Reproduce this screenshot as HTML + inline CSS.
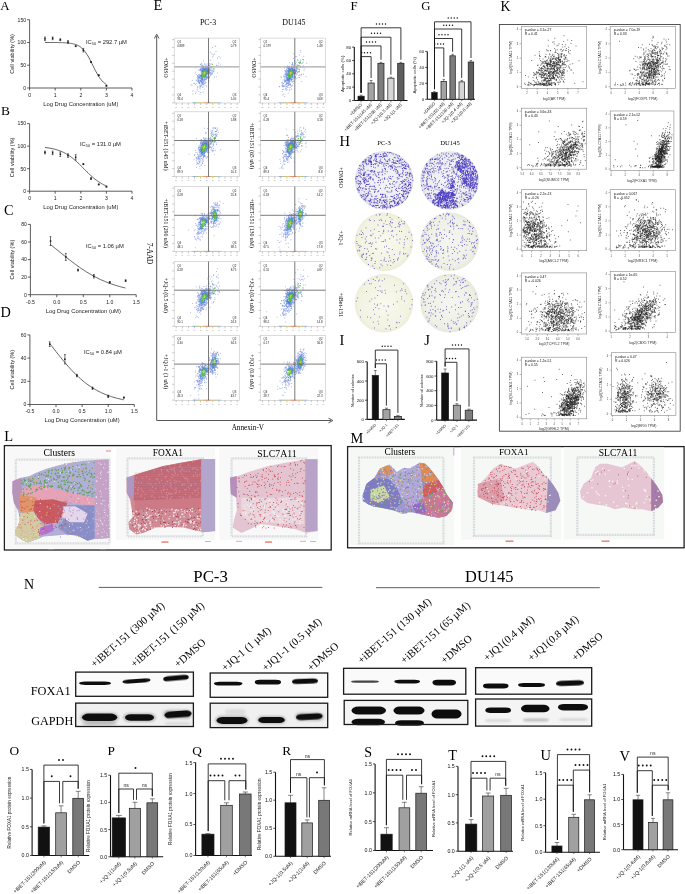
<!DOCTYPE html>
<html><head><meta charset="utf-8"><title>Figure</title>
<style>html,body{margin:0;padding:0;background:#fff;overflow:hidden;width:685px;height:894px}svg{display:block;will-change:transform}</style>
</head><body>
<svg width="685" height="894" viewBox="0 0 685 894"><text x="0.2" y="9.8" font-family='"Liberation Serif", serif' font-size="12.9" fill="#000">A</text>
<line x1="29.6" y1="19.7" x2="29.6" y2="88" stroke="#333" stroke-width="0.8"/>
<line x1="29.6" y1="88" x2="132" y2="88" stroke="#333" stroke-width="0.8"/>
<line x1="27.1" y1="88" x2="29.6" y2="88" stroke="#333" stroke-width="0.8"/>
<text x="26.1" y="89.8" font-family='"Liberation Sans", sans-serif' font-size="5.1" text-anchor="end" fill="#1a1a1a">0</text>
<line x1="27.1" y1="65.2" x2="29.6" y2="65.2" stroke="#333" stroke-width="0.8"/>
<text x="26.1" y="67" font-family='"Liberation Sans", sans-serif' font-size="5.1" text-anchor="end" fill="#1a1a1a">50</text>
<line x1="27.1" y1="42.5" x2="29.6" y2="42.5" stroke="#333" stroke-width="0.8"/>
<text x="26.1" y="44.3" font-family='"Liberation Sans", sans-serif' font-size="5.1" text-anchor="end" fill="#1a1a1a">100</text>
<line x1="27.1" y1="19.7" x2="29.6" y2="19.7" stroke="#333" stroke-width="0.8"/>
<text x="26.1" y="21.5" font-family='"Liberation Sans", sans-serif' font-size="5.1" text-anchor="end" fill="#1a1a1a">150</text>
<line x1="29.6" y1="88" x2="29.6" y2="90.5" stroke="#333" stroke-width="0.8"/>
<text x="29.6" y="96.8" font-family='"Liberation Sans", sans-serif' font-size="5.1" text-anchor="middle" fill="#1a1a1a">0</text>
<line x1="55.2" y1="88" x2="55.2" y2="90.5" stroke="#333" stroke-width="0.8"/>
<text x="55.2" y="96.8" font-family='"Liberation Sans", sans-serif' font-size="5.1" text-anchor="middle" fill="#1a1a1a">1</text>
<line x1="80.8" y1="88" x2="80.8" y2="90.5" stroke="#333" stroke-width="0.8"/>
<text x="80.8" y="96.8" font-family='"Liberation Sans", sans-serif' font-size="5.1" text-anchor="middle" fill="#1a1a1a">2</text>
<line x1="106.4" y1="88" x2="106.4" y2="90.5" stroke="#333" stroke-width="0.8"/>
<text x="106.4" y="96.8" font-family='"Liberation Sans", sans-serif' font-size="5.1" text-anchor="middle" fill="#1a1a1a">3</text>
<line x1="132" y1="88" x2="132" y2="90.5" stroke="#333" stroke-width="0.8"/>
<text x="132" y="96.8" font-family='"Liberation Sans", sans-serif' font-size="5.1" text-anchor="middle" fill="#1a1a1a">4</text>
<text x="80.8" y="105.8" font-family='"Liberation Sans", sans-serif' font-size="5.8" text-anchor="middle" fill="#222">Log Drug Concentration (uM)</text>
<text x="13.6" y="53.9" font-family='"Liberation Sans", sans-serif' font-size="5.6" text-anchor="middle" fill="#222" transform="rotate(-90 13.6 53.9)">Cell viability (%)</text>
<polyline points="45,42.5 46,42.5 47,42.5 48,42.5 49.1,42.5 50.1,42.5 51.1,42.5 52.1,42.5 53.2,42.5 54.2,42.5 55.2,42.5 56.2,42.5 57.2,42.5 58.3,42.6 59.3,42.6 60.3,42.6 61.3,42.6 62.4,42.7 63.4,42.7 64.4,42.7 65.4,42.8 66.5,42.9 67.5,42.9 68.5,43 69.5,43.2 70.6,43.3 71.6,43.5 72.6,43.7 73.6,43.9 74.7,44.2 75.7,44.5 76.7,44.9 77.7,45.3 78.8,45.9 79.8,46.5 80.8,47.2 81.8,48.1 82.8,49.1 83.9,50.2 84.9,51.4 85.9,52.8 86.9,54.4 88,56 89,57.9 90,59.8 91,61.8 92.1,63.9 93.1,66 94.1,68 95.1,70.1 96.2,72 97.2,73.9 98.2,75.6 99.2,77.2 100.3,78.7 101.3,79.9 102.3,81.1 103.3,82.1 104.4,83 105.4,83.8 106.4,84.4" fill="none" stroke="#222" stroke-width="0.7"/>
<rect x="44.2" y="38.1" width="1.5" height="1.5" fill="#111"/>
<line x1="45" y1="40.6" x2="45" y2="37" stroke="#222" stroke-width="0.65"/>
<line x1="44.1" y1="37" x2="45.9" y2="37" stroke="#222" stroke-width="0.65"/>
<line x1="44.1" y1="40.6" x2="45.9" y2="40.6" stroke="#222" stroke-width="0.65"/>
<rect x="51.9" y="37.6" width="1.5" height="1.5" fill="#111"/>
<line x1="52.6" y1="39.7" x2="52.6" y2="37" stroke="#222" stroke-width="0.65"/>
<line x1="51.7" y1="37" x2="53.5" y2="37" stroke="#222" stroke-width="0.65"/>
<line x1="51.7" y1="39.7" x2="53.5" y2="39.7" stroke="#222" stroke-width="0.65"/>
<rect x="59.6" y="39" width="1.5" height="1.5" fill="#111"/>
<line x1="60.3" y1="40.6" x2="60.3" y2="38.8" stroke="#222" stroke-width="0.65"/>
<line x1="59.4" y1="38.8" x2="61.2" y2="38.8" stroke="#222" stroke-width="0.65"/>
<line x1="59.4" y1="40.6" x2="61.2" y2="40.6" stroke="#222" stroke-width="0.65"/>
<rect x="67.2" y="41.3" width="1.5" height="1.5" fill="#111"/>
<line x1="68" y1="43.4" x2="68" y2="40.6" stroke="#222" stroke-width="0.65"/>
<line x1="67.1" y1="40.6" x2="68.9" y2="40.6" stroke="#222" stroke-width="0.65"/>
<line x1="67.1" y1="43.4" x2="68.9" y2="43.4" stroke="#222" stroke-width="0.65"/>
<rect x="74.9" y="45.4" width="1.5" height="1.5" fill="#111"/>
<line x1="75.7" y1="46.6" x2="75.7" y2="45.7" stroke="#222" stroke-width="0.65"/>
<line x1="74.8" y1="45.7" x2="76.6" y2="45.7" stroke="#222" stroke-width="0.65"/>
<line x1="74.8" y1="46.6" x2="76.6" y2="46.6" stroke="#222" stroke-width="0.65"/>
<rect x="82.6" y="49.5" width="1.5" height="1.5" fill="#111"/>
<line x1="83.4" y1="52" x2="83.4" y2="48.4" stroke="#222" stroke-width="0.65"/>
<line x1="82.5" y1="48.4" x2="84.3" y2="48.4" stroke="#222" stroke-width="0.65"/>
<line x1="82.5" y1="52" x2="84.3" y2="52" stroke="#222" stroke-width="0.65"/>
<rect x="90.3" y="61.3" width="1.5" height="1.5" fill="#111"/>
<line x1="91" y1="62.5" x2="91" y2="61.6" stroke="#222" stroke-width="0.65"/>
<line x1="90.1" y1="61.6" x2="91.9" y2="61.6" stroke="#222" stroke-width="0.65"/>
<line x1="90.1" y1="62.5" x2="91.9" y2="62.5" stroke="#222" stroke-width="0.65"/>
<rect x="98" y="74.5" width="1.5" height="1.5" fill="#111"/>
<line x1="98.7" y1="75.7" x2="98.7" y2="74.8" stroke="#222" stroke-width="0.65"/>
<line x1="97.8" y1="74.8" x2="99.6" y2="74.8" stroke="#222" stroke-width="0.65"/>
<line x1="97.8" y1="75.7" x2="99.6" y2="75.7" stroke="#222" stroke-width="0.65"/>
<rect x="105.7" y="85" width="1.5" height="1.5" fill="#111"/>
<line x1="106.4" y1="86.2" x2="106.4" y2="85.3" stroke="#222" stroke-width="0.65"/>
<line x1="105.5" y1="85.3" x2="107.3" y2="85.3" stroke="#222" stroke-width="0.65"/>
<line x1="105.5" y1="86.2" x2="107.3" y2="86.2" stroke="#222" stroke-width="0.65"/>
<text x="86" y="43.5" font-family='"Liberation Sans", sans-serif' font-size="5.8" fill="#222">IC<tspan font-size="3.8" dy="1.3">50</tspan><tspan dy="-1.3"> = 292.7 µM</tspan></text>
<text x="1" y="114.7" font-family='"Liberation Serif", serif' font-size="13.4" fill="#000">B</text>
<line x1="29.6" y1="123.6" x2="29.6" y2="191.2" stroke="#333" stroke-width="0.8"/>
<line x1="29.6" y1="191.2" x2="132" y2="191.2" stroke="#333" stroke-width="0.8"/>
<line x1="27.1" y1="191.2" x2="29.6" y2="191.2" stroke="#333" stroke-width="0.8"/>
<text x="26.1" y="193" font-family='"Liberation Sans", sans-serif' font-size="5.1" text-anchor="end" fill="#1a1a1a">0</text>
<line x1="27.1" y1="168.7" x2="29.6" y2="168.7" stroke="#333" stroke-width="0.8"/>
<text x="26.1" y="170.5" font-family='"Liberation Sans", sans-serif' font-size="5.1" text-anchor="end" fill="#1a1a1a">50</text>
<line x1="27.1" y1="146.1" x2="29.6" y2="146.1" stroke="#333" stroke-width="0.8"/>
<text x="26.1" y="147.9" font-family='"Liberation Sans", sans-serif' font-size="5.1" text-anchor="end" fill="#1a1a1a">100</text>
<line x1="27.1" y1="123.6" x2="29.6" y2="123.6" stroke="#333" stroke-width="0.8"/>
<text x="26.1" y="125.4" font-family='"Liberation Sans", sans-serif' font-size="5.1" text-anchor="end" fill="#1a1a1a">150</text>
<line x1="29.6" y1="191.2" x2="29.6" y2="193.7" stroke="#333" stroke-width="0.8"/>
<text x="29.6" y="200" font-family='"Liberation Sans", sans-serif' font-size="5.1" text-anchor="middle" fill="#1a1a1a">0</text>
<line x1="55.2" y1="191.2" x2="55.2" y2="193.7" stroke="#333" stroke-width="0.8"/>
<text x="55.2" y="200" font-family='"Liberation Sans", sans-serif' font-size="5.1" text-anchor="middle" fill="#1a1a1a">1</text>
<line x1="80.8" y1="191.2" x2="80.8" y2="193.7" stroke="#333" stroke-width="0.8"/>
<text x="80.8" y="200" font-family='"Liberation Sans", sans-serif' font-size="5.1" text-anchor="middle" fill="#1a1a1a">2</text>
<line x1="106.4" y1="191.2" x2="106.4" y2="193.7" stroke="#333" stroke-width="0.8"/>
<text x="106.4" y="200" font-family='"Liberation Sans", sans-serif' font-size="5.1" text-anchor="middle" fill="#1a1a1a">3</text>
<line x1="132" y1="191.2" x2="132" y2="193.7" stroke="#333" stroke-width="0.8"/>
<text x="132" y="200" font-family='"Liberation Sans", sans-serif' font-size="5.1" text-anchor="middle" fill="#1a1a1a">4</text>
<text x="80.8" y="209" font-family='"Liberation Sans", sans-serif' font-size="5.8" text-anchor="middle" fill="#222">Log Drug Concentration (uM)</text>
<text x="13.6" y="157.4" font-family='"Liberation Sans", sans-serif' font-size="5.6" text-anchor="middle" fill="#222" transform="rotate(-90 13.6 157.4)">Cell viability (%)</text>
<polyline points="45,147.5 46,147.6 47,147.7 48,147.9 49.1,148 50.1,148.2 51.1,148.4 52.1,148.6 53.2,148.8 54.2,149.1 55.2,149.3 56.2,149.6 57.2,149.9 58.3,150.3 59.3,150.6 60.3,151 61.3,151.4 62.4,151.9 63.4,152.3 64.4,152.8 65.4,153.4 66.5,154 67.5,154.6 68.5,155.2 69.5,155.9 70.6,156.6 71.6,157.4 72.6,158.2 73.6,159 74.7,159.9 75.7,160.8 76.7,161.7 77.7,162.7 78.8,163.6 79.8,164.6 80.8,165.6 81.8,166.7 82.8,167.7 83.9,168.7 84.9,169.8 85.9,170.8 86.9,171.8 88,172.8 89,173.8 90,174.8 91,175.8 92.1,176.7 93.1,177.6 94.1,178.4 95.1,179.3 96.2,180 97.2,180.8 98.2,181.5 99.2,182.2 100.3,182.8 101.3,183.5 102.3,184 103.3,184.6 104.4,185.1 105.4,185.5 106.4,186" fill="none" stroke="#222" stroke-width="0.7"/>
<rect x="44.2" y="151.7" width="1.5" height="1.5" fill="#111"/>
<line x1="45" y1="153.8" x2="45" y2="151.1" stroke="#222" stroke-width="0.65"/>
<line x1="44.1" y1="151.1" x2="45.9" y2="151.1" stroke="#222" stroke-width="0.65"/>
<line x1="44.1" y1="153.8" x2="45.9" y2="153.8" stroke="#222" stroke-width="0.65"/>
<rect x="51.9" y="152.1" width="1.5" height="1.5" fill="#111"/>
<line x1="52.6" y1="154.7" x2="52.6" y2="151.1" stroke="#222" stroke-width="0.65"/>
<line x1="51.7" y1="151.1" x2="53.5" y2="151.1" stroke="#222" stroke-width="0.65"/>
<line x1="51.7" y1="154.7" x2="53.5" y2="154.7" stroke="#222" stroke-width="0.65"/>
<rect x="59.6" y="153.5" width="1.5" height="1.5" fill="#111"/>
<line x1="60.3" y1="156.5" x2="60.3" y2="152" stroke="#222" stroke-width="0.65"/>
<line x1="59.4" y1="152" x2="61.2" y2="152" stroke="#222" stroke-width="0.65"/>
<line x1="59.4" y1="156.5" x2="61.2" y2="156.5" stroke="#222" stroke-width="0.65"/>
<rect x="67.2" y="154.8" width="1.5" height="1.5" fill="#111"/>
<line x1="68" y1="157.4" x2="68" y2="153.8" stroke="#222" stroke-width="0.65"/>
<line x1="67.1" y1="153.8" x2="68.9" y2="153.8" stroke="#222" stroke-width="0.65"/>
<line x1="67.1" y1="157.4" x2="68.9" y2="157.4" stroke="#222" stroke-width="0.65"/>
<rect x="74.9" y="156.6" width="1.5" height="1.5" fill="#111"/>
<line x1="75.7" y1="160.1" x2="75.7" y2="154.7" stroke="#222" stroke-width="0.65"/>
<line x1="74.8" y1="154.7" x2="76.6" y2="154.7" stroke="#222" stroke-width="0.65"/>
<line x1="74.8" y1="160.1" x2="76.6" y2="160.1" stroke="#222" stroke-width="0.65"/>
<rect x="82.6" y="163.4" width="1.5" height="1.5" fill="#111"/>
<line x1="83.4" y1="164.6" x2="83.4" y2="163.7" stroke="#222" stroke-width="0.65"/>
<line x1="82.5" y1="163.7" x2="84.3" y2="163.7" stroke="#222" stroke-width="0.65"/>
<line x1="82.5" y1="164.6" x2="84.3" y2="164.6" stroke="#222" stroke-width="0.65"/>
<rect x="90.3" y="177.8" width="1.5" height="1.5" fill="#111"/>
<line x1="91" y1="179.5" x2="91" y2="177.7" stroke="#222" stroke-width="0.65"/>
<line x1="90.1" y1="177.7" x2="91.9" y2="177.7" stroke="#222" stroke-width="0.65"/>
<line x1="90.1" y1="179.5" x2="91.9" y2="179.5" stroke="#222" stroke-width="0.65"/>
<rect x="98" y="183.7" width="1.5" height="1.5" fill="#111"/>
<line x1="98.7" y1="184.9" x2="98.7" y2="184" stroke="#222" stroke-width="0.65"/>
<line x1="97.8" y1="184" x2="99.6" y2="184" stroke="#222" stroke-width="0.65"/>
<line x1="97.8" y1="184.9" x2="99.6" y2="184.9" stroke="#222" stroke-width="0.65"/>
<rect x="105.7" y="185.9" width="1.5" height="1.5" fill="#111"/>
<line x1="106.4" y1="187.1" x2="106.4" y2="186.2" stroke="#222" stroke-width="0.65"/>
<line x1="105.5" y1="186.2" x2="107.3" y2="186.2" stroke="#222" stroke-width="0.65"/>
<line x1="105.5" y1="187.1" x2="107.3" y2="187.1" stroke="#222" stroke-width="0.65"/>
<text x="80" y="145.8" font-family='"Liberation Sans", sans-serif' font-size="5.8" fill="#222">IC<tspan font-size="3.8" dy="1.3">50</tspan><tspan dy="-1.3"> = 131.0 µM</tspan></text>
<text x="3.9" y="214.6" font-family='"Liberation Serif", serif' font-size="14.3" fill="#000">C</text>
<line x1="30.4" y1="224.4" x2="30.4" y2="294.7" stroke="#333" stroke-width="0.8"/>
<line x1="30.4" y1="294.7" x2="136.2" y2="294.7" stroke="#333" stroke-width="0.8"/>
<line x1="27.9" y1="294.7" x2="30.4" y2="294.7" stroke="#333" stroke-width="0.8"/>
<text x="26.9" y="296.5" font-family='"Liberation Sans", sans-serif' font-size="5.1" text-anchor="end" fill="#1a1a1a">0</text>
<line x1="27.9" y1="277.1" x2="30.4" y2="277.1" stroke="#333" stroke-width="0.8"/>
<text x="26.9" y="278.9" font-family='"Liberation Sans", sans-serif' font-size="5.1" text-anchor="end" fill="#1a1a1a">20</text>
<line x1="27.9" y1="259.6" x2="30.4" y2="259.6" stroke="#333" stroke-width="0.8"/>
<text x="26.9" y="261.4" font-family='"Liberation Sans", sans-serif' font-size="5.1" text-anchor="end" fill="#1a1a1a">40</text>
<line x1="27.9" y1="242" x2="30.4" y2="242" stroke="#333" stroke-width="0.8"/>
<text x="26.9" y="243.8" font-family='"Liberation Sans", sans-serif' font-size="5.1" text-anchor="end" fill="#1a1a1a">60</text>
<line x1="27.9" y1="224.4" x2="30.4" y2="224.4" stroke="#333" stroke-width="0.8"/>
<text x="26.9" y="226.2" font-family='"Liberation Sans", sans-serif' font-size="5.1" text-anchor="end" fill="#1a1a1a">80</text>
<line x1="30.4" y1="294.7" x2="30.4" y2="297.2" stroke="#333" stroke-width="0.8"/>
<text x="30.4" y="303.5" font-family='"Liberation Sans", sans-serif' font-size="5.1" text-anchor="middle" fill="#1a1a1a">-0.5</text>
<line x1="56.8" y1="294.7" x2="56.8" y2="297.2" stroke="#333" stroke-width="0.8"/>
<text x="56.8" y="303.5" font-family='"Liberation Sans", sans-serif' font-size="5.1" text-anchor="middle" fill="#1a1a1a">0.0</text>
<line x1="83.3" y1="294.7" x2="83.3" y2="297.2" stroke="#333" stroke-width="0.8"/>
<text x="83.3" y="303.5" font-family='"Liberation Sans", sans-serif' font-size="5.1" text-anchor="middle" fill="#1a1a1a">0.5</text>
<line x1="109.8" y1="294.7" x2="109.8" y2="297.2" stroke="#333" stroke-width="0.8"/>
<text x="109.8" y="303.5" font-family='"Liberation Sans", sans-serif' font-size="5.1" text-anchor="middle" fill="#1a1a1a">1.0</text>
<line x1="136.2" y1="294.7" x2="136.2" y2="297.2" stroke="#333" stroke-width="0.8"/>
<text x="136.2" y="303.5" font-family='"Liberation Sans", sans-serif' font-size="5.1" text-anchor="middle" fill="#1a1a1a">1.5</text>
<text x="83.3" y="312.5" font-family='"Liberation Sans", sans-serif' font-size="5.8" text-anchor="middle" fill="#222">Log Drug Concentration (uM)</text>
<text x="14.4" y="259.6" font-family='"Liberation Sans", sans-serif' font-size="5.6" text-anchor="middle" fill="#222" transform="rotate(-90 14.4 259.6)">Cell viability (%)</text>
<polyline points="50.5,244.6 51.8,245.6 53,246.6 54.3,247.6 55.5,248.6 56.8,249.6 58,250.6 59.3,251.7 60.5,252.7 61.8,253.7 63,254.7 64.3,255.7 65.5,256.7 66.8,257.7 68,258.7 69.3,259.7 70.5,260.6 71.8,261.6 73,262.5 74.3,263.5 75.5,264.4 76.8,265.3 78,266.2 79.3,267.1 80.5,268 81.8,268.8 83.1,269.7 84.3,270.5 85.6,271.3 86.8,272.1 88.1,272.8 89.3,273.6 90.6,274.3 91.8,275.1 93.1,275.7 94.3,276.4 95.6,277.1 96.8,277.7 98.1,278.4 99.3,279 100.6,279.6 101.8,280.1 103.1,280.7 104.3,281.2 105.6,281.7 106.8,282.2 108.1,282.7 109.3,283.2 110.6,283.7 111.8,284.1 113.1,284.5 114.4,284.9 115.6,285.3 116.9,285.7 118.1,286.1 119.4,286.4 120.6,286.8 121.9,287.1 123.1,287.4 124.4,287.7 125.6,288" fill="none" stroke="#222" stroke-width="0.7"/>
<rect x="49.8" y="240.3" width="1.5" height="1.5" fill="#111"/>
<line x1="50.5" y1="245.5" x2="50.5" y2="236.7" stroke="#222" stroke-width="0.65"/>
<line x1="49.6" y1="236.7" x2="51.4" y2="236.7" stroke="#222" stroke-width="0.65"/>
<line x1="49.6" y1="245.5" x2="51.4" y2="245.5" stroke="#222" stroke-width="0.65"/>
<rect x="65.1" y="256.2" width="1.5" height="1.5" fill="#111"/>
<line x1="65.8" y1="260.4" x2="65.8" y2="253.4" stroke="#222" stroke-width="0.65"/>
<line x1="64.9" y1="253.4" x2="66.7" y2="253.4" stroke="#222" stroke-width="0.65"/>
<line x1="64.9" y1="260.4" x2="66.7" y2="260.4" stroke="#222" stroke-width="0.65"/>
<rect x="77.3" y="269.3" width="1.5" height="1.5" fill="#111"/>
<line x1="78" y1="271" x2="78" y2="269.2" stroke="#222" stroke-width="0.65"/>
<line x1="77.1" y1="269.2" x2="78.9" y2="269.2" stroke="#222" stroke-width="0.65"/>
<line x1="77.1" y1="271" x2="78.9" y2="271" stroke="#222" stroke-width="0.65"/>
<rect x="93.1" y="275.5" width="1.5" height="1.5" fill="#111"/>
<line x1="93.9" y1="278" x2="93.9" y2="274.5" stroke="#222" stroke-width="0.65"/>
<line x1="93" y1="274.5" x2="94.8" y2="274.5" stroke="#222" stroke-width="0.65"/>
<line x1="93" y1="278" x2="94.8" y2="278" stroke="#222" stroke-width="0.65"/>
<rect x="109" y="281.6" width="1.5" height="1.5" fill="#111"/>
<line x1="109.8" y1="283.3" x2="109.8" y2="281.5" stroke="#222" stroke-width="0.65"/>
<line x1="108.8" y1="281.5" x2="110.7" y2="281.5" stroke="#222" stroke-width="0.65"/>
<line x1="108.8" y1="283.3" x2="110.7" y2="283.3" stroke="#222" stroke-width="0.65"/>
<rect x="124.9" y="279.9" width="1.5" height="1.5" fill="#111"/>
<line x1="125.6" y1="281.5" x2="125.6" y2="279.8" stroke="#222" stroke-width="0.65"/>
<line x1="124.7" y1="279.8" x2="126.5" y2="279.8" stroke="#222" stroke-width="0.65"/>
<line x1="124.7" y1="281.5" x2="126.5" y2="281.5" stroke="#222" stroke-width="0.65"/>
<text x="86" y="247.5" font-family='"Liberation Sans", sans-serif' font-size="5.8" fill="#222">IC<tspan font-size="3.8" dy="1.3">50</tspan><tspan dy="-1.3"> = 1.06 µM</tspan></text>
<text x="0.6" y="316.6" font-family='"Liberation Serif", serif' font-size="14.3" fill="#000">D</text>
<line x1="29.9" y1="334.9" x2="29.9" y2="404.5" stroke="#333" stroke-width="0.8"/>
<line x1="29.9" y1="404.5" x2="134.3" y2="404.5" stroke="#333" stroke-width="0.8"/>
<line x1="27.4" y1="404.5" x2="29.9" y2="404.5" stroke="#333" stroke-width="0.8"/>
<text x="26.4" y="406.3" font-family='"Liberation Sans", sans-serif' font-size="5.1" text-anchor="end" fill="#1a1a1a">0</text>
<line x1="27.4" y1="381.3" x2="29.9" y2="381.3" stroke="#333" stroke-width="0.8"/>
<text x="26.4" y="383.1" font-family='"Liberation Sans", sans-serif' font-size="5.1" text-anchor="end" fill="#1a1a1a">20</text>
<line x1="27.4" y1="358.1" x2="29.9" y2="358.1" stroke="#333" stroke-width="0.8"/>
<text x="26.4" y="359.9" font-family='"Liberation Sans", sans-serif' font-size="5.1" text-anchor="end" fill="#1a1a1a">40</text>
<line x1="27.4" y1="334.9" x2="29.9" y2="334.9" stroke="#333" stroke-width="0.8"/>
<text x="26.4" y="336.7" font-family='"Liberation Sans", sans-serif' font-size="5.1" text-anchor="end" fill="#1a1a1a">60</text>
<line x1="29.9" y1="404.5" x2="29.9" y2="407" stroke="#333" stroke-width="0.8"/>
<text x="29.9" y="413.3" font-family='"Liberation Sans", sans-serif' font-size="5.1" text-anchor="middle" fill="#1a1a1a">-0.5</text>
<line x1="56" y1="404.5" x2="56" y2="407" stroke="#333" stroke-width="0.8"/>
<text x="56" y="413.3" font-family='"Liberation Sans", sans-serif' font-size="5.1" text-anchor="middle" fill="#1a1a1a">0.0</text>
<line x1="82.1" y1="404.5" x2="82.1" y2="407" stroke="#333" stroke-width="0.8"/>
<text x="82.1" y="413.3" font-family='"Liberation Sans", sans-serif' font-size="5.1" text-anchor="middle" fill="#1a1a1a">0.5</text>
<line x1="108.2" y1="404.5" x2="108.2" y2="407" stroke="#333" stroke-width="0.8"/>
<text x="108.2" y="413.3" font-family='"Liberation Sans", sans-serif' font-size="5.1" text-anchor="middle" fill="#1a1a1a">1.0</text>
<line x1="134.3" y1="404.5" x2="134.3" y2="407" stroke="#333" stroke-width="0.8"/>
<text x="134.3" y="413.3" font-family='"Liberation Sans", sans-serif' font-size="5.1" text-anchor="middle" fill="#1a1a1a">1.5</text>
<text x="82.1" y="422.3" font-family='"Liberation Sans", sans-serif' font-size="5.8" text-anchor="middle" fill="#222">Log Drug Concentration (uM)</text>
<text x="13.9" y="369.7" font-family='"Liberation Sans", sans-serif' font-size="5.6" text-anchor="middle" fill="#222" transform="rotate(-90 13.9 369.7)">Cell viability (%)</text>
<polyline points="49.7,343.6 51,345.1 52.2,346.7 53.4,348.3 54.7,349.9 55.9,351.5 57.1,353 58.4,354.6 59.6,356.1 60.9,357.6 62.1,359.2 63.3,360.7 64.6,362.1 65.8,363.6 67,365 68.3,366.4 69.5,367.8 70.7,369.2 72,370.5 73.2,371.8 74.4,373 75.7,374.3 76.9,375.5 78.2,376.6 79.4,377.8 80.6,378.9 81.9,380 83.1,381 84.3,382 85.6,383 86.8,383.9 88,384.8 89.3,385.7 90.5,386.5 91.7,387.3 93,388.1 94.2,388.9 95.4,389.6 96.7,390.3 97.9,391 99.2,391.6 100.4,392.2 101.6,392.8 102.9,393.4 104.1,393.9 105.3,394.4 106.6,394.9 107.8,395.4 109,395.8 110.3,396.2 111.5,396.7 112.7,397 114,397.4 115.2,397.8 116.4,398.1 117.7,398.4 118.9,398.7 120.2,399 121.4,399.3 122.6,399.6 123.9,399.8" fill="none" stroke="#222" stroke-width="0.7"/>
<rect x="49" y="343.4" width="1.5" height="1.5" fill="#111"/>
<line x1="49.7" y1="346.5" x2="49.7" y2="341.9" stroke="#222" stroke-width="0.65"/>
<line x1="48.8" y1="341.9" x2="50.6" y2="341.9" stroke="#222" stroke-width="0.65"/>
<line x1="48.8" y1="346.5" x2="50.6" y2="346.5" stroke="#222" stroke-width="0.65"/>
<rect x="64.1" y="358.5" width="1.5" height="1.5" fill="#111"/>
<line x1="64.9" y1="363.9" x2="64.9" y2="354.6" stroke="#222" stroke-width="0.65"/>
<line x1="64" y1="354.6" x2="65.8" y2="354.6" stroke="#222" stroke-width="0.65"/>
<line x1="64" y1="363.9" x2="65.8" y2="363.9" stroke="#222" stroke-width="0.65"/>
<rect x="76.1" y="374.8" width="1.5" height="1.5" fill="#111"/>
<line x1="76.9" y1="376.7" x2="76.9" y2="374.3" stroke="#222" stroke-width="0.65"/>
<line x1="76" y1="374.3" x2="77.8" y2="374.3" stroke="#222" stroke-width="0.65"/>
<line x1="76" y1="376.7" x2="77.8" y2="376.7" stroke="#222" stroke-width="0.65"/>
<rect x="91.8" y="387.5" width="1.5" height="1.5" fill="#111"/>
<line x1="92.5" y1="389.4" x2="92.5" y2="387.1" stroke="#222" stroke-width="0.65"/>
<line x1="91.6" y1="387.1" x2="93.4" y2="387.1" stroke="#222" stroke-width="0.65"/>
<line x1="91.6" y1="389.4" x2="93.4" y2="389.4" stroke="#222" stroke-width="0.65"/>
<rect x="107.5" y="395.6" width="1.5" height="1.5" fill="#111"/>
<line x1="108.2" y1="397.5" x2="108.2" y2="395.2" stroke="#222" stroke-width="0.65"/>
<line x1="107.3" y1="395.2" x2="109.1" y2="395.2" stroke="#222" stroke-width="0.65"/>
<line x1="107.3" y1="397.5" x2="109.1" y2="397.5" stroke="#222" stroke-width="0.65"/>
<rect x="123.1" y="396.8" width="1.5" height="1.5" fill="#111"/>
<line x1="123.9" y1="398.1" x2="123.9" y2="397" stroke="#222" stroke-width="0.65"/>
<line x1="123" y1="397" x2="124.8" y2="397" stroke="#222" stroke-width="0.65"/>
<line x1="123" y1="398.1" x2="124.8" y2="398.1" stroke="#222" stroke-width="0.65"/>
<text x="84" y="354" font-family='"Liberation Sans", sans-serif' font-size="5.8" fill="#222">IC<tspan font-size="3.8" dy="1.3">50</tspan><tspan dy="-1.3"> = 0.84 µM</tspan></text>
<text x="153.6" y="9.5" font-family='"Liberation Serif", serif' font-size="14.5" fill="#000">E</text>
<text x="208.1" y="24.6" font-family='"Liberation Serif", serif' font-size="7.9" text-anchor="middle" fill="#000">PC-3</text>
<text x="293.9" y="24.6" font-family='"Liberation Serif", serif' font-size="7.9" text-anchor="middle" fill="#000">DU145</text>
<line x1="156.7" y1="36" x2="156.7" y2="420.5" stroke="#444" stroke-width="0.9"/>
<polyline points="154.4,38.5 156.7,34.2 159,38.5" fill="none" stroke="#444" stroke-width="0.9"/>
<line x1="156.7" y1="420.5" x2="331" y2="420.5" stroke="#444" stroke-width="0.9"/>
<polyline points="328.5,418.2 332.8,420.5 328.5,422.8" fill="none" stroke="#444" stroke-width="0.9"/>
<text x="247.8" y="429.9" font-family='"Liberation Serif", serif' font-size="7.2" text-anchor="middle" fill="#000">Annexin-V</text>
<text x="147.2" y="253.5" font-family='"Liberation Serif", serif' font-size="7.2" text-anchor="middle" fill="#000" transform="rotate(90 147.2 253.5)">7-AAD</text>
<rect x="174.2" y="38.1" width="65.1" height="64.9" fill="#fff" stroke="#c4c4c4" stroke-width="0.6"/>
<line x1="172.2" y1="39.6" x2="174.2" y2="39.6" stroke="#777" stroke-width="0.4"/>
<line x1="172.2" y1="47.5" x2="174.2" y2="47.5" stroke="#777" stroke-width="0.4"/>
<line x1="172.2" y1="55.4" x2="174.2" y2="55.4" stroke="#777" stroke-width="0.4"/>
<line x1="172.2" y1="63.3" x2="174.2" y2="63.3" stroke="#777" stroke-width="0.4"/>
<line x1="172.2" y1="71.2" x2="174.2" y2="71.2" stroke="#777" stroke-width="0.4"/>
<line x1="172.2" y1="79.1" x2="174.2" y2="79.1" stroke="#777" stroke-width="0.4"/>
<line x1="172.2" y1="87" x2="174.2" y2="87" stroke="#777" stroke-width="0.4"/>
<line x1="172.2" y1="94.9" x2="174.2" y2="94.9" stroke="#777" stroke-width="0.4"/>
<line x1="172.2" y1="102.8" x2="174.2" y2="102.8" stroke="#777" stroke-width="0.4"/>
<line x1="176.2" y1="103" x2="176.2" y2="105" stroke="#777" stroke-width="0.4"/>
<text x="176.2" y="107.5" font-family='"Liberation Sans", sans-serif' font-size="1.6" text-anchor="middle" fill="#888">10</text>
<line x1="182.3" y1="103" x2="182.3" y2="105" stroke="#777" stroke-width="0.4"/>
<text x="182.3" y="107.5" font-family='"Liberation Sans", sans-serif' font-size="1.6" text-anchor="middle" fill="#888">10</text>
<line x1="188.4" y1="103" x2="188.4" y2="105" stroke="#777" stroke-width="0.4"/>
<text x="188.4" y="107.5" font-family='"Liberation Sans", sans-serif' font-size="1.6" text-anchor="middle" fill="#888">10</text>
<line x1="194.5" y1="103" x2="194.5" y2="105" stroke="#777" stroke-width="0.4"/>
<text x="194.5" y="107.5" font-family='"Liberation Sans", sans-serif' font-size="1.6" text-anchor="middle" fill="#888">10</text>
<line x1="200.6" y1="103" x2="200.6" y2="105" stroke="#777" stroke-width="0.4"/>
<text x="200.6" y="107.5" font-family='"Liberation Sans", sans-serif' font-size="1.6" text-anchor="middle" fill="#888">10</text>
<line x1="206.7" y1="103" x2="206.7" y2="105" stroke="#777" stroke-width="0.4"/>
<text x="206.7" y="107.5" font-family='"Liberation Sans", sans-serif' font-size="1.6" text-anchor="middle" fill="#888">10</text>
<line x1="212.8" y1="103" x2="212.8" y2="105" stroke="#777" stroke-width="0.4"/>
<text x="212.8" y="107.5" font-family='"Liberation Sans", sans-serif' font-size="1.6" text-anchor="middle" fill="#888">10</text>
<line x1="218.9" y1="103" x2="218.9" y2="105" stroke="#777" stroke-width="0.4"/>
<text x="218.9" y="107.5" font-family='"Liberation Sans", sans-serif' font-size="1.6" text-anchor="middle" fill="#888">10</text>
<line x1="225" y1="103" x2="225" y2="105" stroke="#777" stroke-width="0.4"/>
<text x="225" y="107.5" font-family='"Liberation Sans", sans-serif' font-size="1.6" text-anchor="middle" fill="#888">10</text>
<line x1="231.1" y1="103" x2="231.1" y2="105" stroke="#777" stroke-width="0.4"/>
<text x="231.1" y="107.5" font-family='"Liberation Sans", sans-serif' font-size="1.6" text-anchor="middle" fill="#888">10</text>
<line x1="237.2" y1="103" x2="237.2" y2="105" stroke="#777" stroke-width="0.4"/>
<text x="237.2" y="107.5" font-family='"Liberation Sans", sans-serif' font-size="1.6" text-anchor="middle" fill="#888">10</text>
<rect x="192.5" y="102.4" width="3.6" height="0.8" fill="#8aa8e0"/>
<rect x="196.1" y="102.4" width="3.6" height="0.8" fill="#a8c070"/>
<rect x="199.7" y="102.4" width="3.6" height="0.8" fill="#e0c060"/>
<rect x="203.3" y="102.4" width="3.6" height="0.8" fill="#e88a60"/>
<rect x="206.9" y="102.4" width="3.6" height="0.8" fill="#e07060"/>
<rect x="210.5" y="102.4" width="3.6" height="0.8" fill="#e8b060"/>
<rect x="214.1" y="102.4" width="3.6" height="0.8" fill="#a8c870"/>
<rect x="217.7" y="102.4" width="3.6" height="0.8" fill="#9ab8e8"/>
<path transform="scale(.25)" d="M863 186h0m-3-2h0m-10 6h0m-9 19h0m6 6h0m17-9h0m17 27h0m-5-7h0m-6 6h0m-12-16h0m-4 8h0m-2-6h0m-2 10h0m-48 30h0m2-1h0m1 3h0m1-7h0m4 8h0m4-17h0m3 15h0m1-4h0m5 7h0m1-5h0m4 6h0m1-7h0m5 3h0m2 2h0m0-20h0m3 13h0m0 6h0m2 0h0m2-19h0m24 21h0m0-1h0m8 2h0m0-11h0m8 5h0m-28 27h0m-7-1h0m0-1h0m-2-11h0m-2 1h0m0 7h0m-3-8h0m0 11h0m0-10h0m-1 8h0m-1 4h0m0-5h0m-1 6h0m0-5h0m0-7h0m-1 0h0m0 12h0m0-5h0m-1-11h0m0 9h0m0 4h0m-1 2h0m0-14h0m0 8h0m0 9h0m0-23h0m-1 9h0m0 11h0m0-19h0m-1 10h0m0 9h0m0-5h0m0 4h0m-1-13h0m0 3h0m0 13h0m0-19h0m-1 16h0m0-5h0m0-5h0m0-5h0m0 9h0m0 9h0m0-1h0m0-1h0m-1-8h0m0-1h0m0 2h0m0 4h0m0-14h0m-1 16h0m0-10h0m0 9h0m0-5h0m0 4h0m0-2h0m-1-7h0m0 4h0m0 4h0m0-1h0m-1 0h0m-1-1h0m0-1h0m0-10h0m0-1h0m0 9h0m-1-3h0m-1-3h0m0 4h0m0 4h0m0-5h0m0 4h0m-1-7h0m0 4h0m0 2h0m-1 0h0m0-5h0m-1 0h0m-1 3h0m-1 3h0m-1-4h0m-1 4h0m-1-2h0m0-10h0m0 8h0m-1 6h0m0-2h0m0-10h0m0 8h0m-1-5h0m0 4h0m-1 2h0m0-5h0m0-5h0m0 9h0m-1 0h0m-1 2h0m0 4h0m0-1h0m0-5h0m0 4h0m0-6h0m-1-3h0m0 9h0m-1 6h0m0-19h0m0 4h0m-1 10h0m0-5h0m0-5h0m0-5h0m-1 23h0m0-7h0m-1 1h0m0 3h0m0-20h0m0 9h0m0 9h0m-2-5h0m-1 2h0m0-1h0m0-5h0m-1 10h0m-1 0h0m0-7h0m-1 0h0m0 3h0m-3 3h0m-5-3h0m-8-8h0m-2 18h0m3 9h0m5 4h0m0 3h0m2 4h0m0 2h0m0-5h0m2 1h0m1-4h0m0-5h0m1 11h0m1-1h0m0 2h0m1 0h0m0-9h0m1 4h0m0 3h0m1-11h0m0 4h0m1 0h0m1 6h0m0-5h0m0 9h0m0-6h0m0-1h0m2-12h0m2-3h0m17 22h0m1 0h0m0-3h0m2-5h0m1 4h0m0 4h0m0-10h0m0 4h0m1 6h0m0-1h0m1-3h0m0 2h0m0-16h0m1 1h0m0 17h0m0-23h0m0 9h0m1-2h0m0-1h0m1-2h0m0-2h0m1 5h0m0 7h0m0 9h0m0-5h0m1-10h0m0-7h0m1 1h0m0-1h0m0 21h0m0-14h0m1-7h0m0 2h0m1 20h0m0-5h0m0-11h0m0-5h0m1 4h0m1 17h0m1-21h0m0 13h0m2-6h0m0 4h0m0-10h0m1 1h0m1 3h0m1-7h0m0 6h0m0 4h0m4-2h0m1-3h0m8 16h0m7-2h0m5-15h0m-34 29h0m-1 4h0m-1-11h0m0 16h0m-5-17h0m-4 4h0m0-2h0m-1 15h0m0-14h0m-1 4h0m0-2h0m-2 15h0m0-5h0m-1 5h0m0-18h0m-1 1h0m0 9h0m-1-9h0m0 17h0m0-15h0m-1 4h0m0-2h0m-1-1h0m-1 7h0m-1 7h0m0-6h0m-1 2h0m-1 4h0m0-2h0m-1-6h0m-1 10h0m0-3h0m-1-3h0m-1-4h0m-1-1h0m0 9h0m0-6h0m0 3h0m-1 0h0m0-5h0m-1 4h0m0-1h0m0-5h0m-1-1h0m-1 0h0m0 4h0m-1-4h0m0 1h0m-2-10h0m0 13h0m-1-5h0m0 9h0m0-15h0m-1 13h0m0 3h0m0-1h0m0 4h0m-1 1h0m0-2h0m-1-21h0m0 9h0m-1 2h0m0-1h0m-1-5h0m0-5h0m0 17h0m0-6h0m-1 6h0m0-12h0m0 9h0m-2-10h0m0 8h0m-2-11h0m0 12h0m-2-4h0m0 13h0m-3-13h0m-6 13h0m-3 0h0m-6-12h0m-5 18h0m4 1h0m14-3h0m6 18h0m2-10h0m1 4h0m6-7h0m0 9h0m3-7h0m1 11h0m0-7h0m1-6h0m1 3h0m1-9h0m0-1h0m1 9h0m2-3h0m2-6h0m2 13h0m0-11h0m1 0h0m0 11h0m3-11h0m1 5h0m1 14h0m7-16h0m2 6h0m-14 21h0m-9 2h0m-3 7h0m-4-11h0m-7-5h0m-5 7h0m-2 6h0m-10 2h0m-1-12h0" stroke="#6b86dc" stroke-width="2.8" stroke-linecap="round"/>
<path transform="scale(.25)" d="M845 256h0m11 24h0m-1 7h0m-25-1h0m-1 0h0m-1-3h0m0 2h0m-1-1h0m-1 3h0m-1-6h0m-1 2h0m0-1h0m-2-2h0m0 2h0m0-5h0m0 2h0m0 2h0m-1-3h0m-2 3h0m0-3h0m-1 3h0m0-2h0m-1 0h0m0 2h0m0-1h0m0-3h0m-1 3h0m-1 2h0m0-3h0m-1 2h0m-1 3h0m0-2h0m-1 3h0m0-3h0m0 2h0m-1 3h0m0-5h0m-1 4h0m0-3h0m0 2h0m0 2h0m0-3h0m-1 0h0m0 2h0m-5 16h0m1 0h0m0 2h0m1-4h0m0 6h0m0-10h0m0 9h0m1 4h0m0-7h0m0-1h0m0 4h0m1-17h0m0 22h0m0-12h0m0-3h0m3-7h0m5 22h0m2-2h0m1-1h0m1-2h0m1 1h0m0-3h0m0 4h0m1-7h0m0 6h0m1-7h0m1 3h0m0-1h0m1-7h0m1-1h0m0 2h0m0-3h0m0 2h0m0 2h0m0-7h0m1 6h0m0-7h0m0 6h0m1 1h0m0-4h0m2-3h0m19 0h0m-33 25h0m-2 7h0m-3 0h0m0-7h0m0 4h0m-1-4h0m0 7h0m-1-8h0m0 6h0m0 1h0m-1-7h0m-2 5h0m0-1h0m-1-4h0m0 2h0m0 6h0m-1-7h0m0 4h0" stroke="#4a8ad4" stroke-width="3.6" stroke-linecap="round"/>
<path transform="scale(.25)" d="M850 257h0m6 17h0m-4 2h0m-4-9h0m-23 20h0m0-1h0m-1-1h0m-1 1h0m0-2h0m-1 0h0m0 1h0m-1-2h0m0-1h0m0 2h0m-1 3h0m0-1h0m0-3h0m0 2h0m-1-1h0m0 2h0m0-3h0m0 4h0m-2 0h0m-1-2h0m0 1h0m-1 1h0m0-3h0m0 2h0m-1 0h0m-1-1h0m-4 21h0m1-11h0m0 8h0m0-7h0m0 2h0m0 9h0m0-14h0m1 4h0m0 2h0m0 11h0m0-7h0m0 2h0m1 5h0m0-7h0m0-14h0m0 9h0m0 9h0m0-7h0m0 2h0m1 5h0m0-7h0m0 2h0m0 2h0m0-7h0m0-5h0m0 11h0m0-5h0m0-7h0m1 10h0m0-5h0m0-7h0m0 16h0m0-17h0m0 9h0m0-7h0m1 7h0m0 9h0m0-16h0m0 11h0m0 4h0m0-14h0m0 9h0m1 1h0m0 2h0m0 4h0m0-8h0m1 1h0m0-12h0m0 17h0m1-2h0m0 4h0m0-7h0m0 2h0m0 2h0m0 2h0m1-6h0m0 4h0m0-7h0m0 4h0m0 4h0m1-9h0m0-3h0m0 10h0m1-15h0m0 4h0m0 6h0m0-7h0m1-2h0m0 11h0m0-7h0m0 2h0m0-5h0m0 2h0m1 0h0m1-1h0m0 1h0m0 2h0m0 2h0m0-7h0m1 0h0" stroke="#5cb848" stroke-width="4.4" stroke-linecap="round"/>
<path transform="scale(.25)" d="M816 297h0m1-7h0m0 5h0m0-4h0m1-1h0m0 2h0m0-1h0m1 0h0m1-2h0m0 3h0" stroke="#d8cc3c" stroke-width="4.4" stroke-linecap="round"/>
<line x1="208.5" y1="38.1" x2="208.5" y2="103" stroke="#5a5a5a" stroke-width="0.8"/>
<line x1="174.2" y1="66.8" x2="239.3" y2="66.8" stroke="#a8a8a8" stroke-width="1.3"/>
<text x="177.2" y="43.1" font-family='"Liberation Sans", sans-serif' font-size="2.9" fill="#222">Q1</text>
<text x="177.2" y="47.1" font-family='"Liberation Sans", sans-serif' font-size="2.9" fill="#222">0.889</text>
<text x="236.3" y="43.1" font-family='"Liberation Sans", sans-serif' font-size="2.9" text-anchor="end" fill="#222">Q2</text>
<text x="236.3" y="47.1" font-family='"Liberation Sans", sans-serif' font-size="2.9" text-anchor="end" fill="#222">0.79</text>
<text x="177.2" y="95.5" font-family='"Liberation Sans", sans-serif' font-size="2.9" fill="#222">Q4</text>
<text x="177.2" y="99.5" font-family='"Liberation Sans", sans-serif' font-size="2.9" fill="#222">93.4</text>
<text x="236.3" y="95.5" font-family='"Liberation Sans", sans-serif' font-size="2.9" text-anchor="end" fill="#222">Q3</text>
<text x="236.3" y="99.5" font-family='"Liberation Sans", sans-serif' font-size="2.9" text-anchor="end" fill="#222">5.05</text>
<text x="164" y="67.6" font-family='"Liberation Serif", serif' font-size="5.8" text-anchor="middle" fill="#000" transform="rotate(90 164 67.6)">+DMSO</text>
<rect x="260.5" y="38.1" width="65.1" height="64.9" fill="#fff" stroke="#c4c4c4" stroke-width="0.6"/>
<line x1="258.5" y1="39.6" x2="260.5" y2="39.6" stroke="#777" stroke-width="0.4"/>
<line x1="258.5" y1="47.5" x2="260.5" y2="47.5" stroke="#777" stroke-width="0.4"/>
<line x1="258.5" y1="55.4" x2="260.5" y2="55.4" stroke="#777" stroke-width="0.4"/>
<line x1="258.5" y1="63.3" x2="260.5" y2="63.3" stroke="#777" stroke-width="0.4"/>
<line x1="258.5" y1="71.2" x2="260.5" y2="71.2" stroke="#777" stroke-width="0.4"/>
<line x1="258.5" y1="79.1" x2="260.5" y2="79.1" stroke="#777" stroke-width="0.4"/>
<line x1="258.5" y1="87" x2="260.5" y2="87" stroke="#777" stroke-width="0.4"/>
<line x1="258.5" y1="94.9" x2="260.5" y2="94.9" stroke="#777" stroke-width="0.4"/>
<line x1="258.5" y1="102.8" x2="260.5" y2="102.8" stroke="#777" stroke-width="0.4"/>
<line x1="262.5" y1="103" x2="262.5" y2="105" stroke="#777" stroke-width="0.4"/>
<text x="262.5" y="107.5" font-family='"Liberation Sans", sans-serif' font-size="1.6" text-anchor="middle" fill="#888">10</text>
<line x1="268.6" y1="103" x2="268.6" y2="105" stroke="#777" stroke-width="0.4"/>
<text x="268.6" y="107.5" font-family='"Liberation Sans", sans-serif' font-size="1.6" text-anchor="middle" fill="#888">10</text>
<line x1="274.7" y1="103" x2="274.7" y2="105" stroke="#777" stroke-width="0.4"/>
<text x="274.7" y="107.5" font-family='"Liberation Sans", sans-serif' font-size="1.6" text-anchor="middle" fill="#888">10</text>
<line x1="280.8" y1="103" x2="280.8" y2="105" stroke="#777" stroke-width="0.4"/>
<text x="280.8" y="107.5" font-family='"Liberation Sans", sans-serif' font-size="1.6" text-anchor="middle" fill="#888">10</text>
<line x1="286.9" y1="103" x2="286.9" y2="105" stroke="#777" stroke-width="0.4"/>
<text x="286.9" y="107.5" font-family='"Liberation Sans", sans-serif' font-size="1.6" text-anchor="middle" fill="#888">10</text>
<line x1="293" y1="103" x2="293" y2="105" stroke="#777" stroke-width="0.4"/>
<text x="293" y="107.5" font-family='"Liberation Sans", sans-serif' font-size="1.6" text-anchor="middle" fill="#888">10</text>
<line x1="299.1" y1="103" x2="299.1" y2="105" stroke="#777" stroke-width="0.4"/>
<text x="299.1" y="107.5" font-family='"Liberation Sans", sans-serif' font-size="1.6" text-anchor="middle" fill="#888">10</text>
<line x1="305.2" y1="103" x2="305.2" y2="105" stroke="#777" stroke-width="0.4"/>
<text x="305.2" y="107.5" font-family='"Liberation Sans", sans-serif' font-size="1.6" text-anchor="middle" fill="#888">10</text>
<line x1="311.3" y1="103" x2="311.3" y2="105" stroke="#777" stroke-width="0.4"/>
<text x="311.3" y="107.5" font-family='"Liberation Sans", sans-serif' font-size="1.6" text-anchor="middle" fill="#888">10</text>
<line x1="317.4" y1="103" x2="317.4" y2="105" stroke="#777" stroke-width="0.4"/>
<text x="317.4" y="107.5" font-family='"Liberation Sans", sans-serif' font-size="1.6" text-anchor="middle" fill="#888">10</text>
<line x1="323.5" y1="103" x2="323.5" y2="105" stroke="#777" stroke-width="0.4"/>
<text x="323.5" y="107.5" font-family='"Liberation Sans", sans-serif' font-size="1.6" text-anchor="middle" fill="#888">10</text>
<rect x="278.8" y="102.4" width="3.6" height="0.8" fill="#8aa8e0"/>
<rect x="282.4" y="102.4" width="3.6" height="0.8" fill="#a8c070"/>
<rect x="286" y="102.4" width="3.6" height="0.8" fill="#e0c060"/>
<rect x="289.6" y="102.4" width="3.6" height="0.8" fill="#e88a60"/>
<rect x="293.2" y="102.4" width="3.6" height="0.8" fill="#e07060"/>
<rect x="296.8" y="102.4" width="3.6" height="0.8" fill="#e8b060"/>
<rect x="300.4" y="102.4" width="3.6" height="0.8" fill="#a8c870"/>
<rect x="304" y="102.4" width="3.6" height="0.8" fill="#9ab8e8"/>
<path transform="scale(.25)" d="M1175 215h0m28-6h0m0-7h0m12 23h0m-1 13h0m-4-1h0m-13-17h0m-7 18h0m-3-12h0m-5 1h0m-8 7h0m-16 17h0m8 9h0m3-3h0m1 1h0m0-5h0m1 3h0m0-6h0m1 10h0m7-18h0m0 4h0m1 7h0m2 2h0m3-7h0m0 12h0m7 2h0m5-1h0m15-11h0m2 13h0m1-19h0m12 9h0m-7 22h0m-4 7h0m-4-11h0m-13 6h0m-10-4h0m0-6h0m0 8h0m-1 2h0m0-5h0m-1-7h0m0 18h0m-1-14h0m0 3h0m0-1h0m0 9h0m-1 4h0m0-5h0m0 8h0m-1-3h0m-1-2h0m0-11h0m0 13h0m-2 2h0m-1-5h0m0-2h0m0-14h0m0 18h0m-2 0h0m0-19h0m0 18h0m0-14h0m0 13h0m-1 0h0m0-2h0m-1 0h0m0-10h0m0 12h0m-1-3h0m0 7h0m0-15h0m0 9h0m0 4h0m-1-16h0m0 14h0m0-1h0m0-15h0m0 4h0m-1 6h0m0 9h0m-1-9h0m-1-1h0m0 4h0m0-2h0m0-5h0m-1-6h0m0 7h0m0-5h0m-1 6h0m0 4h0m0-2h0m-1-3h0m0 4h0m-1-3h0m0 3h0m0-2h0m-1-3h0m0-1h0m-1-5h0m0 4h0m-1 7h0m0-5h0m-2 5h0m-1 0h0m0-1h0m-1-6h0m0 3h0m-1 2h0m0 4h0m-1-1h0m0-12h0m-1 1h0m0 8h0m0 4h0m-1-9h0m0-1h0m0 8h0m0 3h0m0-5h0m-1 1h0m0 4h0m-1-13h0m0 4h0m0 4h0m0 7h0m-1-14h0m0 9h0m0-1h0m-1 1h0m0-6h0m0 4h0m0 13h0m0-5h0m-2-14h0m0 16h0m0-20h0m-1 7h0m0 9h0m0 2h0m0 4h0m-2-14h0m0 13h0m-1-7h0m-1-10h0m0 17h0m-1-1h0m0-1h0m-4-1h0m0 3h0m-3-12h0m-13 34h0m1 3h0m10-3h0m1-5h0m3 7h0m0-3h0m1-9h0m0-1h0m0 13h0m2-11h0m0-10h0m1 4h0m0 4h0m1 8h0m0 2h0m0-5h0m1 0h0m0-5h0m0 9h0m0-1h0m0-15h0m0 18h0m1 4h0m1-21h0m0 9h0m0-2h0m0-5h0m0 4h0m1 6h0m0 9h0m0-15h0m1 1h0m0-1h0m3-7h0m17 19h0m1-3h0m0 4h0m1-1h0m1-4h0m0-10h0m0 13h0m2-12h0m1 9h0m0-11h0m1 1h0m1-3h0m0 7h0m0 9h0m0 4h0m1-19h0m0 9h0m0-12h0m0 4h0m1 1h0m0 12h0m0-10h0m1-5h0m0-1h0m1 3h0m0 16h0m0-2h0m1 2h0m0-16h0m0-2h0m1 3h0m2 2h0m2 3h0m2-11h0m0 4h0m2-3h0m2 20h0m3-7h0m1-13h0m1 21h0m1-10h0m5 3h0m1-6h0m2 0h0m7 0h0m10 10h0m-17 19h0m-19-13h0m-5 3h0m-5 11h0m0-14h0m-4 12h0m0-5h0m-1-8h0m0 21h0m0-20h0m-1-1h0m-3 16h0m0-11h0m0 9h0m-1-8h0m0 2h0m-1-2h0m-1 0h0m0-1h0m0 3h0m0 3h0m-2-8h0m-1 9h0m-1-6h0m0-1h0m-2 6h0m-1 9h0m-1-6h0m0 3h0m0-5h0m-2 9h0m-1-4h0m-1-4h0m0-2h0m-1 11h0m0-5h0m0-6h0m0 7h0m-1-8h0m0 12h0m-1 1h0m0-1h0m0-11h0m-1 0h0m0 7h0m0-6h0m-1-2h0m-1-4h0m0 4h0m0-5h0m-1 6h0m0 12h0m0-1h0m0-14h0m-1 10h0m0-17h0m-1 7h0m0 12h0m-1-7h0m-1 0h0m0-10h0m-1 9h0m-1-1h0m0 2h0m-1-5h0m0 3h0m0 4h0m-1-1h0m0 3h0m-1-8h0m0-5h0m-2 4h0m-2 15h0m-1-1h0m-2-6h0m-3 2h0m0 4h0m-11 12h0m1 1h0m10-3h0m1-1h0m1 2h0m0 13h0m0-14h0m0-5h0m2 8h0m1-1h0m0 11h0m2-15h0m0 3h0m3-1h0m3 15h0m0-12h0m2 7h0m0-14h0m0-2h0m2 8h0m0 7h0m1-15h0m0 7h0m2 0h0m1 5h0m0 9h0m1-15h0m3-3h0m1 1h0m1-3h0m1 0h0m0 11h0m1-12h0m2 19h0m1-21h0m1 2h0m0 3h0m0-2h0m1 10h0m0-13h0m4 21h0m1-15h0m1 4h0m3-5h0m-12 21h0m-6 10h0m-7-12h0m-11 16h0m-4 4h0m-2-14h0m10 20h0" stroke="#6b86dc" stroke-width="2.8" stroke-linecap="round"/>
<path transform="scale(.25)" d="M1192 242h0m11-2h0m5 14h0m-10 31h0m-5 1h0m-6-17h0m-13 18h0m0-1h0m-1-1h0m0-1h0m-2 1h0m0-5h0m0 2h0m0 4h0m0-5h0m-1 2h0m0-3h0m0 2h0m0-1h0m-1 2h0m0-4h0m-3 3h0m-1-1h0m0 1h0m0-5h0m-1 3h0m-1 0h0m-1 0h0m0 2h0m-1-1h0m0-3h0m-1 3h0m0 2h0m0-5h0m0 2h0m-1 4h0m-2 2h0m0-3h0m0 2h0m0-1h0m-1 0h0m0-1h0m-1 0h0m0 4h0m0-1h0m-1 1h0m0-1h0m-5 23h0m2-7h0m0 2h0m0-5h0m1-7h0m0 2h0m0 6h0m1 7h0m0 2h0m0-16h0m0 18h0m0-16h0m0 2h0m1-3h0m0 1h0m0 2h0m1-6h0m1 20h0m5 0h0m1-2h0m1-1h0m2 2h0m0-1h0m3-3h0m0 2h0m1-7h0m0-1h0m0-3h0m0 2h0m1 0h0m0-3h0m0 2h0m1-9h0m0 2h0m0 9h0m0-3h0m0-7h0m1 8h0m1-6h0m0 1h0m1-4h0m0 2h0m-10 23h0m-3 1h0m0-3h0m0 2h0m-2-1h0m-1 2h0m0 4h0m0-5h0m-1 5h0m0 2h0m-1-6h0m-1 2h0m0 2h0m-1-2h0m-1-2h0m0 2h0m0 4h0m-1-4h0m0-3h0m0 2h0m0 2h0m-1-3h0m0-3h0m0 9h0m-1-5h0m0 2h0m-2-6h0m0 3h0" stroke="#4a8ad4" stroke-width="3.6" stroke-linecap="round"/>
<path transform="scale(.25)" d="M1191 260h0m2 3h0m2-14h0m3 4h0m1-2h0m1-4h0m2 1h0m0 4h0m-1 17h0m-3 10h0m-4-3h0m-24 11h0m-1 0h0m-1-3h0m-1 3h0m0-3h0m0 2h0m-1 0h0m0-3h0m-1 2h0m-1-1h0m0-1h0m0 4h0m-1-2h0m0-1h0m0 2h0m-1 0h0m0-2h0m-1-1h0m-1 3h0m0-1h0m-1 0h0m-1 2h0m-5 14h0m1 2h0m0 4h0m0-12h0m0 6h0m1 1h0m0-7h0m0 6h0m0-7h0m0 4h0m1-2h0m0 2h0m0 13h0m0-5h0m0-5h0m1-11h0m0 9h0m0-5h0m0 2h0m0 9h0m0 2h0m1-16h0m0 6h0m0 13h0m0-5h0m0-16h0m1 17h0m0-5h0m0-5h0m0-7h0m1 9h0m0-9h0m0 19h0m0-12h0m1 5h0m0 2h0m0 2h0m0-16h0m0 2h0m0 9h0m1 6h0m0-3h0m1 3h0m0 1h0m0-7h0m1-12h0m0 13h0m0 2h0m0-7h0m0 9h0m1-17h0m0 12h0m0 2h0m0-7h0m1 0h0m0-7h0m0 11h0m0-10h0m1 5h0m0-3h0m0 2h0m0 9h0m0-12h0m1 3h0m0-3h0m1 6h0m1-4h0m0-3h0m0 4h0" stroke="#5cb848" stroke-width="4.4" stroke-linecap="round"/>
<path transform="scale(.25)" d="M1200 263h0m-39 32h0m0-2h0m1-3h0m0 6h0m0-1h0m0-3h0m0-1h0m0 2h0m2-3h0m0-1h0m0 2h0m1-2h0m0 2h0m0 3h0m0-4h0" stroke="#d8cc3c" stroke-width="4.4" stroke-linecap="round"/>
<line x1="294.8" y1="38.1" x2="294.8" y2="103" stroke="#5a5a5a" stroke-width="0.8"/>
<line x1="260.5" y1="66.8" x2="325.6" y2="66.8" stroke="#a8a8a8" stroke-width="1.3"/>
<text x="263.5" y="43.1" font-family='"Liberation Sans", sans-serif' font-size="2.9" fill="#222">Q1</text>
<text x="263.5" y="47.1" font-family='"Liberation Sans", sans-serif' font-size="2.9" fill="#222">0.579</text>
<text x="322.6" y="43.1" font-family='"Liberation Sans", sans-serif' font-size="2.9" text-anchor="end" fill="#222">Q2</text>
<text x="322.6" y="47.1" font-family='"Liberation Sans", sans-serif' font-size="2.9" text-anchor="end" fill="#222">1.48</text>
<text x="263.5" y="95.5" font-family='"Liberation Sans", sans-serif' font-size="2.9" fill="#222">Q4</text>
<text x="263.5" y="99.5" font-family='"Liberation Sans", sans-serif' font-size="2.9" fill="#222">95.4</text>
<text x="322.6" y="95.5" font-family='"Liberation Sans", sans-serif' font-size="2.9" text-anchor="end" fill="#222">Q3</text>
<text x="322.6" y="99.5" font-family='"Liberation Sans", sans-serif' font-size="2.9" text-anchor="end" fill="#222">3.68</text>
<text x="252.3" y="67.6" font-family='"Liberation Serif", serif' font-size="5.8" text-anchor="middle" fill="#000" transform="rotate(90 252.3 67.6)">+DMSO</text>
<rect x="174.2" y="111.8" width="65.1" height="64.9" fill="#fff" stroke="#c4c4c4" stroke-width="0.6"/>
<line x1="172.2" y1="113.3" x2="174.2" y2="113.3" stroke="#777" stroke-width="0.4"/>
<line x1="172.2" y1="121.2" x2="174.2" y2="121.2" stroke="#777" stroke-width="0.4"/>
<line x1="172.2" y1="129.1" x2="174.2" y2="129.1" stroke="#777" stroke-width="0.4"/>
<line x1="172.2" y1="137" x2="174.2" y2="137" stroke="#777" stroke-width="0.4"/>
<line x1="172.2" y1="144.9" x2="174.2" y2="144.9" stroke="#777" stroke-width="0.4"/>
<line x1="172.2" y1="152.8" x2="174.2" y2="152.8" stroke="#777" stroke-width="0.4"/>
<line x1="172.2" y1="160.7" x2="174.2" y2="160.7" stroke="#777" stroke-width="0.4"/>
<line x1="172.2" y1="168.6" x2="174.2" y2="168.6" stroke="#777" stroke-width="0.4"/>
<line x1="172.2" y1="176.5" x2="174.2" y2="176.5" stroke="#777" stroke-width="0.4"/>
<line x1="176.2" y1="176.7" x2="176.2" y2="178.7" stroke="#777" stroke-width="0.4"/>
<text x="176.2" y="181.2" font-family='"Liberation Sans", sans-serif' font-size="1.6" text-anchor="middle" fill="#888">10</text>
<line x1="182.3" y1="176.7" x2="182.3" y2="178.7" stroke="#777" stroke-width="0.4"/>
<text x="182.3" y="181.2" font-family='"Liberation Sans", sans-serif' font-size="1.6" text-anchor="middle" fill="#888">10</text>
<line x1="188.4" y1="176.7" x2="188.4" y2="178.7" stroke="#777" stroke-width="0.4"/>
<text x="188.4" y="181.2" font-family='"Liberation Sans", sans-serif' font-size="1.6" text-anchor="middle" fill="#888">10</text>
<line x1="194.5" y1="176.7" x2="194.5" y2="178.7" stroke="#777" stroke-width="0.4"/>
<text x="194.5" y="181.2" font-family='"Liberation Sans", sans-serif' font-size="1.6" text-anchor="middle" fill="#888">10</text>
<line x1="200.6" y1="176.7" x2="200.6" y2="178.7" stroke="#777" stroke-width="0.4"/>
<text x="200.6" y="181.2" font-family='"Liberation Sans", sans-serif' font-size="1.6" text-anchor="middle" fill="#888">10</text>
<line x1="206.7" y1="176.7" x2="206.7" y2="178.7" stroke="#777" stroke-width="0.4"/>
<text x="206.7" y="181.2" font-family='"Liberation Sans", sans-serif' font-size="1.6" text-anchor="middle" fill="#888">10</text>
<line x1="212.8" y1="176.7" x2="212.8" y2="178.7" stroke="#777" stroke-width="0.4"/>
<text x="212.8" y="181.2" font-family='"Liberation Sans", sans-serif' font-size="1.6" text-anchor="middle" fill="#888">10</text>
<line x1="218.9" y1="176.7" x2="218.9" y2="178.7" stroke="#777" stroke-width="0.4"/>
<text x="218.9" y="181.2" font-family='"Liberation Sans", sans-serif' font-size="1.6" text-anchor="middle" fill="#888">10</text>
<line x1="225" y1="176.7" x2="225" y2="178.7" stroke="#777" stroke-width="0.4"/>
<text x="225" y="181.2" font-family='"Liberation Sans", sans-serif' font-size="1.6" text-anchor="middle" fill="#888">10</text>
<line x1="231.1" y1="176.7" x2="231.1" y2="178.7" stroke="#777" stroke-width="0.4"/>
<text x="231.1" y="181.2" font-family='"Liberation Sans", sans-serif' font-size="1.6" text-anchor="middle" fill="#888">10</text>
<line x1="237.2" y1="176.7" x2="237.2" y2="178.7" stroke="#777" stroke-width="0.4"/>
<text x="237.2" y="181.2" font-family='"Liberation Sans", sans-serif' font-size="1.6" text-anchor="middle" fill="#888">10</text>
<rect x="192.5" y="176.1" width="3.6" height="0.8" fill="#8aa8e0"/>
<rect x="196.1" y="176.1" width="3.6" height="0.8" fill="#a8c070"/>
<rect x="199.7" y="176.1" width="3.6" height="0.8" fill="#e0c060"/>
<rect x="203.3" y="176.1" width="3.6" height="0.8" fill="#e88a60"/>
<rect x="206.9" y="176.1" width="3.6" height="0.8" fill="#e07060"/>
<rect x="210.5" y="176.1" width="3.6" height="0.8" fill="#e8b060"/>
<rect x="214.1" y="176.1" width="3.6" height="0.8" fill="#a8c870"/>
<rect x="217.7" y="176.1" width="3.6" height="0.8" fill="#9ab8e8"/>
<path transform="scale(.25)" d="M870 520h0m-1-8h0m-2 14h0m-1-1h0m0-5h0m-3-9h0m-1 15h0m0-12h0m-1-1h0m0 13h0m-1 1h0m-1-15h0m-6-1h0m-1 1h0m0 4h0m-3 8h0m0-1h0m-5 1h0m-14-10h0m-11-1h0m-4 37h0m8-15h0m1-5h0m0 2h0m19 2h0m2 8h0m1-12h0m1 6h0m1-7h0m17 14h0m1-1h0m1 4h0m0-10h0m2 2h0m4-9h0m2 35h0m-1-3h0m-7 11h0m-3-9h0m-15 4h0m-1-8h0m-1 8h0m-1 8h0m-2 0h0m-1-20h0m-2 0h0m-1 17h0m0-2h0m0-6h0m-1-8h0m0 18h0m0-19h0m-1 9h0m-1 0h0m-1-2h0m-2-7h0m0 18h0m-1-3h0m-2 1h0m0 4h0m0-7h0m-1 6h0m0-8h0m0 4h0m-1-4h0m0-10h0m-1 17h0m0-6h0m0 4h0m-1-3h0m-1-2h0m0 8h0m0-5h0m0 4h0m-1 0h0m0-2h0m-1-18h0m0 18h0m0-11h0m-1 3h0m0-1h0m0-7h0m0 9h0m0 4h0m-1-12h0m0 8h0m0-1h0m0 4h0m0 4h0m-2-6h0m0 3h0m-1-6h0m0-1h0m-1 9h0m0-11h0m-1 8h0m0-14h0m0 9h0m-1 9h0m0-5h0m0 3h0m-1-3h0m0-11h0m0 17h0m-1-7h0m0-2h0m0 9h0m-1-1h0m-1-1h0m0-8h0m-1 7h0m0-1h0m0 3h0m-1 0h0m0 4h0m0-1h0m-1-2h0m-1 2h0m-1-8h0m0 4h0m-1-11h0m0 8h0m-1 7h0m-1-16h0m-1 16h0m0-5h0m0 6h0m-1-4h0m0-7h0m-16-10h0m7 42h0m1 0h0m0-5h0m0-3h0m2 11h0m0-10h0m1-8h0m1 16h0m0-6h0m1 7h0m0-11h0m1 4h0m2 8h0m1-11h0m0 7h0m0-15h0m0 18h0m1-9h0m0 4h0m0-14h0m0 9h0m0 3h0m0-10h0m1 6h0m0 3h0m0-6h0m0-1h0m2-2h0m0 2h0m1-5h0m0-2h0m13 15h0m6-4h0m1 11h0m1-3h0m1-2h0m0-5h0m0 4h0m0-1h0m0 3h0m1-11h0m0 8h0m1-10h0m0 3h0m0 14h0m0-5h0m0-14h0m0-1h0m0-1h0m1 12h0m0 8h0m0-14h0m0 9h0m0-11h0m1 4h0m0-6h0m0-1h0m0 8h0m0 9h0m1-18h0m0 8h0m0-1h0m1 7h0m0-6h0m0-5h0m1 1h0m0 7h0m0 4h0m0-5h0m1 3h0m1-10h0m2-2h0m1 10h0m1-12h0m0 13h0m1 0h0m1 6h0m2-3h0m3-5h0m3-5h0m2 12h0m11-16h0m17 21h0m-22 2h0m-4 18h0m-3-18h0m-2 6h0m-1-6h0m-1 2h0m-2 0h0m-4-3h0m-7 9h0m-3-7h0m-1 2h0m-1-4h0m0 11h0m-1-9h0m-1 7h0m0-2h0m-3 0h0m-1-6h0m0 4h0m-2-3h0m0 4h0m-2 0h0m-1 4h0m0 13h0m0-14h0m-2 2h0m-1 5h0m-1 6h0m0-6h0m0 4h0m0-6h0m-1 5h0m0 4h0m-1-8h0m0 4h0m-1-3h0m-2 4h0m-1 0h0m-2-2h0m-1 3h0m-3 1h0m0-1h0m-2-8h0m0-6h0m-1 12h0m-1-19h0m-1 15h0m0-11h0m0 8h0m0-5h0m-2-5h0m0 7h0m-1 11h0m-1-12h0m0-5h0m-1 18h0m-2-1h0m-3-2h0m-1-6h0m-5-2h0m-2-8h0m-3 16h0m-1 4h0m-22-5h0m20 20h0m9-7h0m0 3h0m1-1h0m0 9h0m2-4h0m2-10h0m2 5h0m0 3h0m2-2h0m0-2h0m0-5h0m1 5h0m0 13h0m1-7h0m1-12h0m1 7h0m0 14h0m2-7h0m0-5h0m0 3h0m0-11h0m0 18h0m1-17h0m1-2h0m1 2h0m1 17h0m1-18h0m1 8h0m3 1h0m1 4h0m2 7h0m0-16h0m1 13h0m0-18h0m1 5h0m0 6h0m1-10h0m0-1h0m2 1h0m1-1h0m2 0h0m3 3h0m2 5h0m4-6h0m0 2h0m4-3h0m-14 36h0m-8-9h0m-1 1h0m-1-3h0m-3 9h0m-2 1h0m-4-9h0m-1 13h0m-1-15h0m-3 6h0m-2-2h0m-2-2h0m-1 2h0m-3-6h0m0 9h0m-1 13h0m14 3h0" stroke="#6b86dc" stroke-width="2.8" stroke-linecap="round"/>
<path transform="scale(.25)" d="M843 549h0m4-9h0m5-2h0m0-5h0m8 4h0m1 14h0m0-7h0m1 5h0m0-12h0m1 25h0m-1-8h0m-1 9h0m0 4h0m-3-2h0m-1 4h0m-11 0h0m-3 3h0m0-15h0m-1 9h0m-17 9h0m-1 0h0m-1-3h0m0 2h0m0-1h0m0 2h0m-1-2h0m-1-1h0m-1 0h0m0 3h0m-1-1h0m-1 0h0m-2 1h0m-13 23h0m1-3h0m1 0h0m0 2h0m1-1h0m1-6h0m0 9h0m0-1h0m0-14h0m1 11h0m1-5h0m0-7h0m1-5h0m0 2h0m0 1h0m1-2h0m0 2h0m1-5h0m0 4h0m1-3h0m0 1h0m1-2h0m1 1h0m6-1h0m3 1h0m0 22h0m0-21h0m1-2h0m0 2h0m0 20h0m1-14h0m0-7h0m0 9h0m0 2h0m0 9h0m0-16h0m0 4h0m0-5h0m0 14h0m1-18h0m0 2h0m0 8h0m0 9h0m0-16h0m1-1h0m0 9h0m0-8h0m1 4h0m24-7h0m0 3h0m-29 22h0m-1 1h0m-2-2h0m-3 8h0m-1-3h0m0 4h0m0 2h0m0-5h0m-1 0h0m0 2h0m-2-1h0m-1 2h0m-1 3h0m-1-4h0m0 4h0m0-5h0m-1 1h0m0 9h0m0-6h0m-1-3h0m0 2h0m0 4h0m0-3h0m-1 6h0m0-7h0m0 4h0m0-7h0m0-6h0m-1 16h0m0-5h0m0-12h0m-1 8h0m0 4h0m0-10h0m0 9h0m0-5h0m-1 4h0m0-7h0m-1-2h0m-1 3h0m0 1h0m0 2h0" stroke="#4a8ad4" stroke-width="3.6" stroke-linecap="round"/>
<path transform="scale(.25)" d="M849 546h0m1 1h0m5-6h0m3 9h0m1 10h0m-1-4h0m0-3h0m0 4h0m-2-3h0m-1-2h0m-3 16h0m0-3h0m0 2h0m-1-3h0m0-3h0m-1 5h0m0-2h0m-2 2h0m-1-9h0m-38 40h0m1-3h0m0-3h0m0 4h0m0-7h0m0 2h0m0 9h0m1-16h0m0 11h0m0-7h0m0 2h0m1 0h0m0 9h0m0-10h0m0-5h0m0 4h0m1 8h0m0-7h0m1 8h0m0 2h0m0-16h0m0 17h0m1-14h0m0-5h0m0 2h0m1 0h0m0 2h0m0-3h0m0 18h0m0-21h0m0 2h0m1 1h0m0-1h0m0 2h0m0-5h0m0 18h0m1-4h0m0 2h0m0-16h0m0 2h0m0 20h0m0-16h0m0-5h0m1 3h0m0 2h0m0-5h0m0 18h0m0 2h0m0-19h0m1 0h0m0 11h0m0-12h0m0 18h0m0-16h0m0 9h0m0-7h0m1 3h0m0-7h0m0 9h0m0-7h0m0 15h0m0-14h0m1 8h0m0-7h0m0 11h0m0-14h0m0-1h0m0 9h0m1-6h0m0 9h0m0-7h0m0-3h0m0 9h0m0-5h0m0 2h0m1 2h0m0-3h0m0 2h0m0-5h0m0 2h0m1 1h0m0-2h0m-7 19h0m-2-2h0m-1 0h0m-2 2h0m-2 4h0m0-3h0m-1-2h0m-1 4h0" stroke="#5cb848" stroke-width="4.4" stroke-linecap="round"/>
<path transform="scale(.25)" d="M851 557h0m-36 34h0m1-1h0m0-5h0m0 3h0m1 0h0m0 3h0m0-7h0m0 6h0m1-5h0m0-2h0m1 1h0m0 3h0" stroke="#d8cc3c" stroke-width="4.4" stroke-linecap="round"/>
<line x1="208.5" y1="111.8" x2="208.5" y2="176.7" stroke="#5a5a5a" stroke-width="0.8"/>
<line x1="174.2" y1="140.5" x2="239.3" y2="140.5" stroke="#5a5a5a" stroke-width="0.8"/>
<text x="177.2" y="116.8" font-family='"Liberation Sans", sans-serif' font-size="2.9" fill="#222">Q1</text>
<text x="177.2" y="120.8" font-family='"Liberation Sans", sans-serif' font-size="2.9" fill="#222">0.18</text>
<text x="236.3" y="116.8" font-family='"Liberation Sans", sans-serif' font-size="2.9" text-anchor="end" fill="#222">Q2</text>
<text x="236.3" y="120.8" font-family='"Liberation Sans", sans-serif' font-size="2.9" text-anchor="end" fill="#222">5.88</text>
<text x="177.2" y="169.2" font-family='"Liberation Sans", sans-serif' font-size="2.9" fill="#222">Q4</text>
<text x="177.2" y="173.2" font-family='"Liberation Sans", sans-serif' font-size="2.9" fill="#222">89.3</text>
<text x="236.3" y="169.2" font-family='"Liberation Sans", sans-serif' font-size="2.9" text-anchor="end" fill="#222">Q3</text>
<text x="236.3" y="173.2" font-family='"Liberation Sans", sans-serif' font-size="2.9" text-anchor="end" fill="#222">10.3</text>
<text x="164" y="145.9" font-family='"Liberation Serif", serif' font-size="5.8" text-anchor="middle" fill="#000" transform="rotate(90 164 145.9)">+iBET-151 (145 uM)</text>
<rect x="260.5" y="111.8" width="65.1" height="64.9" fill="#fff" stroke="#c4c4c4" stroke-width="0.6"/>
<line x1="258.5" y1="113.3" x2="260.5" y2="113.3" stroke="#777" stroke-width="0.4"/>
<line x1="258.5" y1="121.2" x2="260.5" y2="121.2" stroke="#777" stroke-width="0.4"/>
<line x1="258.5" y1="129.1" x2="260.5" y2="129.1" stroke="#777" stroke-width="0.4"/>
<line x1="258.5" y1="137" x2="260.5" y2="137" stroke="#777" stroke-width="0.4"/>
<line x1="258.5" y1="144.9" x2="260.5" y2="144.9" stroke="#777" stroke-width="0.4"/>
<line x1="258.5" y1="152.8" x2="260.5" y2="152.8" stroke="#777" stroke-width="0.4"/>
<line x1="258.5" y1="160.7" x2="260.5" y2="160.7" stroke="#777" stroke-width="0.4"/>
<line x1="258.5" y1="168.6" x2="260.5" y2="168.6" stroke="#777" stroke-width="0.4"/>
<line x1="258.5" y1="176.5" x2="260.5" y2="176.5" stroke="#777" stroke-width="0.4"/>
<line x1="262.5" y1="176.7" x2="262.5" y2="178.7" stroke="#777" stroke-width="0.4"/>
<text x="262.5" y="181.2" font-family='"Liberation Sans", sans-serif' font-size="1.6" text-anchor="middle" fill="#888">10</text>
<line x1="268.6" y1="176.7" x2="268.6" y2="178.7" stroke="#777" stroke-width="0.4"/>
<text x="268.6" y="181.2" font-family='"Liberation Sans", sans-serif' font-size="1.6" text-anchor="middle" fill="#888">10</text>
<line x1="274.7" y1="176.7" x2="274.7" y2="178.7" stroke="#777" stroke-width="0.4"/>
<text x="274.7" y="181.2" font-family='"Liberation Sans", sans-serif' font-size="1.6" text-anchor="middle" fill="#888">10</text>
<line x1="280.8" y1="176.7" x2="280.8" y2="178.7" stroke="#777" stroke-width="0.4"/>
<text x="280.8" y="181.2" font-family='"Liberation Sans", sans-serif' font-size="1.6" text-anchor="middle" fill="#888">10</text>
<line x1="286.9" y1="176.7" x2="286.9" y2="178.7" stroke="#777" stroke-width="0.4"/>
<text x="286.9" y="181.2" font-family='"Liberation Sans", sans-serif' font-size="1.6" text-anchor="middle" fill="#888">10</text>
<line x1="293" y1="176.7" x2="293" y2="178.7" stroke="#777" stroke-width="0.4"/>
<text x="293" y="181.2" font-family='"Liberation Sans", sans-serif' font-size="1.6" text-anchor="middle" fill="#888">10</text>
<line x1="299.1" y1="176.7" x2="299.1" y2="178.7" stroke="#777" stroke-width="0.4"/>
<text x="299.1" y="181.2" font-family='"Liberation Sans", sans-serif' font-size="1.6" text-anchor="middle" fill="#888">10</text>
<line x1="305.2" y1="176.7" x2="305.2" y2="178.7" stroke="#777" stroke-width="0.4"/>
<text x="305.2" y="181.2" font-family='"Liberation Sans", sans-serif' font-size="1.6" text-anchor="middle" fill="#888">10</text>
<line x1="311.3" y1="176.7" x2="311.3" y2="178.7" stroke="#777" stroke-width="0.4"/>
<text x="311.3" y="181.2" font-family='"Liberation Sans", sans-serif' font-size="1.6" text-anchor="middle" fill="#888">10</text>
<line x1="317.4" y1="176.7" x2="317.4" y2="178.7" stroke="#777" stroke-width="0.4"/>
<text x="317.4" y="181.2" font-family='"Liberation Sans", sans-serif' font-size="1.6" text-anchor="middle" fill="#888">10</text>
<line x1="323.5" y1="176.7" x2="323.5" y2="178.7" stroke="#777" stroke-width="0.4"/>
<text x="323.5" y="181.2" font-family='"Liberation Sans", sans-serif' font-size="1.6" text-anchor="middle" fill="#888">10</text>
<rect x="278.8" y="176.1" width="3.6" height="0.8" fill="#8aa8e0"/>
<rect x="282.4" y="176.1" width="3.6" height="0.8" fill="#a8c070"/>
<rect x="286" y="176.1" width="3.6" height="0.8" fill="#e0c060"/>
<rect x="289.6" y="176.1" width="3.6" height="0.8" fill="#e88a60"/>
<rect x="293.2" y="176.1" width="3.6" height="0.8" fill="#e07060"/>
<rect x="296.8" y="176.1" width="3.6" height="0.8" fill="#e8b060"/>
<rect x="300.4" y="176.1" width="3.6" height="0.8" fill="#a8c870"/>
<rect x="304" y="176.1" width="3.6" height="0.8" fill="#9ab8e8"/>
<path transform="scale(.25)" d="M1222 518h0m-5 7h0m-2-11h0m0-5h0m-10 15h0m0-2h0m-4-12h0m-3 14h0m-1-8h0m-6 8h0m-16-5h0m-30-2h0m0 24h0m4-1h0m2 3h0m3 7h0m14-1h0m9 0h0m5-19h0m1 15h0m0-5h0m1 8h0m1 0h0m1-3h0m2 3h0m3-15h0m2 2h0m14-3h0m0-1h0m2 2h0m2 0h0m1 5h0m1-6h0m2 6h0m0 7h0m2 4h0m4-1h0m3-20h0m1 43h0m-1-8h0m-1 12h0m-10-23h0m-3 3h0m-1 9h0m0-4h0m-1 14h0m-5-1h0m-9-1h0m-2-1h0m0-15h0m-1 6h0m-2 7h0m-1 2h0m-3-11h0m-1 11h0m-1-2h0m0-1h0m0-1h0m-1-12h0m0 8h0m0 12h0m-1-3h0m0-14h0m0 13h0m0-19h0m0 7h0m-1 13h0m-1 2h0m0-6h0m0-1h0m-1 3h0m0-10h0m-1 3h0m0 9h0m0-6h0m0 9h0m-1-21h0m-1 20h0m0-5h0m0 4h0m0-10h0m-1 2h0m0-1h0m0-1h0m0-1h0m-1-8h0m0 13h0m0-5h0m0-6h0m0 18h0m-1-7h0m0 4h0m0 2h0m-1 0h0m0-1h0m0-11h0m0 4h0m-1-4h0m0 9h0m0-5h0m0-1h0m0 4h0m-1-3h0m0-10h0m0 9h0m0-1h0m0 9h0m0-10h0m0 9h0m-1-4h0m0 4h0m0-1h0m-1-3h0m0-14h0m0 18h0m0-5h0m-1 1h0m-1 2h0m0-12h0m0 8h0m-1 2h0m-1-3h0m0-7h0m0 9h0m0-10h0m-1 15h0m0-5h0m0-6h0m0 9h0m-1 2h0m-1-11h0m0 11h0m-1 2h0m-1 1h0m0-1h0m0-1h0m-2-2h0m0-5h0m-1-3h0m-1 13h0m0-6h0m-1-11h0m0 16h0m-1-9h0m-1 10h0m0-6h0m-1-10h0m0 8h0m-1 5h0m0-1h0m-1-3h0m-1 1h0m-1 4h0m-1-2h0m0-7h0m0 8h0m-1-2h0m0 4h0m0-8h0m-1 4h0m-4 2h0m-3 10h0m4 7h0m1-11h0m1 17h0m1-12h0m1-1h0m0-5h0m0 22h0m1-4h0m0-16h0m0 14h0m1-8h0m0-5h0m0 4h0m0-5h0m0 8h0m1-9h0m1 4h0m1 9h0m0-14h0m1 7h0m0-7h0m0 4h0m1 5h0m0-2h0m0-7h0m1 2h0m0 4h0m0-1h0m1-5h0m1-1h0m1 1h0m16 21h0m1-1h0m1-21h0m1 0h0m1 14h0m0-10h0m0 18h0m0-6h0m0-5h0m0-5h0m0-5h0m1 10h0m0-5h0m0-6h0m1 1h0m0 14h0m0-10h0m0 9h0m0-6h0m1-4h0m0 13h0m0-5h0m0-11h0m1 6h0m0 4h0m0-10h0m0-1h0m0 9h0m1-8h0m0 13h0m1-9h0m0 3h0m0 8h0m1 1h0m0-6h0m0-3h0m1 4h0m2-1h0m1 3h0m0-1h0m0-10h0m0-1h0m1 12h0m0-14h0m0 18h0m1-11h0m0-6h0m0 4h0m0 4h0m1 1h0m0 9h0m1-10h0m1 1h0m3-3h0m1 2h0m1 2h0m2-11h0m8 23h0m1-16h0m1 2h0m0-3h0m16 5h0m-23 20h0m-9 1h0m-3-5h0m-5-2h0m-7 5h0m0 2h0m-2 3h0m-1-3h0m-1-3h0m-2 4h0m-1-2h0m-1-5h0m0 9h0m-1-7h0m0 7h0m-1-6h0m-1 8h0m-1-3h0m-1 8h0m0-2h0m-1-1h0m-1-2h0m0 3h0m-1 4h0m0-1h0m-1-4h0m0 8h0m0-5h0m-1-3h0m-1 3h0m-2 0h0m-3 3h0m-5-14h0m-2-2h0m0 16h0m-1-17h0m0 4h0m0 10h0m-1-7h0m0-1h0m0-6h0m-1 14h0m0 3h0m-2-3h0m-2-10h0m-2 10h0m-2-10h0m-1-3h0m-1 4h0m-2 6h0m-1-13h0m0 12h0m-10 24h0m3 7h0m9-14h0m1-6h0m1 19h0m0-14h0m0 13h0m1-9h0m1 4h0m1-12h0m1-2h0m1 19h0m0 3h0m1-19h0m3 19h0m0-19h0m2 7h0m1-3h0m0-6h0m1 15h0m0-2h0m0-6h0m1 8h0m1-13h0m1-1h0m0 9h0m0 4h0m1-7h0m1 11h0m1-16h0m0-1h0m1 3h0m1 7h0m1-11h0m0-1h0m2 0h0m1 2h0m0-2h0m3 7h0m2-2h0m1-4h0m2 9h0m8-2h0m2 16h0m-21 1h0m-6 1h0m-10 7h0m-3 0h0m-4-5h0m-2 8h0m-3 5h0m-2 4h0m-3-15h0m-3 19h0m8-1h0m4 3h0" stroke="#6b86dc" stroke-width="2.8" stroke-linecap="round"/>
<path transform="scale(.25)" d="M1191 542h0m1 1h0m0 3h0m11-9h0m1 2h0m0-1h0m4 3h0m-1 17h0m-2 7h0m-33 10h0m-1 0h0m-2-3h0m-1 2h0m0 1h0m-2-1h0m-1 1h0m-1-3h0m0 2h0m0 1h0m-1-1h0m-1-1h0m-1 1h0m0-1h0m-1 1h0m-1 0h0m-10 23h0m0 1h0m1-4h0m1-4h0m1 1h0m0-1h0m0 9h0m0-14h0m0 2h0m1 3h0m0-7h0m0 11h0m0-7h0m0 2h0m1-9h0m0 2h0m1 0h0m0-3h0m1-2h0m0 2h0m0 2h0m0 2h0m0-7h0m1 1h0m1 2h0m0-1h0m1-1h0m1-1h0m0 2h0m2-2h0m1 0h0m4 23h0m0-23h0m0 20h0m1-2h0m1-1h0m0-16h0m1 1h0m0 13h0m0-14h0m0 2h0m1-2h0m0 11h0m0-7h0m0-5h0m1 1h0m0 9h0m0-5h0m1 2h0m0 9h0m0-7h0m0 2h0m1-6h0m0 8h0m1-9h0m0 6h0m21-8h0m1 0h0m-29 24h0m-1-2h0m0 1h0m-1 0h0m-1 6h0m0-7h0m-1 9h0m0-7h0m0 4h0m-1 1h0m0-4h0m-3 8h0m0-5h0m-1 2h0m-1 4h0m0 2h0m-1-4h0m0-3h0m0 4h0m-2 2h0m-1-1h0m-1-8h0m0 2h0m0 3h0m-1-2h0m0 2h0m0 4h0m0-7h0m-1-5h0m0 8h0m0-5h0m-1 2h0m0-5h0m0 2h0m0 2h0m-1-3h0m0 2h0" stroke="#4a8ad4" stroke-width="3.6" stroke-linecap="round"/>
<path transform="scale(.25)" d="M1196 544h0m6 3h0m0 4h0m2-4h0m0 11h0m-1-4h0m-1 11h0m0 3h0m-1-4h0m-1 7h0m-1-1h0m-1 2h0m-2-10h0m-1 3h0m-1-12h0m-2 4h0m-38 39h0m2 1h0m0-5h0m0-7h0m1 10h0m1-9h0m0 4h0m0 2h0m0-3h0m0-9h0m0 2h0m0 9h0m1-6h0m0-5h0m0 11h0m0-5h0m0 2h0m0-7h0m1 5h0m0 2h0m0-7h0m0 1h0m0 14h0m0 2h0m1-15h0m0 2h0m0-3h0m0 2h0m0-3h0m1 0h0m0 11h0m0-12h0m1 0h0m0 2h0m0 11h0m0-10h0m0-5h0m1 3h0m0 11h0m0 2h0m0 2h0m0 2h0m0-16h0m1-2h0m0 9h0m0-12h0m0 11h0m0-7h0m1 6h0m0 2h0m0 4h0m0 2h0m1-11h0m0 2h0m0-7h0m0 2h0m0 2h0m0 9h0m1-6h0m0 2h0m0-7h0m0 9h0m0-6h0m1 0h0m0-3h0m0 1h0m1 3h0m0-5h0m0 2h0m0 4h0m0 2h0m-11 13h0m0-1h0m-3 4h0m-2-4h0" stroke="#5cb848" stroke-width="4.4" stroke-linecap="round"/>
<path transform="scale(.25)" d="M1161 585h0m0 4h0m0 3h0m1-7h0m0 6h0m0-5h0m1-1h0m0 3h0m0-4h0m1 1h0m0 3h0m0-4h0m0 3h0m1-2h0" stroke="#d8cc3c" stroke-width="4.4" stroke-linecap="round"/>
<line x1="294.8" y1="111.8" x2="294.8" y2="176.7" stroke="#5a5a5a" stroke-width="0.8"/>
<line x1="260.5" y1="140.5" x2="325.6" y2="140.5" stroke="#5a5a5a" stroke-width="0.8"/>
<text x="263.5" y="116.8" font-family='"Liberation Sans", sans-serif' font-size="2.9" fill="#222">Q1</text>
<text x="263.5" y="120.8" font-family='"Liberation Sans", sans-serif' font-size="2.9" fill="#222">0.28</text>
<text x="322.6" y="116.8" font-family='"Liberation Sans", sans-serif' font-size="2.9" text-anchor="end" fill="#222">Q2</text>
<text x="322.6" y="120.8" font-family='"Liberation Sans", sans-serif' font-size="2.9" text-anchor="end" fill="#222">3.18</text>
<text x="263.5" y="169.2" font-family='"Liberation Sans", sans-serif' font-size="2.9" fill="#222">Q4</text>
<text x="263.5" y="173.2" font-family='"Liberation Sans", sans-serif' font-size="2.9" fill="#222">89.3</text>
<text x="322.6" y="169.2" font-family='"Liberation Sans", sans-serif' font-size="2.9" text-anchor="end" fill="#222">Q3</text>
<text x="322.6" y="173.2" font-family='"Liberation Sans", sans-serif' font-size="2.9" text-anchor="end" fill="#222">8.8</text>
<text x="250.3" y="145.9" font-family='"Liberation Serif", serif' font-size="5.8" text-anchor="middle" fill="#000" transform="rotate(90 250.3 145.9)">+iBET-151 (65 uM)</text>
<rect x="174.2" y="186.6" width="65.1" height="64.9" fill="#fff" stroke="#c4c4c4" stroke-width="0.6"/>
<line x1="172.2" y1="188.1" x2="174.2" y2="188.1" stroke="#777" stroke-width="0.4"/>
<line x1="172.2" y1="196" x2="174.2" y2="196" stroke="#777" stroke-width="0.4"/>
<line x1="172.2" y1="203.9" x2="174.2" y2="203.9" stroke="#777" stroke-width="0.4"/>
<line x1="172.2" y1="211.8" x2="174.2" y2="211.8" stroke="#777" stroke-width="0.4"/>
<line x1="172.2" y1="219.7" x2="174.2" y2="219.7" stroke="#777" stroke-width="0.4"/>
<line x1="172.2" y1="227.6" x2="174.2" y2="227.6" stroke="#777" stroke-width="0.4"/>
<line x1="172.2" y1="235.5" x2="174.2" y2="235.5" stroke="#777" stroke-width="0.4"/>
<line x1="172.2" y1="243.4" x2="174.2" y2="243.4" stroke="#777" stroke-width="0.4"/>
<line x1="172.2" y1="251.3" x2="174.2" y2="251.3" stroke="#777" stroke-width="0.4"/>
<line x1="176.2" y1="251.5" x2="176.2" y2="253.5" stroke="#777" stroke-width="0.4"/>
<text x="176.2" y="256" font-family='"Liberation Sans", sans-serif' font-size="1.6" text-anchor="middle" fill="#888">10</text>
<line x1="182.3" y1="251.5" x2="182.3" y2="253.5" stroke="#777" stroke-width="0.4"/>
<text x="182.3" y="256" font-family='"Liberation Sans", sans-serif' font-size="1.6" text-anchor="middle" fill="#888">10</text>
<line x1="188.4" y1="251.5" x2="188.4" y2="253.5" stroke="#777" stroke-width="0.4"/>
<text x="188.4" y="256" font-family='"Liberation Sans", sans-serif' font-size="1.6" text-anchor="middle" fill="#888">10</text>
<line x1="194.5" y1="251.5" x2="194.5" y2="253.5" stroke="#777" stroke-width="0.4"/>
<text x="194.5" y="256" font-family='"Liberation Sans", sans-serif' font-size="1.6" text-anchor="middle" fill="#888">10</text>
<line x1="200.6" y1="251.5" x2="200.6" y2="253.5" stroke="#777" stroke-width="0.4"/>
<text x="200.6" y="256" font-family='"Liberation Sans", sans-serif' font-size="1.6" text-anchor="middle" fill="#888">10</text>
<line x1="206.7" y1="251.5" x2="206.7" y2="253.5" stroke="#777" stroke-width="0.4"/>
<text x="206.7" y="256" font-family='"Liberation Sans", sans-serif' font-size="1.6" text-anchor="middle" fill="#888">10</text>
<line x1="212.8" y1="251.5" x2="212.8" y2="253.5" stroke="#777" stroke-width="0.4"/>
<text x="212.8" y="256" font-family='"Liberation Sans", sans-serif' font-size="1.6" text-anchor="middle" fill="#888">10</text>
<line x1="218.9" y1="251.5" x2="218.9" y2="253.5" stroke="#777" stroke-width="0.4"/>
<text x="218.9" y="256" font-family='"Liberation Sans", sans-serif' font-size="1.6" text-anchor="middle" fill="#888">10</text>
<line x1="225" y1="251.5" x2="225" y2="253.5" stroke="#777" stroke-width="0.4"/>
<text x="225" y="256" font-family='"Liberation Sans", sans-serif' font-size="1.6" text-anchor="middle" fill="#888">10</text>
<line x1="231.1" y1="251.5" x2="231.1" y2="253.5" stroke="#777" stroke-width="0.4"/>
<text x="231.1" y="256" font-family='"Liberation Sans", sans-serif' font-size="1.6" text-anchor="middle" fill="#888">10</text>
<line x1="237.2" y1="251.5" x2="237.2" y2="253.5" stroke="#777" stroke-width="0.4"/>
<text x="237.2" y="256" font-family='"Liberation Sans", sans-serif' font-size="1.6" text-anchor="middle" fill="#888">10</text>
<rect x="192.5" y="250.9" width="3.6" height="0.8" fill="#8aa8e0"/>
<rect x="196.1" y="250.9" width="3.6" height="0.8" fill="#a8c070"/>
<rect x="199.7" y="250.9" width="3.6" height="0.8" fill="#e0c060"/>
<rect x="203.3" y="250.9" width="3.6" height="0.8" fill="#e88a60"/>
<rect x="206.9" y="250.9" width="3.6" height="0.8" fill="#e07060"/>
<rect x="210.5" y="250.9" width="3.6" height="0.8" fill="#e8b060"/>
<rect x="214.1" y="250.9" width="3.6" height="0.8" fill="#a8c870"/>
<rect x="217.7" y="250.9" width="3.6" height="0.8" fill="#9ab8e8"/>
<path transform="scale(.25)" d="M893 814h0m-13-9h0m-11 8h0m0-2h0m-6 0h0m-3 3h0m-5-3h0m-14 18h0m6-4h0m1 14h0m0-14h0m1 14h0m0-10h0m0 6h0m3-8h0m1 3h0m0-2h0m1 8h0m0-3h0m2 3h0m1-11h0m2 5h0m1-13h0m1 13h0m0-12h0m1 4h0m3-3h0m2 10h0m0-10h0m1 5h0m0 13h0m1-20h0m1 5h0m0 16h0m2-9h0m1-6h0m3 6h0m0 4h0m2-11h0m1-2h0m3 31h0m-2 5h0m-2-9h0m-1-4h0m-2-3h0m-2 1h0m0 18h0m-1-14h0m-1-1h0m0-2h0m-1 0h0m-1 20h0m0-20h0m-1-1h0m-18 8h0m-1 1h0m-1 2h0m0 1h0m-1-9h0m0 16h0m0-10h0m-1-7h0m0 12h0m0 7h0m0-14h0m-1 3h0m0 9h0m-1-6h0m0-2h0m-1-4h0m-1 6h0m-1 0h0m-5 1h0m0-5h0m-1 13h0m-6-7h0m-11 0h0m0-1h0m0 7h0m-7-7h0m-1 5h0m-2-5h0m-3-2h0m-4 10h0m-20 0h0m8 15h0m0-1h0m4 0h0m3 2h0m2-6h0m1 1h0m1-3h0m0 2h0m1 8h0m0 4h0m1-4h0m1 0h0m0-11h0m0 9h0m0-6h0m1 8h0m0-5h0m0-1h0m1-4h0m0 4h0m0 4h0m0-1h0m1-5h0m0 2h0m2-7h0m0 4h0m1 4h0m0-6h0m1-1h0m0-5h0m0 9h0m2-2h0m2-6h0m0 4h0m1-2h0m2 5h0m0-3h0m1 3h0m2 1h0m1-7h0m2 8h0m2 2h0m0-6h0m0 9h0m0-5h0m0-10h0m1 14h0m0 9h0m0-19h0m0 16h0m1-4h0m1 1h0m0-6h0m0-5h0m1 0h0m0 9h0m0 4h0m0-16h0m1 8h0m0 12h0m0-6h0m1-1h0m1-16h0m0 8h0m1 9h0m0-7h0m2-4h0m1 5h0m1-10h0m0 2h0m1 6h0m0 4h0m1-5h0m0 3h0m1 0h0m3 10h0m0-21h0m1 11h0m1 12h0m0-10h0m1 10h0m1-12h0m0 4h0m1-14h0m0 22h0m0-2h0m1-12h0m0-1h0m5 12h0m2 2h0m2 1h0m1-3h0m1 1h0m2-3h0m0-1h0m2 1h0m0-1h0m1-1h0m0 2h0m1-5h0m1 4h0m0-5h0m1 3h0m0 7h0m1-18h0m0 12h0m0-10h0m1-2h0m0 4h0m0-1h0m4 13h0m0-11h0m2 2h0m0-3h0m1-6h0m7 8h0m-3 17h0m-3 5h0m-2 0h0m-3 12h0m-1-11h0m-5 7h0m-2-5h0m-1-9h0m-3 4h0m0 13h0m-1-15h0m-1 2h0m-2 8h0m-1-14h0m0 18h0m-2-13h0m0-1h0m0 4h0m0 4h0m-1-10h0m0 4h0m-1 15h0m-1-2h0m-4-15h0m-1 18h0m-1-18h0m-2-4h0m-2 19h0m-2-12h0m-6 4h0m0-10h0m0-1h0m-1 9h0m0-6h0m0-1h0m-1 16h0m-1-18h0m0 3h0m-3-3h0m0 3h0m-1 4h0m0-5h0m-2 16h0m-1-5h0m-1-3h0m-1 7h0m0-1h0m-21-11h0m-1-5h0m-1 3h0m0 7h0m-1-9h0m0 11h0m-1 4h0m0-14h0m0-1h0m-1 10h0m0-10h0m0 4h0m-3 13h0m0-6h0m-2 8h0m-3-7h0m-3 0h0m-1-7h0m-28 26h0m22 3h0m4-5h0m4 17h0m4-1h0m1-19h0m1 15h0m0-1h0m1-7h0m1 4h0m1 9h0m0-5h0m1-13h0m0-2h0m0-1h0m1 4h0m1-6h0m0 21h0m1-16h0m0 18h0m0-19h0m1 12h0m1-7h0m1 11h0m3 1h0m0-14h0m0 12h0m1-3h0m1-3h0m1-6h0m4 5h0m1-9h0m0 12h0m3 6h0m0-1h0m0-19h0m1 3h0m0 8h0m1-6h0m0 3h0m2 3h0m2-5h0m1-6h0m1 8h0m1-3h0m1-4h0m1 18h0m5-17h0m25 28h0m-46 5h0m-1-9h0m-5 8h0m-4 12h0m-4-6h0m-1 2h0m-2-18h0m-1 9h0m0 3h0m-3 5h0m0-16h0m-6 17h0m-2 2h0m-2-10h0m-1 0h0m9 13h0m14 0h0m-20 31h0" stroke="#6b86dc" stroke-width="2.8" stroke-linecap="round"/>
<path transform="scale(.25)" d="M856 839h0m2-3h0m6 3h0m5 4h0m-1 0h0m0 13h0m-1-1h0m0-5h0m-1 7h0m-5-17h0m0 1h0m-1 1h0m-2-1h0m-1 3h0m-2 1h0m0-5h0m-1 8h0m-1 5h0m-1 1h0m0 2h0m0-7h0m-1 6h0m-48 30h0m1 1h0m1-6h0m2-3h0m0 2h0m2-1h0m0 2h0m0 1h0m1-2h0m1-1h0m0-3h0m1 0h0m1 2h0m1-2h0m1-1h0m3 3h0m0 2h0m2-4h0m1 3h0m0 4h0m0-5h0m1 0h0m1 5h0m0 2h0m0 2h0m1-1h0m0-1h0m0-3h0m1 3h0m0 2h0m0-3h0m0 2h0m24-14h0m0-3h0m0-1h0m1 5h0m1-6h0m0 6h0m1 6h0m3-1h0m2 6h0m1 0h0m0 1h0m1-4h0m2 1h0m0-5h0m2-2h0m1-2h0m0 2h0m1 2h0m0-7h0m0 2h0m1 3h0m1-6h0m2-3h0m-44 23h0m-1 1h0m0-1h0m0 2h0m-2-1h0m0 9h0m-1-7h0m-1 6h0m0-3h0m-1 2h0m-1 4h0m-1 1h0m0 2h0m-3 2h0m-2 2h0m-3 4h0m-4-4h0m-1-9h0m0-5h0m0 4h0m0 9h0m-1-2h0m0-5h0m0-3h0m0 2h0m0-10h0m-1 4h0m0 19h0m0-5h0m-1-11h0m0 9h0m0 4h0m0-16h0m-1 19h0m0 1h0m3 3h0m1-1h0m0-1h0m0 2h0m1-2h0m0-1h0m2 0h0m0 1h0m1 4h0m0-5h0m1 2h0m1 0h0" stroke="#4a8ad4" stroke-width="3.6" stroke-linecap="round"/>
<path transform="scale(.25)" d="M866 862h0m-1 1h0m0-5h0m0-5h0m0 2h0m0 2h0m-1 2h0m0 4h0m0-7h0m-1-4h0m0-7h0m0 9h0m0 9h0m0-3h0m0-3h0m-1 3h0m0-16h0m0 4h0m0-5h0m0 6h0m-1 7h0m0-7h0m0-1h0m-1 5h0m0-8h0m-2 1h0m0 8h0m0-7h0m-1-2h0m0 9h0m0 4h0m0 2h0m0-14h0m0 2h0m0 2h0m-1 4h0m0-1h0m0 2h0m-1 2h0m0 2h0m0-10h0m-1 9h0m0 1h0m-1 2h0m0-6h0m-44 31h0m1-4h0m1 3h0m0 2h0m0-3h0m0 2h0m1-2h0m0-4h0m0 2h0m1 3h0m0-3h0m0-1h0m0 2h0m2-2h0m0-3h0m1 5h0m0-3h0m1 0h0m0 4h0m0 2h0m0-5h0m1 5h0m0-7h0m0 6h0m0 2h0m1-2h0m0 2h0m1-2h0m0 2h0m0-5h0m0 4h0m1-4h0m0 4h0m31-20h0m1 0h0m0 4h0m0-6h0m1 5h0m1-1h0m1-4h0m0 2h0m1 9h0m0-10h0m0-1h0m1 7h0m0-5h0m1 0h0m0 9h0m0-5h0m0 2h0m0-7h0m0 9h0m0-7h0m0 2h0m0 2h0m1-3h0m1 4h0m0 1h0m0-5h0m1 0h0m1-1h0m0-3h0m1 0h0m1 2h0m-44 23h0m-1 0h0m-2 5h0m-1 6h0m-1-1h0m-1 1h0m-1-6h0m-2 3h0m0 9h0m-1-1h0m0-3h0m-1-7h0m0-1h0m-1 5h0m-1 8h0m0-19h0m0 15h0m-1-4h0m-1 2h0m0-3h0m-1 1h0m-1 6h0m0-6h0" stroke="#5cb848" stroke-width="4.4" stroke-linecap="round"/>
<path transform="scale(.25)" d="M861 856h0m0 3h0m-1-4h0m0 2h0m0 3h0m0-4h0m-1 6h0m0-3h0m-1 0h0m0 1h0m-1-1h0m-44 27h0m1 1h0m0-1h0m1-1h0m0 3h0m-2 0h0m0 3h0" stroke="#d8cc3c" stroke-width="4.4" stroke-linecap="round"/>
<line x1="208.5" y1="186.6" x2="208.5" y2="251.5" stroke="#5a5a5a" stroke-width="0.8"/>
<line x1="174.2" y1="215.3" x2="239.3" y2="215.3" stroke="#5a5a5a" stroke-width="0.8"/>
<text x="177.2" y="191.6" font-family='"Liberation Sans", sans-serif' font-size="2.9" fill="#222">Q1</text>
<text x="177.2" y="195.6" font-family='"Liberation Sans", sans-serif' font-size="2.9" fill="#222">0.28</text>
<text x="236.3" y="191.6" font-family='"Liberation Sans", sans-serif' font-size="2.9" text-anchor="end" fill="#222">Q2</text>
<text x="236.3" y="195.6" font-family='"Liberation Sans", sans-serif' font-size="2.9" text-anchor="end" fill="#222">55.8</text>
<text x="177.2" y="244" font-family='"Liberation Sans", sans-serif' font-size="2.9" fill="#222">Q4</text>
<text x="177.2" y="248" font-family='"Liberation Sans", sans-serif' font-size="2.9" fill="#222">48.1</text>
<text x="236.3" y="244" font-family='"Liberation Sans", sans-serif' font-size="2.9" text-anchor="end" fill="#222">Q3</text>
<text x="236.3" y="248" font-family='"Liberation Sans", sans-serif' font-size="2.9" text-anchor="end" fill="#222">38.5</text>
<text x="164" y="223.1" font-family='"Liberation Serif", serif' font-size="5.8" text-anchor="middle" fill="#000" transform="rotate(90 164 223.1)">+iBET-151 (290 uM)</text>
<rect x="260.5" y="186.6" width="65.1" height="64.9" fill="#fff" stroke="#c4c4c4" stroke-width="0.6"/>
<line x1="258.5" y1="188.1" x2="260.5" y2="188.1" stroke="#777" stroke-width="0.4"/>
<line x1="258.5" y1="196" x2="260.5" y2="196" stroke="#777" stroke-width="0.4"/>
<line x1="258.5" y1="203.9" x2="260.5" y2="203.9" stroke="#777" stroke-width="0.4"/>
<line x1="258.5" y1="211.8" x2="260.5" y2="211.8" stroke="#777" stroke-width="0.4"/>
<line x1="258.5" y1="219.7" x2="260.5" y2="219.7" stroke="#777" stroke-width="0.4"/>
<line x1="258.5" y1="227.6" x2="260.5" y2="227.6" stroke="#777" stroke-width="0.4"/>
<line x1="258.5" y1="235.5" x2="260.5" y2="235.5" stroke="#777" stroke-width="0.4"/>
<line x1="258.5" y1="243.4" x2="260.5" y2="243.4" stroke="#777" stroke-width="0.4"/>
<line x1="258.5" y1="251.3" x2="260.5" y2="251.3" stroke="#777" stroke-width="0.4"/>
<line x1="262.5" y1="251.5" x2="262.5" y2="253.5" stroke="#777" stroke-width="0.4"/>
<text x="262.5" y="256" font-family='"Liberation Sans", sans-serif' font-size="1.6" text-anchor="middle" fill="#888">10</text>
<line x1="268.6" y1="251.5" x2="268.6" y2="253.5" stroke="#777" stroke-width="0.4"/>
<text x="268.6" y="256" font-family='"Liberation Sans", sans-serif' font-size="1.6" text-anchor="middle" fill="#888">10</text>
<line x1="274.7" y1="251.5" x2="274.7" y2="253.5" stroke="#777" stroke-width="0.4"/>
<text x="274.7" y="256" font-family='"Liberation Sans", sans-serif' font-size="1.6" text-anchor="middle" fill="#888">10</text>
<line x1="280.8" y1="251.5" x2="280.8" y2="253.5" stroke="#777" stroke-width="0.4"/>
<text x="280.8" y="256" font-family='"Liberation Sans", sans-serif' font-size="1.6" text-anchor="middle" fill="#888">10</text>
<line x1="286.9" y1="251.5" x2="286.9" y2="253.5" stroke="#777" stroke-width="0.4"/>
<text x="286.9" y="256" font-family='"Liberation Sans", sans-serif' font-size="1.6" text-anchor="middle" fill="#888">10</text>
<line x1="293" y1="251.5" x2="293" y2="253.5" stroke="#777" stroke-width="0.4"/>
<text x="293" y="256" font-family='"Liberation Sans", sans-serif' font-size="1.6" text-anchor="middle" fill="#888">10</text>
<line x1="299.1" y1="251.5" x2="299.1" y2="253.5" stroke="#777" stroke-width="0.4"/>
<text x="299.1" y="256" font-family='"Liberation Sans", sans-serif' font-size="1.6" text-anchor="middle" fill="#888">10</text>
<line x1="305.2" y1="251.5" x2="305.2" y2="253.5" stroke="#777" stroke-width="0.4"/>
<text x="305.2" y="256" font-family='"Liberation Sans", sans-serif' font-size="1.6" text-anchor="middle" fill="#888">10</text>
<line x1="311.3" y1="251.5" x2="311.3" y2="253.5" stroke="#777" stroke-width="0.4"/>
<text x="311.3" y="256" font-family='"Liberation Sans", sans-serif' font-size="1.6" text-anchor="middle" fill="#888">10</text>
<line x1="317.4" y1="251.5" x2="317.4" y2="253.5" stroke="#777" stroke-width="0.4"/>
<text x="317.4" y="256" font-family='"Liberation Sans", sans-serif' font-size="1.6" text-anchor="middle" fill="#888">10</text>
<line x1="323.5" y1="251.5" x2="323.5" y2="253.5" stroke="#777" stroke-width="0.4"/>
<text x="323.5" y="256" font-family='"Liberation Sans", sans-serif' font-size="1.6" text-anchor="middle" fill="#888">10</text>
<rect x="278.8" y="250.9" width="3.6" height="0.8" fill="#8aa8e0"/>
<rect x="282.4" y="250.9" width="3.6" height="0.8" fill="#a8c070"/>
<rect x="286" y="250.9" width="3.6" height="0.8" fill="#e0c060"/>
<rect x="289.6" y="250.9" width="3.6" height="0.8" fill="#e88a60"/>
<rect x="293.2" y="250.9" width="3.6" height="0.8" fill="#e07060"/>
<rect x="296.8" y="250.9" width="3.6" height="0.8" fill="#e8b060"/>
<rect x="300.4" y="250.9" width="3.6" height="0.8" fill="#a8c870"/>
<rect x="304" y="250.9" width="3.6" height="0.8" fill="#9ab8e8"/>
<path transform="scale(.25)" d="M1225 798h0m-17 17h0m0-1h0m-6-2h0m-6-5h0m0-12h0m-14 23h0m5 19h0m7-5h0m2 1h0m1 3h0m1-7h0m0-2h0m0 8h0m5-5h0m2-8h0m1 12h0m0-8h0m4 1h0m0 9h0m1-14h0m0 8h0m0 8h0m1-15h0m2 2h0m3 8h0m0-11h0m0 9h0m4-6h0m0 2h0m4 30h0m0 2h0m-2-5h0m-1 1h0m-7-4h0m0-10h0m-1 9h0m-22 2h0m-2-5h0m0-1h0m-1 14h0m0-15h0m0 18h0m-2-17h0m-1 7h0m-2 3h0m0-11h0m-1 13h0m-5 0h0m-2-1h0m-1 3h0m0-15h0m-2 9h0m-2 7h0m-1 1h0m-1-22h0m0 16h0m-3 2h0m-1 2h0m-1-4h0m0 5h0m-1-1h0m-5-2h0m0 3h0m0-11h0m-4 12h0m-15-9h0m-2 20h0m2 4h0m0-7h0m1 16h0m3-4h0m1 4h0m1 1h0m0-7h0m1-1h0m0 3h0m0-6h0m1-1h0m0 4h0m0-14h0m2 11h0m0 7h0m1 2h0m0-1h0m2-12h0m0 4h0m2-6h0m0-4h0m1 2h0m0 4h0m0 3h0m0-1h0m1-3h0m1 3h0m1 2h0m0-5h0m0 3h0m1-6h0m1 7h0m1-7h0m1 0h0m2 6h0m0-7h0m1 6h0m0-2h0m1 0h0m0 2h0m0-5h0m1-4h0m0 3h0m1 8h0m1-4h0m0 3h0m0-5h0m1 6h0m1-3h0m0 4h0m0 3h0m0-5h0m0 4h0m1-6h0m0-1h0m0 8h0m0-5h0m1 1h0m0-8h0m1 20h0m0-16h0m0 12h0m1-14h0m0 18h0m0-1h0m0-1h0m0-10h0m1 9h0m0-19h0m0 13h0m0-2h0m1-4h0m0 13h0m0-15h0m1 14h0m0-4h0m1-2h0m0 9h0m0-2h0m2-15h0m0 13h0m0-2h0m0 4h0m3-12h0m1 9h0m0 1h0m0-19h0m1 15h0m1-15h0m0 4h0m0 9h0m0-6h0m1 16h0m1-19h0m1 9h0m2 9h0m2-21h0m0 19h0m2-9h0m0 9h0m0-2h0m1 4h0m1 0h0m3-1h0m1 1h0m0-5h0m0-1h0m2 1h0m0 4h0m0-5h0m4-10h0m1 9h0m0-10h0m2 7h0m0-10h0m0 9h0m2-11h0m2 8h0m4-7h0m-7 24h0m-1 5h0m-1 11h0m-5 0h0m-3-4h0m0-5h0m-1 4h0m0-1h0m-1-6h0m0-5h0m0 4h0m0 3h0m-2 0h0m-1 2h0m0-6h0m0 18h0m-2-19h0m-6 2h0m-1 1h0m0-5h0m-1 5h0m0 1h0m-2 3h0m-2-1h0m-1-6h0m-2 12h0m-1-8h0m-1 13h0m0-16h0m-1-2h0m-2 12h0m0 3h0m0 4h0m0-15h0m0 4h0m-1-8h0m-1 14h0m0 8h0m0-14h0m-1-2h0m-1 3h0m-1 10h0m-1 1h0m0-5h0m-2 1h0m-1 3h0m-18-20h0m-1 5h0m-1 2h0m0 9h0m-1-3h0m0 8h0m-1-13h0m-1-5h0m-1 18h0m0-10h0m0-7h0m-1 9h0m-2 4h0m0 2h0m-2-4h0m-4-9h0m-2 15h0m-1-9h0m-6 8h0m-8-2h0m6 6h0m4 4h0m2 15h0m7-10h0m2-1h0m0 13h0m0-10h0m1-6h0m2 3h0m1 11h0m0-13h0m1 10h0m1 7h0m0-23h0m0 3h0m0 4h0m1 4h0m0 12h0m1-6h0m0-7h0m0-1h0m1 1h0m1-3h0m1 14h0m0-15h0m1 3h0m0 7h0m2 6h0m0-5h0m0-6h0m0 8h0m1-4h0m1-5h0m2 7h0m4-5h0m0 11h0m1-10h0m1-10h0m0 8h0m0-7h0m2 0h0m0 3h0m1-2h0m0 9h0m1-6h0m2 0h0m2 9h0m1 4h0m4-20h0m0 4h0m3 17h0m1-19h0m4 14h0m3-12h0m11 8h0m3-11h0m-35 23h0m0 22h0m-7-21h0m-3 1h0m0 2h0m-4 7h0m0-1h0m0-7h0m-1-3h0m0 10h0m-3-9h0m-1 2h0m-1 16h0m0-8h0m-1 0h0m0 4h0m-1-9h0m0-5h0m-1 12h0m-3-13h0m-4 0h0m-1 9h0m0-5h0m-5 6h0m-4-10h0m-5 1h0m-7 24h0m6 8h0m6-5h0m17-3h0m3 13h0m9-2h0m2 16h0m-35 9h0m-4-10h0" stroke="#6b86dc" stroke-width="2.8" stroke-linecap="round"/>
<path transform="scale(.25)" d="M1200 838h0m1-3h0m1 4h0m4-4h0m5 15h0m-1-7h0m0 2h0m0 15h0m-1-2h0m0-5h0m0-3h0m0-5h0m0 9h0m0 2h0m-1 7h0m-1-16h0m-8-6h0m0 2h0m-1-2h0m-1 0h0m0 6h0m-1-6h0m0 4h0m-1 4h0m-1 5h0m-1 0h0m0-7h0m0 13h0m-1 2h0m0-8h0m-40 32h0m0-3h0m1 2h0m0-3h0m1-3h0m0 3h0m1 1h0m1-6h0m2 3h0m1 0h0m1-4h0m0 4h0m0-5h0m0 4h0m1-1h0m2 2h0m1-4h0m1 1h0m1 1h0m0 2h0m2-2h0m1 0h0m0 7h0m0-5h0m0 2h0m1 2h0m0 2h0m0-5h0m0-3h0m1 4h0m1 4h0m21-18h0m0 6h0m2-2h0m1 4h0m0 1h0m0-3h0m1 1h0m0-3h0m0 6h0m1 0h0m1-2h0m1 4h0m0-3h0m2 0h0m2-6h0m0 2h0m0 4h0m3-12h0m1 1h0m-37 22h0m0 4h0m0 2h0m-2-1h0m-1 4h0m-2 8h0m0-3h0m0-5h0m-1 8h0m-2 4h0m0-3h0m0 4h0m-1 0h0m0-5h0m-2 6h0m-1 0h0m0-3h0m-3 2h0m-1 1h0m-2-2h0m-2-2h0m0-16h0m0-3h0m0 9h0m-1 14h0m0-5h0m-1-2h0m0-1h0m0-1h0m0-7h0m0 2h0m-1 5h0m0 8h0m-1-2h0m0 7h0m2-1h0m1 2h0m1-2h0m0 6h0m0-7h0m1 5h0m0-1h0m0-3h0m2 4h0m2-5h0m1 4h0m1-1h0m1-3h0m1 2h0m0-1h0" stroke="#4a8ad4" stroke-width="3.6" stroke-linecap="round"/>
<path transform="scale(.25)" d="M1207 849h0m0 6h0m-1-8h0m-1 9h0m-1-8h0m0 4h0m0 11h0m-1-18h0m0-3h0m-2 5h0m0 2h0m0-5h0m0 6h0m-1-2h0m-1 6h0m-1 8h0m0-12h0m-1 0h0m-1 12h0m0-3h0m-1 2h0m0-4h0m-39 30h0m0-3h0m1 3h0m0-2h0m1-1h0m0 2h0m1 1h0m1-4h0m0-3h0m0 4h0m0 2h0m1-1h0m1-4h0m1 3h0m0 2h0m0-5h0m0 2h0m0 2h0m1-4h0m0 5h0m1-4h0m0 4h0m0 1h0m1 0h0m0-5h0m0 2h0m1 1h0m1 2h0m0-1h0m27-22h0m1 5h0m1-4h0m0 6h0m1-5h0m2 0h0m1 4h0m1 1h0m1-7h0m1 6h0m0-5h0m1 1h0m-36 23h0m-1 1h0m-1 0h0m0 4h0m-1-5h0m0 2h0m0 2h0m0 2h0m0-7h0m0 2h0m-1-1h0m0 8h0m0-7h0m-2 1h0m0 1h0m0 4h0m-1 5h0m0-8h0m-1 10h0m0 1h0m-2 1h0m0-1h0m0 2h0m-1-1h0m0-7h0m0-8h0m-1 16h0m0-3h0m0-10h0m0 4h0m-1-7h0m0 9h0m0 9h0m0-6h0m-1-7h0m0 4h0m-1-11h0m0 15h0m0-5h0m-1-4h0m0 11h0m0-12h0m-1 14h0m0-7h0m0-5h0m0 2h0" stroke="#5cb848" stroke-width="4.4" stroke-linecap="round"/>
<path transform="scale(.25)" d="M1203 858h0m-1 0h0m0-1h0m0 3h0m-1-3h0m0-1h0m0 5h0m-1-6h0m0 2h0m0 3h0m-37 28h0m-1 2h0m0-2h0m-1 4h0m-1 1h0m0-5h0m-1 6h0m0-1h0m0-1h0" stroke="#d8cc3c" stroke-width="4.4" stroke-linecap="round"/>
<line x1="294.8" y1="186.6" x2="294.8" y2="251.5" stroke="#5a5a5a" stroke-width="0.8"/>
<line x1="260.5" y1="215.3" x2="325.6" y2="215.3" stroke="#5a5a5a" stroke-width="0.8"/>
<text x="263.5" y="191.6" font-family='"Liberation Sans", sans-serif' font-size="2.9" fill="#222">Q1</text>
<text x="263.5" y="195.6" font-family='"Liberation Sans", sans-serif' font-size="2.9" fill="#222">0.18</text>
<text x="322.6" y="191.6" font-family='"Liberation Sans", sans-serif' font-size="2.9" text-anchor="end" fill="#222">Q2</text>
<text x="322.6" y="195.6" font-family='"Liberation Sans", sans-serif' font-size="2.9" text-anchor="end" fill="#222">14.2</text>
<text x="263.5" y="244" font-family='"Liberation Sans", sans-serif' font-size="2.9" fill="#222">Q4</text>
<text x="263.5" y="248" font-family='"Liberation Sans", sans-serif' font-size="2.9" fill="#222">67.5</text>
<text x="322.6" y="244" font-family='"Liberation Sans", sans-serif' font-size="2.9" text-anchor="end" fill="#222">Q3</text>
<text x="322.6" y="248" font-family='"Liberation Sans", sans-serif' font-size="2.9" text-anchor="end" fill="#222">17.8</text>
<text x="250.3" y="223.1" font-family='"Liberation Serif", serif' font-size="5.8" text-anchor="middle" fill="#000" transform="rotate(90 250.3 223.1)">+iBET-151 (130 uM)</text>
<rect x="174.2" y="261.5" width="65.1" height="64.9" fill="#fff" stroke="#c4c4c4" stroke-width="0.6"/>
<line x1="172.2" y1="263" x2="174.2" y2="263" stroke="#777" stroke-width="0.4"/>
<line x1="172.2" y1="270.9" x2="174.2" y2="270.9" stroke="#777" stroke-width="0.4"/>
<line x1="172.2" y1="278.8" x2="174.2" y2="278.8" stroke="#777" stroke-width="0.4"/>
<line x1="172.2" y1="286.7" x2="174.2" y2="286.7" stroke="#777" stroke-width="0.4"/>
<line x1="172.2" y1="294.6" x2="174.2" y2="294.6" stroke="#777" stroke-width="0.4"/>
<line x1="172.2" y1="302.5" x2="174.2" y2="302.5" stroke="#777" stroke-width="0.4"/>
<line x1="172.2" y1="310.4" x2="174.2" y2="310.4" stroke="#777" stroke-width="0.4"/>
<line x1="172.2" y1="318.3" x2="174.2" y2="318.3" stroke="#777" stroke-width="0.4"/>
<line x1="172.2" y1="326.2" x2="174.2" y2="326.2" stroke="#777" stroke-width="0.4"/>
<line x1="176.2" y1="326.4" x2="176.2" y2="328.4" stroke="#777" stroke-width="0.4"/>
<text x="176.2" y="330.9" font-family='"Liberation Sans", sans-serif' font-size="1.6" text-anchor="middle" fill="#888">10</text>
<line x1="182.3" y1="326.4" x2="182.3" y2="328.4" stroke="#777" stroke-width="0.4"/>
<text x="182.3" y="330.9" font-family='"Liberation Sans", sans-serif' font-size="1.6" text-anchor="middle" fill="#888">10</text>
<line x1="188.4" y1="326.4" x2="188.4" y2="328.4" stroke="#777" stroke-width="0.4"/>
<text x="188.4" y="330.9" font-family='"Liberation Sans", sans-serif' font-size="1.6" text-anchor="middle" fill="#888">10</text>
<line x1="194.5" y1="326.4" x2="194.5" y2="328.4" stroke="#777" stroke-width="0.4"/>
<text x="194.5" y="330.9" font-family='"Liberation Sans", sans-serif' font-size="1.6" text-anchor="middle" fill="#888">10</text>
<line x1="200.6" y1="326.4" x2="200.6" y2="328.4" stroke="#777" stroke-width="0.4"/>
<text x="200.6" y="330.9" font-family='"Liberation Sans", sans-serif' font-size="1.6" text-anchor="middle" fill="#888">10</text>
<line x1="206.7" y1="326.4" x2="206.7" y2="328.4" stroke="#777" stroke-width="0.4"/>
<text x="206.7" y="330.9" font-family='"Liberation Sans", sans-serif' font-size="1.6" text-anchor="middle" fill="#888">10</text>
<line x1="212.8" y1="326.4" x2="212.8" y2="328.4" stroke="#777" stroke-width="0.4"/>
<text x="212.8" y="330.9" font-family='"Liberation Sans", sans-serif' font-size="1.6" text-anchor="middle" fill="#888">10</text>
<line x1="218.9" y1="326.4" x2="218.9" y2="328.4" stroke="#777" stroke-width="0.4"/>
<text x="218.9" y="330.9" font-family='"Liberation Sans", sans-serif' font-size="1.6" text-anchor="middle" fill="#888">10</text>
<line x1="225" y1="326.4" x2="225" y2="328.4" stroke="#777" stroke-width="0.4"/>
<text x="225" y="330.9" font-family='"Liberation Sans", sans-serif' font-size="1.6" text-anchor="middle" fill="#888">10</text>
<line x1="231.1" y1="326.4" x2="231.1" y2="328.4" stroke="#777" stroke-width="0.4"/>
<text x="231.1" y="330.9" font-family='"Liberation Sans", sans-serif' font-size="1.6" text-anchor="middle" fill="#888">10</text>
<line x1="237.2" y1="326.4" x2="237.2" y2="328.4" stroke="#777" stroke-width="0.4"/>
<text x="237.2" y="330.9" font-family='"Liberation Sans", sans-serif' font-size="1.6" text-anchor="middle" fill="#888">10</text>
<rect x="192.5" y="325.8" width="3.6" height="0.8" fill="#8aa8e0"/>
<rect x="196.1" y="325.8" width="3.6" height="0.8" fill="#a8c070"/>
<rect x="199.7" y="325.8" width="3.6" height="0.8" fill="#e0c060"/>
<rect x="203.3" y="325.8" width="3.6" height="0.8" fill="#e88a60"/>
<rect x="206.9" y="325.8" width="3.6" height="0.8" fill="#e07060"/>
<rect x="210.5" y="325.8" width="3.6" height="0.8" fill="#e8b060"/>
<rect x="214.1" y="325.8" width="3.6" height="0.8" fill="#a8c870"/>
<rect x="217.7" y="325.8" width="3.6" height="0.8" fill="#9ab8e8"/>
<path transform="scale(.25)" d="M869 1075h0m3 25h0m-6-14h0m-11 15h0m-1-1h0m-23 15h0m5 11h0m1-21h0m4 11h0m5 11h0m1-19h0m4 15h0m15-17h0m2 4h0m6 2h0m4 33h0m-3-16h0m-3 5h0m-3 14h0m-10-9h0m-11 8h0m-7-3h0m0 3h0m0-1h0m-3-11h0m-4-1h0m0 12h0m-7-3h0m-7 3h0m-7 0h0m-14 3h0m0-5h0m-14 3h0m4 23h0m4 3h0m5-21h0m4 11h0m0 12h0m1-3h0m0-10h0m1-3h0m1 14h0m0-20h0m1 16h0m0-5h0m0 4h0m0 3h0m1-4h0m0 8h0m0-10h0m0 9h0m0-1h0m1-2h0m0 4h0m1-10h0m0-1h0m0-10h0m0 18h0m0-5h0m2 6h0m0-11h0m0 8h0m1-4h0m0 7h0m0-1h0m1-8h0m0-2h0m2 0h0m0-1h0m0 4h0m0-1h0m1 0h0m0-5h0m0 9h0m0-5h0m0 2h0m1-4h0m0 4h0m1 3h0m1-5h0m0 7h0m1-4h0m0 3h0m0-1h0m1-3h0m0-5h0m1-6h0m0 9h0m0 3h0m1 4h0m0-10h0m1 9h0m0-7h0m1-10h0m0 18h0m0-6h0m1-5h0m1 10h0m0 4h0m0-5h0m0-14h0m0 18h0m0-1h0m0-1h0m1 0h0m0-14h0m0 4h0m0 14h0m0-2h0m1-1h0m1-2h0m0-5h0m0-7h0m2 16h0m1-4h0m0 4h0m0-11h0m1 13h0m0-19h0m0 13h0m0-10h0m0 13h0m1-9h0m0 9h0m1-2h0m0-6h0m0-1h0m0-5h0m0 17h0m1-13h0m0 9h0m0-7h0m1 10h0m0-19h0m1 20h0m0-10h0m0 4h0m0 3h0m1-14h0m1-5h0m1 22h0m0-14h0m1 3h0m0 7h0m1-1h0m3 2h0m2 3h0m2-11h0m0-12h0m5 19h0m3 3h0m10-10h0m4 2h0m1-13h0m3 17h0m1-4h0m-6 11h0m-11 1h0m-1 20h0m-1-7h0m-12 0h0m-1-14h0m-3 10h0m0 6h0m-2 4h0m0-14h0m0 8h0m0-12h0m-1 12h0m0-1h0m0-6h0m-1-8h0m0 18h0m0-1h0m0-10h0m-1-1h0m0-5h0m0 12h0m-1 1h0m0-6h0m0-6h0m0 8h0m-1-3h0m0-1h0m0 8h0m0-1h0m-2-13h0m0 9h0m0-7h0m-1 0h0m-1-1h0m0 3h0m-1 6h0m0-5h0m0 9h0m0-2h0m0-10h0m0 4h0m0-5h0m-1 11h0m0-11h0m0 3h0m0 18h0m0-14h0m-1 11h0m0 4h0m0-23h0m0 18h0m0 4h0m0-5h0m0 4h0m0-10h0m-1 6h0m-1 0h0m0 1h0m-1 5h0m0-2h0m-19-18h0m-1-1h0m0-2h0m-2 8h0m-1 5h0m-1-12h0m0 22h0m0-1h0m-1-5h0m0-15h0m0 13h0m-1-8h0m0 1h0m-1 14h0m0-6h0m-2 0h0m0-5h0m0-5h0m-1-4h0m-1 18h0m0-15h0m0-5h0m-1 15h0m0 8h0m-1-15h0m0 4h0m0-6h0m-2 17h0m-1-15h0m-1 3h0m-18 27h0m13-2h0m1-3h0m2 4h0m0 9h0m2-18h0m5 3h0m1 11h0m1-11h0m1 13h0m0-20h0m0 4h0m0 4h0m1-5h0m1 14h0m0-2h0m0 4h0m1-3h0m0-10h0m0 4h0m0-6h0m0 18h0m0-19h0m0 14h0m1-13h0m0-1h0m0 17h0m0-20h0m1 15h0m0-6h0m0-5h0m2 10h0m0 8h0m1-2h0m0-5h0m1 6h0m0 1h0m1-3h0m0-3h0m2 0h0m0 3h0m1 1h0m2-3h0m0 2h0m2-5h0m2 3h0m0-6h0m1 8h0m0-2h0m1 0h0m1-5h0m0 10h0m1-1h0m0-11h0m0 8h0m1 1h0m0-10h0m0-1h0m0 13h0m1-6h0m1-5h0m1-8h0m2 17h0m0-5h0m0-2h0m0-5h0m0-1h0m3-6h0m0 9h0m2 4h0m17-1h0m6-2h0m2-4h0m-16 23h0m-15 3h0m-1 7h0m-7-11h0m-2-3h0m0-1h0m-1 14h0m-1-3h0m-1 1h0m-1 2h0m0-5h0m-1-2h0m-1-6h0m-1 7h0m0-1h0m-1 4h0m0-5h0m-1 0h0m-1 11h0m0-12h0m-1 6h0m0 7h0m-1 1h0m0 3h0m-1-17h0m0 8h0m-1 3h0m0-7h0m-1-9h0m-1 16h0m-1-12h0m-1-4h0m-1 20h0m-1-19h0m-2 6h0m0 3h0m0 4h0m0 3h0m-1-7h0m0 8h0m0-1h0m-2-16h0m-3 12h0m-1-9h0m-1 11h0m-5-8h0m0-2h0m-18 22h0m21 20h0m1-10h0m4 5h0m2-18h0m3 23h0m6-21h0m2 6h0" stroke="#6b86dc" stroke-width="2.8" stroke-linecap="round"/>
<path transform="scale(.25)" d="M865 1143h0m-14-8h0m-1 1h0m-38 38h0m1 1h0m0-1h0m1-1h0m0 2h0m1-1h0m0-1h0m1 2h0m1-3h0m0 2h0m1 0h0m0 1h0m0-3h0m1 1h0m0 1h0m1-1h0m0 2h0m1-3h0m0 2h0m0-1h0m1 2h0m1-2h0m0 1h0m1-2h0m2 3h0m16-14h0m10 14h0m2-1h0m1 1h0m4-8h0m2-3h0m-32 21h0m0 2h0m0-8h0m-1 5h0m0 2h0m0-5h0m0 4h0m0-7h0m-1 3h0m0 2h0m0 2h0m0-5h0m0 4h0m-1 1h0m0-7h0m0 9h0m0 4h0m0-14h0m0 18h0m0-5h0m-1-13h0m0 15h0m0-14h0m-1 18h0m0-4h0m-2-16h0m-8 1h0m-2 3h0m-1 0h0m0 2h0m0-3h0m-1 7h0m0-7h0m0 4h0m0-5h0m0 2h0m-1-1h0m0 2h0m-1 2h0m0 9h0m0-5h0m0-1h0m-1 7h0m-1-1h0m-1 6h0m0-10h0m-1 7h0m-1 1h0m0 9h0m1 5h0m1-2h0m0-7h0m0 12h0m1-1h0m0-11h0m1 3h0m0 4h0m1-4h0m0 2h0m0 9h0m2-6h0m0 4h0m1-4h0m0 2h0m1-2h0m3-2h0m0 2h0m0 1h0m1-4h0m0 4h0m1-8h0m0 6h0m0-5h0m1 1h0m1-2h0m0 1h0m1-3h0" stroke="#4a8ad4" stroke-width="3.6" stroke-linecap="round"/>
<path transform="scale(.25)" d="M860 1150h0m-7-10h0m-1-2h0m-4 29h0m2 2h0m3-2h0m3-13h0m4 0h0m-35 32h0m0-3h0m-1 6h0m0-5h0m0-5h0m0 9h0m0-7h0m0 4h0m-1-3h0m0 9h0m0-10h0m-1 0h0m0 2h0m0-7h0m0 9h0m0-7h0m0 6h0m0-5h0m0 14h0m-1-6h0m0 9h0m0-16h0m0 11h0m-1 3h0m0-16h0m0-1h0m0 9h0m0-7h0m0 9h0m0 9h0m-1-20h0m0 14h0m0-12h0m0 13h0m0-16h0m0 4h0m-1 15h0m0-14h0m0 11h0m0 2h0m0-16h0m0 2h0m0 18h0m0-19h0m-1 3h0m0-5h0m0 2h0m0 14h0m0-12h0m0 2h0m0-7h0m-1 7h0m0-7h0m0 2h0m0 2h0m0 13h0m0-14h0m-1-2h0m0 2h0m0 4h0m0-5h0m0 20h0m-1-12h0m0-3h0m0-5h0m0 2h0m0 11h0m-1-9h0m0-3h0m0 14h0m0-12h0m0 13h0m-1-7h0m0-3h0m-1 3h0m0-1h0m-1 2h0m-1 10h0m0-7h0m0 6h0m-1-3h0m1 7h0m1 3h0m1 1h0m0-5h0m0 2h0m0-1h0m1 0h0m0-1h0m0 2h0m1 1h0m0 2h0m0-1h0m1 0h0" stroke="#5cb848" stroke-width="4.4" stroke-linecap="round"/>
<path transform="scale(.25)" d="M853 1158h0m-33 29h0m0-2h0m-1 1h0m-1 1h0m0-5h0m-1 2h0m-1 6h0m0-2h0" stroke="#d8cc3c" stroke-width="4.4" stroke-linecap="round"/>
<line x1="208.5" y1="261.5" x2="208.5" y2="326.4" stroke="#5a5a5a" stroke-width="0.8"/>
<line x1="174.2" y1="290.2" x2="239.3" y2="290.2" stroke="#5a5a5a" stroke-width="0.8"/>
<text x="177.2" y="266.5" font-family='"Liberation Sans", sans-serif' font-size="2.9" fill="#222">Q1</text>
<text x="177.2" y="270.5" font-family='"Liberation Sans", sans-serif' font-size="2.9" fill="#222">0.28</text>
<text x="236.3" y="266.5" font-family='"Liberation Sans", sans-serif' font-size="2.9" text-anchor="end" fill="#222">Q2</text>
<text x="236.3" y="270.5" font-family='"Liberation Sans", sans-serif' font-size="2.9" text-anchor="end" fill="#222">8.75</text>
<text x="177.2" y="318.9" font-family='"Liberation Sans", sans-serif' font-size="2.9" fill="#222">Q4</text>
<text x="177.2" y="322.9" font-family='"Liberation Sans", sans-serif' font-size="2.9" fill="#222">90.1</text>
<text x="236.3" y="318.9" font-family='"Liberation Sans", sans-serif' font-size="2.9" text-anchor="end" fill="#222">Q3</text>
<text x="236.3" y="322.9" font-family='"Liberation Sans", sans-serif' font-size="2.9" text-anchor="end" fill="#222">24.3</text>
<text x="164" y="295.3" font-family='"Liberation Serif", serif' font-size="5.8" text-anchor="middle" fill="#000" transform="rotate(90 164 295.3)">+JQ-1(0.5 uM)</text>
<rect x="260.5" y="261.5" width="65.1" height="64.9" fill="#fff" stroke="#c4c4c4" stroke-width="0.6"/>
<line x1="258.5" y1="263" x2="260.5" y2="263" stroke="#777" stroke-width="0.4"/>
<line x1="258.5" y1="270.9" x2="260.5" y2="270.9" stroke="#777" stroke-width="0.4"/>
<line x1="258.5" y1="278.8" x2="260.5" y2="278.8" stroke="#777" stroke-width="0.4"/>
<line x1="258.5" y1="286.7" x2="260.5" y2="286.7" stroke="#777" stroke-width="0.4"/>
<line x1="258.5" y1="294.6" x2="260.5" y2="294.6" stroke="#777" stroke-width="0.4"/>
<line x1="258.5" y1="302.5" x2="260.5" y2="302.5" stroke="#777" stroke-width="0.4"/>
<line x1="258.5" y1="310.4" x2="260.5" y2="310.4" stroke="#777" stroke-width="0.4"/>
<line x1="258.5" y1="318.3" x2="260.5" y2="318.3" stroke="#777" stroke-width="0.4"/>
<line x1="258.5" y1="326.2" x2="260.5" y2="326.2" stroke="#777" stroke-width="0.4"/>
<line x1="262.5" y1="326.4" x2="262.5" y2="328.4" stroke="#777" stroke-width="0.4"/>
<text x="262.5" y="330.9" font-family='"Liberation Sans", sans-serif' font-size="1.6" text-anchor="middle" fill="#888">10</text>
<line x1="268.6" y1="326.4" x2="268.6" y2="328.4" stroke="#777" stroke-width="0.4"/>
<text x="268.6" y="330.9" font-family='"Liberation Sans", sans-serif' font-size="1.6" text-anchor="middle" fill="#888">10</text>
<line x1="274.7" y1="326.4" x2="274.7" y2="328.4" stroke="#777" stroke-width="0.4"/>
<text x="274.7" y="330.9" font-family='"Liberation Sans", sans-serif' font-size="1.6" text-anchor="middle" fill="#888">10</text>
<line x1="280.8" y1="326.4" x2="280.8" y2="328.4" stroke="#777" stroke-width="0.4"/>
<text x="280.8" y="330.9" font-family='"Liberation Sans", sans-serif' font-size="1.6" text-anchor="middle" fill="#888">10</text>
<line x1="286.9" y1="326.4" x2="286.9" y2="328.4" stroke="#777" stroke-width="0.4"/>
<text x="286.9" y="330.9" font-family='"Liberation Sans", sans-serif' font-size="1.6" text-anchor="middle" fill="#888">10</text>
<line x1="293" y1="326.4" x2="293" y2="328.4" stroke="#777" stroke-width="0.4"/>
<text x="293" y="330.9" font-family='"Liberation Sans", sans-serif' font-size="1.6" text-anchor="middle" fill="#888">10</text>
<line x1="299.1" y1="326.4" x2="299.1" y2="328.4" stroke="#777" stroke-width="0.4"/>
<text x="299.1" y="330.9" font-family='"Liberation Sans", sans-serif' font-size="1.6" text-anchor="middle" fill="#888">10</text>
<line x1="305.2" y1="326.4" x2="305.2" y2="328.4" stroke="#777" stroke-width="0.4"/>
<text x="305.2" y="330.9" font-family='"Liberation Sans", sans-serif' font-size="1.6" text-anchor="middle" fill="#888">10</text>
<line x1="311.3" y1="326.4" x2="311.3" y2="328.4" stroke="#777" stroke-width="0.4"/>
<text x="311.3" y="330.9" font-family='"Liberation Sans", sans-serif' font-size="1.6" text-anchor="middle" fill="#888">10</text>
<line x1="317.4" y1="326.4" x2="317.4" y2="328.4" stroke="#777" stroke-width="0.4"/>
<text x="317.4" y="330.9" font-family='"Liberation Sans", sans-serif' font-size="1.6" text-anchor="middle" fill="#888">10</text>
<line x1="323.5" y1="326.4" x2="323.5" y2="328.4" stroke="#777" stroke-width="0.4"/>
<text x="323.5" y="330.9" font-family='"Liberation Sans", sans-serif' font-size="1.6" text-anchor="middle" fill="#888">10</text>
<rect x="278.8" y="325.8" width="3.6" height="0.8" fill="#8aa8e0"/>
<rect x="282.4" y="325.8" width="3.6" height="0.8" fill="#a8c070"/>
<rect x="286" y="325.8" width="3.6" height="0.8" fill="#e0c060"/>
<rect x="289.6" y="325.8" width="3.6" height="0.8" fill="#e88a60"/>
<rect x="293.2" y="325.8" width="3.6" height="0.8" fill="#e07060"/>
<rect x="296.8" y="325.8" width="3.6" height="0.8" fill="#e8b060"/>
<rect x="300.4" y="325.8" width="3.6" height="0.8" fill="#a8c870"/>
<rect x="304" y="325.8" width="3.6" height="0.8" fill="#9ab8e8"/>
<path transform="scale(.25)" d="M1190 1079h0m25 2h0m-11 18h0m-23-8h0m-5 27h0m16-3h0m7 2h0m4 6h0m1-15h0m3 10h0m2-1h0m3-12h0m1 0h0m1 15h0m5-5h0m12-10h0m-10 35h0m-8 0h0m-1 10h0m-21-18h0m-1 19h0m-1-12h0m-4 12h0m-2-15h0m-1 13h0m0-5h0m-5-16h0m0 18h0m-5 3h0m0-6h0m-8 5h0m-1 3h0m-2-3h0m-19-1h0m-2 15h0m3 11h0m0 2h0m1 0h0m1-7h0m0-10h0m3 5h0m0 4h0m0 7h0m0-15h0m1 14h0m0-19h0m0 9h0m1 9h0m0-1h0m1-3h0m0 2h0m0-10h0m1 10h0m1-9h0m0 11h0m1-13h0m0 13h0m0-10h0m0 13h0m1-13h0m0 13h0m1-19h0m1 8h0m0 7h0m0-5h0m1 4h0m0 3h0m1-14h0m0 9h0m0-14h0m0 8h0m0-5h0m0 14h0m3-12h0m1 10h0m0-12h0m0 13h0m1-4h0m1-1h0m1 3h0m0-6h0m1 0h0m0 8h0m0-15h0m1 9h0m0-3h0m1 1h0m1-3h0m0 4h0m0-1h0m0 7h0m1 3h0m0-6h0m1 2h0m1 3h0m1-12h0m0 9h0m0 4h0m0-10h0m1-10h0m1 21h0m0-1h0m0-14h0m0 9h0m0-5h0m0-6h0m1 14h0m0 2h0m1-8h0m0-6h0m0 17h0m0-15h0m1 12h0m0-20h0m0 17h0m1-7h0m1-8h0m0 18h0m1-2h0m0-1h0m1-17h0m0 18h0m0 3h0m0-11h0m3-6h0m0 4h0m0 8h0m2 5h0m1-11h0m2 3h0m2 9h0m19-21h0m0 4h0m-3 28h0m-2 0h0m-1-8h0m0 2h0m-11 14h0m-1-9h0m-2 3h0m0 3h0m-2-1h0m0-5h0m-1-8h0m0 13h0m0-6h0m-1 16h0m0-17h0m-1 3h0m-1 13h0m-2-2h0m0-20h0m0 9h0m0-6h0m-1 19h0m0-16h0m-1-5h0m0 3h0m-1-2h0m0 13h0m0 7h0m-1-14h0m0 4h0m-1 4h0m0-10h0m0-2h0m-1 6h0m0-8h0m-1 2h0m0-1h0m0 2h0m-1 11h0m0-6h0m0-6h0m-1 19h0m0-5h0m0-5h0m0-11h0m0 8h0m0-5h0m-1 11h0m-1 4h0m-1 3h0m-8-11h0m-11-12h0m0 3h0m0-2h0m-1-1h0m0 4h0m-1 1h0m0-3h0m-1 6h0m-1 5h0m0-10h0m-1-3h0m0 4h0m0 9h0m0 3h0m-1-7h0m0-6h0m0 9h0m0-5h0m-1-7h0m0 12h0m-1-4h0m0 12h0m-1-4h0m0 4h0m0-10h0m0 3h0m-2 4h0m-1-7h0m-3 13h0m-2-12h0m-14 27h0m3 1h0m1-13h0m1 2h0m2 18h0m1 0h0m1 1h0m1 0h0m1-22h0m2 0h0m0 7h0m1 7h0m2-4h0m0 2h0m2-9h0m1 16h0m0-14h0m1 11h0m0-16h0m2 21h0m1-18h0m0-1h0m1 20h0m0-10h0m0 4h0m0-10h0m1 9h0m0-10h0m0 8h0m0-1h0m1 6h0m0-5h0m1-1h0m4 6h0m3-1h0m0 4h0m1-3h0m0 4h0m0-6h0m1-3h0m0 4h0m1-4h0m1 0h0m1 9h0m0-10h0m0 4h0m1 6h0m0-5h0m0-1h0m0 2h0m1-2h0m0-5h0m1 0h0m0-2h0m1 7h0m1 2h0m0-6h0m0-1h0m1 1h0m0 3h0m1-11h0m1-1h0m0 3h0m0-5h0m1 8h0m0-1h0m2 4h0m0 6h0m1-10h0m0 4h0m2-7h0m0 3h0m1-9h0m2 11h0m5-11h0m24 3h0m-34 22h0m-5 11h0m-2-8h0m0 4h0m-1-8h0m-1 2h0m0 9h0m0-2h0m-1-8h0m0 1h0m-1 16h0m-3-18h0m-1 20h0m-1-15h0m-1 8h0m0-13h0m-1 19h0m-1-7h0m0-10h0m-2 17h0m0-16h0m-1 1h0m-1 16h0m0-14h0m0-3h0m-1 16h0m0-14h0m-1 4h0m-1 11h0m0-19h0m-1 1h0m-1 11h0m0-3h0m0-10h0m-1 0h0m-1 22h0m-1-5h0m-1-6h0m-3 7h0m0-6h0m0-10h0m-1 14h0m0-15h0m-1-1h0m-1 16h0m-1 5h0m0-6h0m-2-5h0m-1-10h0m-5 13h0m-59 10h0m41 22h0m14-9h0m9-11h0m0 4h0m0 3h0m1-1h0m1 5h0m2 1h0m0 1h0m0-14h0m1 8h0m1 3h0m3-1h0m3-5h0m1 8h0m1-6h0m9-6h0m33 7h0m-44 32h0m-4-16h0" stroke="#6b86dc" stroke-width="2.8" stroke-linecap="round"/>
<path transform="scale(.25)" d="M1202 1134h0m-9 1h0m-1 6h0m-33 33h0m0-1h0m2 1h0m0-3h0m2 0h0m0 2h0m0 2h0m1-4h0m0 1h0m0 2h0m1 0h0m0 1h0m1 0h0m0-1h0m1-2h0m1 3h0m0-3h0m0 2h0m1 0h0m0 1h0m1-3h0m0 1h0m0 2h0m1 0h0m16-7h0m1-16h0m2 15h0m10 7h0m2-3h0m4-3h0m-14 10h0m-18 4h0m0-5h0m0 6h0m0-7h0m0 2h0m-1 5h0m0-3h0m0 2h0m0 2h0m0 4h0m-1-11h0m0 11h0m0-12h0m0 9h0m0 9h0m0-16h0m0 13h0m-1-6h0m0 2h0m0-7h0m0 9h0m0-5h0m0-3h0m-1 12h0m0-16h0m0 15h0m0-14h0m-1 17h0m0-19h0m-1 21h0m-9-20h0m-1 0h0m0-1h0m-2 4h0m0-1h0m-1 1h0m0 4h0m-1-7h0m0 2h0m0 4h0m-1 10h0m0-12h0m-1 9h0m-1 8h0m0-2h0m-1 3h0m0-10h0m-1 9h0m-1 6h0m0 2h0m0-3h0m0 6h0m1 3h0m0-8h0m0 4h0m1-5h0m0 2h0m0-3h0m1-2h0m0 6h0m0-5h0m0 4h0m1 4h0m0-1h0m1 5h0m0 2h0m1-9h0m0 2h0m0 2h0m0 4h0m1-7h0m0 2h0m0-3h0m0 2h0m0 2h0m0 2h0m0-7h0m1 4h0m1-1h0m0 4h0m1 0h0m0 2h0m0-6h0m0 2h0m1 0h0m0 2h0m1-5h0m0 2h0m1 0h0m0-3h0m0 6h0m1-6h0m0-1h0m1 0h0m1-4h0m0 1h0m1-1h0m1 1h0m0 2h0" stroke="#4a8ad4" stroke-width="3.6" stroke-linecap="round"/>
<path transform="scale(.25)" d="M1202 1143h0m-4 0h0m-2 7h0m-3-4h0m1 24h0m3-1h0m4-2h0m-31 12h0m0 2h0m0 2h0m0 4h0m0-7h0m-1 3h0m0-5h0m0 8h0m-1 1h0m0-7h0m0 2h0m0 2h0m0 4h0m0-7h0m0 4h0m-1-2h0m0-7h0m0 6h0m0 2h0m0-7h0m0 11h0m-1-8h0m0 11h0m0-7h0m0-5h0m0 11h0m0-7h0m0 11h0m0 2h0m-1-20h0m0 2h0m0 9h0m-1 7h0m0-14h0m0 9h0m0 6h0m0-5h0m0 9h0m-1-18h0m0 16h0m0-19h0m0 18h0m0-5h0m0-14h0m-1 3h0m0 11h0m0-10h0m0 16h0m0-14h0m0 11h0m0-16h0m-1 6h0m0-3h0m0 2h0m0-5h0m-1 14h0m0-7h0m0 9h0m0-3h0m0-10h0m-1 11h0m0 2h0m0 2h0m0-16h0m0 11h0m-1-6h0m0 9h0m0 4h0m0-10h0m0 9h0m-1-15h0m-1 17h0m0-5h0m0-7h0m0-3h0m0 9h0m-1-6h0m-1 9h0m-1 0h0m4 4h0m0 3h0m1 0h0m0-3h0m0 1h0m3 2h0m0-3h0m1 2h0m1-2h0" stroke="#5cb848" stroke-width="4.4" stroke-linecap="round"/>
<path transform="scale(.25)" d="M1165 1183h0m0-1h0m-2 1h0m0 6h0m0-7h0m0 2h0m-1 5h0" stroke="#d8cc3c" stroke-width="4.4" stroke-linecap="round"/>
<line x1="294.8" y1="261.5" x2="294.8" y2="326.4" stroke="#5a5a5a" stroke-width="0.8"/>
<line x1="260.5" y1="290.2" x2="325.6" y2="290.2" stroke="#5a5a5a" stroke-width="0.8"/>
<text x="263.5" y="266.5" font-family='"Liberation Sans", sans-serif' font-size="2.9" fill="#222">Q1</text>
<text x="263.5" y="270.5" font-family='"Liberation Sans", sans-serif' font-size="2.9" fill="#222">0.31</text>
<text x="322.6" y="266.5" font-family='"Liberation Sans", sans-serif' font-size="2.9" text-anchor="end" fill="#222">Q2</text>
<text x="322.6" y="270.5" font-family='"Liberation Sans", sans-serif' font-size="2.9" text-anchor="end" fill="#222">0.87</text>
<text x="263.5" y="318.9" font-family='"Liberation Sans", sans-serif' font-size="2.9" fill="#222">Q4</text>
<text x="263.5" y="322.9" font-family='"Liberation Sans", sans-serif' font-size="2.9" fill="#222">98.2</text>
<text x="322.6" y="318.9" font-family='"Liberation Sans", sans-serif' font-size="2.9" text-anchor="end" fill="#222">Q3</text>
<text x="322.6" y="322.9" font-family='"Liberation Sans", sans-serif' font-size="2.9" text-anchor="end" fill="#222">14.8</text>
<text x="250.3" y="295.3" font-family='"Liberation Serif", serif' font-size="5.8" text-anchor="middle" fill="#000" transform="rotate(90 250.3 295.3)">+JQ-1(0.4 uM)</text>
<rect x="174.2" y="335.4" width="65.1" height="64.9" fill="#fff" stroke="#c4c4c4" stroke-width="0.6"/>
<line x1="172.2" y1="336.9" x2="174.2" y2="336.9" stroke="#777" stroke-width="0.4"/>
<line x1="172.2" y1="344.8" x2="174.2" y2="344.8" stroke="#777" stroke-width="0.4"/>
<line x1="172.2" y1="352.7" x2="174.2" y2="352.7" stroke="#777" stroke-width="0.4"/>
<line x1="172.2" y1="360.6" x2="174.2" y2="360.6" stroke="#777" stroke-width="0.4"/>
<line x1="172.2" y1="368.5" x2="174.2" y2="368.5" stroke="#777" stroke-width="0.4"/>
<line x1="172.2" y1="376.4" x2="174.2" y2="376.4" stroke="#777" stroke-width="0.4"/>
<line x1="172.2" y1="384.3" x2="174.2" y2="384.3" stroke="#777" stroke-width="0.4"/>
<line x1="172.2" y1="392.2" x2="174.2" y2="392.2" stroke="#777" stroke-width="0.4"/>
<line x1="172.2" y1="400.1" x2="174.2" y2="400.1" stroke="#777" stroke-width="0.4"/>
<line x1="176.2" y1="400.3" x2="176.2" y2="402.3" stroke="#777" stroke-width="0.4"/>
<text x="176.2" y="404.8" font-family='"Liberation Sans", sans-serif' font-size="1.6" text-anchor="middle" fill="#888">10</text>
<line x1="182.3" y1="400.3" x2="182.3" y2="402.3" stroke="#777" stroke-width="0.4"/>
<text x="182.3" y="404.8" font-family='"Liberation Sans", sans-serif' font-size="1.6" text-anchor="middle" fill="#888">10</text>
<line x1="188.4" y1="400.3" x2="188.4" y2="402.3" stroke="#777" stroke-width="0.4"/>
<text x="188.4" y="404.8" font-family='"Liberation Sans", sans-serif' font-size="1.6" text-anchor="middle" fill="#888">10</text>
<line x1="194.5" y1="400.3" x2="194.5" y2="402.3" stroke="#777" stroke-width="0.4"/>
<text x="194.5" y="404.8" font-family='"Liberation Sans", sans-serif' font-size="1.6" text-anchor="middle" fill="#888">10</text>
<line x1="200.6" y1="400.3" x2="200.6" y2="402.3" stroke="#777" stroke-width="0.4"/>
<text x="200.6" y="404.8" font-family='"Liberation Sans", sans-serif' font-size="1.6" text-anchor="middle" fill="#888">10</text>
<line x1="206.7" y1="400.3" x2="206.7" y2="402.3" stroke="#777" stroke-width="0.4"/>
<text x="206.7" y="404.8" font-family='"Liberation Sans", sans-serif' font-size="1.6" text-anchor="middle" fill="#888">10</text>
<line x1="212.8" y1="400.3" x2="212.8" y2="402.3" stroke="#777" stroke-width="0.4"/>
<text x="212.8" y="404.8" font-family='"Liberation Sans", sans-serif' font-size="1.6" text-anchor="middle" fill="#888">10</text>
<line x1="218.9" y1="400.3" x2="218.9" y2="402.3" stroke="#777" stroke-width="0.4"/>
<text x="218.9" y="404.8" font-family='"Liberation Sans", sans-serif' font-size="1.6" text-anchor="middle" fill="#888">10</text>
<line x1="225" y1="400.3" x2="225" y2="402.3" stroke="#777" stroke-width="0.4"/>
<text x="225" y="404.8" font-family='"Liberation Sans", sans-serif' font-size="1.6" text-anchor="middle" fill="#888">10</text>
<line x1="231.1" y1="400.3" x2="231.1" y2="402.3" stroke="#777" stroke-width="0.4"/>
<text x="231.1" y="404.8" font-family='"Liberation Sans", sans-serif' font-size="1.6" text-anchor="middle" fill="#888">10</text>
<line x1="237.2" y1="400.3" x2="237.2" y2="402.3" stroke="#777" stroke-width="0.4"/>
<text x="237.2" y="404.8" font-family='"Liberation Sans", sans-serif' font-size="1.6" text-anchor="middle" fill="#888">10</text>
<rect x="192.5" y="399.7" width="3.6" height="0.8" fill="#8aa8e0"/>
<rect x="196.1" y="399.7" width="3.6" height="0.8" fill="#a8c070"/>
<rect x="199.7" y="399.7" width="3.6" height="0.8" fill="#e0c060"/>
<rect x="203.3" y="399.7" width="3.6" height="0.8" fill="#e88a60"/>
<rect x="206.9" y="399.7" width="3.6" height="0.8" fill="#e07060"/>
<rect x="210.5" y="399.7" width="3.6" height="0.8" fill="#e8b060"/>
<rect x="214.1" y="399.7" width="3.6" height="0.8" fill="#a8c870"/>
<rect x="217.7" y="399.7" width="3.6" height="0.8" fill="#9ab8e8"/>
<path transform="scale(.25)" d="M842 1412h0m4-16h0m2 19h0m3 0h0m1 0h0m1-7h0m1 2h0m5-5h0m0 10h0m4-3h0m0 3h0m3-1h0m3-3h0m0-2h0m1 0h0m2 4h0m9 0h0m2 22h0m-8-14h0m-1 14h0m0-16h0m-2 20h0m-3-6h0m-1 1h0m-1 1h0m-1-19h0m0 3h0m-1 5h0m-1 2h0m-1 2h0m-1-4h0m0-2h0m-1-5h0m-2 4h0m-3 1h0m0-3h0m-1-3h0m0 8h0m-1-8h0m-2 4h0m0 8h0m-2 4h0m0-2h0m0-5h0m-1 9h0m0-13h0m0-1h0m-2 4h0m-3 0h0m-4 14h0m-1-2h0m-2-6h0m-35 32h0m6-8h0m1-4h0m1 10h0m0 2h0m1-8h0m2 0h0m4 9h0m2-8h0m3 7h0m0-1h0m0-2h0m4 4h0m3-4h0m4-3h0m3 6h0m2-20h0m1 21h0m0-20h0m1 18h0m0-2h0m1-7h0m1 7h0m0-11h0m0 9h0m1-2h0m1 1h0m0-6h0m1-10h0m1 3h0m0-1h0m0-2h0m2 13h0m16 10h0m1-7h0m0 7h0m1-13h0m1 5h0m0 4h0m0-16h0m0-1h0m0 9h0m1-8h0m0 9h0m1 2h0m0-11h0m1 4h0m1 0h0m2 5h0m1-9h0m0 4h0m0 7h0m1-1h0m2-4h0m-6 20h0m0 4h0m-4-9h0m0 6h0m-1-1h0m-3-4h0m-1 5h0m0 9h0m0-10h0m0 13h0m-3-7h0m-1 7h0m0-2h0m0-5h0m0 4h0m-1-6h0m-1-6h0m0 8h0m-3 9h0m-1-2h0m0-8h0m0-1h0m-1-1h0m-1 15h0m0-16h0m-1 0h0m0 13h0m0-14h0m0 9h0m0-5h0m-1 10h0m0-14h0m0 12h0m0-5h0m-1 9h0m0-14h0m0-7h0m-1 15h0m0-1h0m0-11h0m-1 12h0m-2-14h0m0 8h0m0-10h0m-1 19h0m0-5h0m0 9h0m0-15h0m0-6h0m0 9h0m-1-5h0m-1 4h0m0-10h0m-2 12h0m-1 3h0m0-8h0m-2 10h0m-2 1h0m0-6h0m0 9h0m-1-11h0m0 13h0m0-1h0m0-14h0m-1 13h0m-1 1h0m0-19h0m0 8h0m0 7h0m-1-3h0m0 4h0m0 3h0m-1-9h0m0-10h0m0 9h0m0 4h0m0-7h0m-1-1h0m0 4h0m0 10h0m0-2h0m0-5h0m0-6h0m-1 0h0m-4-2h0m-2-7h0m0 4h0m-1 3h0m0-5h0m-1 2h0m-2 0h0m-1 2h0m-1-1h0m-2 1h0m0-5h0m-1 3h0m-1 2h0m0 2h0m0-5h0m-1-3h0m-1 6h0m-1-1h0m0 4h0m-1-8h0m-1 14h0m-1-2h0m0-10h0m-1 14h0m0-6h0m0 4h0m-1 0h0m0-6h0m-2 4h0m0 4h0m0-2h0m0 3h0m-1-3h0m0-7h0m0 8h0m-1 7h0m0-15h0m0-6h0m0 12h0m-1 3h0m0 4h0m-1-15h0m0-2h0m0 17h0m0-19h0m-1 1h0m0 18h0m-2-19h0m-6 1h0m-5 17h0m-1 4h0m1 16h0m6-1h0m1-7h0m1-3h0m2 13h0m1-11h0m2 14h0m1-20h0m0 19h0m0-5h0m2-2h0m1-3h0m0 9h0m0-7h0m0-10h0m2-1h0m0 3h0m16 18h0m3-5h0m1-1h0m1 4h0m1-2h0m0-1h0m1-7h0m0-4h0m1 17h0m1-21h0m2 7h0m2-7h0m0 7h0m5-5h0m4-4h0m3 0h0m1 0h0m3 3h0m3 6h0m1-2h0m0-5h0m0-2h0m3 6h0m2-6h0m1 2h0m6 8h0m0-7h0m2 17h0m6-10h0m-44 17h0m-1 14h0m0-13h0m-6 13h0m0-15h0m-1 17h0m0-10h0m-3-6h0m-4 3h0m-1 6h0m-1-8h0m-1 6h0m0 10h0m-1-3h0m-1-11h0m0 9h0m-2-2h0m0 9h0m-1-2h0m0-15h0m0 4h0m-3 11h0m0-6h0m-1-5h0m0 6h0m-1-13h0m0 9h0m0 9h0m0-10h0m-3 2h0m0 8h0m0-16h0m-2 10h0m-2-2h0m0 4h0m-1 0h0m0-7h0m-1 3h0m-2-1h0m-2-1h0m-7 6h0m-1 22h0m2 6h0m1-5h0m3-1h0m4-10h0m6 4h0m0 8h0m1-14h0m0-1h0m1 1h0m2 21h0m0-23h0m0 8h0m1 10h0m1-15h0m1 9h0m3-6h0m1 15h0m1-4h0m5-11h0m17 13h0m-32 24h0m-3-15h0m-29 18h0m16 14h0m16-1h0" stroke="#6b86dc" stroke-width="2.8" stroke-linecap="round"/>
<path transform="scale(.25)" d="M864 1434h0m-2-3h0m0 4h0m-1-1h0m-1-5h0m0 4h0m-1-2h0m-1-3h0m-1 2h0m-1-1h0m0 2h0m-4 5h0m0 2h0m-1-4h0m0 2h0m0 3h0m-4 23h0m0-16h0m0 11h0m0-7h0m1 13h0m0-17h0m0 3h0m0-7h0m1-2h0m0 9h0m0 13h0m0-5h0m1-14h0m0 20h0m0-5h0m1 3h0m0 1h0m1-22h0m4 23h0m3 0h0m2-1h0m0-1h0m1-1h0m2-18h0m1 4h0m0-3h0m1 4h0m0-3h0m0 2h0m1-5h0m-7 26h0m-1-3h0m-2 4h0m0 2h0m-1-3h0m-1 2h0m-1-3h0m0 2h0m-1-4h0m-1 4h0m0 2h0m-1-4h0m-2-1h0m0 1h0m-23 20h0m0-3h0m0 2h0m-1-6h0m-1 5h0m0-8h0m-1 6h0m0 2h0m0-6h0m0 9h0m-1-13h0m0 2h0m-1 3h0m0-7h0m0 3h0m-3 0h0m-1-3h0m0 2h0m0 2h0m-1-1h0m-1-1h0m-1 2h0m0-1h0m0-1h0m-1-2h0m-1 4h0m-1 0h0m0 2h0m-1-2h0m-1 2h0m-1 1h0m-1 2h0m0-1h0m-2 2h0m0 3h0m-4 22h0m2-2h0m0-7h0m0 9h0m0-5h0m0 6h0m0 2h0m1-8h0m0-3h0m1-10h0m2 17h0m0 2h0m1 0h0m3 3h0m2-6h0m0 3h0m2-6h0m1 0h0m0 6h0m1-10h0m1 3h0m1 1h0m0-8h0m2-4h0m1 7h0m-10 16h0m-2 0h0m-1 0h0m-3 3h0m-3-2h0m0 1h0" stroke="#4a8ad4" stroke-width="3.6" stroke-linecap="round"/>
<path transform="scale(.25)" d="M862 1438h0m-1-2h0m-4 1h0m0-1h0m-1 0h0m0-1h0m-2 4h0m0-2h0m-3 16h0m0 6h0m1-18h0m0 20h0m0-16h0m0 2h0m1 11h0m0-5h0m0 2h0m0 6h0m0-7h0m1 5h0m0-7h0m0-5h0m0-7h0m1 0h0m0 18h0m0-5h0m0 9h0m0-5h0m0 2h0m0 4h0m1-20h0m0 13h0m0 2h0m1-5h0m0 4h0m0-3h0m1 6h0m1-9h0m0 8h0m1-13h0m0 8h0m1 0h0m1-3h0m0 2h0m0-7h0m1-5h0m-41 42h0m-1-4h0m0 4h0m0 2h0m-1-1h0m0 3h0m-1-8h0m0-1h0m0 9h0m0-7h0m-1 0h0m0-1h0m-1 0h0m0 2h0m0-5h0m0 2h0m-1 1h0m-1 2h0m0-5h0m0 2h0m0 2h0m-1-2h0m0 2h0m0 2h0m0-5h0m0 6h0m-1-1h0m0-5h0m0 4h0m0 2h0m-1-5h0m0 1h0m-1 5h0m0-2h0m-1 0h0m-1 0h0m-1 5h0m-3 8h0m2 5h0m0-3h0m0-5h0m1 10h0m0-7h0m1 5h0m0 4h0m1-12h0m0 9h0m0-8h0m1 2h0m0 1h0m0-7h0m1 11h0m0-5h0m1 0h0m0 2h0m1 2h0m0-4h0m1-3h0m0 2h0m0 4h0m0 2h0m1-2h0m0-5h0m1-3h0m1 4h0" stroke="#5cb848" stroke-width="4.4" stroke-linecap="round"/>
<path transform="scale(.25)" d="M855 1450h0m0-2h0m1 1h0m0 3h0m1-2h0m0-5h0m1 1h0m-41 39h0m-1-1h0m0 1h0m-1-2h0m0 2h0m-1-2h0m0 2h0m-1 1h0m0-1h0m0-1h0m0 8h0" stroke="#d8cc3c" stroke-width="4.4" stroke-linecap="round"/>
<line x1="208.5" y1="335.4" x2="208.5" y2="400.3" stroke="#5a5a5a" stroke-width="0.8"/>
<line x1="174.2" y1="364.1" x2="239.3" y2="364.1" stroke="#5a5a5a" stroke-width="0.8"/>
<text x="177.2" y="340.4" font-family='"Liberation Sans", sans-serif' font-size="2.9" fill="#222">Q1</text>
<text x="177.2" y="344.4" font-family='"Liberation Sans", sans-serif' font-size="2.9" fill="#222">0.30</text>
<text x="236.3" y="340.4" font-family='"Liberation Sans", sans-serif' font-size="2.9" text-anchor="end" fill="#222">Q2</text>
<text x="236.3" y="344.4" font-family='"Liberation Sans", sans-serif' font-size="2.9" text-anchor="end" fill="#222">34.3</text>
<text x="177.2" y="392.8" font-family='"Liberation Sans", sans-serif' font-size="2.9" fill="#222">Q4</text>
<text x="177.2" y="396.8" font-family='"Liberation Sans", sans-serif' font-size="2.9" fill="#222">43.3</text>
<text x="236.3" y="392.8" font-family='"Liberation Sans", sans-serif' font-size="2.9" text-anchor="end" fill="#222">Q3</text>
<text x="236.3" y="396.8" font-family='"Liberation Sans", sans-serif' font-size="2.9" text-anchor="end" fill="#222">43.7</text>
<text x="164" y="371.6" font-family='"Liberation Serif", serif' font-size="5.8" text-anchor="middle" fill="#000" transform="rotate(90 164 371.6)">+JQ1-1 (1 uM)</text>
<rect x="260.5" y="335.4" width="65.1" height="64.9" fill="#fff" stroke="#c4c4c4" stroke-width="0.6"/>
<line x1="258.5" y1="336.9" x2="260.5" y2="336.9" stroke="#777" stroke-width="0.4"/>
<line x1="258.5" y1="344.8" x2="260.5" y2="344.8" stroke="#777" stroke-width="0.4"/>
<line x1="258.5" y1="352.7" x2="260.5" y2="352.7" stroke="#777" stroke-width="0.4"/>
<line x1="258.5" y1="360.6" x2="260.5" y2="360.6" stroke="#777" stroke-width="0.4"/>
<line x1="258.5" y1="368.5" x2="260.5" y2="368.5" stroke="#777" stroke-width="0.4"/>
<line x1="258.5" y1="376.4" x2="260.5" y2="376.4" stroke="#777" stroke-width="0.4"/>
<line x1="258.5" y1="384.3" x2="260.5" y2="384.3" stroke="#777" stroke-width="0.4"/>
<line x1="258.5" y1="392.2" x2="260.5" y2="392.2" stroke="#777" stroke-width="0.4"/>
<line x1="258.5" y1="400.1" x2="260.5" y2="400.1" stroke="#777" stroke-width="0.4"/>
<line x1="262.5" y1="400.3" x2="262.5" y2="402.3" stroke="#777" stroke-width="0.4"/>
<text x="262.5" y="404.8" font-family='"Liberation Sans", sans-serif' font-size="1.6" text-anchor="middle" fill="#888">10</text>
<line x1="268.6" y1="400.3" x2="268.6" y2="402.3" stroke="#777" stroke-width="0.4"/>
<text x="268.6" y="404.8" font-family='"Liberation Sans", sans-serif' font-size="1.6" text-anchor="middle" fill="#888">10</text>
<line x1="274.7" y1="400.3" x2="274.7" y2="402.3" stroke="#777" stroke-width="0.4"/>
<text x="274.7" y="404.8" font-family='"Liberation Sans", sans-serif' font-size="1.6" text-anchor="middle" fill="#888">10</text>
<line x1="280.8" y1="400.3" x2="280.8" y2="402.3" stroke="#777" stroke-width="0.4"/>
<text x="280.8" y="404.8" font-family='"Liberation Sans", sans-serif' font-size="1.6" text-anchor="middle" fill="#888">10</text>
<line x1="286.9" y1="400.3" x2="286.9" y2="402.3" stroke="#777" stroke-width="0.4"/>
<text x="286.9" y="404.8" font-family='"Liberation Sans", sans-serif' font-size="1.6" text-anchor="middle" fill="#888">10</text>
<line x1="293" y1="400.3" x2="293" y2="402.3" stroke="#777" stroke-width="0.4"/>
<text x="293" y="404.8" font-family='"Liberation Sans", sans-serif' font-size="1.6" text-anchor="middle" fill="#888">10</text>
<line x1="299.1" y1="400.3" x2="299.1" y2="402.3" stroke="#777" stroke-width="0.4"/>
<text x="299.1" y="404.8" font-family='"Liberation Sans", sans-serif' font-size="1.6" text-anchor="middle" fill="#888">10</text>
<line x1="305.2" y1="400.3" x2="305.2" y2="402.3" stroke="#777" stroke-width="0.4"/>
<text x="305.2" y="404.8" font-family='"Liberation Sans", sans-serif' font-size="1.6" text-anchor="middle" fill="#888">10</text>
<line x1="311.3" y1="400.3" x2="311.3" y2="402.3" stroke="#777" stroke-width="0.4"/>
<text x="311.3" y="404.8" font-family='"Liberation Sans", sans-serif' font-size="1.6" text-anchor="middle" fill="#888">10</text>
<line x1="317.4" y1="400.3" x2="317.4" y2="402.3" stroke="#777" stroke-width="0.4"/>
<text x="317.4" y="404.8" font-family='"Liberation Sans", sans-serif' font-size="1.6" text-anchor="middle" fill="#888">10</text>
<line x1="323.5" y1="400.3" x2="323.5" y2="402.3" stroke="#777" stroke-width="0.4"/>
<text x="323.5" y="404.8" font-family='"Liberation Sans", sans-serif' font-size="1.6" text-anchor="middle" fill="#888">10</text>
<rect x="278.8" y="399.7" width="3.6" height="0.8" fill="#8aa8e0"/>
<rect x="282.4" y="399.7" width="3.6" height="0.8" fill="#a8c070"/>
<rect x="286" y="399.7" width="3.6" height="0.8" fill="#e0c060"/>
<rect x="289.6" y="399.7" width="3.6" height="0.8" fill="#e88a60"/>
<rect x="293.2" y="399.7" width="3.6" height="0.8" fill="#e07060"/>
<rect x="296.8" y="399.7" width="3.6" height="0.8" fill="#e8b060"/>
<rect x="300.4" y="399.7" width="3.6" height="0.8" fill="#a8c870"/>
<rect x="304" y="399.7" width="3.6" height="0.8" fill="#9ab8e8"/>
<path transform="scale(.25)" d="M1189 1412h0m4 3h0m2-3h0m5-6h0m2-9h0m0 9h0m2 6h0m0-5h0m0-8h0m2 12h0m2-4h0m2 3h0m2 4h0m1-11h0m1 11h0m0-17h0m2-1h0m3 15h0m6 3h0m-1 18h0m-3-8h0m-1 13h0m-1-8h0m0 1h0m-2-11h0m-2 14h0m-1-9h0m0 8h0m0-2h0m-1-8h0m0 16h0m0-2h0m-1-14h0m0-5h0m0 9h0m-2-7h0m-1 7h0m-1-6h0m-2-2h0m0 2h0m-1 1h0m0-5h0m-1 6h0m-1 0h0m0 3h0m-2-2h0m-1-5h0m-1 1h0m-1 0h0m0 9h0m-1-1h0m-1 0h0m-1 3h0m-2 4h0m0 3h0m0-14h0m0 13h0m0-5h0m-1 6h0m0-14h0m0 13h0m0-20h0m-1 13h0m-2 8h0m-2-12h0m-1 14h0m-2-1h0m-1-7h0m-47 17h0m11 11h0m2-12h0m1 12h0m0-7h0m4 9h0m3-9h0m1-3h0m0 12h0m5 2h0m4-1h0m1 0h0m5-5h0m2-7h0m0 9h0m1-8h0m1 8h0m3 3h0m2 0h0m0-11h0m0-11h0m1 13h0m2-6h0m0-5h0m0 18h0m1-12h0m1-5h0m1 8h0m1-9h0m0 18h0m0-15h0m0 16h0m1-15h0m1 4h0m0 12h0m0-14h0m0 9h0m0-15h0m1 13h0m0-5h0m0-1h0m1-6h0m17 16h0m0-1h0m1 3h0m0-7h0m0 9h0m2-23h0m0 9h0m0 13h0m0-6h0m1-2h0m1 0h0m0-1h0m1-3h0m0-1h0m1-8h0m3 9h0m0 9h0m1 4h0m2-20h0m2-1h0m-7 22h0m-2 2h0m-1 9h0m-1-5h0m-3 7h0m-1 3h0m-2-3h0m-1-10h0m-2 5h0m0-1h0m-2 1h0m-1 2h0m-1 7h0m0-6h0m0-1h0m0 3h0m-1-3h0m-1-2h0m0 13h0m0-10h0m-1-3h0m0 4h0m-2 3h0m0-5h0m-1 9h0m-1-2h0m0-11h0m-1 4h0m0-5h0m0 18h0m-1-17h0m0-6h0m0 9h0m0-5h0m-2 13h0m0-5h0m0-6h0m0 13h0m0-19h0m0 13h0m-2-4h0m0-1h0m-1-6h0m0 18h0m0-10h0m0-7h0m-2 18h0m0-19h0m0 8h0m0 4h0m-1 7h0m0 1h0m0-5h0m-1-10h0m-1 2h0m-4-8h0m0 2h0m-1-2h0m-1 19h0m-1-3h0m0-5h0m0 4h0m0-5h0m0 4h0m-1 5h0m-1-9h0m0-6h0m0 13h0m-1-17h0m0 9h0m-1 5h0m0-7h0m-1 0h0m0 4h0m-1-9h0m0 4h0m-1-3h0m-1-2h0m-3 2h0m-1 1h0m-2-1h0m-2 3h0m-1-4h0m-2-2h0m0 3h0m-1-2h0m0 3h0m-3 7h0m-1 1h0m-1 2h0m-1 2h0m-1-7h0m-1 12h0m0-20h0m-2 3h0m0 11h0m0-1h0m-1-6h0m-2-4h0m0 12h0m-1-10h0m-1 15h0m-1-14h0m-2 14h0m-1-6h0m-7 31h0m5-4h0m2 2h0m1 0h0m3-8h0m1 0h0m1 6h0m2 2h0m0-15h0m0-1h0m17 17h0m1 0h0m0-2h0m1 1h0m1 0h0m3-2h0m1-3h0m1-3h0m1-8h0m0 12h0m1-10h0m0 2h0m2-1h0m0 8h0m0 4h0m1-20h0m2 1h0m0-1h0m1 22h0m0-15h0m0-5h0m1 10h0m4-2h0m2-9h0m0-1h0m1 6h0m3-2h0m6-2h0m1 3h0m1 1h0m1-4h0m3 1h0m3 3h0m-25 20h0m-2-2h0m-9 22h0m-3-14h0m-2-3h0m-2-3h0m0 9h0m0-1h0m0-7h0m-3 19h0m-1-11h0m-1-5h0m0 13h0m-2-11h0m0 3h0m0-1h0m-1 0h0m-2 7h0m-1-12h0m0 9h0m-2-2h0m-2-5h0m0 4h0m-1-10h0m-1 20h0m-1-17h0m-1-2h0m0 8h0m0 4h0m0 4h0m0-6h0m-1 5h0m0-6h0m-1 2h0m-1-6h0m-2 5h0m0 2h0m-4 5h0m0-18h0m-4 18h0m-1-19h0m-7 12h0m-9 21h0m0 12h0m8-4h0m5 1h0m5-3h0m2-12h0m7 11h0m5-10h0m0 8h0m0-10h0m2 14h0m2 5h0m1-16h0m6-5h0m1 8h0m2-6h0m9 9h0m-26 23h0m-7 12h0m-4-2h0" stroke="#6b86dc" stroke-width="2.8" stroke-linecap="round"/>
<path transform="scale(.25)" d="M1211 1438h0m-1-2h0m-1-3h0m0 4h0m-1-4h0m0-5h0m0 9h0m-1-10h0m0 9h0m0-1h0m-1-4h0m0 2h0m-1-2h0m-1 2h0m0-1h0m0-7h0m-1 4h0m-1-2h0m-1 2h0m-1-1h0m0 2h0m0 4h0m-1 2h0m-2-4h0m-2 7h0m0-1h0m-3 17h0m0-1h0m0-3h0m1-9h0m0 4h0m0 10h0m1-11h0m0-1h0m0 2h0m0 14h0m1-18h0m0 19h0m0-7h0m0-7h0m1 14h0m1 2h0m0-23h0m5 23h0m1 0h0m1-2h0m1 0h0m1 0h0m1-2h0m0 2h0m0 2h0m0-3h0m1-12h0m1-5h0m0 9h0m0-10h0m1 0h0m0 6h0m0 8h0m1-8h0m0-5h0m1 4h0m-8 18h0m-1 4h0m0-4h0m-1 4h0m0-5h0m-1 5h0m0-5h0m0 1h0m-1 2h0m-1 2h0m-2-5h0m-1 6h0m-2-5h0m0 2h0m-1-3h0m0 1h0m-22 14h0m-1 6h0m0 2h0m0-7h0m-1 0h0m0 2h0m0 2h0m0-7h0m0 2h0m0 2h0m0-5h0m-1 0h0m0-3h0m-1 6h0m-1-4h0m-1 2h0m-2-6h0m-1 5h0m0-5h0m-1 1h0m0 3h0m-1-1h0m0-1h0m-1 1h0m0-2h0m-1 5h0m-1-4h0m-1 5h0m0-3h0m0 2h0m-1-2h0m-1 4h0m0-3h0m0 2h0m-1 2h0m-1 2h0m-1 0h0m-5 27h0m1-18h0m0-2h0m2 9h0m1-2h0m0 12h0m4 1h0m0 2h0m0-1h0m4-3h0m4 0h0m1-2h0m2-10h0m1-2h0m1-2h0m0 4h0m0-1h0m2-3h0m1-3h0m0 1h0m1-1h0" stroke="#4a8ad4" stroke-width="3.6" stroke-linecap="round"/>
<path transform="scale(.25)" d="M1206 1435h0m-1 2h0m0 2h0m-1-2h0m-2-2h0m0-1h0m-2 5h0m-1-2h0m0 2h0m-4 12h0m1 5h0m0-5h0m0 2h0m0 2h0m1-2h0m0-7h0m0 4h0m0-7h0m0 2h0m0 9h0m0-5h0m1-2h0m0 9h0m0-7h0m0 9h0m0-16h0m0 13h0m1-6h0m0-1h0m0 11h0m0-7h0m0-7h0m0 9h0m1-12h0m0 18h0m0-5h0m0 6h0m1-6h0m0 2h0m0 4h0m0 2h0m0-21h0m1 1h0m0 13h0m0-16h0m0 13h0m0-12h0m1 16h0m0-16h0m0 18h0m0-7h0m0-7h0m0 11h0m1-9h0m0 2h0m0-5h0m0 11h0m0-14h0m1 14h0m0-1h0m0 2h0m0-10h0m1-6h0m0 9h0m0-7h0m0 2h0m0 8h0m1-6h0m0 4h0m-40 37h0m0-7h0m0 2h0m0 2h0m-2 1h0m0-7h0m0 2h0m0 2h0m0 4h0m-1-4h0m0-3h0m0 2h0m-1 6h0m0-8h0m-1 2h0m0-3h0m0 9h0m0-5h0m0 2h0m-1-2h0m-1-4h0m0 2h0m0 2h0m-1-6h0m0 4h0m0 2h0m-1 2h0m0-3h0m0 1h0m-1-3h0m0 2h0m0-1h0m0 2h0m-1-3h0m0 2h0m-2 1h0m-3 9h0m0 12h0m1-11h0m0 6h0m0-1h0m1-6h0m1 7h0m0 2h0m0-3h0m1 4h0m0-1h0m1-2h0m0-7h0m1 0h0m0 5h0m1 0h0m1-1h0m0 4h0m0 4h0m0-10h0m1-2h0m2-1h0m0-1h0m1 0h0m0 6h0m1-4h0m1 1h0m0-1h0" stroke="#5cb848" stroke-width="4.4" stroke-linecap="round"/>
<path transform="scale(.25)" d="M1200 1449h0m1 0h0m2 3h0m0-4h0m0-4h0m0 3h0m0 3h0m1-3h0m-43 38h0m0-2h0m-1 2h0m0 1h0m-2 5h0m1 0h0m1-3h0m0 1h0" stroke="#d8cc3c" stroke-width="4.4" stroke-linecap="round"/>
<line x1="294.8" y1="335.4" x2="294.8" y2="400.3" stroke="#5a5a5a" stroke-width="0.8"/>
<line x1="260.5" y1="364.1" x2="325.6" y2="364.1" stroke="#5a5a5a" stroke-width="0.8"/>
<text x="263.5" y="340.4" font-family='"Liberation Sans", sans-serif' font-size="2.9" fill="#222">Q1</text>
<text x="263.5" y="344.4" font-family='"Liberation Sans", sans-serif' font-size="2.9" fill="#222">0.17</text>
<text x="322.6" y="340.4" font-family='"Liberation Sans", sans-serif' font-size="2.9" text-anchor="end" fill="#222">Q2</text>
<text x="322.6" y="344.4" font-family='"Liberation Sans", sans-serif' font-size="2.9" text-anchor="end" fill="#222">56.8</text>
<text x="263.5" y="392.8" font-family='"Liberation Sans", sans-serif' font-size="2.9" fill="#222">Q4</text>
<text x="263.5" y="396.8" font-family='"Liberation Sans", sans-serif' font-size="2.9" fill="#222">28.7</text>
<text x="322.6" y="392.8" font-family='"Liberation Sans", sans-serif' font-size="2.9" text-anchor="end" fill="#222">Q3</text>
<text x="322.6" y="396.8" font-family='"Liberation Sans", sans-serif' font-size="2.9" text-anchor="end" fill="#222">22.3</text>
<text x="250.3" y="371.6" font-family='"Liberation Serif", serif' font-size="5.8" text-anchor="middle" fill="#000" transform="rotate(90 250.3 371.6)">+JQ1 (0.8 uM)</text>
<text x="350.5" y="9.9" font-family='"Liberation Serif", serif' font-size="12.8" fill="#000">F</text>
<line x1="354.3" y1="47.1" x2="354.3" y2="100.5" stroke="#111" stroke-width="1.1"/>
<line x1="354.3" y1="100.5" x2="407.5" y2="100.5" stroke="#111" stroke-width="1.1"/>
<line x1="352.1" y1="100.5" x2="354.3" y2="100.5" stroke="#222" stroke-width="0.8"/>
<text x="351.1" y="102.1" font-family='"Liberation Sans", sans-serif' font-size="4.4" text-anchor="end" fill="#111">0</text>
<line x1="352.1" y1="87.1" x2="354.3" y2="87.1" stroke="#222" stroke-width="0.8"/>
<text x="351.1" y="88.7" font-family='"Liberation Sans", sans-serif' font-size="4.4" text-anchor="end" fill="#111">20</text>
<line x1="352.1" y1="73.8" x2="354.3" y2="73.8" stroke="#222" stroke-width="0.8"/>
<text x="351.1" y="75.4" font-family='"Liberation Sans", sans-serif' font-size="4.4" text-anchor="end" fill="#111">40</text>
<line x1="352.1" y1="60.5" x2="354.3" y2="60.5" stroke="#222" stroke-width="0.8"/>
<text x="351.1" y="62.1" font-family='"Liberation Sans", sans-serif' font-size="4.4" text-anchor="end" fill="#111">60</text>
<line x1="352.1" y1="47.1" x2="354.3" y2="47.1" stroke="#222" stroke-width="0.8"/>
<text x="351.1" y="48.7" font-family='"Liberation Sans", sans-serif' font-size="4.4" text-anchor="end" fill="#111">80</text>
<line x1="361.1" y1="96.2" x2="361.1" y2="95.2" stroke="#333" stroke-width="0.6"/>
<line x1="359.7" y1="95.2" x2="362.5" y2="95.2" stroke="#333" stroke-width="0.6"/>
<rect x="358" y="96.2" width="6.2" height="4.3" fill="#111" stroke="#1a1a1a" stroke-width="0.7"/>
<line x1="361.1" y1="100.5" x2="361.1" y2="102.3" stroke="#222" stroke-width="0.6"/>
<line x1="371.1" y1="83" x2="371.1" y2="80.5" stroke="#333" stroke-width="0.6"/>
<line x1="369.7" y1="80.5" x2="372.5" y2="80.5" stroke="#333" stroke-width="0.6"/>
<rect x="368" y="83" width="6.2" height="17.5" fill="#a3a3a3" stroke="#1a1a1a" stroke-width="0.7"/>
<line x1="371.1" y1="100.5" x2="371.1" y2="102.3" stroke="#222" stroke-width="0.6"/>
<line x1="380.9" y1="63.3" x2="380.9" y2="62.3" stroke="#333" stroke-width="0.6"/>
<line x1="379.6" y1="62.3" x2="382.3" y2="62.3" stroke="#333" stroke-width="0.6"/>
<rect x="377.9" y="63.3" width="6.1" height="37.2" fill="#7d7d7d" stroke="#1a1a1a" stroke-width="0.7"/>
<line x1="380.9" y1="100.5" x2="380.9" y2="102.3" stroke="#222" stroke-width="0.6"/>
<line x1="390.9" y1="78.2" x2="390.9" y2="77.2" stroke="#333" stroke-width="0.6"/>
<line x1="389.5" y1="77.2" x2="392.3" y2="77.2" stroke="#333" stroke-width="0.6"/>
<rect x="387.8" y="78.2" width="6.2" height="22.3" fill="#d6d6d6" stroke="#1a1a1a" stroke-width="0.7"/>
<line x1="390.9" y1="100.5" x2="390.9" y2="102.3" stroke="#222" stroke-width="0.6"/>
<line x1="400.9" y1="63.3" x2="400.9" y2="62.3" stroke="#333" stroke-width="0.6"/>
<line x1="399.5" y1="62.3" x2="402.2" y2="62.3" stroke="#333" stroke-width="0.6"/>
<rect x="397.7" y="63.3" width="6.3" height="37.2" fill="#5e5e5e" stroke="#1a1a1a" stroke-width="0.7"/>
<line x1="400.9" y1="100.5" x2="400.9" y2="102.3" stroke="#222" stroke-width="0.6"/>
<polyline points="361.1,92.7 361.1,56.6 371.1,56.6 371.1,78" fill="none" stroke="#161616" stroke-width="0.85"/>
<path transform="scale(.25)" d="M1447 211h0m11 0h0m12 0h0m12 0h0" stroke="#111" stroke-width="5.8" stroke-linecap="round"/>
<polyline points="361.1,92.7 361.1,45.9 381,45.9 381,59.8" fill="none" stroke="#161616" stroke-width="0.85"/>
<path transform="scale(.25)" d="M1502 168h0m-12 0h0m-12 0h0m-12 0h0" stroke="#111" stroke-width="5.8" stroke-linecap="round"/>
<polyline points="361.1,92.7 361.1,37.2 390.9,37.2 390.9,74.7" fill="none" stroke="#161616" stroke-width="0.85"/>
<path transform="scale(.25)" d="M1522 133h0m-12 0h0m-12 0h0m-12 0h0" stroke="#111" stroke-width="5.8" stroke-linecap="round"/>
<polyline points="361.1,92.7 361.1,27.8 400.9,27.8 400.9,59.8" fill="none" stroke="#161616" stroke-width="0.85"/>
<path transform="scale(.25)" d="M1506 96h0m12 0h0m12 0h0m12 0h0" stroke="#111" stroke-width="5.8" stroke-linecap="round"/>
<text x="343.8" y="73.8" font-family='"Liberation Sans", sans-serif' font-size="4.4" text-anchor="middle" fill="#222" transform="rotate(-90 343.8 73.8)">Apoptotic cells (%)</text>
<text x="362.3" y="105.1" font-family='"Liberation Sans", sans-serif' font-size="4.3" text-anchor="end" fill="#222" transform="rotate(-45 362.3 105.1)">+DMSO</text>
<text x="372.3" y="105.1" font-family='"Liberation Sans", sans-serif' font-size="4.3" text-anchor="end" fill="#222" transform="rotate(-45 372.3 105.1)">+iBET-151(145 uM)</text>
<text x="382.1" y="105.1" font-family='"Liberation Sans", sans-serif' font-size="4.3" text-anchor="end" fill="#222" transform="rotate(-45 382.1 105.1)">+iBET-151(290 uM)</text>
<text x="392.1" y="105.1" font-family='"Liberation Sans", sans-serif' font-size="4.3" text-anchor="end" fill="#222" transform="rotate(-45 392.1 105.1)">+JQ-1(0.5 uM)</text>
<text x="402.1" y="105.1" font-family='"Liberation Sans", sans-serif' font-size="4.3" text-anchor="end" fill="#222" transform="rotate(-45 402.1 105.1)">+JQ-1(1 uM)</text>
<text x="421.3" y="9.9" font-family='"Liberation Serif", serif' font-size="12.8" fill="#000">G</text>
<line x1="427.3" y1="51.4" x2="427.3" y2="99.3" stroke="#111" stroke-width="1.1"/>
<line x1="427.3" y1="99.3" x2="475" y2="99.3" stroke="#111" stroke-width="1.1"/>
<line x1="425.1" y1="99.3" x2="427.3" y2="99.3" stroke="#222" stroke-width="0.8"/>
<text x="424.1" y="100.9" font-family='"Liberation Sans", sans-serif' font-size="4.4" text-anchor="end" fill="#111">0</text>
<line x1="425.1" y1="83.3" x2="427.3" y2="83.3" stroke="#222" stroke-width="0.8"/>
<text x="424.1" y="84.9" font-family='"Liberation Sans", sans-serif' font-size="4.4" text-anchor="end" fill="#111">20</text>
<line x1="425.1" y1="67.4" x2="427.3" y2="67.4" stroke="#222" stroke-width="0.8"/>
<text x="424.1" y="69" font-family='"Liberation Sans", sans-serif' font-size="4.4" text-anchor="end" fill="#111">40</text>
<line x1="425.1" y1="51.4" x2="427.3" y2="51.4" stroke="#222" stroke-width="0.8"/>
<text x="424.1" y="53" font-family='"Liberation Sans", sans-serif' font-size="4.4" text-anchor="end" fill="#111">60</text>
<line x1="434.4" y1="92.6" x2="434.4" y2="91.6" stroke="#333" stroke-width="0.6"/>
<line x1="433.2" y1="91.6" x2="435.7" y2="91.6" stroke="#333" stroke-width="0.6"/>
<rect x="431.7" y="92.6" width="5.5" height="6.7" fill="#111" stroke="#1a1a1a" stroke-width="0.7"/>
<line x1="434.4" y1="99.3" x2="434.4" y2="101.1" stroke="#222" stroke-width="0.6"/>
<line x1="443.8" y1="81.4" x2="443.8" y2="79.4" stroke="#333" stroke-width="0.6"/>
<line x1="442.6" y1="79.4" x2="445" y2="79.4" stroke="#333" stroke-width="0.6"/>
<rect x="441" y="81.4" width="5.6" height="17.9" fill="#a3a3a3" stroke="#1a1a1a" stroke-width="0.7"/>
<line x1="443.8" y1="99.3" x2="443.8" y2="101.1" stroke="#222" stroke-width="0.6"/>
<line x1="452.6" y1="55.8" x2="452.6" y2="54.3" stroke="#333" stroke-width="0.6"/>
<line x1="451.4" y1="54.3" x2="453.8" y2="54.3" stroke="#333" stroke-width="0.6"/>
<rect x="449.9" y="55.8" width="5.4" height="43.5" fill="#7d7d7d" stroke="#1a1a1a" stroke-width="0.7"/>
<line x1="452.6" y1="99.3" x2="452.6" y2="101.1" stroke="#222" stroke-width="0.6"/>
<line x1="461.8" y1="81.9" x2="461.8" y2="80.4" stroke="#333" stroke-width="0.6"/>
<line x1="460.5" y1="80.4" x2="463" y2="80.4" stroke="#333" stroke-width="0.6"/>
<rect x="459" y="81.9" width="5.5" height="17.4" fill="#d6d6d6" stroke="#1a1a1a" stroke-width="0.7"/>
<line x1="461.8" y1="99.3" x2="461.8" y2="101.1" stroke="#222" stroke-width="0.6"/>
<line x1="470.9" y1="62" x2="470.9" y2="60.5" stroke="#333" stroke-width="0.6"/>
<line x1="469.7" y1="60.5" x2="472.2" y2="60.5" stroke="#333" stroke-width="0.6"/>
<rect x="468.2" y="62" width="5.5" height="37.3" fill="#5e5e5e" stroke="#1a1a1a" stroke-width="0.7"/>
<line x1="470.9" y1="99.3" x2="470.9" y2="101.1" stroke="#222" stroke-width="0.6"/>
<polyline points="434.5,89.1 434.5,47.9 443.8,47.9 443.8,76.9" fill="none" stroke="#161616" stroke-width="0.85"/>
<path transform="scale(.25)" d="M1774 176h0m-11 0h0m-12 0h0m-12 0h0" stroke="#111" stroke-width="5.8" stroke-linecap="round"/>
<polyline points="434.5,89.1 434.5,38.5 452.6,38.5 452.6,51.8" fill="none" stroke="#161616" stroke-width="0.85"/>
<path transform="scale(.25)" d="M1792 139h0m-12 0h0m-12 0h0m-12 0h0" stroke="#111" stroke-width="5.8" stroke-linecap="round"/>
<polyline points="434.5,89.1 434.5,29 461.7,29 461.7,77.9" fill="none" stroke="#161616" stroke-width="0.85"/>
<path transform="scale(.25)" d="M1775 101h0m11 0h0m12 0h0m12 0h0" stroke="#111" stroke-width="5.8" stroke-linecap="round"/>
<polyline points="434.5,89.1 434.5,21.8 471,21.8 471,58" fill="none" stroke="#161616" stroke-width="0.85"/>
<path transform="scale(.25)" d="M1829 72h0m-12 0h0m-12 0h0m-12 0h0" stroke="#111" stroke-width="5.8" stroke-linecap="round"/>
<text x="416.5" y="75.3" font-family='"Liberation Sans", sans-serif' font-size="4.4" text-anchor="middle" fill="#222" transform="rotate(-90 416.5 75.3)">Apoptotic cells (%)</text>
<text x="435.6" y="103.9" font-family='"Liberation Sans", sans-serif' font-size="4.3" text-anchor="end" fill="#222" transform="rotate(-45 435.6 103.9)">+DMSO</text>
<text x="445" y="103.9" font-family='"Liberation Sans", sans-serif' font-size="4.3" text-anchor="end" fill="#222" transform="rotate(-45 445 103.9)">+iBET-151(65 uM)</text>
<text x="453.8" y="103.9" font-family='"Liberation Sans", sans-serif' font-size="4.3" text-anchor="end" fill="#222" transform="rotate(-45 453.8 103.9)">+iBET-151(130 uM)</text>
<text x="462.9" y="103.9" font-family='"Liberation Sans", sans-serif' font-size="4.3" text-anchor="end" fill="#222" transform="rotate(-45 462.9 103.9)">+JQ-1(0.4 uM)</text>
<text x="472.1" y="103.9" font-family='"Liberation Sans", sans-serif' font-size="4.3" text-anchor="end" fill="#222" transform="rotate(-45 472.1 103.9)">+JQ-1(0.8 uM)</text>
<text x="339.6" y="344.6" font-family='"Liberation Serif", serif' font-size="14.5" fill="#000">I</text>
<line x1="367.2" y1="361.8" x2="367.2" y2="419.4" stroke="#111" stroke-width="1.1"/>
<line x1="367.2" y1="419.4" x2="404.8" y2="419.4" stroke="#111" stroke-width="1.1"/>
<line x1="365" y1="419.4" x2="367.2" y2="419.4" stroke="#222" stroke-width="0.8"/>
<text x="364" y="421" font-family='"Liberation Sans", sans-serif' font-size="4.4" text-anchor="end" fill="#111">0</text>
<line x1="365" y1="400.2" x2="367.2" y2="400.2" stroke="#222" stroke-width="0.8"/>
<text x="364" y="401.8" font-family='"Liberation Sans", sans-serif' font-size="4.4" text-anchor="end" fill="#111">200</text>
<line x1="365" y1="381" x2="367.2" y2="381" stroke="#222" stroke-width="0.8"/>
<text x="364" y="382.6" font-family='"Liberation Sans", sans-serif' font-size="4.4" text-anchor="end" fill="#111">400</text>
<line x1="365" y1="361.8" x2="367.2" y2="361.8" stroke="#222" stroke-width="0.8"/>
<text x="364" y="363.4" font-family='"Liberation Sans", sans-serif' font-size="4.4" text-anchor="end" fill="#111">600</text>
<line x1="375.3" y1="375.5" x2="375.3" y2="370.5" stroke="#333" stroke-width="0.6"/>
<line x1="373.9" y1="370.5" x2="376.7" y2="370.5" stroke="#333" stroke-width="0.6"/>
<rect x="372.2" y="375.5" width="6.2" height="43.9" fill="#111" stroke="#1a1a1a" stroke-width="0.7"/>
<line x1="375.3" y1="419.4" x2="375.3" y2="421.2" stroke="#222" stroke-width="0.6"/>
<line x1="386.4" y1="409.7" x2="386.4" y2="408.2" stroke="#333" stroke-width="0.6"/>
<line x1="384.9" y1="408.2" x2="388" y2="408.2" stroke="#333" stroke-width="0.6"/>
<rect x="382.9" y="409.7" width="7.1" height="9.7" fill="#a3a3a3" stroke="#1a1a1a" stroke-width="0.7"/>
<line x1="386.4" y1="419.4" x2="386.4" y2="421.2" stroke="#222" stroke-width="0.6"/>
<line x1="397.9" y1="416.4" x2="397.9" y2="415.4" stroke="#333" stroke-width="0.6"/>
<line x1="396.3" y1="415.4" x2="399.5" y2="415.4" stroke="#333" stroke-width="0.6"/>
<rect x="394.3" y="416.4" width="7.2" height="3" fill="#7d7d7d" stroke="#1a1a1a" stroke-width="0.7"/>
<line x1="397.9" y1="419.4" x2="397.9" y2="421.2" stroke="#222" stroke-width="0.6"/>
<polyline points="375.3,368 375.3,363.8 386.4,363.8 386.4,405.7" fill="none" stroke="#161616" stroke-width="0.85"/>
<path transform="scale(.25)" d="M1506 1440h0m11 0h0m12 0h0m12 0h0" stroke="#111" stroke-width="5.8" stroke-linecap="round"/>
<polyline points="375.3,368 375.3,350.1 397.9,350.1 397.9,412.9" fill="none" stroke="#161616" stroke-width="0.85"/>
<path transform="scale(.25)" d="M1564 1385h0m-12 0h0m-12 0h0m-11 0h0" stroke="#111" stroke-width="5.8" stroke-linecap="round"/>
<text x="353.6" y="390.6" font-family='"Liberation Sans", sans-serif' font-size="3.8" text-anchor="middle" fill="#222" transform="rotate(-90 353.6 390.6)">Number of colonies</text>
<text x="376.5" y="425.2" font-family='"Liberation Sans", sans-serif' font-size="3.6" text-anchor="end" fill="#222" transform="rotate(-45 376.5 425.2)">+DMSO</text>
<text x="387.6" y="425.2" font-family='"Liberation Sans", sans-serif' font-size="3.6" text-anchor="end" fill="#222" transform="rotate(-45 387.6 425.2)">+JQ-1</text>
<text x="399.1" y="425.2" font-family='"Liberation Sans", sans-serif' font-size="3.6" text-anchor="end" fill="#222" transform="rotate(-45 399.1 425.2)">+iBET-151</text>
<text x="424.3" y="344.6" font-family='"Liberation Serif", serif' font-size="14.5" fill="#000">J</text>
<line x1="436.7" y1="361.3" x2="436.7" y2="420.1" stroke="#111" stroke-width="1.1"/>
<line x1="436.7" y1="420.1" x2="477" y2="420.1" stroke="#111" stroke-width="1.1"/>
<line x1="434.5" y1="420.1" x2="436.7" y2="420.1" stroke="#222" stroke-width="0.8"/>
<text x="433.5" y="421.7" font-family='"Liberation Sans", sans-serif' font-size="4.4" text-anchor="end" fill="#111">0</text>
<line x1="434.5" y1="405.4" x2="436.7" y2="405.4" stroke="#222" stroke-width="0.8"/>
<text x="433.5" y="407" font-family='"Liberation Sans", sans-serif' font-size="4.4" text-anchor="end" fill="#111">200</text>
<line x1="434.5" y1="390.7" x2="436.7" y2="390.7" stroke="#222" stroke-width="0.8"/>
<text x="433.5" y="392.3" font-family='"Liberation Sans", sans-serif' font-size="4.4" text-anchor="end" fill="#111">400</text>
<line x1="434.5" y1="376" x2="436.7" y2="376" stroke="#222" stroke-width="0.8"/>
<text x="433.5" y="377.6" font-family='"Liberation Sans", sans-serif' font-size="4.4" text-anchor="end" fill="#111">600</text>
<line x1="434.5" y1="361.3" x2="436.7" y2="361.3" stroke="#222" stroke-width="0.8"/>
<text x="433.5" y="362.9" font-family='"Liberation Sans", sans-serif' font-size="4.4" text-anchor="end" fill="#111">800</text>
<line x1="445.1" y1="373" x2="445.1" y2="369" stroke="#333" stroke-width="0.6"/>
<line x1="443.6" y1="369" x2="446.7" y2="369" stroke="#333" stroke-width="0.6"/>
<rect x="441.7" y="373" width="6.9" height="47.1" fill="#111" stroke="#1a1a1a" stroke-width="0.7"/>
<line x1="445.1" y1="420.1" x2="445.1" y2="421.9" stroke="#222" stroke-width="0.6"/>
<line x1="456.9" y1="405.2" x2="456.9" y2="403.7" stroke="#333" stroke-width="0.6"/>
<line x1="455.3" y1="403.7" x2="458.5" y2="403.7" stroke="#333" stroke-width="0.6"/>
<rect x="453.3" y="405.2" width="7.2" height="14.9" fill="#a3a3a3" stroke="#1a1a1a" stroke-width="0.7"/>
<line x1="456.9" y1="420.1" x2="456.9" y2="421.9" stroke="#222" stroke-width="0.6"/>
<line x1="468.9" y1="410.2" x2="468.9" y2="409.2" stroke="#333" stroke-width="0.6"/>
<line x1="467.3" y1="409.2" x2="470.6" y2="409.2" stroke="#333" stroke-width="0.6"/>
<rect x="465.2" y="410.2" width="7.5" height="9.9" fill="#7d7d7d" stroke="#1a1a1a" stroke-width="0.7"/>
<line x1="468.9" y1="420.1" x2="468.9" y2="421.9" stroke="#222" stroke-width="0.6"/>
<polyline points="445.1,366.5 445.1,362.3 456.9,362.3 456.9,401.2" fill="none" stroke="#161616" stroke-width="0.85"/>
<path transform="scale(.25)" d="M1822 1434h0m-12 0h0m-12 0h0m-12 0h0" stroke="#111" stroke-width="5.8" stroke-linecap="round"/>
<polyline points="445.1,366.5 445.1,348.9 469,348.9 469,406.7" fill="none" stroke="#161616" stroke-width="0.85"/>
<path transform="scale(.25)" d="M1846 1380h0m-12 0h0m-12 0h0m-12 0h0" stroke="#111" stroke-width="5.8" stroke-linecap="round"/>
<text x="422.8" y="390.7" font-family='"Liberation Sans", sans-serif' font-size="3.8" text-anchor="middle" fill="#222" transform="rotate(-90 422.8 390.7)">Number of colonies</text>
<text x="446.3" y="425.9" font-family='"Liberation Sans", sans-serif' font-size="3.6" text-anchor="end" fill="#222" transform="rotate(-45 446.3 425.9)">+DMSO</text>
<text x="458.1" y="425.9" font-family='"Liberation Sans", sans-serif' font-size="3.6" text-anchor="end" fill="#222" transform="rotate(-45 458.1 425.9)">+JQ-1</text>
<text x="470.1" y="425.9" font-family='"Liberation Sans", sans-serif' font-size="3.6" text-anchor="end" fill="#222" transform="rotate(-45 470.1 425.9)">+iBET-151</text>
<text x="9.6" y="755.1" font-family='"Liberation Serif", serif' font-size="13.3" fill="#000">O</text>
<line x1="32.1" y1="769.4" x2="32.1" y2="855.5" stroke="#111" stroke-width="1.1"/>
<line x1="32.1" y1="855.5" x2="89.1" y2="855.5" stroke="#111" stroke-width="1.1"/>
<line x1="29.9" y1="855.5" x2="32.1" y2="855.5" stroke="#222" stroke-width="0.8"/>
<text x="28.9" y="857.4" font-family='"Liberation Sans", sans-serif' font-size="5.3" text-anchor="end" fill="#111">0.0</text>
<line x1="29.9" y1="826.8" x2="32.1" y2="826.8" stroke="#222" stroke-width="0.8"/>
<text x="28.9" y="828.7" font-family='"Liberation Sans", sans-serif' font-size="5.3" text-anchor="end" fill="#111">0.5</text>
<line x1="29.9" y1="798.1" x2="32.1" y2="798.1" stroke="#222" stroke-width="0.8"/>
<text x="28.9" y="800" font-family='"Liberation Sans", sans-serif' font-size="5.3" text-anchor="end" fill="#111">1.0</text>
<line x1="29.9" y1="769.4" x2="32.1" y2="769.4" stroke="#222" stroke-width="0.8"/>
<text x="28.9" y="771.3" font-family='"Liberation Sans", sans-serif' font-size="5.3" text-anchor="end" fill="#111">1.5</text>
<line x1="43.9" y1="827.1" x2="43.9" y2="825.9" stroke="#333" stroke-width="0.6"/>
<line x1="41.4" y1="825.9" x2="46.3" y2="825.9" stroke="#333" stroke-width="0.6"/>
<rect x="38.2" y="827.1" width="11.3" height="28.4" fill="#111" stroke="#1a1a1a" stroke-width="0.7"/>
<line x1="43.9" y1="855.5" x2="43.9" y2="857.3" stroke="#222" stroke-width="0.6"/>
<line x1="61.1" y1="812.8" x2="61.1" y2="805.8" stroke="#333" stroke-width="0.6"/>
<line x1="58.7" y1="805.8" x2="63.5" y2="805.8" stroke="#333" stroke-width="0.6"/>
<rect x="55.7" y="812.8" width="10.8" height="42.7" fill="#a0a0a0" stroke="#1a1a1a" stroke-width="0.7"/>
<line x1="61.1" y1="855.5" x2="61.1" y2="857.3" stroke="#222" stroke-width="0.6"/>
<line x1="78.2" y1="798.3" x2="78.2" y2="791.3" stroke="#333" stroke-width="0.6"/>
<line x1="75.8" y1="791.3" x2="80.6" y2="791.3" stroke="#333" stroke-width="0.6"/>
<rect x="72.8" y="798.3" width="10.8" height="57.2" fill="#787878" stroke="#1a1a1a" stroke-width="0.7"/>
<line x1="78.2" y1="855.5" x2="78.2" y2="857.3" stroke="#222" stroke-width="0.6"/>
<polyline points="43.9,823.4 43.9,781.4 59.5,781.4 59.5,803.3" fill="none" stroke="#161616" stroke-width="0.85"/>
<path transform="scale(.25)" d="M207 3105h0" stroke="#111" stroke-width="7.7" stroke-linecap="round"/>
<polyline points="62.8,803.3 62.8,781.4 78.2,781.4 78.2,788.8" fill="none" stroke="#161616" stroke-width="0.85"/>
<path transform="scale(.25)" d="M282 3105h0" stroke="#111" stroke-width="7.7" stroke-linecap="round"/>
<polyline points="43.9,823.4 43.9,765.1 78.2,765.1 78.2,788.8" fill="none" stroke="#161616" stroke-width="0.85"/>
<path transform="scale(.25)" d="M236 3040h0m16 0h0" stroke="#111" stroke-width="7.7" stroke-linecap="round"/>
<text x="11" y="812.5" font-family='"Liberation Sans", sans-serif' font-size="4.6" text-anchor="middle" fill="#222" transform="rotate(-90 11 812.5)">Relative FOXA1 protein expression</text>
<text x="46.2" y="862.7" font-family='"Liberation Sans", sans-serif' font-size="5.2" text-anchor="end" fill="#222" transform="rotate(-45 46.2 862.7)">+iBET-151(300uM)</text>
<text x="63.5" y="862.7" font-family='"Liberation Sans", sans-serif' font-size="5.2" text-anchor="end" fill="#222" transform="rotate(-45 63.5 862.7)">+iBET-151(150uM)</text>
<text x="80.6" y="862.7" font-family='"Liberation Sans", sans-serif' font-size="5.2" text-anchor="end" fill="#222" transform="rotate(-45 80.6 862.7)">DMSO</text>
<text x="107.6" y="755.1" font-family='"Liberation Serif", serif' font-size="13.3" fill="#000">P</text>
<line x1="110.5" y1="775.2" x2="110.5" y2="856.8" stroke="#111" stroke-width="1.1"/>
<line x1="110.5" y1="856.8" x2="163.2" y2="856.8" stroke="#111" stroke-width="1.1"/>
<line x1="108.3" y1="856.8" x2="110.5" y2="856.8" stroke="#222" stroke-width="0.8"/>
<text x="107.3" y="858.7" font-family='"Liberation Sans", sans-serif' font-size="5.3" text-anchor="end" fill="#111">0.0</text>
<line x1="108.3" y1="829.6" x2="110.5" y2="829.6" stroke="#222" stroke-width="0.8"/>
<text x="107.3" y="831.5" font-family='"Liberation Sans", sans-serif' font-size="5.3" text-anchor="end" fill="#111">0.5</text>
<line x1="108.3" y1="802.4" x2="110.5" y2="802.4" stroke="#222" stroke-width="0.8"/>
<text x="107.3" y="804.3" font-family='"Liberation Sans", sans-serif' font-size="5.3" text-anchor="end" fill="#111">1.0</text>
<line x1="108.3" y1="775.2" x2="110.5" y2="775.2" stroke="#222" stroke-width="0.8"/>
<text x="107.3" y="777.1" font-family='"Liberation Sans", sans-serif' font-size="5.3" text-anchor="end" fill="#111">1.5</text>
<line x1="118.8" y1="817.9" x2="118.8" y2="815.4" stroke="#333" stroke-width="0.6"/>
<line x1="115.9" y1="815.4" x2="121.8" y2="815.4" stroke="#333" stroke-width="0.6"/>
<rect x="112.2" y="817.9" width="13.3" height="38.9" fill="#111" stroke="#1a1a1a" stroke-width="0.7"/>
<line x1="118.8" y1="856.8" x2="118.8" y2="858.6" stroke="#222" stroke-width="0.6"/>
<line x1="134.9" y1="808.3" x2="134.9" y2="802.3" stroke="#333" stroke-width="0.6"/>
<line x1="132.5" y1="802.3" x2="137.4" y2="802.3" stroke="#333" stroke-width="0.6"/>
<rect x="129.3" y="808.3" width="11.3" height="48.5" fill="#a0a0a0" stroke="#1a1a1a" stroke-width="0.7"/>
<line x1="134.9" y1="856.8" x2="134.9" y2="858.6" stroke="#222" stroke-width="0.6"/>
<line x1="152.3" y1="802.8" x2="152.3" y2="798.8" stroke="#333" stroke-width="0.6"/>
<line x1="149.9" y1="798.8" x2="154.7" y2="798.8" stroke="#333" stroke-width="0.6"/>
<rect x="146.9" y="802.8" width="10.8" height="54" fill="#787878" stroke="#1a1a1a" stroke-width="0.7"/>
<line x1="152.3" y1="856.8" x2="152.3" y2="858.6" stroke="#222" stroke-width="0.6"/>
<polyline points="118.8,812.9 118.8,789 133.5,789 133.5,799.8" fill="none" stroke="#161616" stroke-width="0.85"/>
<text x="126.2" y="787.2" font-family='"Liberation Sans", sans-serif' font-size="5.2" text-anchor="middle" fill="#333">ns</text>
<polyline points="136.5,799.8 136.5,789 152.3,789 152.3,796.3" fill="none" stroke="#161616" stroke-width="0.85"/>
<text x="144.4" y="787.2" font-family='"Liberation Sans", sans-serif' font-size="5.2" text-anchor="middle" fill="#333">ns</text>
<polyline points="118.8,812.9 118.8,773.2 152.3,773.2 152.3,796.3" fill="none" stroke="#161616" stroke-width="0.85"/>
<path transform="scale(.25)" d="M542 3072h0" stroke="#111" stroke-width="7.7" stroke-linecap="round"/>
<text x="89.5" y="816" font-family='"Liberation Sans", sans-serif' font-size="4.6" text-anchor="middle" fill="#222" transform="rotate(-90 89.5 816)">Relative FOXA1 protein expression</text>
<text x="121.2" y="864" font-family='"Liberation Sans", sans-serif' font-size="5.2" text-anchor="end" fill="#222" transform="rotate(-45 121.2 864)">+JQ-1(1uM)</text>
<text x="137.3" y="864" font-family='"Liberation Sans", sans-serif' font-size="5.2" text-anchor="end" fill="#222" transform="rotate(-45 137.3 864)">+JQ-1(0.5uM)</text>
<text x="154.7" y="864" font-family='"Liberation Sans", sans-serif' font-size="5.2" text-anchor="end" fill="#222" transform="rotate(-45 154.7 864)">DMSO</text>
<text x="192.2" y="755.1" font-family='"Liberation Serif", serif' font-size="13.3" fill="#000">Q</text>
<line x1="195.6" y1="762.6" x2="195.6" y2="855.5" stroke="#111" stroke-width="1.1"/>
<line x1="195.6" y1="855.5" x2="252" y2="855.5" stroke="#111" stroke-width="1.1"/>
<line x1="193.4" y1="855.5" x2="195.6" y2="855.5" stroke="#222" stroke-width="0.8"/>
<text x="192.4" y="857.4" font-family='"Liberation Sans", sans-serif' font-size="5.3" text-anchor="end" fill="#111">0.0</text>
<line x1="193.4" y1="824.5" x2="195.6" y2="824.5" stroke="#222" stroke-width="0.8"/>
<text x="192.4" y="826.4" font-family='"Liberation Sans", sans-serif' font-size="5.3" text-anchor="end" fill="#111">0.5</text>
<line x1="193.4" y1="793.6" x2="195.6" y2="793.6" stroke="#222" stroke-width="0.8"/>
<text x="192.4" y="795.5" font-family='"Liberation Sans", sans-serif' font-size="5.3" text-anchor="end" fill="#111">1.0</text>
<line x1="193.4" y1="762.6" x2="195.6" y2="762.6" stroke="#222" stroke-width="0.8"/>
<text x="192.4" y="764.5" font-family='"Liberation Sans", sans-serif' font-size="5.3" text-anchor="end" fill="#111">1.5</text>
<line x1="207.9" y1="834.2" x2="207.9" y2="833.6" stroke="#333" stroke-width="0.6"/>
<line x1="205.3" y1="833.6" x2="210.6" y2="833.6" stroke="#333" stroke-width="0.6"/>
<rect x="201.9" y="834.2" width="12.1" height="21.3" fill="#111" stroke="#1a1a1a" stroke-width="0.7"/>
<line x1="207.9" y1="855.5" x2="207.9" y2="857.3" stroke="#222" stroke-width="0.6"/>
<line x1="226.5" y1="805.3" x2="226.5" y2="802.8" stroke="#333" stroke-width="0.6"/>
<line x1="223.9" y1="802.8" x2="229.1" y2="802.8" stroke="#333" stroke-width="0.6"/>
<rect x="220.7" y="805.3" width="11.6" height="50.2" fill="#a0a0a0" stroke="#1a1a1a" stroke-width="0.7"/>
<line x1="226.5" y1="855.5" x2="226.5" y2="857.3" stroke="#222" stroke-width="0.6"/>
<line x1="245.3" y1="794" x2="245.3" y2="792" stroke="#333" stroke-width="0.6"/>
<line x1="242.8" y1="792" x2="247.9" y2="792" stroke="#333" stroke-width="0.6"/>
<rect x="239.6" y="794" width="11.5" height="61.5" fill="#787878" stroke="#1a1a1a" stroke-width="0.7"/>
<line x1="245.3" y1="855.5" x2="245.3" y2="857.3" stroke="#222" stroke-width="0.6"/>
<polyline points="208.2,831.1 208.2,780.7 224.8,780.7 224.8,800.3" fill="none" stroke="#161616" stroke-width="0.85"/>
<path transform="scale(.25)" d="M890 3102h0m-16 0h0m-16 0h0m-16 0h0" stroke="#111" stroke-width="7.7" stroke-linecap="round"/>
<polyline points="229,800.3 229,780.7 245.8,780.7 245.8,789.5" fill="none" stroke="#161616" stroke-width="0.85"/>
<path transform="scale(.25)" d="M958 3102h0m-16 0h0" stroke="#111" stroke-width="7.7" stroke-linecap="round"/>
<polyline points="208.2,831.1 208.2,763.9 245.8,763.9 245.8,789.5" fill="none" stroke="#161616" stroke-width="0.85"/>
<path transform="scale(.25)" d="M884 3035h0m16 0h0m16 0h0m16 0h0" stroke="#111" stroke-width="7.7" stroke-linecap="round"/>
<text x="172" y="809" font-family='"Liberation Sans", sans-serif' font-size="4.6" text-anchor="middle" fill="#222" transform="rotate(-90 172 809)">Relative FOXA1 protein expression</text>
<text x="210.3" y="862.7" font-family='"Liberation Sans", sans-serif' font-size="5.2" text-anchor="end" fill="#222" transform="rotate(-45 210.3 862.7)">+iBET-151(130uM)</text>
<text x="228.9" y="862.7" font-family='"Liberation Sans", sans-serif' font-size="5.2" text-anchor="end" fill="#222" transform="rotate(-45 228.9 862.7)">+iBET-151(65uM)</text>
<text x="247.8" y="862.7" font-family='"Liberation Sans", sans-serif' font-size="5.2" text-anchor="end" fill="#222" transform="rotate(-45 247.8 862.7)">+DMSO</text>
<text x="282.2" y="755.1" font-family='"Liberation Serif", serif' font-size="13.3" fill="#000">R</text>
<line x1="275.5" y1="772.2" x2="275.5" y2="856.3" stroke="#111" stroke-width="1.1"/>
<line x1="275.5" y1="856.3" x2="331" y2="856.3" stroke="#111" stroke-width="1.1"/>
<line x1="273.3" y1="856.3" x2="275.5" y2="856.3" stroke="#222" stroke-width="0.8"/>
<text x="272.3" y="858.2" font-family='"Liberation Sans", sans-serif' font-size="5.3" text-anchor="end" fill="#111">0.0</text>
<line x1="273.3" y1="828.3" x2="275.5" y2="828.3" stroke="#222" stroke-width="0.8"/>
<text x="272.3" y="830.2" font-family='"Liberation Sans", sans-serif' font-size="5.3" text-anchor="end" fill="#111">0.5</text>
<line x1="273.3" y1="800.2" x2="275.5" y2="800.2" stroke="#222" stroke-width="0.8"/>
<text x="272.3" y="802.1" font-family='"Liberation Sans", sans-serif' font-size="5.3" text-anchor="end" fill="#111">1.0</text>
<line x1="273.3" y1="772.2" x2="275.5" y2="772.2" stroke="#222" stroke-width="0.8"/>
<text x="272.3" y="774.1" font-family='"Liberation Sans", sans-serif' font-size="5.3" text-anchor="end" fill="#111">1.5</text>
<line x1="290.5" y1="802.8" x2="290.5" y2="795.3" stroke="#333" stroke-width="0.6"/>
<line x1="288.1" y1="795.3" x2="292.9" y2="795.3" stroke="#333" stroke-width="0.6"/>
<rect x="285" y="802.8" width="11" height="53.5" fill="#111" stroke="#1a1a1a" stroke-width="0.7"/>
<line x1="290.5" y1="856.3" x2="290.5" y2="858.1" stroke="#222" stroke-width="0.6"/>
<line x1="307.2" y1="822.9" x2="307.2" y2="819.9" stroke="#333" stroke-width="0.6"/>
<line x1="304.8" y1="819.9" x2="309.6" y2="819.9" stroke="#333" stroke-width="0.6"/>
<rect x="301.8" y="822.9" width="10.8" height="33.4" fill="#a0a0a0" stroke="#1a1a1a" stroke-width="0.7"/>
<line x1="307.2" y1="856.3" x2="307.2" y2="858.1" stroke="#222" stroke-width="0.6"/>
<line x1="324" y1="800.3" x2="324" y2="787.8" stroke="#333" stroke-width="0.6"/>
<line x1="321.7" y1="787.8" x2="326.4" y2="787.8" stroke="#333" stroke-width="0.6"/>
<rect x="318.7" y="800.3" width="10.7" height="56" fill="#787878" stroke="#1a1a1a" stroke-width="0.7"/>
<line x1="324" y1="856.3" x2="324" y2="858.1" stroke="#222" stroke-width="0.6"/>
<polyline points="290.5,792.8 290.5,777.7 306.9,777.7 306.9,817.4" fill="none" stroke="#161616" stroke-width="0.85"/>
<text x="298.7" y="775.9" font-family='"Liberation Sans", sans-serif' font-size="5.2" text-anchor="middle" fill="#333">ns</text>
<polyline points="309.4,817.4 309.4,777.7 324.4,777.7 324.4,785.3" fill="none" stroke="#161616" stroke-width="0.85"/>
<path transform="scale(.25)" d="M1268 3090h0" stroke="#111" stroke-width="7.7" stroke-linecap="round"/>
<polyline points="290.5,792.8 290.5,759.6 324.4,759.6 324.4,785.3" fill="none" stroke="#161616" stroke-width="0.85"/>
<text x="307.4" y="757.8" font-family='"Liberation Sans", sans-serif' font-size="5.2" text-anchor="middle" fill="#333">ns</text>
<text x="261" y="814.2" font-family='"Liberation Sans", sans-serif' font-size="4.6" text-anchor="middle" fill="#222" transform="rotate(-90 261 814.2)">Relative FOXA1 protein expression</text>
<text x="292.9" y="863.5" font-family='"Liberation Sans", sans-serif' font-size="5.2" text-anchor="end" fill="#222" transform="rotate(-45 292.9 863.5)">+JQ-1(0.5uM)</text>
<text x="309.6" y="863.5" font-family='"Liberation Sans", sans-serif' font-size="5.2" text-anchor="end" fill="#222" transform="rotate(-45 309.6 863.5)">+JQ-1(1uM)</text>
<text x="326.4" y="863.5" font-family='"Liberation Sans", sans-serif' font-size="5.2" text-anchor="end" fill="#222" transform="rotate(-45 326.4 863.5)">DMSO</text>
<text x="364.2" y="757.4" font-family='"Liberation Serif", serif' font-size="14" fill="#000">S</text>
<line x1="375.1" y1="763.9" x2="375.1" y2="850.5" stroke="#111" stroke-width="1.1"/>
<line x1="375.1" y1="850.5" x2="433" y2="850.5" stroke="#111" stroke-width="1.1"/>
<line x1="372.9" y1="850.5" x2="375.1" y2="850.5" stroke="#222" stroke-width="0.8"/>
<text x="371.9" y="852.4" font-family='"Liberation Sans", sans-serif' font-size="5.3" text-anchor="end" fill="#111">0.0</text>
<line x1="372.9" y1="821.6" x2="375.1" y2="821.6" stroke="#222" stroke-width="0.8"/>
<text x="371.9" y="823.5" font-family='"Liberation Sans", sans-serif' font-size="5.3" text-anchor="end" fill="#111">0.5</text>
<line x1="372.9" y1="792.8" x2="375.1" y2="792.8" stroke="#222" stroke-width="0.8"/>
<text x="371.9" y="794.7" font-family='"Liberation Sans", sans-serif' font-size="5.3" text-anchor="end" fill="#111">1.0</text>
<line x1="372.9" y1="763.9" x2="375.1" y2="763.9" stroke="#222" stroke-width="0.8"/>
<text x="371.9" y="765.8" font-family='"Liberation Sans", sans-serif' font-size="5.3" text-anchor="end" fill="#111">1.5</text>
<line x1="386.5" y1="834.2" x2="386.5" y2="827.7" stroke="#333" stroke-width="0.6"/>
<line x1="384.1" y1="827.7" x2="389" y2="827.7" stroke="#333" stroke-width="0.6"/>
<rect x="380.9" y="834.2" width="11.3" height="16.3" fill="#111" stroke="#1a1a1a" stroke-width="0.7"/>
<line x1="386.5" y1="850.5" x2="386.5" y2="852.3" stroke="#222" stroke-width="0.6"/>
<line x1="404.4" y1="807.8" x2="404.4" y2="802.3" stroke="#333" stroke-width="0.6"/>
<line x1="402" y1="802.3" x2="406.8" y2="802.3" stroke="#333" stroke-width="0.6"/>
<rect x="399" y="807.8" width="10.8" height="42.7" fill="#a0a0a0" stroke="#1a1a1a" stroke-width="0.7"/>
<line x1="404.4" y1="850.5" x2="404.4" y2="852.3" stroke="#222" stroke-width="0.6"/>
<line x1="421.2" y1="793.2" x2="421.2" y2="786.7" stroke="#333" stroke-width="0.6"/>
<line x1="418.8" y1="786.7" x2="423.6" y2="786.7" stroke="#333" stroke-width="0.6"/>
<rect x="415.8" y="793.2" width="10.8" height="57.3" fill="#787878" stroke="#1a1a1a" stroke-width="0.7"/>
<line x1="421.2" y1="850.5" x2="421.2" y2="852.3" stroke="#222" stroke-width="0.6"/>
<polyline points="386.4,825.2 386.4,775.2 402.8,775.2 402.8,799.8" fill="none" stroke="#161616" stroke-width="0.85"/>
<path transform="scale(.25)" d="M1555 3080h0m15 0h0m16 0h0m16 0h0" stroke="#111" stroke-width="7.7" stroke-linecap="round"/>
<polyline points="406.5,799.8 406.5,775.2 421.6,775.2 421.6,784.2" fill="none" stroke="#161616" stroke-width="0.85"/>
<path transform="scale(.25)" d="M1648 3080h0m16 0h0" stroke="#111" stroke-width="7.7" stroke-linecap="round"/>
<polyline points="386.4,825.2 386.4,759.4 421.6,759.4 421.6,784.2" fill="none" stroke="#161616" stroke-width="0.85"/>
<path transform="scale(.25)" d="M1640 3017h0m-16 0h0m-16 0h0m-16 0h0" stroke="#111" stroke-width="7.7" stroke-linecap="round"/>
<text x="352.5" y="807.2" font-family='"Liberation Sans", sans-serif' font-size="4.1" text-anchor="middle" fill="#222" transform="rotate(-90 352.5 807.2)">Relative mRNA level of FOXA1</text>
<text x="388.9" y="857.7" font-family='"Liberation Sans", sans-serif' font-size="5.2" text-anchor="end" fill="#222" transform="rotate(-45 388.9 857.7)">+iBET-151(300uM)</text>
<text x="406.8" y="857.7" font-family='"Liberation Sans", sans-serif' font-size="5.2" text-anchor="end" fill="#222" transform="rotate(-45 406.8 857.7)">+iBET-151(150uM)</text>
<text x="423.6" y="857.7" font-family='"Liberation Sans", sans-serif' font-size="5.2" text-anchor="end" fill="#222" transform="rotate(-45 423.6 857.7)">DMSO</text>
<text x="448.2" y="760.1" font-family='"Liberation Serif", serif' font-size="14.3" fill="#000">T</text>
<line x1="458" y1="766.4" x2="458" y2="851.2" stroke="#111" stroke-width="1.1"/>
<line x1="458" y1="851.2" x2="513" y2="851.2" stroke="#111" stroke-width="1.1"/>
<line x1="455.8" y1="851.2" x2="458" y2="851.2" stroke="#222" stroke-width="0.8"/>
<text x="454.8" y="853.1" font-family='"Liberation Sans", sans-serif' font-size="5.3" text-anchor="end" fill="#111">0.0</text>
<line x1="455.8" y1="822.9" x2="458" y2="822.9" stroke="#222" stroke-width="0.8"/>
<text x="454.8" y="824.8" font-family='"Liberation Sans", sans-serif' font-size="5.3" text-anchor="end" fill="#111">0.5</text>
<line x1="455.8" y1="794.7" x2="458" y2="794.7" stroke="#222" stroke-width="0.8"/>
<text x="454.8" y="796.6" font-family='"Liberation Sans", sans-serif' font-size="5.3" text-anchor="end" fill="#111">1.0</text>
<line x1="455.8" y1="766.4" x2="458" y2="766.4" stroke="#222" stroke-width="0.8"/>
<text x="454.8" y="768.3" font-family='"Liberation Sans", sans-serif' font-size="5.3" text-anchor="end" fill="#111">1.5</text>
<line x1="471.1" y1="824.1" x2="471.1" y2="819.6" stroke="#333" stroke-width="0.6"/>
<line x1="468.7" y1="819.6" x2="473.6" y2="819.6" stroke="#333" stroke-width="0.6"/>
<rect x="465.5" y="824.1" width="11.3" height="27.1" fill="#111" stroke="#1a1a1a" stroke-width="0.7"/>
<line x1="471.1" y1="851.2" x2="471.1" y2="853" stroke="#222" stroke-width="0.6"/>
<line x1="488.1" y1="796" x2="488.1" y2="793" stroke="#333" stroke-width="0.6"/>
<line x1="485.7" y1="793" x2="490.6" y2="793" stroke="#333" stroke-width="0.6"/>
<rect x="482.6" y="796" width="11.1" height="55.2" fill="#a0a0a0" stroke="#1a1a1a" stroke-width="0.7"/>
<line x1="488.1" y1="851.2" x2="488.1" y2="853" stroke="#222" stroke-width="0.6"/>
<line x1="506.1" y1="795.3" x2="506.1" y2="788.3" stroke="#333" stroke-width="0.6"/>
<line x1="503.7" y1="788.3" x2="508.5" y2="788.3" stroke="#333" stroke-width="0.6"/>
<rect x="500.7" y="795.3" width="10.8" height="55.9" fill="#787878" stroke="#1a1a1a" stroke-width="0.7"/>
<line x1="506.1" y1="851.2" x2="506.1" y2="853" stroke="#222" stroke-width="0.6"/>
<polyline points="471,817.1 471,778.2 486.9,778.2 486.9,790.5" fill="none" stroke="#161616" stroke-width="0.85"/>
<path transform="scale(.25)" d="M1892 3092h0m16 0h0m16 0h0m16 0h0" stroke="#111" stroke-width="7.7" stroke-linecap="round"/>
<polyline points="490.1,790.5 490.1,778.2 505.7,778.2 505.7,785.8" fill="none" stroke="#161616" stroke-width="0.85"/>
<text x="497.9" y="776.4" font-family='"Liberation Sans", sans-serif' font-size="5.2" text-anchor="middle" fill="#333">ns</text>
<polyline points="471,817.1 471,761.4 505.7,761.4 505.7,785.8" fill="none" stroke="#161616" stroke-width="0.85"/>
<path transform="scale(.25)" d="M1930 3025h0m15 0h0m16 0h0m16 0h0" stroke="#111" stroke-width="7.7" stroke-linecap="round"/>
<text x="435.5" y="808.8" font-family='"Liberation Sans", sans-serif' font-size="4.1" text-anchor="middle" fill="#222" transform="rotate(-90 435.5 808.8)">Relative mRNA level of FOXA1</text>
<text x="473.5" y="858.4" font-family='"Liberation Sans", sans-serif' font-size="5.2" text-anchor="end" fill="#222" transform="rotate(-45 473.5 858.4)">+JQ-1(1 uM)</text>
<text x="490.5" y="858.4" font-family='"Liberation Sans", sans-serif' font-size="5.2" text-anchor="end" fill="#222" transform="rotate(-45 490.5 858.4)">+JQ-1(0.5 uM)</text>
<text x="508.5" y="858.4" font-family='"Liberation Sans", sans-serif' font-size="5.2" text-anchor="end" fill="#222" transform="rotate(-45 508.5 858.4)">DMSO</text>
<text x="540.6" y="760.4" font-family='"Liberation Serif", serif' font-size="14.5" fill="#000">U</text>
<line x1="545.6" y1="772.7" x2="545.6" y2="852.2" stroke="#111" stroke-width="1.1"/>
<line x1="545.6" y1="852.2" x2="600" y2="852.2" stroke="#111" stroke-width="1.1"/>
<line x1="543.4" y1="852.2" x2="545.6" y2="852.2" stroke="#222" stroke-width="0.8"/>
<text x="542.4" y="854.1" font-family='"Liberation Sans", sans-serif' font-size="5.3" text-anchor="end" fill="#111">0.0</text>
<line x1="543.4" y1="825.7" x2="545.6" y2="825.7" stroke="#222" stroke-width="0.8"/>
<text x="542.4" y="827.6" font-family='"Liberation Sans", sans-serif' font-size="5.3" text-anchor="end" fill="#111">0.5</text>
<line x1="543.4" y1="799.2" x2="545.6" y2="799.2" stroke="#222" stroke-width="0.8"/>
<text x="542.4" y="801.1" font-family='"Liberation Sans", sans-serif' font-size="5.3" text-anchor="end" fill="#111">1.0</text>
<line x1="543.4" y1="772.7" x2="545.6" y2="772.7" stroke="#222" stroke-width="0.8"/>
<text x="542.4" y="774.6" font-family='"Liberation Sans", sans-serif' font-size="5.3" text-anchor="end" fill="#111">1.5</text>
<line x1="557" y1="846" x2="557" y2="842.5" stroke="#333" stroke-width="0.6"/>
<line x1="554.7" y1="842.5" x2="559.2" y2="842.5" stroke="#333" stroke-width="0.6"/>
<rect x="551.9" y="846" width="10.1" height="6.2" fill="#111" stroke="#1a1a1a" stroke-width="0.7"/>
<line x1="557" y1="852.2" x2="557" y2="854" stroke="#222" stroke-width="0.6"/>
<line x1="573.8" y1="817.3" x2="573.8" y2="814.3" stroke="#333" stroke-width="0.6"/>
<line x1="571.5" y1="814.3" x2="576" y2="814.3" stroke="#333" stroke-width="0.6"/>
<rect x="568.7" y="817.3" width="10.1" height="34.9" fill="#a0a0a0" stroke="#1a1a1a" stroke-width="0.7"/>
<line x1="573.8" y1="852.2" x2="573.8" y2="854" stroke="#222" stroke-width="0.6"/>
<line x1="589.6" y1="799.8" x2="589.6" y2="794.8" stroke="#333" stroke-width="0.6"/>
<line x1="587.4" y1="794.8" x2="591.8" y2="794.8" stroke="#333" stroke-width="0.6"/>
<rect x="584.6" y="799.8" width="10" height="52.4" fill="#787878" stroke="#1a1a1a" stroke-width="0.7"/>
<line x1="589.6" y1="852.2" x2="589.6" y2="854" stroke="#222" stroke-width="0.6"/>
<polyline points="557.4,840 557.4,785.2 573.3,785.2 573.3,811.8" fill="none" stroke="#161616" stroke-width="0.85"/>
<path transform="scale(.25)" d="M2238 3120h0m15 0h0m16 0h0m16 0h0" stroke="#111" stroke-width="7.7" stroke-linecap="round"/>
<polyline points="573.3,811.8 573.3,770.1 589.6,770.1 589.6,792.3" fill="none" stroke="#161616" stroke-width="0.85"/>
<path transform="scale(.25)" d="M2350 3060h0m-16 0h0m-16 0h0m-16 0h0" stroke="#111" stroke-width="7.7" stroke-linecap="round"/>
<polyline points="557.4,840 557.4,754.6 589.6,754.6 589.6,792.3" fill="none" stroke="#161616" stroke-width="0.85"/>
<path transform="scale(.25)" d="M2270 2998h0m16 0h0m16 0h0m16 0h0" stroke="#111" stroke-width="7.7" stroke-linecap="round"/>
<text x="523.5" y="812.5" font-family='"Liberation Sans", sans-serif' font-size="4.1" text-anchor="middle" fill="#222" transform="rotate(-90 523.5 812.5)">Relative mRNA level of FOXA1</text>
<text x="559.4" y="859.4" font-family='"Liberation Sans", sans-serif' font-size="5.2" text-anchor="end" fill="#222" transform="rotate(-45 559.4 859.4)">+iBET-151(130uM)</text>
<text x="576.1" y="859.4" font-family='"Liberation Sans", sans-serif' font-size="5.2" text-anchor="end" fill="#222" transform="rotate(-45 576.1 859.4)">+iBET-151(65uM)</text>
<text x="592" y="859.4" font-family='"Liberation Sans", sans-serif' font-size="5.2" text-anchor="end" fill="#222" transform="rotate(-45 592 859.4)">+DMSO</text>
<text x="619.5" y="760.6" font-family='"Liberation Serif", serif' font-size="14.5" fill="#000">V</text>
<line x1="623.5" y1="774.4" x2="623.5" y2="849.7" stroke="#111" stroke-width="1.1"/>
<line x1="623.5" y1="849.7" x2="678" y2="849.7" stroke="#111" stroke-width="1.1"/>
<line x1="621.3" y1="849.7" x2="623.5" y2="849.7" stroke="#222" stroke-width="0.8"/>
<text x="620.3" y="851.6" font-family='"Liberation Sans", sans-serif' font-size="5.3" text-anchor="end" fill="#111">0.0</text>
<line x1="621.3" y1="824.6" x2="623.5" y2="824.6" stroke="#222" stroke-width="0.8"/>
<text x="620.3" y="826.5" font-family='"Liberation Sans", sans-serif' font-size="5.3" text-anchor="end" fill="#111">0.5</text>
<line x1="621.3" y1="799.5" x2="623.5" y2="799.5" stroke="#222" stroke-width="0.8"/>
<text x="620.3" y="801.4" font-family='"Liberation Sans", sans-serif' font-size="5.3" text-anchor="end" fill="#111">1.0</text>
<line x1="621.3" y1="774.4" x2="623.5" y2="774.4" stroke="#222" stroke-width="0.8"/>
<text x="620.3" y="776.3" font-family='"Liberation Sans", sans-serif' font-size="5.3" text-anchor="end" fill="#111">1.5</text>
<line x1="638" y1="799.8" x2="638" y2="795.3" stroke="#333" stroke-width="0.6"/>
<line x1="635.8" y1="795.3" x2="640.2" y2="795.3" stroke="#333" stroke-width="0.6"/>
<rect x="633" y="799.8" width="10" height="49.9" fill="#111" stroke="#1a1a1a" stroke-width="0.7"/>
<line x1="638" y1="849.7" x2="638" y2="851.5" stroke="#222" stroke-width="0.6"/>
<line x1="653" y1="822.4" x2="653" y2="818.4" stroke="#333" stroke-width="0.6"/>
<line x1="651.1" y1="818.4" x2="654.9" y2="818.4" stroke="#333" stroke-width="0.6"/>
<rect x="648.6" y="822.4" width="8.8" height="27.3" fill="#a0a0a0" stroke="#1a1a1a" stroke-width="0.7"/>
<line x1="653" y1="849.7" x2="653" y2="851.5" stroke="#222" stroke-width="0.6"/>
<line x1="668" y1="799.8" x2="668" y2="792.8" stroke="#333" stroke-width="0.6"/>
<line x1="665.8" y1="792.8" x2="670.2" y2="792.8" stroke="#333" stroke-width="0.6"/>
<rect x="663.1" y="799.8" width="9.8" height="49.9" fill="#787878" stroke="#1a1a1a" stroke-width="0.7"/>
<line x1="668" y1="849.7" x2="668" y2="851.5" stroke="#222" stroke-width="0.6"/>
<polyline points="637.3,792.8 637.3,770.7 652.3,770.7 652.3,815.9" fill="none" stroke="#161616" stroke-width="0.85"/>
<path transform="scale(.25)" d="M2603 3062h0m-16 0h0m-16 0h0m-16 0h0" stroke="#111" stroke-width="7.7" stroke-linecap="round"/>
<polyline points="652.3,815.9 652.3,785.2 668.2,785.2 668.2,790.3" fill="none" stroke="#161616" stroke-width="0.85"/>
<path transform="scale(.25)" d="M2617 3120h0m16 0h0m16 0h0m16 0h0" stroke="#111" stroke-width="7.7" stroke-linecap="round"/>
<polyline points="637.3,792.8 637.3,757.1 668.2,757.1 668.2,790.3" fill="none" stroke="#161616" stroke-width="0.85"/>
<text x="652.8" y="755.3" font-family='"Liberation Sans", sans-serif' font-size="5.2" text-anchor="middle" fill="#333">ns</text>
<text x="606" y="812" font-family='"Liberation Sans", sans-serif' font-size="4.1" text-anchor="middle" fill="#222" transform="rotate(-90 606 812)">Relative mRNA level of FOXA1</text>
<text x="640.4" y="856.9" font-family='"Liberation Sans", sans-serif' font-size="5.2" text-anchor="end" fill="#222" transform="rotate(-45 640.4 856.9)">+JQ-1(0.4uM)</text>
<text x="655.4" y="856.9" font-family='"Liberation Sans", sans-serif' font-size="5.2" text-anchor="end" fill="#222" transform="rotate(-45 655.4 856.9)">+JQ-1(0.8uM)</text>
<text x="670.4" y="856.9" font-family='"Liberation Sans", sans-serif' font-size="5.2" text-anchor="end" fill="#222" transform="rotate(-45 670.4 856.9)">DMSO</text>
<text x="339.6" y="145.5" font-family='"Liberation Serif", serif' font-size="14.5" fill="#000">H</text>
<text x="384" y="144.5" font-family='"Liberation Serif", serif' font-size="6.6" text-anchor="middle" fill="#000">PC-3</text>
<text x="450" y="144.5" font-family='"Liberation Serif", serif' font-size="6.6" text-anchor="middle" fill="#000">DU145</text>
<text x="338.5" y="177.6" font-family='"Liberation Serif", serif' font-size="6" text-anchor="middle" fill="#000" transform="rotate(90 338.5 177.6)">+DMSO</text>
<text x="338.5" y="238" font-family='"Liberation Serif", serif' font-size="6" text-anchor="middle" fill="#000" transform="rotate(90 338.5 238)">+JQ-1</text>
<text x="338.5" y="305" font-family='"Liberation Serif", serif' font-size="6" text-anchor="middle" fill="#000" transform="rotate(90 338.5 305)">+iBet-151</text>
<defs><radialGradient id="pl1" cx="50%" cy="50%" r="50%"><stop offset="0" stop-color="#f4f4f7"/><stop offset="0.85" stop-color="#ececf2"/><stop offset="1" stop-color="#e0e0ec"/></radialGradient><radialGradient id="pl2" cx="50%" cy="50%" r="50%"><stop offset="0" stop-color="#f9f9ee"/><stop offset="0.85" stop-color="#f3f3e2"/><stop offset="1" stop-color="#ecedd8"/></radialGradient><radialGradient id="pl3" cx="50%" cy="50%" r="50%"><stop offset="0" stop-color="#f5f6f0"/><stop offset="0.85" stop-color="#eef0e6"/><stop offset="1" stop-color="#e6e8dc"/></radialGradient></defs>
<circle cx="384.2" cy="180.3" r="29.3" fill="url(#pl1)"/>
<path transform="scale(.25)" d="M1596 623h0m-7 0h0m-5-5h0m-11-2h0m-6-4h0m-6-2h0m-4 1h0m-6-1h0m-3 13h0m-2-4h0m-3-5h0m-3 7h0m0 2h0m-1-12h0m-3 3h0m-2 2h0m-1 5h0m-1-5h0m-10 2h0m-9-2h0m-5 2h0m-4 1h0m-1 3h0m-2-1h0m-5-6h0m-13 7h0m-3 0h0m-28 25h0m2-1h0m6 0h0m0-6h0m3 0h0m1 4h0m0-7h0m9 6h0m0-12h0m2 8h0m0 8h0m4 0h0m0-7h0m0 4h0m1 1h0m0-12h0m0-2h0m3 9h0m0 6h0m1-12h0m2 12h0m0-16h0m1-4h0m8 15h0m4-5h0m2-11h0m0 2h0m1 17h0m1-17h0m1-2h0m0 7h0m0 9h0m2-4h0m0 9h0m0-21h0m4 22h0m7-20h0m3 16h0m2-17h0m0 18h0m1-8h0m3-10h0m5 4h0m3-5h0m4 11h0m0-10h0m0 9h0m2 2h0m1-12h0m2 18h0m5-18h0m0 21h0m2 0h0m1-2h0m4-5h0m3-3h0m1 7h0m12-5h0m2 9h0m2-6h0m2-12h0m4 2h0m3 13h0m5-2h0m1 4h0m1 0h0m0-15h0m4 3h0m2 9h0m0-3h0m1-15h0m4 14h0m2 4h0m0-8h0m6 3h0m8 7h0m17 20h0m0 4h0m-1-9h0m-5 5h0m-1-9h0m-4 4h0m-1-10h0m0 16h0m-2-3h0m-2 6h0m-1-12h0m-4 12h0m-1-7h0m-1-13h0m0 9h0m-1 4h0m0-5h0m-5 2h0m-1-7h0m-1 0h0m0 15h0m-7 0h0m0-13h0m-1-6h0m-5 19h0m-4-13h0m-3 15h0m-1-16h0m-1-2h0m-2 16h0m-2-16h0m-1 2h0m-1 10h0m-1-11h0m-2-3h0m-3 21h0m-1-11h0m-1 9h0m0-19h0m0 17h0m-3-3h0m-1 4h0m-1-4h0m0 4h0m-4-4h0m-5 4h0m-1-11h0m-2-3h0m-6 0h0m0 9h0m-5-6h0m-4-4h0m0 13h0m-2-5h0m-4-10h0m-3 5h0m-2-6h0m0-1h0m-5 6h0m-2-2h0m-2-3h0m-3 15h0m-1-4h0m-7-7h0m-4 18h0m0-13h0m-1-4h0m-6 14h0m0-10h0m-7 0h0m-1-9h0m-1 17h0m0-11h0m-1-4h0m0 8h0m-3-10h0m-7 6h0m-1 1h0m-6-1h0m0 4h0m-3-5h0m-1-5h0m-7 18h0m0-16h0m-2 10h0m-1 7h0m-2-11h0m-1-9h0m-6 16h0m-5-1h0m0-1h0m-4 20h0m0 9h0m2-17h0m3 19h0m1-13h0m0 8h0m4-11h0m0-1h0m5 4h0m4 12h0m1-18h0m1 5h0m3 16h0m0-1h0m0-5h0m4-1h0m9-7h0m9 4h0m1 0h0m3-3h0m2 6h0m1-3h0m1-4h0m6 7h0m2-5h0m2 9h0m0-6h0m12 3h0m3 3h0m5-4h0m7 0h0m3-11h0m2 11h0m0-5h0m7-10h0m2 22h0m1-11h0m0-11h0m1 5h0m7 9h0m14-11h0m6-3h0m6 9h0m4-7h0m0 1h0m4 11h0m0-8h0m3-2h0m2 17h0m1-12h0m2 4h0m0 5h0m1-1h0m17-16h0m1 19h0m1-3h0m0-16h0m1 7h0m1 3h0m5-10h0m2 0h0m3 16h0m1-14h0m0-3h0m6 17h0m1 3h0m6-1h0m2 3h0m1-19h0m0 17h0m2-1h0m8 19h0m-2-9h0m0 2h0m-3-8h0m-2 21h0m-4-19h0m0 8h0m-2-4h0m-5 10h0m-4-13h0m-1 10h0m-2 10h0m-1-22h0m-1 5h0m-4 16h0m-6-19h0m-4 8h0m-5-1h0m-1-10h0m-5 3h0m0 4h0m-2 1h0m0 9h0m-1-16h0m-3 19h0m-1 0h0m-2-6h0m-18-4h0m-6 10h0m-2-2h0m-1-9h0m-3 8h0m-4-5h0m-6 8h0m-10 1h0m0-6h0m-2 3h0m-7-15h0m-1 0h0m0 17h0m-7 3h0m-5-8h0m-2-12h0m-1 0h0m-1 11h0m-6-4h0m-3-4h0m-1-5h0m-10 2h0m-1 16h0m-1 2h0m-7-8h0m-1-2h0m-1 9h0m0-5h0m-2-15h0m0 18h0m-1-6h0m-3-9h0m-1 15h0m-1-11h0m-1-6h0m-5 2h0m0 6h0m-4 11h0m-1 1h0m0-1h0m-1 2h0m-2-8h0m0 9h0m-2-23h0m-1 4h0m0 14h0m-1-12h0m-1-1h0m-1 10h0m0-14h0m-1 21h0m-1-16h0m-2 14h0m-5-20h0m0 13h0m0-11h0m-4 9h0m-1-4h0m-5-1h0m-4 5h0m-2-1h0m-4-1h0m-1 6h0m0 6h0m-1-2h0m2 12h0m3 5h0m4-9h0m1-1h0m1 14h0m0-1h0m3-10h0m0 9h0m4 3h0m0-6h0m1-5h0m0-1h0m3 8h0m9-8h0m2 0h0m1-3h0m0 7h0m1-6h0m1 10h0m1-12h0m0 8h0m2 14h0m4-5h0m1 0h0m0-11h0m0-6h0m2 17h0m3-12h0m1-6h0m0 18h0m0-12h0m4 10h0m16-16h0m6 11h0m12-1h0m2 0h0m1-9h0m3 19h0m4-19h0m1 10h0m11-3h0m12 13h0m9-17h0m4 11h0m2 0h0m1 2h0m9-2h0m3-8h0m3 12h0m1-13h0m7 5h0m4-4h0m12 10h0m4-11h0m2 0h0m1 6h0m3-4h0m1 4h0m1-11h0m2 4h0m2 16h0m2-15h0m1 10h0m2-16h0m1 16h0m0 3h0m1-5h0m2 6h0m4-13h0m5-6h0m0 20h0m1-5h0m0-7h0m1-1h0m1 10h0m2-2h0m1 0h0m1-5h0m0 8h0m2-9h0m0 13h0m8-22h0m-6 30h0m-4 10h0m0-11h0m-1 3h0m-2 9h0m-4-18h0m-1 10h0m-2 5h0m-1-14h0m-4 9h0m-2 5h0m0-10h0m0 17h0m-2-5h0m-2-13h0m-1 3h0m0 14h0m-4-2h0m0 3h0m-2-3h0m-1-10h0m-1 2h0m-1-8h0m-1-2h0m-1 17h0m-2 0h0m-1-11h0m-6 2h0m-3-9h0m-2 8h0m-3 14h0m-5-12h0m0 8h0m-4-3h0m-3-13h0m-10 4h0m-1-1h0m-1 18h0m0-6h0m-9-9h0m-7-3h0m-3 16h0m-5-15h0m-3 5h0m-18-2h0m-7 10h0m-1 1h0m-3 3h0m-7-9h0m-4 0h0m0 8h0m0-15h0m-1 13h0m-1-19h0m0-1h0m-2 0h0m-3 13h0m-2-12h0m-4 11h0m-3-11h0m-2 0h0m-2 21h0m-2-19h0m-1 13h0m-1-6h0m-10 3h0m-1-1h0m-1-11h0m-1 0h0m-2 11h0m0-1h0m-4 12h0m-4-15h0m-3 1h0m-2 7h0m-5-10h0m-1 2h0m-4-8h0m0 4h0m0 13h0m-4-10h0m-1 10h0m0-3h0m-2-2h0m-2-1h0m7 13h0m7 12h0m3 2h0m1 7h0m2-4h0m3-6h0m2 0h0m1 6h0m5-8h0m1 6h0m4-9h0m1 13h0m3-2h0m0-2h0m1-1h0m2-7h0m0 7h0m0-2h0m1-12h0m1 1h0m2 6h0m8 1h0m3 8h0m1 2h0m10-16h0m3 15h0m5-1h0m16-6h0m1-2h0m5 1h0m0 9h0m0 2h0m2-8h0m0 8h0m1-11h0m4 12h0m1-12h0m5 7h0m1 4h0m0-8h0m6 8h0m4-20h0m8 0h0m4 17h0m3 1h0m3 1h0m2 0h0m5-6h0m1 9h0m8-12h0m1 0h0m0 9h0m4-7h0m3 8h0m0-8h0m4-5h0m1-1h0m0 17h0m3-1h0m4-12h0m3 6h0m1-4h0m3-2h0m0 9h0m0-3h0m1-11h0m1 12h0m2-17h0m2 20h0m2-12h0m1-1h0m5-1h0m0-6h0m3 16h0m0 3h0m1-19h0m2 5h0m1-4h0m1 0h0m-9 23h0m-5 7h0m-5-5h0m-4 12h0m-2 3h0m-3 2h0m-2-7h0m-4-3h0m-1-5h0m-3 4h0m0 13h0m-3 2h0m0-7h0m-1-3h0m-2-12h0m0 18h0m-1 3h0m0-5h0m-4-12h0m-3-2h0m0 13h0m-4 6h0m0-1h0m-1-1h0m0-19h0m0 15h0m-1-3h0m-1-3h0m-1-7h0m-2 9h0m-1-3h0m-5 6h0m-1-2h0m-5 2h0m-1-9h0m-1 10h0m-1 6h0m-10-7h0m0-3h0m-1 10h0m0-15h0m-4 12h0m-2-9h0m-1 8h0m0-11h0m-1 9h0m-1 2h0m-1-5h0m-3-5h0m-1 3h0m-5 0h0m0 8h0m-1 2h0m-3-21h0m-2 7h0m-1-1h0m-1 5h0m-1-5h0m-1 12h0m-1-6h0m-6 9h0m0-19h0m-1 13h0m-1-5h0m-3-6h0m0 15h0m-3-15h0m-3 13h0m-1-15h0m0 18h0m0-2h0m0-14h0m-2 8h0m-2 7h0m-3-12h0m-5 11h0m-3-6h0m0-6h0m-2 4h0m-1-1h0m0-6h0m-1 17h0m-1-6h0m-2-3h0m-4 0h0m-9-11h0m-1 11h0m-3-6h0m0-5h0m-1 7h0m-4-3h0m26 22h0m7 4h0m3 4h0m3-4h0m3 3h0m5-4h0m2 10h0m1-9h0m2 0h0m2 0h0m4-1h0m3 9h0m2 0h0m4-6h0m6-2h0m3 10h0m0-5h0m1 2h0m1-9h0m0 5h0m3-5h0m2 3h0m0 6h0m1-4h0m3 0h0m2 4h0m0-11h0m2 17h0m2-7h0m1-8h0m3 8h0m8-1h0m0-7h0m1 11h0m1-1h0m1-6h0m0-2h0m3-1h0m4 2h0m1 3h0m6-2h0m5-2h0m3-6h0m1 4h0m3 0h0m6-1h0" stroke="#4a3cbc" stroke-width="4.6" stroke-linecap="round"/>
<circle cx="449.6" cy="180.5" r="29.3" fill="url(#pl1)"/>
<path transform="scale(.25)" d="M1851 622h0m-3-1h0m-12-2h0m-1 2h0m-3-5h0m-3-4h0m-2 7h0m-6-4h0m-2 0h0m-9 2h0m-5 6h0m-3 0h0m-7-8h0m-9 8h0m-1-11h0m-4 7h0m-7-3h0m-7-4h0m-9 9h0m-9-2h0m-28 20h0m1-2h0m0 3h0m6-4h0m1-1h0m1 3h0m8 9h0m0-10h0m1 1h0m2-2h0m2 2h0m0-2h0m2-1h0m4 4h0m2-7h0m3 5h0m4-2h0m1 9h0m2-1h0m0-14h0m6-5h0m2 11h0m1 2h0m9-6h0m8-6h0m1 22h0m4-9h0m4-8h0m1 11h0m6 3h0m3 0h0m1-20h0m0 22h0m1-7h0m1 1h0m4 6h0m1-22h0m1 13h0m6-2h0m6 12h0m3-17h0m8 3h0m7 4h0m1-4h0m6-6h0m3 17h0m2-9h0m2 3h0m0 8h0m3-2h0m1-10h0m2 3h0m5 8h0m5 0h0m1-5h0m0-1h0m1 0h0m20 27h0m-7 0h0m-2-14h0m-10 0h0m0 4h0m-1 6h0m-3-10h0m-2 14h0m-3-7h0m-2 9h0m-3-11h0m-3 6h0m-1-11h0m-4 0h0m-5 12h0m-1 1h0m0-10h0m-1 3h0m-3-9h0m-1 22h0m-3-2h0m-2-3h0m-2-2h0m0-5h0m-2-6h0m-4-4h0m-3 9h0m-1-2h0m0 13h0m-4-17h0m-5 15h0m-8 2h0m-5 0h0m-2-11h0m-4 1h0m-1-2h0m0-5h0m-2 13h0m-14-11h0m-3 6h0m-8-5h0m-2-4h0m-1 5h0m-4-3h0m0 4h0m-1 7h0m-2-13h0m-2 16h0m-2 1h0m0-16h0m-3 4h0m-3-5h0m-1 0h0m0 15h0m-1 1h0m-5-12h0m-6 10h0m-4-7h0m-4-5h0m-2 1h0m-3 9h0m-1-10h0m-5 1h0m0-6h0m-3 17h0m-8-3h0m-1-7h0m0 9h0m-1-5h0m0-5h0m-1 10h0m-1-6h0m-14 27h0m1 3h0m2 4h0m3-8h0m0 3h0m3 3h0m0 2h0m0-19h0m2 5h0m0-5h0m3 11h0m3-10h0m1 1h0m1 16h0m0 4h0m1-5h0m0-5h0m3 10h0m1-8h0m1-9h0m1 7h0m3 2h0m1 3h0m1-11h0m3-4h0m4 13h0m2-2h0m1-13h0m0-1h0m2 8h0m2 11h0m1-7h0m4-10h0m3 10h0m9-7h0m1 6h0m1 8h0m2-19h0m2 7h0m2-7h0m0 4h0m3 0h0m3 12h0m7-5h0m1 11h0m5-19h0m5 13h0m0-1h0m2-14h0m3 12h0m3-11h0m6 9h0m7 9h0m6-4h0m1-13h0m1 11h0m1-5h0m1 4h0m0 8h0m1-3h0m8 4h0m3-6h0m1-8h0m5-6h0m2 1h0m3 9h0m3-1h0m3-2h0m3 10h0m1-3h0m4-3h0m0-1h0m11-1h0m4 3h0m1-1h0m0-2h0m3 1h0m3 3h0m0-13h0m1 2h0m14-4h0m1 23h0m1-7h0m2 2h0m0-11h0m0-6h0m1 5h0m0 16h0m3-22h0m2 16h0m1-2h0m6 0h0m4 30h0m-1-16h0m-1 11h0m0-7h0m-5 14h0m-6-1h0m-1-11h0m-2 7h0m-2 3h0m0-17h0m-4 16h0m-1-5h0m-1 4h0m0-15h0m-2 20h0m-1-19h0m-9 6h0m-1-2h0m-1-6h0m-2 18h0m-4-10h0m-6-5h0m-2 12h0m0-5h0m-8 9h0m-2-13h0m-2 3h0m-1 6h0m-4 4h0m0-15h0m0 8h0m-1 9h0m-5-11h0m0-2h0m-1 12h0m0-15h0m-1 9h0m-5-7h0m-2-8h0m-4 0h0m-12 21h0m-2-16h0m-13 3h0m0-6h0m-3 19h0m-1-16h0m-3-3h0m-6 11h0m-4-2h0m-2 5h0m-3-10h0m-4 3h0m-1-10h0m-27 18h0m-4-3h0m-7 8h0m-5-14h0m0 4h0m0-5h0m-2-7h0m0 20h0m-6-16h0m-1 12h0m-2-14h0m-4 17h0m0-10h0m-2 9h0m-2-4h0m-11-10h0m0 9h0m-2-6h0m-3 9h0m-2-12h0m-1 12h0m-2 28h0m3-17h0m3-3h0m2 3h0m1 14h0m9 4h0m0-19h0m3-3h0m0 8h0m0 8h0m1-11h0m0 13h0m0-6h0m2 4h0m24-7h0m6-5h0m3 11h0m0-15h0m6 21h0m1-6h0m5-7h0m3-5h0m8 14h0m1 1h0m7 4h0m5-11h0m6 11h0m4-21h0m2 17h0m0-12h0m16 7h0m5 10h0m3-7h0m1-8h0m5 9h0m8-8h0m1 13h0m4-15h0m6 14h0m5-10h0m0-6h0m0 18h0m3-9h0m2-1h0m2-5h0m9 15h0m3-17h0m2 11h0m1 4h0m1-2h0m7 1h0m1 2h0m5-13h0m0 8h0m0-15h0m2 12h0m1-10h0m0 7h0m10-3h0m2 1h0m0-6h0m1 9h0m10-11h0m0 4h0m-1 30h0m-2-9h0m0-2h0m0 18h0m0-10h0m0 13h0m-5 1h0m-2-19h0m-2 1h0m0 13h0m-2 2h0m-5-8h0m-3 8h0m0-7h0m-5-4h0m-2 9h0m-1-5h0m-1 8h0m-4-12h0m-7 15h0m0-22h0m-2 8h0m-7-7h0m-1 5h0m0-5h0m-10 3h0m-2 17h0m-3-6h0m-2-12h0m-7 7h0m0-10h0m-1 15h0m-3 5h0m-6-5h0m-7 5h0m-5-15h0m0 9h0m-2-7h0m-1 2h0m-25 7h0m-1-13h0m-11 7h0m-11-5h0m-1 10h0m-1-9h0m-3 0h0m-5 8h0m-3-13h0m-5-1h0m0 11h0m-1-6h0m-1-5h0m-4 19h0m-4-12h0m-5 10h0m-1-17h0m0 6h0m-1-5h0m-2-2h0m-4 2h0m-2 13h0m-1-3h0m0-10h0m-1 1h0m-2 8h0m0-11h0m0 13h0m-6-8h0m-3 5h0m-4 2h0m-1-12h0m-6 17h0m-3-17h0m14 36h0m1-2h0m6-4h0m0 11h0m4-9h0m1 5h0m2-4h0m1-3h0m2-1h0m1 9h0m3 2h0m3-12h0m8 7h0m1-3h0m3-1h0m1 10h0m2-7h0m2-2h0m0 13h0m1-7h0m1-5h0m1 6h0m10-9h0m2 4h0m3 2h0m1 7h0m3-12h0m2-4h0m1 1h0m4-2h0m1 5h0m0 9h0m2-13h0m4 9h0m3-6h0m0 12h0m3-6h0m0 11h0m2-18h0m1 2h0m1-1h0m6 13h0m9 2h0m2-17h0m1 0h0m4 18h0m0-2h0m1-9h0m1 2h0m2-9h0m3 6h0m2 4h0m2-2h0m14-7h0m3 15h0m6-12h0m2 13h0m0-5h0m5-13h0m0 2h0m3-1h0m1 5h0m3-3h0m2 7h0m2-10h0m0 9h0m2 10h0m0-12h0m3-1h0m0 13h0m0-8h0m1 8h0m6-7h0m1-10h0m3 15h0m1-2h0m1-3h0m0-10h0m0 13h0m3-7h0m0 9h0m9-7h0m6-13h0m3 0h0m-16 25h0m-4 3h0m0-4h0m-3 2h0m-4 2h0m-1 2h0m-1 11h0m-1-17h0m0 12h0m-3-5h0m-6 6h0m0-7h0m-5 1h0m0-1h0m-1 7h0m-1-3h0m-1-7h0m-10 4h0m-3 7h0m-5 6h0m-6-4h0m-2-14h0m-1-2h0m-1 3h0m-3 8h0m-1 12h0m-6-9h0m-1-3h0m-1 10h0m-1-8h0m-1-2h0m-2 1h0m-4 7h0m-4 0h0m-4-19h0m-3 3h0m-1 19h0m-3-22h0m-1 10h0m-4-5h0m-3 7h0m-2-5h0m-2 8h0m-3-14h0m-2 0h0m-7 13h0m-1-8h0m-2 12h0m0-1h0m-1-17h0m-1 22h0m-2-11h0m-1 1h0m-1-6h0m-3-4h0m0 20h0m-2-4h0m-2-18h0m-1 20h0m-5-15h0m0 12h0m-2 2h0m0 2h0m-1-13h0m-7 4h0m-1-2h0m-1 6h0m-2 2h0m-2 2h0m-3-19h0m-5-1h0m-6 0h0m-2 0h0m-3 3h0m27 25h0m0-3h0m9 4h0m5 3h0m10-5h0m0 3h0m4 9h0m3 2h0m4-12h0m0 4h0m4-4h0m2 9h0m2 0h0m2 4h0m1-10h0m2-5h0m3 8h0m0-6h0m4 11h0m2-4h0m4-7h0m2 12h0m1-17h0m3 8h0m4-6h0m5 15h0m4-6h0m6 2h0m6-7h0m1 3h0m16-9h0m3 5h0m1-1h0m1 2h0" stroke="#4a3cbc" stroke-width="3.8" stroke-linecap="round"/>
<path transform="scale(.25)" d="M1848 621h0m-4 1h0m-16 25h0m1-1h0m6-16h0m0 12h0m1-13h0m0 16h0m1-21h0m1 19h0m1-16h0m2 12h0m1 1h0m3-2h0m0-14h0m0 9h0m2-4h0m2 2h0m1-2h0m0 9h0m1 1h0m0 8h0m1-5h0m0-14h0m1 14h0m2-18h0m1 15h0m1 7h0m2-10h0m1 4h0m2-1h0m1-8h0m1 13h0m2-3h0m2-2h0m6 5h0m1-6h0m5 8h0m18 22h0m0 2h0m-3-3h0m-3-1h0m-3-11h0m0 9h0m-3 3h0m-2-2h0m-2-4h0m0-10h0m0 4h0m0-6h0m-1 1h0m-1 19h0m-1-11h0m-6 4h0m-1 6h0m-2-4h0m-1-9h0m-1-1h0m-1 13h0m-1-12h0m0-7h0m-1 16h0m-1-2h0m0-12h0m-1 18h0m-1-4h0m0-5h0m0-2h0m-1 11h0m-1-12h0m-1 12h0m-1-11h0m0-5h0m0 8h0m0-2h0m-1 11h0m-1 2h0m0-1h0m-1 0h0m0-15h0m-1 14h0m-1-1h0m0-9h0m-1-8h0m-1 18h0m0-1h0m-1-14h0m-1 9h0m-2 2h0m0-15h0m0 17h0m0-15h0m-1-1h0m-2 10h0m-3 0h0m0-7h0m0 13h0m-2 0h0m-1-2h0m0-5h0m-1 10h0m0-19h0m-1 3h0m0-5h0m0 18h0m-1-17h0m0 15h0m-1-14h0m0 18h0m-1-17h0m0 19h0m-1-4h0m0-5h0m0-6h0m0 9h0m-2-5h0m0-1h0m0 7h0m-1-14h0m-1 10h0m-1-11h0m0 17h0m-1-12h0m-3 4h0m-1 4h0m-1-1h0m0 6h0m-13 8h0m13-5h0m8 3h0m1 5h0m1-3h0m3 0h0m0 2h0m1 3h0m0-7h0m2 3h0m0-6h0m0 4h0m1-2h0m2 11h0m0-7h0m1 10h0m0-3h0m1-10h0m1 0h0m0 8h0m1-4h0m0 4h0m0 7h0m0-14h0m1 12h0m0-10h0m1 1h0m2-3h0m0 9h0m1 9h0m1-21h0m1 11h0m1 10h0m1-12h0m0 2h0m0 4h0m0-5h0m1 11h0m1-6h0m1-14h0m1 18h0m0-19h0m3 8h0m0-5h0m1 17h0m1-3h0m0 4h0m1-7h0m3-6h0m2-9h0m1 17h0m1 1h0m0-14h0m0 12h0m0-1h0m2 8h0m4-1h0m2-3h0m1-6h0m1-13h0m1 1h0m1 3h0m1-1h0m0 9h0m0-5h0m0 13h0m1-5h0m3 2h0m1-5h0m0 9h0m1 1h0m1-2h0m0-6h0m0 9h0m3-22h0m0 4h0m1-1h0m0 18h0m2-10h0m3 0h0m1-3h0m2 14h0m0-15h0m1 1h0m2 4h0m2 6h0m4 15h0m-2 6h0m0-11h0m-1 9h0m-1 6h0m-2-5h0m-1-4h0m0 12h0m-1-16h0m0 9h0m-1-8h0m0-8h0m-6 0h0m0 17h0m-1-16h0m-1-1h0m0 4h0m-2 11h0m-1 8h0m-1-8h0m-1 6h0m0-10h0m-1 12h0m0-23h0m-2 12h0m0-5h0m-2-4h0m-1 6h0m0-4h0m-1 6h0m0 11h0m-1-8h0m0 4h0m0-15h0m-1 16h0m-1-4h0m-1-10h0m-2-5h0m0 15h0m-3-10h0m0-5h0m-1 17h0m0-14h0m0-3h0m-1 16h0m-2 6h0m-1 0h0m0-20h0m0 4h0m-1 12h0m-1-16h0m0 12h0m0 4h0m-1-14h0m0 8h0m0 8h0m-1-16h0m0 15h0m0-5h0m-1-7h0m0-1h0m-1 17h0m0-3h0m-2-18h0m0 21h0m0-19h0m-1 15h0m0 2h0m-2-2h0m-2-4h0m0 4h0m-1-1h0m0-15h0m-1 17h0m-1-15h0m-1 13h0m0-7h0m-1 0h0m-4-10h0m-19 3h0m-5 8h0m-3 6h0m-7-3h0m-2 6h0m-1 1h0m0-2h0m-1-10h0m0 12h0m-4-12h0m0 9h0m-11-7h0m-2 5h0m-2-10h0m-6 26h0m9 6h0m2-13h0m2 7h0m1 6h0m2-1h0m1-9h0m1-5h0m0 22h0m0-5h0m2 1h0m2-4h0m0 9h0m0-19h0m1 1h0m1 17h0m1-22h0m0 21h0m1-6h0m0-5h0m0 8h0m1-10h0m1 7h0m0 7h0m0-2h0m1-14h0m0 4h0m1 12h0m0-15h0m1 15h0m1-20h0m1 7h0m0-6h0m2 8h0m0-6h0m31 13h0m1 1h0m2-19h0m1 2h0m0 3h0m1 0h0m0 9h0m1-3h0m1-11h0m1 8h0m1-1h0m0 9h0m0-11h0m0-2h0m1 10h0m0-12h0m1 9h0m0-2h0m0 4h0m0 3h0m1-4h0m0-1h0m2-4h0m0 3h0m0-6h0m1-2h0m1 13h0m0-7h0m0 8h0m1 6h0m0-12h0m1-2h0m0 7h0m1 9h0m0-19h0m1 14h0m1-6h0m2-6h0m1-6h0m1 5h0m0 9h0m0 4h0m0-1h0m1-17h0m2 9h0m3-3h0m0 12h0m1-4h0m0-1h0m0 9h0m0-2h0m0-15h0m1 12h0m4 5h0m0-20h0m0 13h0m1-4h0m1 6h0m0-14h0m2 6h0m0 13h0m0-10h0m1-2h0m1 8h0m0-1h0m0-15h0m0 13h0m1-14h0m3 22h0m1-1h0m1-3h0m0 1h0m1-3h0m2 0h0m1-3h0m1-2h0m0-2h0m0-10h0m1 12h0m1 3h0m2 3h0m3 1h0m1-5h0m-3 19h0m-2-6h0m-8 2h0m-1 2h0m-2 4h0m-1-2h0m0-2h0m-1-3h0m-2 6h0m-1-4h0m-1-5h0m-4 0h0m-2 3h0m-1 1h0m0 1h0m-2-5h0m-2 4h0m-1-3h0m-1-2h0m-5 0h0m-44 12h0m-5 2h0m-4-11h0m-1 13h0m0 6h0m-1-13h0m0-2h0m-1-6h0m-2 3h0m0-1h0m-2 2h0m0-3h0m0 18h0m-2-17h0m-1 1h0m-1 5h0m-1-3h0m0 3h0m0-5h0m-2 3h0m0-2h0m0 4h0m0 9h0m-1-1h0m0-11h0m-1-5h0m-1 6h0m-1 3h0m-3-2h0m-1 2h0m0 12h0m-2-21h0m-2 6h0m-4-3h0m-7 19h0m-6-1h0m-2 0h0m-1-5h0m-1 4h0m-1-3h0m0-2h0m0 4h0m-3-3h0m0 3h0m-2-1h0m0 2h0m0-6h0m-1 3h0m-2 4h0m-22 22h0m3 3h0m0-6h0m7 4h0m0-11h0m0 4h0m1 2h0m0-1h0m1-7h0m1 3h0m0-1h0m0 9h0m1-6h0m0-2h0m1 2h0m0-10h0m1 3h0m0 16h0m1-6h0m1 5h0m0 1h0m1-19h0m0-2h0m0 4h0m1 18h0m0-19h0m0 18h0m1-1h0m0-10h0m0-1h0m0 3h0m0-10h0m1 6h0m1 0h0m0 13h0m0-19h0m1 3h0m0-1h0m0 9h0m0-1h0m2-11h0m0 2h0m1 1h0m0 9h0m1-1h0m1-12h0m1 17h0m0 4h0m0-5h0m1 5h0m0-19h0m1 7h0m0 13h0m0-6h0m0-14h0m1-3h0m0 15h0m2-11h0m0 4h0m0 8h0m0-15h0m0 17h0m1-14h0m0 7h0m1-4h0m1 11h0m0-15h0m0 16h0m0-14h0m1 5h0m0 11h0m0-1h0m1 3h0m0-5h0m1-5h0m1 6h0m0-5h0m0 3h0m1-15h0m1 14h0m0-5h0m1 3h0m1 3h0m0 4h0m0-10h0m1 8h0m0-13h0m1 1h0m0 13h0m0-19h0m0 17h0m1-15h0m0 3h0m0 9h0m1-7h0m1 13h0m0-8h0m1 7h0m0-5h0m1-2h0m1 7h0m0-10h0m0-5h0m0 9h0m0 9h0m1-14h0m0 13h0m0-15h0m0-5h0m1 0h0m0-1h0m1 15h0m0 3h0m1-11h0m1 11h0m0-14h0m1-2h0m0-1h0m1 9h0m1 5h0m0 2h0m1-15h0m0 13h0m1 4h0m1 1h0m0-15h0m1 6h0m0 3h0m1 1h0m0-7h0m0-5h0m0 13h0m1-8h0m0 3h0m0-1h0m0-6h0m1 0h0m0-1h0m1 7h0m0-10h0m0 3h0m0 9h0m0-5h0m1 5h0m0-11h0m1 6h0m0 9h0m2-6h0m0-5h0m0 9h0m1 7h0m0-14h0m0 4h0m1 11h0m1-12h0m1 3h0m0 9h0m1-1h0m2-14h0m5-4h0m-1 33h0m-1 2h0m0-2h0m-2-2h0m-2 6h0m-1 5h0m-3 1h0m0-5h0m-1 4h0m-1-14h0m0 2h0m-1-2h0m-1 2h0m0-5h0m0 9h0m-1-13h0m-1 14h0m-1 3h0m0-6h0m0-5h0m-1-3h0m-1 5h0m-1 14h0m0-7h0m0-6h0m-3-9h0m0 13h0m-1 1h0m-1-14h0m0 9h0m-2-8h0m0 18h0m0-12h0m0 4h0m-1-1h0m-2 2h0m-3 4h0m-1-14h0m-1 15h0m-1-18h0m0 9h0m0-5h0m-1 15h0m-1-9h0m0-7h0m-1 4h0m0 9h0m-1 5h0m0-10h0m0-1h0m0 9h0m-1 2h0m0-1h0m-1 2h0m-1-11h0m-1-10h0m0 6h0m-1 1h0m0-1h0m0-1h0m0-5h0m-1 10h0m0-8h0m-2-1h0m0 4h0m-2 11h0m0-6h0m-2-1h0m0-3h0m0 4h0m-1-4h0m0-6h0m-1 0h0m-1 14h0m-1-11h0m0-1h0m0-1h0m0 4h0m-1 15h0m0-19h0m0 3h0m-1-3h0m0 9h0m-1 0h0m0 4h0m-1-7h0m-1 9h0m0-6h0m0 4h0m-1 4h0m0-15h0m-2 3h0m0 9h0m0-15h0m-1 14h0m0-11h0m-1 0h0m0-2h0m-1 4h0m0 13h0m-1-19h0m-1 9h0m0 3h0m-1-6h0m-1 12h0m0-5h0m0 3h0m0-5h0m-1 11h0m-1-9h0m-1-13h0m0 12h0m0 4h0m-2 2h0m-1-15h0m0 3h0m-1-5h0m-1 5h0m-4-5h0m-2 22h0m0-15h0m-1 3h0m-1 9h0m-2-12h0m-1 14h0m0-10h0m-2-6h0m0 12h0m-1-3h0m-1-5h0m-1 6h0m-2-4h0m19 17h0m2 1h0m1-5h0m1 6h0m2 1h0m0-3h0m0-5h0m2 4h0m0-2h0m4 8h0m3-5h0m2 3h0m2-1h0m1 1h0m3 5h0m4-1h0m1 1h0m0-12h0m1 4h0m0 1h0m2-4h0m2 12h0m0-5h0m1-1h0m0-3h0m0 4h0m2-1h0m0-1h0m0 7h0m1-7h0m4 9h0m0-14h0m0-1h0m0 9h0m1-4h0m1 5h0m0-1h0m0 2h0m2 0h0m2-9h0m2 3h0m0 9h0m1-6h0m3-3h0m3-6h0m3 14h0m0-7h0m5 7h0m1-13h0m0-1h0m1 13h0m1-13h0m1 2h0m0 11h0m0-5h0m4 5h0m0-7h0m1-4h0m1 1h0m1-3h0m1 1h0m1 4h0m1 0h0m2 2h0m1 1h0m1 2h0m0 2h0" stroke="#4638c0" stroke-width="4" stroke-linecap="round"/>
<circle cx="384" cy="241.7" r="29.3" fill="url(#pl2)"/>
<path transform="scale(.25)" d="M1550 855h0m-2 6h0m-28-4h0m-1 3h0m-14 0h0m-28 19h0m4 3h0m16 1h0m20-2h0m7-4h0m3 5h0m15 2h0m18-14h0m2 16h0m6-9h0m27-7h0m11 15h0m12 2h0m-1 8h0m-5 0h0m-11 4h0m-2 0h0m-1 8h0m-1-18h0m-3 6h0m-2 10h0m-11 5h0m-12-20h0m-1 2h0m-1 16h0m-5-20h0m-1 13h0m-2-6h0m-11 3h0m-12-3h0m-3 10h0m-1 0h0m0 1h0m-20-6h0m-48 11h0m-19 13h0m5 6h0m33-7h0m14-6h0m19 9h0m16 7h0m3-7h0m0-5h0m18 3h0m12 1h0m5-1h0m1-1h0m27 2h0m8 1h0m30 3h0m11 10h0m-17 16h0m-7-8h0m-5 12h0m-18-3h0m-13-17h0m-14 8h0m-6-6h0m-8 14h0m-18 4h0m-18-16h0m-8 9h0m-14 0h0m-9-16h0m-6 7h0m-4-2h0m-17 6h0m-4 9h0m-7-20h0m-6 14h0m-2-12h0m-1 0h0m-6-1h0m-11 4h0m-1 25h0m1 8h0m5 7h0m7 2h0m22-12h0m3-6h0m11 9h0m4 0h0m2-3h0m5 6h0m4-5h0m13-3h0m24-3h0m6 0h0m7-2h0m47-4h0m9 12h0m20-1h0m0 8h0m33-17h0m-6 26h0m-29 3h0m-46 7h0m-13-4h0m-8 13h0m-2-22h0m-8 3h0m-31 8h0m-5-1h0m-17-9h0m-11 19h0m-5-9h0m-10-2h0m-15-8h0m-5 18h0m0-14h0m-3 10h0m-6 3h0m16 24h0m2-6h0m0-1h0m2 9h0m3-14h0m0 3h0m12-1h0m2-3h0m0 15h0m12-7h0m10-8h0m5-1h0m32 0h0m26-2h0m5 12h0m2 8h0m18-13h0m22-2h0m1-8h0m14 5h0m2 4h0m7-3h0m6 11h0m3-4h0m-38 11h0m-3 4h0m-1 4h0m-13 6h0m-2-8h0m-3 13h0m-9-8h0m-8 2h0m-11 1h0m-5-14h0m-2 7h0m-1 4h0m-12-1h0m-23 4h0m-1 8h0m-12-21h0m-1 3h0m-2 6h0m0-10h0m-20 5h0m-4 1h0m13 20h0m17 6h0m6 10h0m22-3h0m5-14h0m5 6h0m20-3h0m14 2h0" stroke="#5548d0" stroke-width="3.8" stroke-linecap="round"/>
<circle cx="449.6" cy="241.7" r="29.3" fill="url(#pl3)"/>
<path transform="scale(.25)" d="M1796 855h0m-1 3h0m0 2h0m-6-7h0m-2 4h0m-13 0h0m-12 6h0m-3-2h0m-38 26h0m17-12h0m1-1h0m4-1h0m14 14h0m12-14h0m13-9h0m1 12h0m19 11h0m0-3h0m7-20h0m0 15h0m4-11h0m5 6h0m37 10h0m5 3h0m10-4h0m23 27h0m-10-3h0m-3-1h0m-2-16h0m-1 13h0m0-14h0m-17 12h0m0-3h0m-7 1h0m-24 4h0m-2-2h0m-10-8h0m-2 14h0m-2-8h0m-1-5h0m-1-4h0m-1 2h0m-7 14h0m-1-2h0m-2-13h0m-8 4h0m-40 6h0m-14 0h0m-4-12h0m-7 16h0m-2-15h0m-1 10h0m-2-7h0m-1 3h0m-3-1h0m-7 7h0m-4 5h0m-12 15h0m5 7h0m9-8h0m1-8h0m6 4h0m10-4h0m18 21h0m2-15h0m6-3h0m3-1h0m4 16h0m3 0h0m15-11h0m20 10h0m2-2h0m0-5h0m16-7h0m20-2h0m9 0h0m7 1h0m21 19h0m1-18h0m4 18h0m2-10h0m9 11h0m2-21h0m1 11h0m19 33h0m-5-14h0m-20-7h0m-8 19h0m-8 0h0m-12 3h0m-5-7h0m-2-8h0m-3 8h0m-32 7h0m-2 0h0m-4-22h0m-12 18h0m-11-10h0m-8-7h0m-5 16h0m-6-3h0m-1-13h0m-8 2h0m-8 17h0m-2-12h0m-1-8h0m-1 22h0m-2-16h0m-17-6h0m-8 13h0m-3 6h0m-2 1h0m0-14h0m-7-6h0m0 20h0m-7-19h0m-8 7h0m0-4h0m-4 4h0m3 32h0m3-16h0m3 10h0m1 1h0m5-1h0m6-8h0m0-2h0m8 5h0m6 5h0m0 2h0m3 10h0m2 0h0m1-10h0m5 2h0m11-12h0m4-1h0m4 17h0m3-12h0m5-3h0m49 6h0m24 11h0m8-12h0m6 13h0m0-13h0m1-8h0m9 17h0m7-13h0m3 15h0m11-14h0m7 9h0m2-5h0m6 2h0m4 11h0m0-14h0m8-6h0m1-2h0m1 13h0m-6 17h0m-2 1h0m-2-7h0m-3 20h0m-3-16h0m0 2h0m-2 16h0m-6-7h0m-20 1h0m-14-17h0m-11 21h0m-12-10h0m-8-6h0m-1 17h0m-5-8h0m-7-9h0m-14 4h0m-1 8h0m0-14h0m0 20h0m-17-8h0m-1 2h0m-1 1h0m-7-9h0m-2 5h0m-1-12h0m-15-1h0m0 19h0m-4 0h0m-6-18h0m-2 4h0m-4 6h0m-1 6h0m-6-7h0m-4 2h0m-1-10h0m-1 16h0m-2-11h0m-7 1h0m-1-5h0m-2 19h0m0-5h0m-8-5h0m-6 9h0m13 19h0m3 0h0m3-9h0m4 13h0m3-8h0m5-9h0m3 6h0m2-10h0m11 19h0m6-3h0m1-14h0m1 5h0m7-3h0m17 2h0m2 17h0m2-19h0m18 12h0m17-10h0m20-2h0m23 8h0m4 3h0m2 5h0m6-8h0m32-5h0m-34 19h0m-10 1h0m0-3h0m-18 19h0m0-16h0m-4 2h0m-10 6h0m-10-6h0m-14 4h0m-21 13h0m-21-15h0m-1 4h0m-4 2h0m-4 10h0m-2-16h0m-2 0h0m-6 2h0m-5-2h0m-6 8h0m0-8h0m-5 10h0m-4-3h0m0-7h0m-7-2h0m-1-3h0m20 22h0m15 9h0m1-7h0m6 6h0m5 4h0m11 0h0m23-10h0m9 17h0m1-7h0m4-9h0m12 18h0" stroke="#5548d0" stroke-width="3.8" stroke-linecap="round"/>
<circle cx="384" cy="303.3" r="29.3" fill="url(#pl2)"/>
<path transform="scale(.25)" d="M1474 1122h0m19-4h0m8 4h0m7-13h0m6 15h0m4-4h0m11 3h0m9-7h0m76 19h0m-36 6h0m-58 4h0m-18 6h0m-17-16h0m-6 0h0m-21 2h0m8 29h0m46-4h0m9 2h0m7 6h0m0-6h0m12-3h0m2 12h0m43-6h0m16-4h0m6-8h0m1 6h0m13 5h0m0-7h0m6 16h0m22 23h0m-42-11h0m0 9h0m-97-14h0m-10 10h0m-13 4h0m-56-4h0m-6 13h0m54 0h0m19 11h0m11 6h0m1-5h0m13-2h0m29 8h0m22-6h0m15-10h0m28-3h0m31 15h0m-8 16h0m-86-8h0m-9 17h0m-9-20h0m-20 11h0m-13-5h0m-9 9h0m-52 2h0m0 27h0m28 0h0m13 3h0m15-14h0m19 11h0m35-7h0m50 4h0m-5 25h0m-9 2h0m-1-3h0m-36-9h0m-39 5h0m-19 4h0m5 23h0m17-16h0m29 19h0m13-13h0m0 2h0m5 13h0m23-7h0" stroke="#5a4ed0" stroke-width="3.6" stroke-linecap="round"/>
<circle cx="449.6" cy="303.3" r="29.3" fill="url(#pl3)"/>
<path transform="scale(.25)" d="M1817 1100h0m-37 2h0m-33 21h0m26 0h0m10-4h0m2 8h0m6-7h0m3-3h0m11-13h0m10 11h0m9 11h0m1 0h0m6-13h0m6 9h0m11-2h0m4-4h0m4-2h0m5 9h0m11 19h0m-7 2h0m-5 2h0m-6-17h0m-3 21h0m0-20h0m-8-1h0m-2 12h0m-16-9h0m-6 5h0m-5 3h0m-28-3h0m-4 6h0m-1-13h0m0-1h0m-17 6h0m-5-4h0m-21 4h0m-8 14h0m-4-1h0m-14 0h0m-1-7h0m-2 2h0m-17 31h0m10-3h0m11-13h0m1 2h0m6-3h0m6 11h0m14-6h0m2-7h0m2 12h0m22-3h0m4-1h0m4 4h0m7-11h0m14 13h0m4-10h0m23 8h0m3-1h0m20-12h0m18 17h0m2 1h0m44 25h0m-6-21h0m-17 15h0m-4-9h0m-4-1h0m0-3h0m-4 19h0m-16-17h0m-23 7h0m-26 3h0m-28-11h0m-3 11h0m-16-9h0m-3-3h0m-19 10h0m-1 4h0m-11-9h0m-9-2h0m-1 5h0m-7 8h0m-12-14h0m-3 18h0m-3-3h0m-1-14h0m-6 8h0m1 32h0m8-13h0m5 0h0m1 13h0m0-1h0m14-6h0m7-1h0m12-6h0m33 2h0m54 11h0m21-8h0m1-3h0m7-2h0m19-6h0m7 6h0m9 5h0m0 8h0m2-3h0m2-6h0m8-10h0m11 27h0m-9 9h0m-4-6h0m-6 8h0m-6-14h0m0 18h0m-21 2h0m-1 0h0m-17-15h0m-10 0h0m-12 9h0m-15-11h0m-21-1h0m0 11h0m-11 4h0m-4 2h0m-9-7h0m-10 0h0m-9 10h0m-2-5h0m0-15h0m-9 11h0m-7-13h0m-3 15h0m-20 6h0m6 22h0m7-16h0m2-1h0m6 12h0m2-11h0m7 4h0m9 8h0m2 0h0m17-15h0m6 15h0m0-3h0m4 8h0m28-20h0m35 7h0m6 13h0m6-5h0m8-4h0m20 2h0m1-8h0m2 15h0m2-3h0m10-1h0m1-13h0m5-3h0m-11 36h0m-17 6h0m-34-8h0m-1-11h0m-10 17h0m-5 5h0m-3-7h0m-8-6h0m-14 14h0m-13 0h0m-16-17h0m-45-3h0m-1 8h0m-4 4h0m29 14h0m6 6h0m44-2h0m1-4h0m1 7h0m2 6h0m10-1h0m0-1h0m20-15h0m2-1h0m10 17h0m0 6h0m1 0h0m18-9h0m2 1h0m1-6h0m7-2h0m-66 24h0" stroke="#5548d0" stroke-width="3.8" stroke-linecap="round"/>
<text x="500.4" y="10.7" font-family='"Liberation Serif", serif' font-size="13.8" fill="#000">K</text>
<rect x="499.4" y="24.5" width="180.8" height="406.7" fill="none" stroke="#444" stroke-width="0.9"/>
<rect x="521.3" y="26.4" width="65.4" height="61.9" fill="#fff" stroke="#888" stroke-width="0.6"/>
<line x1="519.5" y1="29.4" x2="521.3" y2="29.4" stroke="#555" stroke-width="0.4"/>
<text x="518.1" y="30.3" font-family='"Liberation Sans", sans-serif' font-size="2.6" text-anchor="end" fill="#444">4</text>
<line x1="519.5" y1="43.8" x2="521.3" y2="43.8" stroke="#555" stroke-width="0.4"/>
<text x="518.1" y="44.6" font-family='"Liberation Sans", sans-serif' font-size="2.6" text-anchor="end" fill="#444">3</text>
<line x1="519.5" y1="58.1" x2="521.3" y2="58.1" stroke="#555" stroke-width="0.4"/>
<text x="518.1" y="59" font-family='"Liberation Sans", sans-serif' font-size="2.6" text-anchor="end" fill="#444">2</text>
<line x1="519.5" y1="72.4" x2="521.3" y2="72.4" stroke="#555" stroke-width="0.4"/>
<text x="518.1" y="73.3" font-family='"Liberation Sans", sans-serif' font-size="2.6" text-anchor="end" fill="#444">1</text>
<line x1="519.5" y1="86.8" x2="521.3" y2="86.8" stroke="#555" stroke-width="0.4"/>
<text x="518.1" y="87.7" font-family='"Liberation Sans", sans-serif' font-size="2.6" text-anchor="end" fill="#444">0</text>
<line x1="527.1" y1="88.3" x2="527.1" y2="90.1" stroke="#555" stroke-width="0.4"/>
<text x="527.1" y="94.1" font-family='"Liberation Sans", sans-serif' font-size="2.6" text-anchor="middle" fill="#444">2</text>
<line x1="537.3" y1="88.3" x2="537.3" y2="90.1" stroke="#555" stroke-width="0.4"/>
<text x="537.3" y="94.1" font-family='"Liberation Sans", sans-serif' font-size="2.6" text-anchor="middle" fill="#444">3</text>
<line x1="547.5" y1="88.3" x2="547.5" y2="90.1" stroke="#555" stroke-width="0.4"/>
<text x="547.5" y="94.1" font-family='"Liberation Sans", sans-serif' font-size="2.6" text-anchor="middle" fill="#444">4</text>
<line x1="557.7" y1="88.3" x2="557.7" y2="90.1" stroke="#555" stroke-width="0.4"/>
<text x="557.7" y="94.1" font-family='"Liberation Sans", sans-serif' font-size="2.6" text-anchor="middle" fill="#444">5</text>
<line x1="567.9" y1="88.3" x2="567.9" y2="90.1" stroke="#555" stroke-width="0.4"/>
<text x="567.9" y="94.1" font-family='"Liberation Sans", sans-serif' font-size="2.6" text-anchor="middle" fill="#444">6</text>
<line x1="578.1" y1="88.3" x2="578.1" y2="90.1" stroke="#555" stroke-width="0.4"/>
<text x="578.1" y="94.1" font-family='"Liberation Sans", sans-serif' font-size="2.6" text-anchor="middle" fill="#444">7</text>
<text x="554" y="99.6" font-family='"Liberation Sans", sans-serif' font-size="3.6" text-anchor="middle" fill="#333">log2(AR TPM)</text>
<text x="511.8" y="57.3" font-family='"Liberation Sans", sans-serif' font-size="3.6" text-anchor="middle" fill="#333" transform="rotate(-90 511.8 57.3)">log2(SLC7A11 TPM)</text>
<text x="524.8" y="31.2" font-family='"Liberation Sans", sans-serif' font-size="3.4" fill="#111">p-value = 4.1e-27</text>
<text x="524.8" y="35.3" font-family='"Liberation Sans", sans-serif' font-size="3.4" fill="#111">R = 0.41</text>
<path transform="scale(.25)" d="M2256 143h0m-63 18h0m23 6h0m3-14h0m36 13h0m16-6h0m16 2h0m17 22h0m-20-10h0m-9 15h0m-12-10h0m-3 8h0m-9 1h0m-2-10h0m-13-3h0m-4 6h0m-4 2h0m-11-7h0m-6-7h0m-18 15h0m-36 23h0m30-8h0m2 4h0m4 0h0m9 0h0m0-1h0m17-8h0m1 16h0m2-5h0m1-5h0m1 10h0m5-11h0m1 15h0m13-15h0m2-2h0m3 17h0m0-8h0m3-4h0m4-3h0m7 2h0m3 1h0m1-8h0m8 5h0m0 7h0m1 5h0m5 4h0m1-13h0m-13 35h0m-3-15h0m-1 9h0m-1-1h0m-2 1h0m0 4h0m-1-9h0m-1 12h0m-1-17h0m-1-3h0m-1 17h0m-2-12h0m-7-6h0m0 9h0m0-10h0m-1 14h0m0-11h0m-2 4h0m0 4h0m-2 11h0m0 1h0m-1-23h0m0 21h0m-1-9h0m-2 11h0m-1-1h0m-1-7h0m0 7h0m0-14h0m-1-8h0m0 4h0m0 9h0m-1 5h0m0-6h0m0 9h0m-1-1h0m0-16h0m0 12h0m-1 0h0m-3 2h0m-2-4h0m-2 8h0m0-6h0m-2 1h0m0 6h0m-1-3h0m-3-3h0m-2-7h0m-1-6h0m0 17h0m-2-11h0m0 7h0m-2-1h0m-1-15h0m0 17h0m-2-12h0m0 16h0m-1 0h0m-2-10h0m-3 6h0m0-7h0m-1 12h0m-2-3h0m0-17h0m-2-3h0m-3 12h0m-1 5h0m-10-16h0m0 11h0m-2-2h0m-2 2h0m-8 8h0m-11-10h0m-2 9h0m-1-11h0m0-1h0m-1-7h0m-17 5h0m-13 21h0m24 20h0m1-2h0m10-18h0m1 19h0m2-14h0m1 9h0m3-1h0m1-7h0m2 3h0m1 1h0m0-5h0m1 16h0m4-8h0m0-10h0m2 3h0m2-3h0m0 9h0m1-6h0m0 1h0m2 14h0m1-11h0m0 9h0m0-5h0m1-15h0m0 13h0m0-10h0m1 10h0m1 4h0m0 4h0m0-6h0m1-16h0m0 18h0m0-5h0m1 9h0m1-8h0m0-6h0m0 9h0m2-6h0m0 4h0m0 3h0m4 0h0m0-1h0m0-14h0m1 14h0m0-2h0m1-4h0m1 7h0m1-15h0m0 4h0m0 4h0m0 8h0m0 4h0m0-19h0m1 11h0m0-10h0m0 3h0m1 1h0m1 9h0m0-16h0m0 21h0m2-16h0m1 1h0m0 11h0m1 3h0m1-8h0m1 8h0m1 0h0m1-1h0m0-14h0m1 7h0m0-2h0m1-4h0m0 11h0m1-12h0m0 2h0m1 6h0m1 6h0m0-11h0m1 4h0m0 1h0m1-4h0m1 11h0m0-6h0m2-10h0m2 13h0m0-3h0m0-5h0m1-9h0m0 18h0m0-10h0m1 3h0m0 3h0m1 3h0m0-17h0m1 13h0m1-7h0m0 9h0m1 3h0m1-11h0m0-5h0m1 14h0m0-11h0m1 10h0m0-7h0m1 10h0m1-4h0m0-10h0m1-4h0m0-1h0m0 8h0m1 10h0m0 4h0m3-13h0m0-6h0m1 0h0m0 18h0m0-14h0m1 0h0m1-3h0m2 16h0m3-9h0m0 4h0m0-10h0m1 14h0m0-16h0m1 10h0m1 2h0m1-6h0m0 9h0m1-3h0m4 1h0m0-6h0m1-6h0m1 15h0m1-2h0m4-12h0m5-2h0m6-1h0m4 14h0m11-2h0m25-12h0m-29 37h0m-4 0h0m-5-7h0m-2-4h0m-1-5h0m-6 20h0m-3-20h0m-5 6h0m-3 10h0m-2-1h0m-1-1h0m0 8h0m0-15h0m-4 10h0m0 6h0m-3-4h0m0-11h0m-5-5h0m-1 16h0m0-15h0m-1 19h0m0-15h0m-1-3h0m-1 3h0m0 8h0m-1-3h0m0 8h0m0 2h0m-2-11h0m-1-2h0m0-5h0m-3 2h0m0 12h0m-1-4h0m-1-7h0m0 8h0m0-1h0m-1-10h0m-1 5h0m0 7h0m0-1h0m-1-15h0m0 7h0m-1 10h0m0-10h0m-1 15h0m-2-23h0m-1 19h0m0-19h0m-1 22h0m0-1h0m-1-20h0m-1 5h0m0 13h0m0-6h0m-1 9h0m0-6h0m0-1h0m0-1h0m-1 1h0m0-14h0m0-1h0m0 7h0m0-5h0m-1 10h0m0-1h0m-1-4h0m-1 16h0m0-1h0m0-12h0m-2 2h0m-1-4h0m0 8h0m0-14h0m-2 0h0m0 9h0m-1-11h0m-2 9h0m-1 13h0m0-14h0m0 7h0m0 8h0m0-14h0m-1-5h0m-1 6h0m-1 4h0m-1 7h0m0-19h0m-1 20h0m-1-5h0m0-16h0m-1-1h0m0 12h0m-2-2h0m-2 13h0m-1-14h0m-1 10h0m0-15h0m0 9h0m0-3h0m-2 0h0m0-7h0m0-1h0m-1 15h0m0 4h0m0-8h0m-3 7h0m-1-9h0m-1 7h0m0 3h0m-1-4h0m0-10h0m-1 11h0m-1-6h0m-1-8h0m-2-3h0m0 4h0m0 13h0m-1 5h0m-1-10h0m0-10h0m-1 8h0m0-11h0m-2 23h0m-1-21h0m-2 8h0m-1 8h0m-2-1h0m0 3h0m0-14h0m0 9h0m0-6h0m-2 0h0m-1 1h0m-1 2h0m-1 7h0m-4-1h0m0-5h0m-1-7h0m-1 12h0m-3-3h0m-6 7h0m-45 16h0m11 6h0m19 3h0m2-20h0m2 11h0m0-2h0m3-7h0m1 4h0m1 1h0m4 1h0m0-7h0m1 16h0m0 3h0m2-20h0m0-1h0m2 3h0m4-4h0m1 0h0m1 6h0m0 9h0m2-6h0m1-2h0m1-3h0m1 5h0m3 9h0m0-19h0m0 8h0m1 5h0m0 3h0m2 5h0m0-6h0m0-14h0m0 8h0m1 13h0m1-18h0m0 18h0m0-11h0m1 0h0m2-9h0m0 12h0m0-10h0m2 9h0m0-7h0m1 16h0m0-4h0m1-6h0m1 11h0m0-15h0m1 2h0m0 4h0m1-7h0m1 15h0m3-16h0m0 4h0m1-4h0m0-1h0m1 9h0m2-2h0m1 6h0m1 4h0m1-11h0m3-5h0m1 10h0m0-14h0m0 4h0m0 9h0m1-9h0m1-5h0m0 16h0m0-14h0m1 10h0m0 10h0m1-17h0m1 14h0m0-19h0m0 9h0m0 6h0m1-12h0m1 15h0m0-5h0m0-3h0m0-10h0m2 7h0m1-4h0m2 19h0m0-14h0m1 12h0m1-19h0m0 12h0m1-8h0m1-2h0m0 9h0m0 4h0m1-17h0m1 9h0m0 9h0m0-12h0m1 15h0m0-19h0m0-1h0m1 11h0m0 8h0m0-11h0m0 9h0m1-14h0m0 9h0m0 9h0m0-21h0m1 1h0m2 5h0m1 16h0m0-19h0m3 11h0m1-2h0m0-5h0m0 4h0m1 3h0m0-14h0m2 4h0m1 0h0m0 8h0m2-13h0m0 18h0m1-13h0m0 17h0m1-6h0m0-15h0m2 4h0m1-1h0m1 4h0m1 13h0m2-4h0m0-8h0m3-7h0m2-2h0m1 3h0m0 18h0m0-5h0m2-7h0m1-3h0m1 8h0m0-10h0m0 18h0m1-9h0m1-4h0m0-7h0m2-1h0m0 13h0m1 8h0m0-15h0m2-4h0m1 3h0m1 9h0m0-14h0m36 3h0m39 35h0m-33 6h0m-40-16h0m-3 13h0m-2-5h0m-1 0h0m-5-7h0m-4-4h0m-2 13h0m-3-7h0m0 9h0m-5-17h0m0 17h0m-5 0h0m-3-11h0m0 4h0m-1-5h0m-2 3h0m-1 14h0m-3-22h0m-1 1h0m0 18h0m-1-14h0m-1-5h0m-2 1h0m-1 17h0m-1-18h0m0 3h0m0 18h0m-1-20h0m-2 1h0m-1-1h0m-1 18h0m0 3h0m-3-3h0m0-7h0m0-10h0m0 8h0m0-5h0m-1 2h0m0 16h0m0-19h0m-1-1h0m-1 6h0m-2 13h0m-1-21h0m0 9h0m-1 7h0m0-5h0m0-10h0m-1 8h0m-1 10h0m0-5h0m0-5h0m-1-5h0m0 16h0m-1 2h0m-1-11h0m-1 1h0m0 4h0m0-15h0m-2 0h0m0 8h0m-1 5h0m0-15h0m0 3h0m-1 19h0m-1-10h0m0-11h0m0 18h0m-1-5h0m0 6h0m-1 2h0m-1-22h0m0 3h0m-1 0h0m0 4h0m-1 2h0m-1-1h0m0 13h0m-1-18h0m0 8h0m-1 12h0m-1-14h0m0-3h0m-1 5h0m-1 1h0m-2 10h0m0-14h0m-1 14h0m-1-3h0m-3-9h0m-1 5h0m0-15h0m-3 23h0m-1 0h0m0-1h0m-3-3h0m-3 3h0m-3-3h0m-1-5h0m-3-7h0m-2 16h0m-1-6h0m-2-16h0m-4 17h0m-2-5h0m-6-3h0m-9 11h0m-2 1h0m-5-3h0m-3-2h0m-15 4h0m2 5h0m9 2h0m3 0h0m1 0h0m2-4h0m4 5h0m6-4h0m5 1h0m4 5h0m0-4h0m3 0h0m0 2h0m2-3h0m1 0h0m3-1h0m1-1h0m0 2h0m4 2h0m1-2h0m4-1h0m0 2h0m3-2h0m3 0h0m0 4h0m1-4h0m3 4h0m3-4h0m1 2h0m1-1h0m1-1h0m1 0h0m2 0h0m1 3h0m0 2h0m2-6h0m0 4h0m1-1h0m1 0h0m2 0h0m0 3h0m1-5h0m0 4h0m4-1h0m2 3h0m0-7h0m1 5h0m1 0h0m2-1h0m4 0h0m1-1h0m1-2h0m1 2h0m1 0h0m1 0h0m2-1h0m1-1h0m3 5h0m0-2h0m2 0h0m11-4h0m1 0h0m1 2h0m1 0h0m0 2h0m13-3h0" stroke="#1a1a1a" stroke-width="3" stroke-linecap="round"/>
<rect x="610.2" y="26.4" width="65.1" height="61.9" fill="#fff" stroke="#888" stroke-width="0.6"/>
<line x1="608.4" y1="29.4" x2="610.2" y2="29.4" stroke="#555" stroke-width="0.4"/>
<text x="607" y="30.3" font-family='"Liberation Sans", sans-serif' font-size="2.6" text-anchor="end" fill="#444">4</text>
<line x1="608.4" y1="43.8" x2="610.2" y2="43.8" stroke="#555" stroke-width="0.4"/>
<text x="607" y="44.6" font-family='"Liberation Sans", sans-serif' font-size="2.6" text-anchor="end" fill="#444">3</text>
<line x1="608.4" y1="58.1" x2="610.2" y2="58.1" stroke="#555" stroke-width="0.4"/>
<text x="607" y="59" font-family='"Liberation Sans", sans-serif' font-size="2.6" text-anchor="end" fill="#444">2</text>
<line x1="608.4" y1="72.4" x2="610.2" y2="72.4" stroke="#555" stroke-width="0.4"/>
<text x="607" y="73.3" font-family='"Liberation Sans", sans-serif' font-size="2.6" text-anchor="end" fill="#444">1</text>
<line x1="608.4" y1="86.8" x2="610.2" y2="86.8" stroke="#555" stroke-width="0.4"/>
<text x="607" y="87.7" font-family='"Liberation Sans", sans-serif' font-size="2.6" text-anchor="end" fill="#444">0</text>
<line x1="611.2" y1="88.3" x2="611.2" y2="90.1" stroke="#555" stroke-width="0.4"/>
<text x="611.2" y="94.1" font-family='"Liberation Sans", sans-serif' font-size="2.6" text-anchor="middle" fill="#444">0</text>
<line x1="625.2" y1="88.3" x2="625.2" y2="90.1" stroke="#555" stroke-width="0.4"/>
<text x="625.2" y="94.1" font-family='"Liberation Sans", sans-serif' font-size="2.6" text-anchor="middle" fill="#444">2</text>
<line x1="639.2" y1="88.3" x2="639.2" y2="90.1" stroke="#555" stroke-width="0.4"/>
<text x="639.2" y="94.1" font-family='"Liberation Sans", sans-serif' font-size="2.6" text-anchor="middle" fill="#444">4</text>
<line x1="653.2" y1="88.3" x2="653.2" y2="90.1" stroke="#555" stroke-width="0.4"/>
<text x="653.2" y="94.1" font-family='"Liberation Sans", sans-serif' font-size="2.6" text-anchor="middle" fill="#444">6</text>
<line x1="667.2" y1="88.3" x2="667.2" y2="90.1" stroke="#555" stroke-width="0.4"/>
<text x="667.2" y="94.1" font-family='"Liberation Sans", sans-serif' font-size="2.6" text-anchor="middle" fill="#444">8</text>
<text x="642.8" y="99.6" font-family='"Liberation Sans", sans-serif' font-size="3.6" text-anchor="middle" fill="#333">log2(FOXP1 TPM)</text>
<text x="600.7" y="57.3" font-family='"Liberation Sans", sans-serif' font-size="3.6" text-anchor="middle" fill="#333" transform="rotate(-90 600.7 57.3)">log2(SLC7A11 TPM)</text>
<text x="613.7" y="31.2" font-family='"Liberation Sans", sans-serif' font-size="3.4" fill="#111">p-value = 7.0e-19</text>
<text x="613.7" y="35.3" font-family='"Liberation Sans", sans-serif' font-size="3.4" fill="#111">R = 0.33</text>
<path transform="scale(.25)" d="M2478 165h0m130-2h0m3-11h0m1-7h0m2 4h0m42 7h0m8 4h0m10-3h0m5 22h0m-11-2h0m-2 12h0m-1-21h0m-1 18h0m-4-5h0m-2 3h0m-10-15h0m0 22h0m-2-16h0m-14-5h0m0 18h0m-1 1h0m-3-12h0m-4 9h0m-2 4h0m-2-5h0m-1-1h0m-5 1h0m-4-3h0m-2-4h0m-10-1h0m-29 2h0m-5 12h0m-10-1h0m20 10h0m1 12h0m0-16h0m5 13h0m4-5h0m1-12h0m8 6h0m3 6h0m3 9h0m1-10h0m4-9h0m1 11h0m3 4h0m0-1h0m1 7h0m0-3h0m1-8h0m0-2h0m2 11h0m0-5h0m1-10h0m2 14h0m1-11h0m0 13h0m1-22h0m1 9h0m1 10h0m1-8h0m1 8h0m1 1h0m0-19h0m5 2h0m1 15h0m0 2h0m1 1h0m0-1h0m1-5h0m7 5h0m0-6h0m2-9h0m1 8h0m1-2h0m1 10h0m0-11h0m3 6h0m1 6h0m3-19h0m0 4h0m4-5h0m2 21h0m2-7h0m7-9h0m1 12h0m2 2h0m1-20h0m8 31h0m-6 0h0m-2-7h0m-1 20h0m0-21h0m-4 19h0m-10-3h0m-1 3h0m0-19h0m-5 10h0m-4 6h0m0-5h0m0-10h0m-1 6h0m-3 10h0m-1 1h0m-1 4h0m-1-16h0m-2 0h0m-1-1h0m-1 15h0m-1-6h0m0-6h0m-1-2h0m0 9h0m-1 6h0m0-18h0m-2 19h0m-3-1h0m0-20h0m0 18h0m-1-7h0m-1-1h0m-2-9h0m-3 10h0m-2-3h0m-1 11h0m-1 3h0m-3-13h0m0 13h0m-1-11h0m0-2h0m-1 10h0m-1-12h0m-1 4h0m0-6h0m0-5h0m-2 9h0m-1-6h0m-1-4h0m-2 23h0m-4-3h0m-1-15h0m0 3h0m-1 14h0m-1-8h0m-1-14h0m0 3h0m-1 17h0m-2-10h0m-1-9h0m-5 7h0m-1 13h0m-2-6h0m0-2h0m-1 5h0m0 3h0m-2-10h0m0-11h0m-2 23h0m-2-20h0m-9 9h0m0 3h0m-2-2h0m-4-1h0m-2 7h0m-7-7h0m-8-3h0m-6 10h0m9 11h0m16 13h0m0-11h0m3 15h0m4-15h0m2 8h0m1 1h0m0 6h0m2-15h0m0 9h0m2 0h0m1-11h0m0 9h0m1 8h0m0-6h0m0-11h0m1-1h0m0 4h0m1 6h0m0-14h0m0 22h0m2-10h0m1 0h0m1 3h0m1 2h0m0-10h0m1 10h0m0-5h0m0 1h0m2-9h0m1 11h0m1-15h0m1 18h0m0-6h0m1 10h0m0-1h0m0-2h0m1-1h0m0-1h0m1-2h0m0-1h0m1-3h0m1 3h0m0-6h0m1 5h0m1-2h0m2-8h0m0 17h0m1-1h0m0-5h0m0-5h0m1 5h0m0-15h0m0 9h0m1 5h0m0 8h0m1-7h0m0-6h0m1 9h0m1-12h0m1 13h0m0 3h0m2-17h0m0 18h0m0-15h0m0-1h0m0 8h0m2-6h0m2-6h0m0 8h0m0-5h0m1 8h0m0 4h0m0-8h0m1 11h0m0-7h0m0-6h0m1-8h0m0 18h0m0-7h0m1 7h0m1-12h0m0 17h0m0-14h0m1 4h0m1 2h0m0 2h0m0-5h0m1-12h0m1 20h0m1-8h0m1 4h0m0-5h0m0 9h0m1-10h0m1 10h0m1-6h0m0-1h0m0-1h0m2-1h0m0-6h0m0 9h0m0-11h0m1-2h0m1 0h0m0-1h0m0 9h0m0 4h0m0 8h0m1-14h0m0-3h0m0 18h0m1-6h0m0-6h0m1 2h0m1-5h0m0-5h0m1 0h0m0 18h0m2 3h0m0-14h0m1-5h0m0 13h0m0-1h0m5 2h0m0-17h0m1 14h0m0-15h0m2 10h0m1 3h0m3-2h0m0-1h0m2 13h0m0-19h0m2 7h0m2-6h0m1 11h0m6-9h0m1-4h0m1 15h0m0-2h0m6 0h0m11 23h0m-4-2h0m-1-11h0m-20 9h0m-1-2h0m-5-6h0m0 13h0m-2-6h0m-3 13h0m-3-20h0m-1 1h0m-1 14h0m-6-15h0m0 17h0m0-1h0m-1-11h0m0-5h0m-1 13h0m0-16h0m-1 8h0m0 9h0m0 3h0m-1-4h0m-1-16h0m-1 6h0m-1-2h0m-1 17h0m0-1h0m0-15h0m-1 5h0m0 4h0m-1-12h0m0-2h0m-2 21h0m0-20h0m0 17h0m-1-17h0m0 8h0m0-5h0m-1 17h0m-1-10h0m0 4h0m0-5h0m0-5h0m-1 9h0m0-1h0m0 9h0m0-7h0m-1-4h0m-1 2h0m-1 5h0m0 4h0m0-15h0m0-6h0m-1 19h0m0-6h0m-1-1h0m-1-3h0m-1-8h0m0 7h0m-1 2h0m-1-2h0m0-9h0m-1 20h0m0-7h0m0-10h0m-1 20h0m0-6h0m-1-8h0m0 9h0m0-2h0m-1-4h0m0 9h0m0-15h0m0-5h0m0 16h0m-1-6h0m0-11h0m-3 4h0m0 16h0m0-14h0m-1-6h0m0 9h0m0 13h0m-1-1h0m-1-13h0m0 3h0m-1-9h0m0 8h0m0 9h0m0-2h0m-1-13h0m0 18h0m0-15h0m0 4h0m0-1h0m-1-1h0m-1-4h0m-1-4h0m-1 6h0m0 9h0m-2-4h0m-1-12h0m-1 9h0m0 8h0m0-6h0m-1 2h0m0-7h0m-2-6h0m-1 15h0m0-1h0m-1-14h0m-4 13h0m0-2h0m0 9h0m-1-20h0m-1 9h0m0-3h0m-1 6h0m-1-1h0m-1-5h0m-1-5h0m-3 11h0m0-1h0m0-5h0m-2 6h0m-1 8h0m-5-9h0m-1 11h0m-1-16h0m-8 8h0m-2-10h0m-4 12h0m-4 1h0m-4-3h0m-2-2h0m-15 5h0m-3 2h0m6 13h0m6 1h0m10 5h0m9-5h0m2 5h0m0 9h0m1-16h0m0 4h0m0-5h0m1 2h0m3 1h0m3 11h0m1-3h0m0 3h0m1 3h0m2-20h0m0-1h0m1 1h0m1 16h0m0-7h0m2-1h0m0-7h0m1 11h0m2-14h0m0 4h0m2 4h0m0 6h0m2-15h0m1 1h0m1 3h0m0 9h0m1-4h0m0 6h0m1 3h0m1-3h0m1 1h0m2-7h0m0 8h0m2 1h0m0-14h0m0-1h0m1 5h0m1 6h0m1 0h0m1 5h0m0-14h0m1 16h0m0-20h0m0 21h0m1-1h0m1-17h0m1 0h0m1 10h0m1 3h0m1-6h0m0 1h0m1 11h0m0-14h0m0-1h0m0-1h0m0-6h0m0 9h0m1 6h0m0 7h0m0-20h0m1 18h0m1 0h0m0-2h0m0-5h0m0-14h0m1 15h0m0-8h0m1 0h0m0 8h0m0-5h0m1-5h0m0 18h0m1-11h0m1-12h0m1 7h0m1 5h0m0-10h0m1 20h0m0-5h0m0-14h0m0 13h0m1-9h0m1 6h0m0-10h0m0 8h0m2 5h0m1-16h0m1 4h0m1 3h0m0 9h0m0 4h0m0 2h0m0-10h0m1 6h0m0-8h0m0 9h0m1-9h0m0-7h0m1 16h0m0-11h0m1 1h0m0-8h0m1 1h0m0 6h0m1-6h0m0 12h0m0-5h0m1 0h0m0-4h0m1 10h0m0-14h0m0 8h0m1 12h0m1-14h0m2 2h0m0-7h0m1 18h0m2-11h0m2-2h0m1-4h0m0 17h0m2-13h0m2 3h0m1-6h0m1 6h0m1-1h0m6 9h0m2-6h0m3 3h0m7 0h0m0-8h0m5-7h0m-3 24h0m-1 2h0m-6 10h0m-2-4h0m-13 12h0m0-11h0m-1 13h0m-2 0h0m0-16h0m-3 3h0m-7 6h0m-1 3h0m0-6h0m0-5h0m-3-3h0m-2 9h0m0-2h0m-3-9h0m0-1h0m-2 20h0m-1-6h0m0 3h0m-1-7h0m-1 5h0m-1-13h0m-1 16h0m-1-16h0m0 6h0m-3 13h0m-1-11h0m0-6h0m-4 14h0m-1 2h0m0-21h0m-1 8h0m-2 15h0m0-2h0m-1 1h0m0-14h0m-1 3h0m0-11h0m-1 13h0m-1 10h0m0-9h0m-1 7h0m-1-20h0m0-1h0m-1 1h0m-1 21h0m0-15h0m-1 14h0m0-5h0m0 4h0m-1 3h0m0-14h0m0 13h0m0-6h0m0 3h0m-1-7h0m0-5h0m-1 16h0m-1-3h0m-2-11h0m0 10h0m-2-7h0m-1-4h0m-1 4h0m-1-12h0m0 7h0m0-6h0m-3 16h0m0 3h0m0-1h0m-2-13h0m-1 15h0m-1-13h0m-1-3h0m0 8h0m0 8h0m-4-20h0m-3 1h0m-1 21h0m-1-5h0m0-7h0m-1 4h0m-1 7h0m-1-1h0m-2 1h0m-1-7h0m-3 7h0m-1-13h0m0 2h0m-1-2h0m-1 11h0m-2-9h0m0 9h0m-4 2h0m-5-21h0m-4 17h0m-1 5h0m-8-4h0m-4 4h0m0-1h0m-15-2h0m-11 2h0m-30-2h0m-3 8h0m2-1h0m10-1h0m10 5h0m2-5h0m4 4h0m5-1h0m1-3h0m10 3h0m13-3h0m4 2h0m4-4h0m1 6h0m11-2h0m3-2h0m6-1h0m2 3h0m0-1h0m8-3h0m2 4h0m1-1h0m4 1h0m1 2h0m5-5h0m2 2h0m2 1h0m0-3h0m0-1h0m1 3h0m0-1h0m2 1h0m4-1h0m2 4h0m1-1h0m0-5h0m2 1h0m6 0h0m2 1h0m3 0h0m1 1h0m0-3h0m3 3h0m5-3h0m4 1h0m4 1h0m7 2h0m1-3h0m2 1h0m1-2h0m7 2h0m8 2h0m8-3h0m3 1h0" stroke="#1a1a1a" stroke-width="3" stroke-linecap="round"/>
<rect x="521.3" y="108.2" width="65.4" height="61" fill="#fff" stroke="#888" stroke-width="0.6"/>
<line x1="519.5" y1="111.2" x2="521.3" y2="111.2" stroke="#555" stroke-width="0.4"/>
<text x="518.1" y="112.1" font-family='"Liberation Sans", sans-serif' font-size="2.6" text-anchor="end" fill="#444">4</text>
<line x1="519.5" y1="125.3" x2="521.3" y2="125.3" stroke="#555" stroke-width="0.4"/>
<text x="518.1" y="126.2" font-family='"Liberation Sans", sans-serif' font-size="2.6" text-anchor="end" fill="#444">3</text>
<line x1="519.5" y1="139.4" x2="521.3" y2="139.4" stroke="#555" stroke-width="0.4"/>
<text x="518.1" y="140.3" font-family='"Liberation Sans", sans-serif' font-size="2.6" text-anchor="end" fill="#444">2</text>
<line x1="519.5" y1="153.6" x2="521.3" y2="153.6" stroke="#555" stroke-width="0.4"/>
<text x="518.1" y="154.5" font-family='"Liberation Sans", sans-serif' font-size="2.6" text-anchor="end" fill="#444">1</text>
<line x1="519.5" y1="167.7" x2="521.3" y2="167.7" stroke="#555" stroke-width="0.4"/>
<text x="518.1" y="168.6" font-family='"Liberation Sans", sans-serif' font-size="2.6" text-anchor="end" fill="#444">0</text>
<line x1="522.3" y1="169.2" x2="522.3" y2="171" stroke="#555" stroke-width="0.4"/>
<text x="522.3" y="175" font-family='"Liberation Sans", sans-serif' font-size="2.6" text-anchor="middle" fill="#444">5.5</text>
<line x1="531.6" y1="169.2" x2="531.6" y2="171" stroke="#555" stroke-width="0.4"/>
<text x="531.6" y="175" font-family='"Liberation Sans", sans-serif' font-size="2.6" text-anchor="middle" fill="#444">6.0</text>
<line x1="541" y1="169.2" x2="541" y2="171" stroke="#555" stroke-width="0.4"/>
<text x="541" y="175" font-family='"Liberation Sans", sans-serif' font-size="2.6" text-anchor="middle" fill="#444">6.5</text>
<line x1="550.3" y1="169.2" x2="550.3" y2="171" stroke="#555" stroke-width="0.4"/>
<text x="550.3" y="175" font-family='"Liberation Sans", sans-serif' font-size="2.6" text-anchor="middle" fill="#444">7.0</text>
<line x1="559.6" y1="169.2" x2="559.6" y2="171" stroke="#555" stroke-width="0.4"/>
<text x="559.6" y="175" font-family='"Liberation Sans", sans-serif' font-size="2.6" text-anchor="middle" fill="#444">7.5</text>
<line x1="569" y1="169.2" x2="569" y2="171" stroke="#555" stroke-width="0.4"/>
<text x="569" y="175" font-family='"Liberation Sans", sans-serif' font-size="2.6" text-anchor="middle" fill="#444">8.0</text>
<line x1="578.3" y1="169.2" x2="578.3" y2="171" stroke="#555" stroke-width="0.4"/>
<text x="578.3" y="175" font-family='"Liberation Sans", sans-serif' font-size="2.6" text-anchor="middle" fill="#444">8.5</text>
<text x="554" y="180.5" font-family='"Liberation Sans", sans-serif' font-size="3.6" text-anchor="middle" fill="#333">log2(SUMO2 TPM)</text>
<text x="511.8" y="138.7" font-family='"Liberation Sans", sans-serif' font-size="3.6" text-anchor="middle" fill="#333" transform="rotate(-90 511.8 138.7)">log2(SLC7A11 TPM)</text>
<text x="524.8" y="113" font-family='"Liberation Sans", sans-serif' font-size="3.4" fill="#111">p-value = 3.6e-33</text>
<text x="524.8" y="117.1" font-family='"Liberation Sans", sans-serif' font-size="3.4" fill="#111">R = 0.43</text>
<path transform="scale(.25)" d="M2197 484h0m90 16h0m43-13h0m2-2h0m7 41h0m-9-16h0m-7 10h0m-4 1h0m-1-15h0m-1 15h0m-2-16h0m-16 22h0m-7-2h0m-35 1h0m-24-20h0m-78 21h0m62 19h0m3-18h0m27 7h0m18 2h0m7 6h0m2-11h0m1-1h0m2 7h0m0 4h0m2 7h0m1-10h0m0-4h0m2 2h0m3 12h0m5 1h0m1 0h0m4-15h0m0-7h0m4 11h0m3 9h0m1-18h0m0 8h0m4-4h0m2 13h0m3 4h0m0-14h0m4 9h0m10-10h0m2 0h0m1-7h0m2 11h0m0-6h0m1 15h0m1-4h0m0 2h0m4-2h0m1 0h0m0-11h0m1 12h0m2 29h0m-4-14h0m0-1h0m-2-1h0m0 2h0m-1 3h0m-5 10h0m-2-19h0m-1 20h0m-6-2h0m-3-1h0m-2-4h0m-1-10h0m-1 9h0m-1-2h0m0-5h0m-1 11h0m-3-16h0m-3 16h0m-1-13h0m0 8h0m0-10h0m0 9h0m-2 9h0m0-5h0m-1 2h0m-1 0h0m0-10h0m-3-7h0m-1 17h0m-1-17h0m-3 15h0m-1-12h0m-1 8h0m-1 0h0m-4-12h0m0 12h0m-2 4h0m0-6h0m-1 4h0m0 1h0m-1 0h0m-1-1h0m-2 5h0m-1-3h0m0-15h0m-1 19h0m-2-2h0m-1-3h0m-3-14h0m-1 21h0m0-2h0m0-15h0m-1 4h0m-4-5h0m-4 8h0m0 2h0m-1-7h0m0 8h0m-1-4h0m-1 6h0m-2 2h0m0-4h0m-1 7h0m0-1h0m0-8h0m-2-2h0m-2 5h0m-1 4h0m0-10h0m-4-6h0m0 3h0m-2-6h0m-2 0h0m-6 3h0m-6 9h0m-3-9h0m-4 2h0m-68 11h0m-35 9h0m63 12h0m7-1h0m12 3h0m2 4h0m7 1h0m17-16h0m2 8h0m1-13h0m1 14h0m4 8h0m2-20h0m0 13h0m2 7h0m2 0h0m1-4h0m1-7h0m1 1h0m2-9h0m1 5h0m2 7h0m1-1h0m1 0h0m1 5h0m1-11h0m0 12h0m1 1h0m1 0h0m1-19h0m0 9h0m1 5h0m0-4h0m2-5h0m1-6h0m0 21h0m1-18h0m1 0h0m0 18h0m1-11h0m1-12h0m1 22h0m0-3h0m0-5h0m1-9h0m0-2h0m2 8h0m0 12h0m0-23h0m1 15h0m0-5h0m0 10h0m2-18h0m2 1h0m0 16h0m1 3h0m0-3h0m1-4h0m0 4h0m0 3h0m0-6h0m1-1h0m0-5h0m1 11h0m2-8h0m1-3h0m0 7h0m1-9h0m1 5h0m0-1h0m0 3h0m0-10h0m1 8h0m1-2h0m0 8h0m1-19h0m0 4h0m0 8h0m0 8h0m1-10h0m1 10h0m0-11h0m1 6h0m0-11h0m0-1h0m0 3h0m1 7h0m1 6h0m1 0h0m2-15h0m0 9h0m0-5h0m0-1h0m1 12h0m0-5h0m0 8h0m0-7h0m1-13h0m1 17h0m0-19h0m0 13h0m0-5h0m0-7h0m2 10h0m0-6h0m1-3h0m0-1h0m2 1h0m1 9h0m0-10h0m1 10h0m0 4h0m0-15h0m0 8h0m1-4h0m0-2h0m1 1h0m1 2h0m0 13h0m1-5h0m0-7h0m1 11h0m1 2h0m0-14h0m2-3h0m0 12h0m3 5h0m1-12h0m1 14h0m3-1h0m0-11h0m1 14h0m1-8h0m2-10h0m3 16h0m1-18h0m1 6h0m1 2h0m1-5h0m1 7h0m0-10h0m0 20h0m5 19h0m-3-13h0m-18 3h0m-1 1h0m-1-4h0m-2 1h0m0 7h0m-1 2h0m-3-9h0m-2 6h0m-2-7h0m-1 14h0m-1-15h0m-1 13h0m-1-10h0m0-5h0m-1 4h0m0 3h0m-1 11h0m-1-2h0m0-8h0m-2 9h0m0 4h0m-2-17h0m0 13h0m0-11h0m0 4h0m-1-2h0m-1-7h0m-1 8h0m0-11h0m0 4h0m-1 16h0m-1-9h0m0-2h0m-1 14h0m0-17h0m-1 2h0m0 12h0m0 2h0m-1-3h0m-1-8h0m-1 5h0m0 6h0m0-14h0m-1 11h0m0-11h0m0 13h0m0-19h0m-1 14h0m0-5h0m-1 1h0m0 8h0m0-2h0m-1-14h0m0 3h0m0-5h0m-1 13h0m-2 8h0m0-23h0m-1 17h0m0-12h0m-3 3h0m0-7h0m0 9h0m-2 1h0m0-10h0m-1 6h0m-1 6h0m0 4h0m0 4h0m0-1h0m-1-19h0m-1 10h0m0 4h0m0 4h0m0-6h0m-1-3h0m0-1h0m0-5h0m0 17h0m-1 1h0m0-6h0m0-6h0m0 4h0m0-1h0m-2-8h0m0 9h0m0 3h0m-1-1h0m0 4h0m-1-6h0m0 9h0m0-7h0m-2-14h0m0-2h0m-2 2h0m0 7h0m-1-6h0m0 8h0m-1 1h0m0 4h0m-1 6h0m0-16h0m-1 11h0m-1-12h0m-1 15h0m0-11h0m-1-9h0m-1 0h0m0 18h0m0-5h0m0-11h0m-2 7h0m0 9h0m-1-7h0m0 4h0m0-10h0m0 17h0m-2-7h0m0-10h0m0 17h0m-1-13h0m-1-6h0m0 13h0m-1-11h0m0 12h0m-1 5h0m0-15h0m-2 10h0m-1-9h0m0 9h0m-2-6h0m-1 12h0m-1-15h0m-2-5h0m-1 19h0m-1-10h0m0-11h0m-3 17h0m0-1h0m-1-12h0m-1 0h0m-1 6h0m-5-5h0m-3 9h0m-1-3h0m0-5h0m-1 13h0m-2-3h0m-1-4h0m0 4h0m-2-9h0m0 15h0m-3-22h0m-4 11h0m-1 5h0m0-5h0m-4-5h0m-7-2h0m-5 10h0m-3-14h0m-28 32h0m2 11h0m19-5h0m6-6h0m3 3h0m4-5h0m5 10h0m0-15h0m3 12h0m2-14h0m1 19h0m3-7h0m1 9h0m5-5h0m1 5h0m1-20h0m1 13h0m3 8h0m0-14h0m1 1h0m2-5h0m1 4h0m1 13h0m1-18h0m1 14h0m0-15h0m1 7h0m1 4h0m2-8h0m1 3h0m0-2h0m1-5h0m1 19h0m0 3h0m2-14h0m1 9h0m1-10h0m0 9h0m0 3h0m2-15h0m1 8h0m0 4h0m0 4h0m1-17h0m1 11h0m0-14h0m1 3h0m0-1h0m1-3h0m2 11h0m0-1h0m0-2h0m2 15h0m2 0h0m0-15h0m3-5h0m1 4h0m0-1h0m0 2h0m1 7h0m2 1h0m0-12h0m0 4h0m1-6h0m0 9h0m1-10h0m0 18h0m0-5h0m0-10h0m0-2h0m1 16h0m1-1h0m0-2h0m1-2h0m1 1h0m1-14h0m0 10h0m1 1h0m0 11h0m1 0h0m1-22h0m0 17h0m0-5h0m1-6h0m0 3h0m0-1h0m1 5h0m0 6h0m0-14h0m1 5h0m0-7h0m1 18h0m1-8h0m0-5h0m0-6h0m1 11h0m1-10h0m1 3h0m1 8h0m1-6h0m0 13h0m0-12h0m1-4h0m0 14h0m0-6h0m0-7h0m2-6h0m0 9h0m1-5h0m0 4h0m1 13h0m0-20h0m1 12h0m0 9h0m0-20h0m1 1h0m0 19h0m1-22h0m1 12h0m1-8h0m0 4h0m2 1h0m4-2h0m0 8h0m0 7h0m1-3h0m0-11h0m1 12h0m1 0h0m3-14h0m3 3h0m5 10h0m4-9h0m0 2h0m1 0h0m0 8h0m1-19h0m4-1h0m3 16h0m11 3h0m14-16h0m4 15h0m-9 20h0m-9-10h0m-2-3h0m-3 9h0m-15 0h0m-3 3h0m-6-6h0m0 4h0m-2-10h0m-6 15h0m-1-5h0m-2 5h0m-2-4h0m-1-4h0m-1 3h0m0-6h0m-1 8h0m0-10h0m0-2h0m-2-1h0m-1 4h0m0 9h0m-1 1h0m-3-6h0m-1 0h0m0 8h0m-1-10h0m-1-3h0m-1 7h0m-1-1h0m0-5h0m0-1h0m-1 7h0m-1-1h0m0-6h0m-1 9h0m-1 4h0m-1-1h0m-1-3h0m-2 4h0m0-5h0m0-1h0m-1 0h0m0-10h0m0 16h0m-1-3h0m-3 0h0m0-1h0m0-2h0m-1 1h0m-1-2h0m0 4h0m-1-8h0m-1-1h0m-4-1h0m0 7h0m-1 4h0m-1 0h0m-1-3h0m-1 3h0m-1-14h0m-1 11h0m0 3h0m-1 1h0m-1-1h0m-1 1h0m0-11h0m0 4h0m-1 7h0m0-5h0m-1-9h0m-2 15h0m-2-16h0m-2 1h0m0-1h0m0 9h0m0-5h0m-2 1h0m0-1h0m-1-1h0m-1 10h0m-1-1h0m-1-9h0m-1 5h0m-1 4h0m0 3h0m0-5h0m-1 0h0m0-6h0m-2 12h0m0 2h0m-1-7h0m-1-7h0m-2 1h0m0 7h0m-4 0h0m0-12h0m-1 1h0m-3 14h0m-1-11h0m0 7h0m-1-1h0m-1 0h0m0 4h0m0 2h0m-1-2h0m0-14h0m0 13h0m-1-4h0m-3-3h0m-1 8h0m-1-3h0m-2 1h0m0-3h0m-1 0h0m-3 6h0m-1-6h0m-1 6h0m0-1h0m-3-5h0m-1 6h0m-1-4h0m-1 6h0m-4-5h0m0-6h0m-5 6h0m-6-5h0m0 3h0m-4 5h0m-11-10h0m0 2h0m-2 10h0m-1-8h0m-2-1h0m-1 4h0m-2 4h0m-11-1h0m0 4h0m-5-6h0m-9 0h0m-3-3h0m-5 3h0" stroke="#1a1a1a" stroke-width="3" stroke-linecap="round"/>
<rect x="610.2" y="111" width="63.7" height="59.6" fill="#fff" stroke="#888" stroke-width="0.6"/>
<line x1="608.4" y1="114" x2="610.2" y2="114" stroke="#555" stroke-width="0.4"/>
<text x="607" y="114.9" font-family='"Liberation Sans", sans-serif' font-size="2.6" text-anchor="end" fill="#444">4</text>
<line x1="608.4" y1="127.8" x2="610.2" y2="127.8" stroke="#555" stroke-width="0.4"/>
<text x="607" y="128.7" font-family='"Liberation Sans", sans-serif' font-size="2.6" text-anchor="end" fill="#444">3</text>
<line x1="608.4" y1="141.6" x2="610.2" y2="141.6" stroke="#555" stroke-width="0.4"/>
<text x="607" y="142.5" font-family='"Liberation Sans", sans-serif' font-size="2.6" text-anchor="end" fill="#444">2</text>
<line x1="608.4" y1="155.3" x2="610.2" y2="155.3" stroke="#555" stroke-width="0.4"/>
<text x="607" y="156.2" font-family='"Liberation Sans", sans-serif' font-size="2.6" text-anchor="end" fill="#444">1</text>
<line x1="608.4" y1="169.1" x2="610.2" y2="169.1" stroke="#555" stroke-width="0.4"/>
<text x="607" y="170" font-family='"Liberation Sans", sans-serif' font-size="2.6" text-anchor="end" fill="#444">0</text>
<line x1="611.2" y1="170.6" x2="611.2" y2="172.4" stroke="#555" stroke-width="0.4"/>
<text x="611.2" y="176.4" font-family='"Liberation Sans", sans-serif' font-size="2.6" text-anchor="middle" fill="#444">0</text>
<line x1="625.2" y1="170.6" x2="625.2" y2="172.4" stroke="#555" stroke-width="0.4"/>
<text x="625.2" y="176.4" font-family='"Liberation Sans", sans-serif' font-size="2.6" text-anchor="middle" fill="#444">2</text>
<line x1="639.2" y1="170.6" x2="639.2" y2="172.4" stroke="#555" stroke-width="0.4"/>
<text x="639.2" y="176.4" font-family='"Liberation Sans", sans-serif' font-size="2.6" text-anchor="middle" fill="#444">4</text>
<line x1="653.2" y1="170.6" x2="653.2" y2="172.4" stroke="#555" stroke-width="0.4"/>
<text x="653.2" y="176.4" font-family='"Liberation Sans", sans-serif' font-size="2.6" text-anchor="middle" fill="#444">6</text>
<line x1="667.2" y1="170.6" x2="667.2" y2="172.4" stroke="#555" stroke-width="0.4"/>
<text x="667.2" y="176.4" font-family='"Liberation Sans", sans-serif' font-size="2.6" text-anchor="middle" fill="#444">8</text>
<text x="642" y="181.9" font-family='"Liberation Sans", sans-serif' font-size="3.6" text-anchor="middle" fill="#333">log2(FOXA1 TPM)</text>
<text x="600.7" y="140.8" font-family='"Liberation Sans", sans-serif' font-size="3.6" text-anchor="middle" fill="#333" transform="rotate(-90 600.7 140.8)">log2(SLC7A11 TPM)</text>
<text x="613.7" y="115.8" font-family='"Liberation Sans", sans-serif' font-size="3.4" fill="#111">p-value = 2.1e-52</text>
<text x="613.7" y="119.9" font-family='"Liberation Sans", sans-serif' font-size="3.4" fill="#111">R = 0.59</text>
<path transform="scale(.25)" d="M2504 499h0m47-17h0m122 9h0m8 9h0m-1 10h0m-1 7h0m-9-11h0m-6 8h0m-3 9h0m-8-8h0m-47 28h0m31 0h0m9-3h0m0 7h0m2-4h0m2-11h0m0 4h0m0 13h0m1 1h0m1-19h0m2 11h0m1 7h0m1 2h0m1-6h0m1-9h0m1 8h0m0-6h0m0 7h0m2-15h0m1 21h0m5-4h0m0-1h0m1-2h0m1-3h0m1-12h0m2 22h0m1-10h0m2 9h0m1-12h0m0 9h0m1-17h0m1-1h0m2 4h0m3 15h0m4 1h0m1-10h0m-2 17h0m-1 10h0m-4 1h0m-2-14h0m-1 2h0m-1 11h0m-1 8h0m-1 1h0m0-10h0m0 7h0m-1-9h0m-1 1h0m0-1h0m-1 3h0m0-11h0m-1 13h0m0-1h0m0-11h0m-1 9h0m-1 9h0m0-20h0m-2 11h0m0 7h0m-1-12h0m0 11h0m-2-4h0m0 8h0m0-12h0m-1 3h0m0-5h0m-1-7h0m-1-1h0m0 4h0m-2 12h0m0-14h0m-1 12h0m0 4h0m-1-7h0m0 1h0m-1 9h0m-1 1h0m-1-12h0m0 7h0m-1-5h0m0-3h0m-1 2h0m0 11h0m-1-11h0m-2-2h0m0 9h0m0-1h0m-1 1h0m0 4h0m-3-9h0m-2 2h0m0 7h0m-2-2h0m-1-13h0m0-2h0m-1 15h0m-3-3h0m-4 5h0m-1-9h0m-5 4h0m-90-5h0m7 31h0m6-20h0m76 17h0m2-1h0m0 6h0m1-20h0m2 17h0m1 0h0m1-19h0m0 10h0m2 12h0m2-5h0m0-14h0m1 5h0m0 8h0m1 0h0m0-6h0m0 13h0m0-5h0m1 2h0m0-1h0m2-16h0m1 14h0m0 4h0m0-1h0m1 1h0m0-19h0m1 19h0m0-12h0m1 10h0m0 4h0m0-10h0m0-11h0m1 9h0m0 9h0m0-1h0m0-15h0m1 10h0m0 4h0m1 5h0m0-10h0m0-10h0m0 14h0m0-1h0m0-5h0m0 4h0m1 6h0m0-14h0m0 8h0m0 2h0m1-1h0m0 4h0m0-14h0m0 17h0m1-10h0m0-10h0m0-1h0m0 18h0m1-8h0m0 9h0m0-15h0m0 4h0m0 4h0m0-5h0m1 9h0m0-5h0m1-3h0m0-6h0m1 8h0m0-8h0m1-4h0m0 4h0m0 4h0m1 8h0m0-3h0m1-10h0m0 16h0m0-1h0m1-15h0m0-1h0m2 10h0m1-12h0m0 9h0m0 9h0m0-16h0m0 9h0m1-11h0m0 22h0m1-9h0m0 3h0m0 4h0m1-10h0m0-10h0m0 8h0m0-1h0m1-6h0m0 22h0m1-9h0m0-5h0m0-4h0m1-5h0m1 18h0m1-14h0m0 18h0m0-11h0m3-1h0m1 0h0m4 2h0m1 7h0m4-9h0m-3 33h0m-3-19h0m-2 2h0m-2-2h0m-1 1h0m-2 12h0m0 3h0m-1-13h0m-2 9h0m0-5h0m-1 8h0m0-14h0m0 11h0m-2 1h0m0-6h0m0 8h0m-2-14h0m0-1h0m-1 8h0m0 9h0m0-5h0m0-7h0m0-1h0m-1 12h0m0-7h0m0 3h0m-1 1h0m0 3h0m0-11h0m-1-3h0m-1 3h0m0 4h0m0 4h0m0-1h0m0 4h0m0-14h0m-1 12h0m0 8h0m0-6h0m-1-7h0m-1-4h0m0 3h0m0-5h0m-1 9h0m0-10h0m0 9h0m0-5h0m0-6h0m0 9h0m-1 7h0m0-5h0m0 8h0m0-15h0m0-1h0m-1 14h0m0-17h0m-1 21h0m0-14h0m0-3h0m0 18h0m-1-2h0m0 3h0m0-5h0m0-11h0m-1 12h0m0-14h0m0 3h0m0-7h0m-1 14h0m0-5h0m0-5h0m0 12h0m-1-16h0m0 4h0m0-5h0m0 4h0m0 9h0m0-5h0m0 13h0m0-6h0m-1-11h0m0 13h0m0-5h0m0 4h0m0 3h0m-1-17h0m0 4h0m0 4h0m-1 9h0m0-10h0m0-5h0m0 4h0m0 9h0m0-5h0m0-5h0m-1 5h0m0-5h0m0 4h0m0-6h0m0 4h0m-1 12h0m0-5h0m0 4h0m0-20h0m0 9h0m0 9h0m-1-5h0m0 4h0m-1 3h0m0-19h0m0 13h0m0-14h0m0 4h0m-1-3h0m0 8h0m0-6h0m0 17h0m-1-6h0m0-10h0m0 1h0m-1 13h0m0 4h0m0-10h0m-1-7h0m0 3h0m0 13h0m0-14h0m0 8h0m-1-2h0m0-6h0m0-5h0m0 8h0m0 9h0m-1-9h0m0 8h0m0-1h0m-1-15h0m0 18h0m0-10h0m0-5h0m-2 17h0m-1-8h0m0 9h0m-1-8h0m0 8h0m-1-16h0m-1 9h0m-1 2h0m0-14h0m0 18h0m0-5h0m-1-5h0m0-1h0m-2 11h0m0-5h0m-1 2h0m-3-1h0m-157 21h0m89-15h0m47 8h0m0 13h0m1-12h0m5-4h0m6 8h0m2 10h0m0-12h0m1-10h0m0 9h0m0-1h0m1 13h0m1-5h0m2-5h0m1 9h0m1-21h0m2 9h0m0-1h0m1-4h0m0 8h0m0-11h0m1 10h0m0-10h0m0 12h0m1 3h0m0-5h0m0 3h0m0-10h0m1 9h0m0-3h0m1 1h0m0-1h0m0 8h0m0-14h0m0 4h0m0-5h0m2 5h0m0-5h0m0 9h0m1 9h0m0-10h0m0-10h0m0 13h0m0 9h0m0-14h0m0 4h0m0 9h0m0-19h0m1 15h0m0 4h0m0-15h0m1-7h0m1 11h0m0-5h0m0-5h0m0 4h0m0 13h0m0-10h0m0-5h0m1 15h0m0-1h0m0-16h0m1 19h0m0-14h0m0-5h0m0 9h0m0 13h0m0-19h0m1 8h0m0 3h0m0-14h0m1 22h0m0-19h0m0 8h0m0-5h0m0 14h0m0-5h0m1-11h0m0 4h0m1 4h0m0-6h0m0 13h0m0-19h0m0 13h0m1-9h0m0 7h0m0-10h0m0 8h0m1 13h0m0-19h0m0 9h0m0 9h0m0-5h0m0-10h0m1 16h0m0-14h0m0 13h0m0-10h0m0-5h0m0 14h0m0-19h0m0 8h0m0-5h0m1 10h0m0 4h0m0 4h0m0-6h0m0-5h0m0 8h0m1-18h0m0 14h0m0-3h0m0 4h0m1-4h0m1-7h0m0 4h0m0 9h0m0-11h0m1-5h0m0-1h0m0 16h0m0 4h0m1-4h0m0-5h0m0 8h0m0-5h0m0-10h0m0-5h0m1 1h0m0 17h0m0-10h0m0-1h0m1 5h0m0-7h0m0-5h0m1 9h0m0-5h0m0-2h0m1 19h0m0-5h0m1-17h0m1 14h0m1-14h0m1 23h0m1-21h0m0-2h0m0 8h0m0 9h0m1-10h0m0 4h0m0-5h0m1 16h0m1-16h0m0-4h0m1 2h0m1 5h0m0 9h0m0-5h0m1-10h0m2 13h0m2 0h0m5 0h0m0 7h0m3-19h0m-9 25h0m-2 4h0m-4 1h0m-1 9h0m-3 2h0m-2-2h0m0-6h0m-1 0h0m0 8h0m0-7h0m-2-11h0m0 17h0m-1-19h0m-1 17h0m0-5h0m-1-9h0m0 18h0m-1-4h0m-1-17h0m0 9h0m0 8h0m0-15h0m0 18h0m-1-3h0m0-1h0m0-15h0m0 4h0m-1 9h0m0 4h0m0-19h0m0 4h0m0 9h0m-1 8h0m0-1h0m0-5h0m0-14h0m0 9h0m0 9h0m-1-18h0m0 17h0m-1-6h0m-1 6h0m0 3h0m0-5h0m0-15h0m-1 19h0m0-14h0m0 9h0m0 4h0m0-5h0m0 4h0m0 4h0m-1-2h0m0-1h0m0-11h0m0 9h0m0 4h0m-1-17h0m0-1h0m0 4h0m0 3h0m-1-10h0m-1 0h0m0 18h0m0-5h0m0 9h0m0-5h0m0-1h0m0-5h0m0 8h0m-1-2h0m0-1h0m0-1h0m-1 6h0m0-5h0m0-7h0m0 9h0m0 4h0m-1 1h0m0-7h0m0-6h0m-1 7h0m0 4h0m0-5h0m0-5h0m0 7h0m-1-2h0m0 1h0m-1 1h0m0-1h0m0-11h0m0-5h0m0 9h0m0 9h0m-1-2h0m0-10h0m-1 7h0m0 4h0m0 4h0m-1 0h0m0-10h0m0 3h0m0-15h0m-1 16h0m0 4h0m0-14h0m0 11h0m-1-12h0m0 13h0m0-16h0m0 17h0m-2 0h0m0 3h0m-1-4h0m0-11h0m0 9h0m0 4h0m-1-3h0m0 2h0m0-1h0m-1 1h0m-1-1h0m0 1h0m-1-15h0m0 18h0m0-19h0m-2 15h0m0 3h0m0-2h0m-1-10h0m0 9h0m0-1h0m-1 1h0m0-1h0m0-16h0m0 9h0m-1 6h0m0 7h0m0-5h0m-1 1h0m-2-1h0m0-6h0m-2-1h0m0 9h0m0-5h0m-1 6h0m-1-5h0m0 3h0m-4-19h0m0 13h0m-5 4h0m0 2h0m-14 4h0m-10 0h0m-7-9h0m-1-1h0m0 9h0m-2 1h0m-15-8h0m-3 0h0m-3 2h0m-15 2h0m-6-6h0m-30 2h0m-6 4h0m-12-2h0m-14 3h0m-1-6h0m147 10h0m31 1h0" stroke="#1a1a1a" stroke-width="3" stroke-linecap="round"/>
<rect x="521.3" y="189.7" width="65.4" height="61" fill="#fff" stroke="#888" stroke-width="0.6"/>
<line x1="519.5" y1="192.7" x2="521.3" y2="192.7" stroke="#555" stroke-width="0.4"/>
<text x="518.1" y="193.6" font-family='"Liberation Sans", sans-serif' font-size="2.6" text-anchor="end" fill="#444">4</text>
<line x1="519.5" y1="206.8" x2="521.3" y2="206.8" stroke="#555" stroke-width="0.4"/>
<text x="518.1" y="207.7" font-family='"Liberation Sans", sans-serif' font-size="2.6" text-anchor="end" fill="#444">3</text>
<line x1="519.5" y1="220.9" x2="521.3" y2="220.9" stroke="#555" stroke-width="0.4"/>
<text x="518.1" y="221.8" font-family='"Liberation Sans", sans-serif' font-size="2.6" text-anchor="end" fill="#444">2</text>
<line x1="519.5" y1="235.1" x2="521.3" y2="235.1" stroke="#555" stroke-width="0.4"/>
<text x="518.1" y="236" font-family='"Liberation Sans", sans-serif' font-size="2.6" text-anchor="end" fill="#444">1</text>
<line x1="519.5" y1="249.2" x2="521.3" y2="249.2" stroke="#555" stroke-width="0.4"/>
<text x="518.1" y="250.1" font-family='"Liberation Sans", sans-serif' font-size="2.6" text-anchor="end" fill="#444">0</text>
<line x1="522.3" y1="250.7" x2="522.3" y2="252.5" stroke="#555" stroke-width="0.4"/>
<text x="522.3" y="256.5" font-family='"Liberation Sans", sans-serif' font-size="2.6" text-anchor="middle" fill="#444">0</text>
<line x1="531.6" y1="250.7" x2="531.6" y2="252.5" stroke="#555" stroke-width="0.4"/>
<text x="531.6" y="256.5" font-family='"Liberation Sans", sans-serif' font-size="2.6" text-anchor="middle" fill="#444">1</text>
<line x1="541" y1="250.7" x2="541" y2="252.5" stroke="#555" stroke-width="0.4"/>
<text x="541" y="256.5" font-family='"Liberation Sans", sans-serif' font-size="2.6" text-anchor="middle" fill="#444">2</text>
<line x1="550.3" y1="250.7" x2="550.3" y2="252.5" stroke="#555" stroke-width="0.4"/>
<text x="550.3" y="256.5" font-family='"Liberation Sans", sans-serif' font-size="2.6" text-anchor="middle" fill="#444">3</text>
<line x1="559.6" y1="250.7" x2="559.6" y2="252.5" stroke="#555" stroke-width="0.4"/>
<text x="559.6" y="256.5" font-family='"Liberation Sans", sans-serif' font-size="2.6" text-anchor="middle" fill="#444">4</text>
<line x1="569" y1="250.7" x2="569" y2="252.5" stroke="#555" stroke-width="0.4"/>
<text x="569" y="256.5" font-family='"Liberation Sans", sans-serif' font-size="2.6" text-anchor="middle" fill="#444">5</text>
<line x1="578.3" y1="250.7" x2="578.3" y2="252.5" stroke="#555" stroke-width="0.4"/>
<text x="578.3" y="256.5" font-family='"Liberation Sans", sans-serif' font-size="2.6" text-anchor="middle" fill="#444">6</text>
<text x="554" y="262" font-family='"Liberation Sans", sans-serif' font-size="3.6" text-anchor="middle" fill="#333">log2(ASCL2 TPM)</text>
<text x="511.8" y="220.2" font-family='"Liberation Sans", sans-serif' font-size="3.6" text-anchor="middle" fill="#333" transform="rotate(-90 511.8 220.2)">log2(SLC7A11 TPM)</text>
<text x="524.8" y="194.5" font-family='"Liberation Sans", sans-serif' font-size="3.4" fill="#111">p-value = 2.2e-13</text>
<text x="524.8" y="198.6" font-family='"Liberation Sans", sans-serif' font-size="3.4" fill="#111">R = -0.26</text>
<path transform="scale(.25)" d="M2171 812h0m-30 2h0m-11-9h0m-5 4h0m-31-1h0m-2 30h0m9 0h0m5-6h0m1 3h0m7-19h0m1 0h0m2 9h0m13 3h0m3 5h0m24-4h0m10-2h0m105-9h0m40 6h0m-4 20h0m-138 2h0m-2-6h0m-6 2h0m0 9h0m-4 3h0m-5 1h0m-3-8h0m-1 12h0m-2-3h0m-1-12h0m-1 15h0m-3-6h0m-1 7h0m-4 1h0m-1-20h0m-2 16h0m-2-2h0m0 2h0m-1-6h0m-3 4h0m-2-6h0m-3-1h0m0-1h0m-1 8h0m-1 1h0m-3 7h0m0-12h0m-1 8h0m-5-19h0m-1 14h0m-1 0h0m0-7h0m-1 8h0m-2 2h0m0 4h0m0-5h0m-2-5h0m-2 7h0m-2-9h0m-1 0h0m-1 4h0m-4 1h0m-3 19h0m2-6h0m1 17h0m1-12h0m0 7h0m1-10h0m0 1h0m2 0h0m1 10h0m0-5h0m1 8h0m1 3h0m1-14h0m2 14h0m0-1h0m3-1h0m0-13h0m5 16h0m1 0h0m1-10h0m1 8h0m2-15h0m1 3h0m5 0h0m0 13h0m0-5h0m1-12h0m0 18h0m1 0h0m2-15h0m2 9h0m2-5h0m2 8h0m2-14h0m1-3h0m1 4h0m2 7h0m1 2h0m1 7h0m2-5h0m0-14h0m0 8h0m2-3h0m1 5h0m3 0h0m3-9h0m1-4h0m2 1h0m2 10h0m0-8h0m1 14h0m0-3h0m4 6h0m1 2h0m2-2h0m2 2h0m1-19h0m3 12h0m2 3h0m0-14h0m14 5h0m8-3h0m74 10h0m34-17h0m18 27h0m-75 12h0m-41 4h0m-11 2h0m-9-9h0m-1 4h0m-4 2h0m-2-3h0m-2-12h0m-1 7h0m-1 11h0m-3-5h0m0-2h0m-1-14h0m0 6h0m-1 6h0m-1 8h0m0-1h0m-1 2h0m-1 1h0m-2-17h0m-1-4h0m-1-1h0m0 9h0m-1 9h0m0-17h0m-1 5h0m0-6h0m-1 21h0m-1 1h0m0-6h0m-2-1h0m-1-10h0m0 4h0m0 8h0m-1-1h0m-1-9h0m-1 4h0m-1-8h0m0-1h0m-1 18h0m0-19h0m-1 10h0m0-3h0m-1 10h0m0-5h0m0 2h0m-2 8h0m0-6h0m-1-8h0m-1 10h0m-3-10h0m-1-4h0m0 2h0m0 3h0m-2-5h0m0 14h0m-1-4h0m0-1h0m0-14h0m0 13h0m0 4h0m0-10h0m-1 12h0m0-14h0m-1-2h0m-1 8h0m0-1h0m-2 13h0m0-7h0m0-14h0m0 4h0m0-5h0m-1 17h0m0 4h0m0 1h0m-1-8h0m0-5h0m0-10h0m-1 21h0m0-14h0m0 8h0m-2 4h0m-2 1h0m-1-5h0m0-10h0m-2 6h0m-1 8h0m0 3h0m0-10h0m-1-6h0m-1 16h0m0-14h0m0 9h0m-1-6h0m0-10h0m-1 11h0m-1-10h0m0 12h0m0 9h0m0-2h0m-1-3h0m0-3h0m-2-2h0m0-2h0m0 9h0m-1-12h0m0 14h0m0-20h0m-1 9h0m0 12h0m-2-21h0m0 8h0m0 9h0m-1-16h0m0 6h0m0-1h0m-1-1h0m0 9h0m0-14h0m-1-1h0m0 22h0m-2 0h0m0-1h0m-1-10h0m-2 0h0m-1-1h0m-1 12h0m-3-6h0m0-14h0m-2 20h0m-3 18h0m0-10h0m0 4h0m1-5h0m0-3h0m1 8h0m1-4h0m0 3h0m1 7h0m0-5h0m0-4h0m1 5h0m1-13h0m0 15h0m1 6h0m0-7h0m1 5h0m0-18h0m1 19h0m0-8h0m1-2h0m0 9h0m0-7h0m3 2h0m1 3h0m1-6h0m0-6h0m1 12h0m1-2h0m0 3h0m1-12h0m0-3h0m1 6h0m0 7h0m1-16h0m1 2h0m0 21h0m0-5h0m2 5h0m2-18h0m1 2h0m0 13h0m1-7h0m0 8h0m0-1h0m0-10h0m1 9h0m0-2h0m0-14h0m1 0h0m0 6h0m1 2h0m0-10h0m1 5h0m0-6h0m0 4h0m1-3h0m1 6h0m0 3h0m2-7h0m1 10h0m1-1h0m0-2h0m0 3h0m1-6h0m1 4h0m3-7h0m1 0h0m0 12h0m2-9h0m0 4h0m0 1h0m1-2h0m0 4h0m0-5h0m0-5h0m0 9h0m1 10h0m0-1h0m1-20h0m0 12h0m2-7h0m0-4h0m0 9h0m1 0h0m1-2h0m2 13h0m0-11h0m0 3h0m2-8h0m0-3h0m2 2h0m1 1h0m1 16h0m3-6h0m1-7h0m0-5h0m0 2h0m1-4h0m1 11h0m0 9h0m0-11h0m1-9h0m1 7h0m1 11h0m1-14h0m0 13h0m0-20h0m1 14h0m0-10h0m1 7h0m0 4h0m2 4h0m0-19h0m0 21h0m2-9h0m1 3h0m2 8h0m0-19h0m1 11h0m2 3h0m3 0h0m2 2h0m6-8h0m1-10h0m0 8h0m1 3h0m3 10h0m3-22h0m3 18h0m2-15h0m8 9h0m5-3h0m62 5h0m-39 20h0m-11 8h0m-5-14h0m-14-2h0m-6 2h0m-1 5h0m0-6h0m0 18h0m-8-7h0m0-5h0m-1 7h0m0-5h0m-1-7h0m0 4h0m-1 0h0m-1 6h0m-7-1h0m-2 2h0m0-2h0m-2 4h0m-2-13h0m-2 11h0m-1-4h0m-1 0h0m0 4h0m-1-13h0m0 9h0m-2-8h0m-1 10h0m0 9h0m0-14h0m0-1h0m-2-7h0m0-1h0m-1 15h0m-2 3h0m-1-11h0m0 4h0m0-10h0m-1 10h0m-2 3h0m0 6h0m-1-17h0m0 4h0m0 9h0m-1 3h0m0-11h0m-1-2h0m0-6h0m-1 23h0m0-5h0m-2-13h0m-1 4h0m0 9h0m-1-9h0m0 13h0m0-14h0m0-5h0m0 8h0m0 3h0m-2-4h0m0 13h0m0-20h0m0 18h0m-1 0h0m-1-19h0m0 13h0m0-3h0m-1-2h0m0-2h0m0 8h0m-1-14h0m-1 3h0m0 12h0m0 4h0m-1-17h0m0-3h0m-2 15h0m0-14h0m-2 7h0m-1 7h0m0 3h0m0-16h0m-1 18h0m-1-8h0m-2 8h0m-1-21h0m0 12h0m-1-4h0m0 3h0m-1-8h0m0 16h0m0-11h0m-1-2h0m-1 16h0m-1-3h0m-1 4h0m0-5h0m-1-4h0m-1 0h0m-1 5h0m-3-4h0m-1 5h0m-2-4h0m0-16h0m-1 5h0m-4 8h0m0-11h0m-2 1h0m-1 15h0m0-10h0m-2-8h0m-1 20h0m0-10h0m-2 4h0m-3-9h0m-1 3h0m-2 0h0m0 4h0m-3 13h0m5 9h0m4 9h0m4-7h0m0 10h0m3-2h0m1 2h0m0-21h0m2 1h0m0-2h0m2 9h0m1 13h0m0-2h0m1-12h0m1 14h0m1-20h0m1 8h0m0-1h0m1 11h0m0-19h0m3 9h0m1 1h0m1-4h0m7-1h0m0-5h0m2 21h0m0-11h0m0-11h0m1 23h0m0-11h0m1 8h0m0 3h0m0-11h0m1 9h0m0-14h0m1-6h0m1 5h0m1 14h0m1-10h0m2-8h0m1 9h0m0 6h0m1-14h0m1-2h0m0 17h0m1-3h0m0-12h0m0 9h0m1 1h0m6-7h0m1 9h0m1-9h0m1 17h0m1-9h0m0-6h0m2 7h0m1-13h0m0 21h0m2-20h0m1 5h0m1-4h0m1 7h0m1 1h0m0 7h0m1-19h0m0 4h0m0-1h0m4 20h0m3-20h0m1 18h0m2 1h0m0-6h0m0 2h0m1-18h0m0 23h0m1-18h0m0 8h0m1-7h0m1 13h0m0-1h0m0-16h0m1 13h0m1-9h0m2 11h0m0 6h0m1-12h0m3 12h0m3-8h0m6-15h0m4 5h0m6 15h0m10-8h0m3-6h0m2 4h0m1-3h0m57-7h0m-42 24h0m-11 1h0m-3 1h0m-5-1h0m0 4h0m-2-1h0m-9 0h0m-3 1h0m-4-2h0m-1-1h0m-1-2h0m-2 4h0m-1 1h0m0-1h0m-6 0h0m-2-2h0m0-1h0m-1 3h0m-1-2h0m-4 4h0m-2-1h0m-5-1h0m0-1h0m-1 1h0m-6-3h0m0 4h0m-1-5h0m-1 3h0m-2 2h0m0-2h0m-2 0h0m-3 3h0m0-3h0m-2-2h0m-1 4h0m-3-5h0m-2 2h0m0-2h0m-1 1h0m0 4h0m0-5h0m-6 3h0m-1-2h0m-1-1h0m-1 6h0m-5-5h0m-1-1h0m-1 1h0m-2 6h0m0-7h0m-2 1h0m-1 4h0m0 3h0m-1-7h0m0 3h0m-2-3h0m0 2h0m-1-2h0m0 4h0m-1 0h0m-1 0h0m0-2h0m-3 0h0m-3 3h0m-4-6h0m0 4h0m-1-4h0m-1 4h0m-4-4h0m-7 5h0m-2-2h0m-7-3h0" stroke="#1a1a1a" stroke-width="3" stroke-linecap="round"/>
<rect x="610.2" y="189.7" width="65.1" height="61" fill="#fff" stroke="#888" stroke-width="0.6"/>
<line x1="608.4" y1="192.7" x2="610.2" y2="192.7" stroke="#555" stroke-width="0.4"/>
<text x="607" y="193.6" font-family='"Liberation Sans", sans-serif' font-size="2.6" text-anchor="end" fill="#444">4</text>
<line x1="608.4" y1="206.8" x2="610.2" y2="206.8" stroke="#555" stroke-width="0.4"/>
<text x="607" y="207.7" font-family='"Liberation Sans", sans-serif' font-size="2.6" text-anchor="end" fill="#444">3</text>
<line x1="608.4" y1="220.9" x2="610.2" y2="220.9" stroke="#555" stroke-width="0.4"/>
<text x="607" y="221.8" font-family='"Liberation Sans", sans-serif' font-size="2.6" text-anchor="end" fill="#444">2</text>
<line x1="608.4" y1="235.1" x2="610.2" y2="235.1" stroke="#555" stroke-width="0.4"/>
<text x="607" y="236" font-family='"Liberation Sans", sans-serif' font-size="2.6" text-anchor="end" fill="#444">1</text>
<line x1="608.4" y1="249.2" x2="610.2" y2="249.2" stroke="#555" stroke-width="0.4"/>
<text x="607" y="250.1" font-family='"Liberation Sans", sans-serif' font-size="2.6" text-anchor="end" fill="#444">0</text>
<line x1="611.2" y1="250.7" x2="611.2" y2="252.5" stroke="#555" stroke-width="0.4"/>
<text x="611.2" y="256.5" font-family='"Liberation Sans", sans-serif' font-size="2.6" text-anchor="middle" fill="#444">1</text>
<line x1="625.2" y1="250.7" x2="625.2" y2="252.5" stroke="#555" stroke-width="0.4"/>
<text x="625.2" y="256.5" font-family='"Liberation Sans", sans-serif' font-size="2.6" text-anchor="middle" fill="#444">2</text>
<line x1="639.2" y1="250.7" x2="639.2" y2="252.5" stroke="#555" stroke-width="0.4"/>
<text x="639.2" y="256.5" font-family='"Liberation Sans", sans-serif' font-size="2.6" text-anchor="middle" fill="#444">3</text>
<line x1="653.2" y1="250.7" x2="653.2" y2="252.5" stroke="#555" stroke-width="0.4"/>
<text x="653.2" y="256.5" font-family='"Liberation Sans", sans-serif' font-size="2.6" text-anchor="middle" fill="#444">4</text>
<line x1="667.2" y1="250.7" x2="667.2" y2="252.5" stroke="#555" stroke-width="0.4"/>
<text x="667.2" y="256.5" font-family='"Liberation Sans", sans-serif' font-size="2.6" text-anchor="middle" fill="#444">5</text>
<text x="642.8" y="262" font-family='"Liberation Sans", sans-serif' font-size="3.6" text-anchor="middle" fill="#333">log2(NR3C1 TPM)</text>
<text x="600.7" y="220.2" font-family='"Liberation Sans", sans-serif' font-size="3.6" text-anchor="middle" fill="#333" transform="rotate(-90 600.7 220.2)">log2(SLC7A11 TPM)</text>
<text x="613.7" y="194.5" font-family='"Liberation Sans", sans-serif' font-size="3.4" fill="#111">p-value = 0.067</text>
<text x="613.7" y="198.6" font-family='"Liberation Sans", sans-serif' font-size="3.4" fill="#111">R = -0.052</text>
<path transform="scale(.25)" d="M2610 810h0m-56-5h0m-9-4h0m0-3h0m-58 0h0m12 29h0m2-5h0m76 9h0m2-7h0m10 5h0m19-13h0m7 13h0m10 9h0m18-5h0m12 0h0m8 5h0m-2 9h0m-20 12h0m-8 1h0m-6-19h0m0 22h0m-1-6h0m-1-5h0m-10-4h0m-5-3h0m-19 8h0m-7 7h0m-2-7h0m-1 7h0m-2-2h0m-5-1h0m-5-2h0m-1 6h0m-2 2h0m-2-7h0m-7 5h0m-8-6h0m-11-15h0m-21 8h0m-8 14h0m12 9h0m10 8h0m1-3h0m1-2h0m14-10h0m3 19h0m4-3h0m0-2h0m2-4h0m1-1h0m3 9h0m0-13h0m1 15h0m3-6h0m0 7h0m3-6h0m5-6h0m0 8h0m1 5h0m0-16h0m1-6h0m3 20h0m0-3h0m1 3h0m5 0h0m0-1h0m7 0h0m1-14h0m1 11h0m2 3h0m1-3h0m2 0h0m0 4h0m0-1h0m1 3h0m2-1h0m0-3h0m2 1h0m0-14h0m0 4h0m2 4h0m2 7h0m2-11h0m0 13h0m4-16h0m1 8h0m1-8h0m1 3h0m0 4h0m5 1h0m2-7h0m0 9h0m0 3h0m1-7h0m1 8h0m12 0h0m2-4h0m5 6h0m20 13h0m-4 9h0m-4 2h0m-5-8h0m-3-4h0m0 9h0m0-10h0m-2-7h0m-4 21h0m-1-19h0m-5-3h0m-1 8h0m-2-2h0m-1-5h0m0 9h0m-1-2h0m-2 13h0m0-17h0m0-1h0m-4 14h0m-1-17h0m0 9h0m-1-7h0m-1 2h0m-2 5h0m-1 8h0m-3-10h0m0 12h0m-1-4h0m-1 3h0m0-5h0m0-7h0m-1 12h0m0-5h0m-1-11h0m-1 0h0m0 18h0m-1-1h0m-1-10h0m0 12h0m-1-19h0m-1 14h0m0 4h0m-2-2h0m-1 1h0m0-1h0m-2-12h0m0-6h0m0 13h0m-2 0h0m0 7h0m-1-9h0m0-12h0m-1 20h0m0-17h0m0 18h0m-1-18h0m0 3h0m-1 6h0m-1 10h0m-1-19h0m0 2h0m-2 15h0m-1-3h0m0 1h0m-1 5h0m-2-11h0m0-1h0m0-7h0m-1 7h0m-1 5h0m-2-2h0m0-14h0m-2 20h0m0-5h0m-1 0h0m0-3h0m-1-8h0m-1-2h0m-1 4h0m-1 10h0m-1-1h0m-1-7h0m0 11h0m-2-14h0m0 4h0m-1 12h0m-1-1h0m0-4h0m-1-14h0m-1 17h0m-2-12h0m0 16h0m-2-12h0m-1 1h0m0-10h0m0-2h0m-1 2h0m-1 12h0m-1-7h0m0 9h0m-1 4h0m0-12h0m-1 7h0m-1 3h0m-1 2h0m-1 2h0m0-6h0m0-16h0m-1 14h0m-1-1h0m-1 0h0m-1 9h0m-2-4h0m0-6h0m0 8h0m-1-3h0m-1-7h0m-1 7h0m0 6h0m-1-23h0m-2 15h0m-1 0h0m0 2h0m-2 1h0m0-10h0m-5-2h0m0 16h0m-5-10h0m-8-12h0m-1 7h0m-9 2h0m-1 7h0m-7 3h0m-3 0h0m-34 17h0m15 9h0m0-11h0m14 8h0m2-8h0m9-8h0m2 16h0m0 1h0m10-9h0m2 13h0m4-15h0m9 6h0m2-5h0m2 0h0m4 3h0m1-5h0m2-4h0m3 10h0m1 6h0m1-9h0m0 9h0m0-10h0m1-3h0m0-5h0m1 3h0m1 0h0m0 13h0m0-6h0m1 7h0m0-11h0m1 14h0m0-19h0m0 18h0m1 3h0m0-21h0m3 5h0m1 8h0m0-1h0m1-3h0m1-7h0m0 12h0m1-16h0m1 22h0m1-22h0m0 21h0m1-19h0m2 3h0m2 4h0m0 12h0m1 0h0m0-5h0m0 4h0m0-10h0m0-1h0m0 4h0m1-9h0m0 2h0m1 5h0m1-7h0m1 5h0m1 5h0m0-5h0m1-1h0m0-6h0m1 17h0m0-2h0m0-11h0m1-1h0m2 15h0m0-14h0m0 9h0m0-6h0m2 8h0m0-15h0m0 9h0m0 9h0m1-19h0m0 13h0m0-5h0m0 4h0m0-10h0m1 17h0m0-11h0m0 9h0m1-4h0m2 5h0m1-16h0m0 9h0m1 1h0m1-13h0m0 4h0m0 12h0m0-6h0m1 1h0m1 10h0m0-15h0m1 7h0m0 9h0m1-17h0m1 11h0m1 5h0m1-13h0m0 8h0m0-5h0m1 2h0m0 5h0m1-17h0m0 10h0m1 11h0m0-7h0m0 3h0m1-12h0m1 14h0m1-20h0m1 23h0m0-1h0m1-15h0m0-2h0m1 10h0m1 0h0m1-2h0m1-13h0m1 14h0m1-4h0m2 9h0m0-7h0m1 4h0m0 4h0m0-19h0m0 18h0m2-19h0m0 18h0m1-14h0m2-1h0m0 16h0m0-10h0m1 14h0m3-20h0m1 11h0m1-8h0m0 13h0m1 2h0m1 0h0m0-14h0m0 6h0m1-10h0m0 4h0m2 13h0m0-19h0m2 7h0m1 7h0m1 6h0m2-2h0m1-6h0m2 4h0m0 4h0m4-12h0m3 3h0m1-6h0m2-2h0m8 1h0m0 3h0m4 13h0m2-7h0m5-8h0m5 13h0m2-14h0m14 2h0m-14 35h0m-10-15h0m-1-2h0m-8 17h0m-6 3h0m-5-6h0m-1 7h0m-1-15h0m-1 6h0m-6-10h0m-2 13h0m-1-14h0m-4 18h0m0-14h0m-1 5h0m-1 0h0m0-10h0m-1 6h0m-1 4h0m-2-2h0m0-2h0m0 9h0m-1-8h0m-1 15h0m0-6h0m-1 0h0m0-6h0m-1 4h0m0-11h0m-1-3h0m-1 6h0m-1-1h0m-1-2h0m-1 0h0m0 9h0m-1-13h0m0 8h0m-2 3h0m-1 8h0m0-11h0m-1 10h0m-1 2h0m-1-13h0m0 4h0m-1 12h0m-1-2h0m0-14h0m-1 5h0m-3-8h0m0-3h0m-1 20h0m0-5h0m0-15h0m0 7h0m-1 2h0m-1 12h0m0-5h0m-1-13h0m-1-3h0m-1 6h0m0 13h0m0-19h0m-1 3h0m-1 19h0m-1-11h0m0-7h0m0 9h0m0 9h0m0-23h0m-1 10h0m0-2h0m0 3h0m0 9h0m-1-12h0m0-2h0m0 9h0m-2-12h0m0-2h0m-1 11h0m0-10h0m0 4h0m0 8h0m-1-12h0m-1 3h0m0 13h0m0-5h0m0-1h0m-1 0h0m-1-1h0m-1 12h0m-1-17h0m-1 13h0m0-15h0m-2-2h0m0 15h0m-1 2h0m0-17h0m0-1h0m0 9h0m-2 12h0m-2-13h0m-1 8h0m0-14h0m-1 20h0m-3-3h0m0-15h0m0 9h0m-1-6h0m-2-3h0m0-5h0m-1 19h0m-2-4h0m0-5h0m-1-9h0m0 9h0m0-6h0m-1 13h0m0-10h0m0 12h0m0-10h0m0-1h0m-2 1h0m-2 9h0m-4-2h0m-1 1h0m0 3h0m0-11h0m-1 2h0m-1 0h0m-2-6h0m0 13h0m0-5h0m0 9h0m0-20h0m0 9h0m-1 10h0m0-1h0m-1-6h0m-1-2h0m-1-6h0m-2 14h0m0-7h0m-2-7h0m-1 1h0m0 7h0m-1 6h0m0-1h0m0-16h0m-1 15h0m-1-15h0m-1-3h0m-1 22h0m0-20h0m-2-1h0m0 21h0m-1-1h0m-2-5h0m-1 7h0m-15-13h0m-4-10h0m-1 17h0m-3-11h0m-1 9h0m-19-10h0m-10 3h0m-1 36h0m5 2h0m5 0h0m15-1h0m0-1h0m9-10h0m0-2h0m10 2h0m1 8h0m0-15h0m1 20h0m1-3h0m2 1h0m4 1h0m3-17h0m0 18h0m1-16h0m3 10h0m2 1h0m2-9h0m3 6h0m0-6h0m1 6h0m4-12h0m1 6h0m2-7h0m4 16h0m4-14h0m0-3h0m3 7h0m0 9h0m1-7h0m3-4h0m2 5h0m3-9h0m0 11h0m1-3h0m1 10h0m0-15h0m1-3h0m1 8h0m0 11h0m3-18h0m0-1h0m0-1h0m2 15h0m0-10h0m0 13h0m2-18h0m3 6h0m0-5h0m1 6h0m0 3h0m1-4h0m0 9h0m0-7h0m0-1h0m1 7h0m1 4h0m2-13h0m2 0h0m4 3h0m0 11h0m3 0h0m1 2h0m2-21h0m0 12h0m3-2h0m0-7h0m1-1h0m2 6h0m4 12h0m1-10h0m5-11h0m2 5h0m2 10h0m2-6h0m2 11h0m1-10h0m1 8h0m1-7h0m3-4h0m0 13h0m2-8h0m1-2h0m0-5h0m7 4h0m3-6h0m3 7h0m4-6h0m2 0h0m11-1h0m-5 21h0m-10 1h0m-1-1h0m-7 6h0m-2-4h0m0 4h0m-5-4h0m-2-1h0m-1 3h0m-2-1h0m-7 3h0m-4-2h0m-5-4h0m-1 2h0m-1 3h0m-1-5h0m0 4h0m-3 2h0m-3-1h0m-1-2h0m0 3h0m-1-1h0m-1-1h0m0-1h0m0 3h0m-1-4h0m0 3h0m-1 1h0m-3-5h0m-4 3h0m-3-2h0m-3 3h0m-1-4h0m0-1h0m-1 2h0m0-1h0m-2 4h0m-2-5h0m-1 4h0m-1-2h0m0 2h0m-1 1h0m0-1h0m-2 2h0m-3-4h0m0-1h0m-1 4h0m0-2h0m-3-3h0m0 6h0m-2-5h0m-2 2h0m-1-2h0m-3 5h0m-2-6h0m-1 3h0m-2 3h0m0-5h0m-11-1h0m-2 5h0m-2 0h0m-3 3h0m-1-8h0m-1 4h0m-1-4h0m-2 1h0m-2 0h0m-2 3h0m-7-2h0m-8 6h0m0-1h0m-12-3h0m-5 1h0m-1 3h0m-1-5h0m-3 5h0m-11-5h0m-4-3h0m-3 5h0m-3 1h0m-4 1h0m0-6h0m-1 6h0" stroke="#1a1a1a" stroke-width="3" stroke-linecap="round"/>
<rect x="521.3" y="272.9" width="65.4" height="61.1" fill="#fff" stroke="#888" stroke-width="0.6"/>
<line x1="519.5" y1="275.9" x2="521.3" y2="275.9" stroke="#555" stroke-width="0.4"/>
<text x="518.1" y="276.8" font-family='"Liberation Sans", sans-serif' font-size="2.6" text-anchor="end" fill="#444">4</text>
<line x1="519.5" y1="290" x2="521.3" y2="290" stroke="#555" stroke-width="0.4"/>
<text x="518.1" y="290.9" font-family='"Liberation Sans", sans-serif' font-size="2.6" text-anchor="end" fill="#444">3</text>
<line x1="519.5" y1="304.2" x2="521.3" y2="304.2" stroke="#555" stroke-width="0.4"/>
<text x="518.1" y="305.1" font-family='"Liberation Sans", sans-serif' font-size="2.6" text-anchor="end" fill="#444">2</text>
<line x1="519.5" y1="318.4" x2="521.3" y2="318.4" stroke="#555" stroke-width="0.4"/>
<text x="518.1" y="319.2" font-family='"Liberation Sans", sans-serif' font-size="2.6" text-anchor="end" fill="#444">1</text>
<line x1="519.5" y1="332.5" x2="521.3" y2="332.5" stroke="#555" stroke-width="0.4"/>
<text x="518.1" y="333.4" font-family='"Liberation Sans", sans-serif' font-size="2.6" text-anchor="end" fill="#444">0</text>
<line x1="527.1" y1="334" x2="527.1" y2="335.8" stroke="#555" stroke-width="0.4"/>
<text x="527.1" y="339.8" font-family='"Liberation Sans", sans-serif' font-size="2.6" text-anchor="middle" fill="#444">1.0</text>
<line x1="537.3" y1="334" x2="537.3" y2="335.8" stroke="#555" stroke-width="0.4"/>
<text x="537.3" y="339.8" font-family='"Liberation Sans", sans-serif' font-size="2.6" text-anchor="middle" fill="#444">2.0</text>
<line x1="547.5" y1="334" x2="547.5" y2="335.8" stroke="#555" stroke-width="0.4"/>
<text x="547.5" y="339.8" font-family='"Liberation Sans", sans-serif' font-size="2.6" text-anchor="middle" fill="#444">3.0</text>
<line x1="557.7" y1="334" x2="557.7" y2="335.8" stroke="#555" stroke-width="0.4"/>
<text x="557.7" y="339.8" font-family='"Liberation Sans", sans-serif' font-size="2.6" text-anchor="middle" fill="#444">4.0</text>
<line x1="567.9" y1="334" x2="567.9" y2="335.8" stroke="#555" stroke-width="0.4"/>
<text x="567.9" y="339.8" font-family='"Liberation Sans", sans-serif' font-size="2.6" text-anchor="middle" fill="#444">5.0</text>
<line x1="578.1" y1="334" x2="578.1" y2="335.8" stroke="#555" stroke-width="0.4"/>
<text x="578.1" y="339.8" font-family='"Liberation Sans", sans-serif' font-size="2.6" text-anchor="middle" fill="#444">6.0</text>
<text x="554" y="345.3" font-family='"Liberation Sans", sans-serif' font-size="3.6" text-anchor="middle" fill="#333">log2(TCF7L2 TPM)</text>
<text x="511.8" y="303.4" font-family='"Liberation Sans", sans-serif' font-size="3.6" text-anchor="middle" fill="#333" transform="rotate(-90 511.8 303.4)">log2(SLC7A11 TPM)</text>
<text x="524.8" y="277.7" font-family='"Liberation Sans", sans-serif' font-size="3.4" fill="#111">p-value = 0.47</text>
<text x="524.8" y="281.8" font-family='"Liberation Sans", sans-serif' font-size="3.4" fill="#111">R = -0.026</text>
<path transform="scale(.25)" d="M2146 1146h0m-14 21h0m64 8h0m21 0h0m1-13h0m0 13h0m28-1h0m6-1h0m19 2h0m30 23h0m-37-1h0m-10-17h0m-3 11h0m-13-2h0m0-4h0m-1 2h0m-2 9h0m-1-10h0m-24 11h0m-11 0h0m-3-9h0m-19-10h0m-9 3h0m-25-5h0m-38 43h0m2-5h0m56 4h0m1-1h0m16-4h0m2-8h0m2 17h0m6-4h0m0-7h0m1-7h0m2 8h0m1 5h0m1-4h0m2 2h0m1-1h0m0-8h0m1 13h0m0-14h0m4 15h0m4-7h0m2 4h0m2 2h0m0 4h0m1-17h0m4 13h0m0 4h0m1-3h0m3-3h0m3-12h0m1 9h0m0 9h0m1-21h0m1 5h0m2 0h0m1 14h0m1 2h0m1-10h0m1 2h0m2 8h0m0-3h0m2-7h0m1 9h0m3-2h0m1-15h0m1 3h0m0 8h0m1-13h0m3 17h0m0 3h0m1-4h0m0-4h0m3-7h0m0 4h0m0 3h0m3-8h0m5 6h0m0 9h0m2-7h0m3 4h0m1-1h0m0-3h0m0-4h0m1 2h0m4-1h0m2 0h0m1 5h0m14-2h0m1 5h0m5-18h0m12 0h0m6 15h0m0-14h0m10 6h0m17-2h0m-10 21h0m-8 1h0m-3-2h0m-2 14h0m-7-2h0m-7 7h0m-6-4h0m0-10h0m-2 11h0m-1 1h0m-1-10h0m-1-5h0m-2 1h0m0 9h0m0-1h0m-2 8h0m-1-12h0m-3-2h0m-1 14h0m0-15h0m-1 9h0m-3 0h0m0 7h0m-1-7h0m-2-16h0m-1 8h0m-2 13h0m-2-4h0m-2-5h0m0 4h0m0-2h0m0 9h0m-1-19h0m-2 10h0m-1 0h0m-1 0h0m0 5h0m-1-10h0m0-2h0m-2-3h0m-4 17h0m-2-1h0m0 3h0m0-10h0m-2 4h0m-1-15h0m-2 12h0m-2-7h0m-1 10h0m0 4h0m-1-14h0m-2-1h0m0-6h0m0 14h0m-1 4h0m-1-5h0m0 9h0m0-12h0m-2 11h0m-1 1h0m-3-18h0m-2 4h0m-2 1h0m0-2h0m-1 8h0m-1 0h0m0-1h0m0-14h0m0 17h0m-1 3h0m-3 3h0m0-22h0m-1 19h0m0-16h0m-2 14h0m0-12h0m-1 14h0m-1-7h0m0-11h0m-1 5h0m0 16h0m-1-9h0m-1-1h0m-2 8h0m0-10h0m-2-6h0m0 18h0m-1-7h0m0-5h0m-1 3h0m0 9h0m0-4h0m-1-4h0m0-12h0m-1 10h0m0-1h0m-3 11h0m-1-10h0m-1 10h0m0-5h0m-2-17h0m0 4h0m-2 9h0m0 9h0m-1 0h0m-1-2h0m0-1h0m-1-17h0m0 16h0m-1 3h0m-1-13h0m0 2h0m-3 10h0m-8-14h0m-1 4h0m-3 1h0m0-5h0m-2 16h0m-3-10h0m-7 10h0m-5 0h0m-12-17h0m-2 16h0m-1-5h0m-4-5h0m-5-3h0m-3 7h0m-7 4h0m-2 2h0m-7-1h0m9 26h0m0-14h0m0-1h0m8 15h0m6-22h0m24 10h0m2 7h0m1 3h0m1-12h0m1-7h0m0-1h0m2 12h0m5 3h0m1-3h0m2 6h0m1 0h0m0-19h0m3 2h0m1 1h0m0 17h0m0-14h0m1 1h0m0 9h0m1 4h0m0-2h0m1-11h0m1 1h0m1-8h0m0 9h0m2-3h0m0-6h0m0 14h0m0-6h0m2 2h0m1-3h0m0 12h0m0-7h0m1 8h0m2-12h0m1-4h0m0 18h0m0-20h0m2 14h0m3-2h0m1-13h0m0 11h0m1-10h0m0 15h0m1-7h0m0 9h0m1-17h0m0 11h0m0 9h0m1-5h0m0 5h0m1-4h0m2-13h0m2 12h0m1-1h0m1-13h0m1-1h0m0-2h0m1 7h0m0-1h0m1-4h0m0 3h0m0-1h0m1 15h0m1 3h0m1-1h0m0-3h0m1-10h0m1 11h0m0-5h0m1 1h0m1-15h0m0 18h0m0-13h0m1 6h0m0-7h0m0-1h0m1 17h0m1-6h0m2 8h0m0-14h0m0 8h0m0-6h0m1-9h0m1 19h0m0-19h0m0 9h0m0-6h0m1 3h0m0 12h0m1-10h0m1-9h0m0 4h0m1 7h0m2-2h0m0 12h0m0-2h0m1-17h0m2 20h0m0-6h0m0 4h0m0-10h0m1-5h0m0-5h0m0 14h0m0-11h0m2 15h0m0-15h0m0 3h0m1 10h0m0-15h0m0 22h0m1-7h0m2 4h0m0-3h0m0-14h0m1 3h0m1 12h0m0 3h0m1-17h0m0 13h0m2-11h0m1 17h0m0-5h0m1-10h0m0 7h0m0-5h0m2-3h0m1-2h0m2-3h0m2 14h0m1-3h0m0-2h0m4-2h0m1 8h0m0-1h0m1-13h0m0 13h0m3 7h0m1-9h0m1-11h0m1 11h0m1 2h0m1-8h0m0-6h0m2 21h0m1-22h0m1 22h0m2-8h0m0 7h0m2-14h0m2 8h0m0-1h0m1-5h0m1-10h0m0 4h0m1 9h0m2-2h0m2-6h0m0-3h0m2 20h0m3-1h0m5-1h0m10-8h0m3 10h0m6-5h0m3 4h0m1-14h0m6 15h0m4-20h0m-4 28h0m-11 8h0m-1-2h0m0 4h0m-9-5h0m-7-7h0m-3 5h0m0 4h0m-3 7h0m-3 3h0m-1-11h0m-1 7h0m0-10h0m-1 12h0m-3-4h0m0-13h0m-1 13h0m-1-8h0m-1 7h0m0-11h0m-1 4h0m-1-4h0m0 9h0m-1-5h0m0-1h0m-1 9h0m0-5h0m-1-9h0m-1 12h0m-1 6h0m-1-17h0m-3 0h0m-1 19h0m0-21h0m-1 7h0m-1 1h0m0-6h0m0 9h0m0-5h0m-2 10h0m0 4h0m0-5h0m-2-11h0m0 17h0m-1-9h0m-1-4h0m-1-3h0m-1 13h0m0-4h0m-1-8h0m0 8h0m-1-11h0m0 4h0m-3 0h0m-1-9h0m0 22h0m-1-9h0m0-4h0m-1-7h0m0 18h0m0-6h0m0 9h0m0-23h0m-3 17h0m-1 5h0m-1-16h0m-1 14h0m0-12h0m-1-8h0m0 17h0m0-10h0m-2-5h0m-1 0h0m0-1h0m0 17h0m-1-6h0m-1 10h0m0-14h0m0 4h0m-1-9h0m0-1h0m0 17h0m-1-5h0m-1-5h0m-1 11h0m-1-12h0m-1 4h0m0-5h0m0-1h0m-1-6h0m-1 15h0m0-12h0m-1 0h0m0 7h0m-1 10h0m-1-19h0m-1 19h0m0-6h0m-1-13h0m-2 12h0m-1 8h0m-1-4h0m0-12h0m-2 3h0m-1 14h0m0-3h0m-1 3h0m0-19h0m0 18h0m-1-8h0m0-10h0m0 7h0m-2-4h0m-2-3h0m-1-3h0m-2 19h0m0-6h0m-1 3h0m-1 1h0m0-1h0m-1-5h0m0 2h0m-1 10h0m0-20h0m0 8h0m0 3h0m-1-14h0m-2 21h0m0-1h0m-1-15h0m-1 10h0m0 4h0m-1-1h0m0-10h0m0 6h0m-1-10h0m0 18h0m0-19h0m-2-1h0m-1 15h0m0-10h0m-1 7h0m-3 9h0m-4-4h0m-1-15h0m-1 5h0m-1 2h0m-7-10h0m-1 20h0m0-2h0m-6-2h0m0 4h0m-2-17h0m-3 16h0m-3-6h0m-3-4h0m-1 1h0m-5-4h0m-2 11h0m-8-3h0m-1 1h0m-2 0h0m-23 3h0m-10-5h0m-11 33h0m4-7h0m11-12h0m4 17h0m8 1h0m13-6h0m0 5h0m2 2h0m1-21h0m2 17h0m8-8h0m1 9h0m3-18h0m3 18h0m3-3h0m1 0h0m4 5h0m4-12h0m0-6h0m4 5h0m2 14h0m1-19h0m0 7h0m0-10h0m1 4h0m0 4h0m0 13h0m3-18h0m0 13h0m2-1h0m1 3h0m0-14h0m1-3h0m2 19h0m0-4h0m2 2h0m0-1h0m0-6h0m1 11h0m1-9h0m0 9h0m0-3h0m2-3h0m0-1h0m0-10h0m1 14h0m1-6h0m1 1h0m0-1h0m4-14h0m1 7h0m4 15h0m0-10h0m1-8h0m2 2h0m0 2h0m0 4h0m0-10h0m1 8h0m0 9h0m1-13h0m1 12h0m0-16h0m2 16h0m1-15h0m0 18h0m1-16h0m2 11h0m1 5h0m1-7h0m0-10h0m0 17h0m0-19h0m2 21h0m1 0h0m0-5h0m0-11h0m1-6h0m1 11h0m1-7h0m0 9h0m0 8h0m2-18h0m2 14h0m1-4h0m0 3h0m1-13h0m1 13h0m0-15h0m0 8h0m4 9h0m1-11h0m0 15h0m5-10h0m2 5h0m1-13h0m3 7h0m0-11h0m1 22h0m0-14h0m1 0h0m1-9h0m3 15h0m1-7h0m1 14h0m1 1h0m0-6h0m1-12h0m0-1h0m1 8h0m1-4h0m1 15h0m1-11h0m3-1h0m1 12h0m1-1h0m1 0h0m0-1h0m9-14h0m1 15h0m2-4h0m3-1h0m1-5h0m2 9h0m0-10h0m1-5h0m2 2h0m0 8h0m5 1h0m3 5h0m2-6h0m0 7h0m22-5h0m12-8h0m-25 14h0m-21 3h0m-6 0h0m-8 0h0m-3-1h0m0-1h0m-2-1h0m-1 1h0m-2 2h0m-9-1h0m-4-1h0m-1 2h0m-4 0h0m-2-2h0m-2-1h0m-2 0h0m-1 3h0m-9 0h0m0-3h0m-3 2h0m-3 3h0m-8-2h0m-3-2h0m-1-1h0m-4 1h0m0 1h0m-1 0h0m-1 1h0m-5 3h0m-3 0h0m-9 0h0m-2-4h0m0-2h0m-1 2h0m-3-1h0m-7 1h0m0-1h0m-7 0h0m-7-1h0m-10 3h0m-15 3h0m-12-4h0m-9-1h0m-2 0h0m-3 5h0" stroke="#1a1a1a" stroke-width="3" stroke-linecap="round"/>
<rect x="610.2" y="271.5" width="65.1" height="61.1" fill="#fff" stroke="#888" stroke-width="0.6"/>
<line x1="608.4" y1="274.5" x2="610.2" y2="274.5" stroke="#555" stroke-width="0.4"/>
<text x="607" y="275.4" font-family='"Liberation Sans", sans-serif' font-size="2.6" text-anchor="end" fill="#444">4</text>
<line x1="608.4" y1="288.6" x2="610.2" y2="288.6" stroke="#555" stroke-width="0.4"/>
<text x="607" y="289.5" font-family='"Liberation Sans", sans-serif' font-size="2.6" text-anchor="end" fill="#444">3</text>
<line x1="608.4" y1="302.8" x2="610.2" y2="302.8" stroke="#555" stroke-width="0.4"/>
<text x="607" y="303.7" font-family='"Liberation Sans", sans-serif' font-size="2.6" text-anchor="end" fill="#444">2</text>
<line x1="608.4" y1="317" x2="610.2" y2="317" stroke="#555" stroke-width="0.4"/>
<text x="607" y="317.9" font-family='"Liberation Sans", sans-serif' font-size="2.6" text-anchor="end" fill="#444">1</text>
<line x1="608.4" y1="331.1" x2="610.2" y2="331.1" stroke="#555" stroke-width="0.4"/>
<text x="607" y="332" font-family='"Liberation Sans", sans-serif' font-size="2.6" text-anchor="end" fill="#444">0</text>
<line x1="611.2" y1="332.6" x2="611.2" y2="334.4" stroke="#555" stroke-width="0.4"/>
<text x="611.2" y="338.4" font-family='"Liberation Sans", sans-serif' font-size="2.6" text-anchor="middle" fill="#444">1</text>
<line x1="629.9" y1="332.6" x2="629.9" y2="334.4" stroke="#555" stroke-width="0.4"/>
<text x="629.9" y="338.4" font-family='"Liberation Sans", sans-serif' font-size="2.6" text-anchor="middle" fill="#444">2</text>
<line x1="648.5" y1="332.6" x2="648.5" y2="334.4" stroke="#555" stroke-width="0.4"/>
<text x="648.5" y="338.4" font-family='"Liberation Sans", sans-serif' font-size="2.6" text-anchor="middle" fill="#444">3</text>
<line x1="667.2" y1="332.6" x2="667.2" y2="334.4" stroke="#555" stroke-width="0.4"/>
<text x="667.2" y="338.4" font-family='"Liberation Sans", sans-serif' font-size="2.6" text-anchor="middle" fill="#444">4</text>
<text x="642.8" y="343.9" font-family='"Liberation Sans", sans-serif' font-size="3.6" text-anchor="middle" fill="#333">log2(CBX5 TPM)</text>
<text x="600.7" y="302.1" font-family='"Liberation Sans", sans-serif' font-size="3.6" text-anchor="middle" fill="#333" transform="rotate(-90 600.7 302.1)">log2(SLC7A11 TPM)</text>
<text x="613.7" y="276.3" font-family='"Liberation Sans", sans-serif' font-size="3.4" fill="#111">p-value = 1e-65</text>
<text x="613.7" y="280.4" font-family='"Liberation Sans", sans-serif' font-size="3.4" fill="#111">R = 0.52</text>
<path transform="scale(.25)" d="M2496 1127h0m144 14h0m-66 7h0m16 20h0m25 0h0m14 5h0m30 22h0m-19-11h0m-6 13h0m-7-13h0m-2 10h0m-4 4h0m-1-3h0m-2-6h0m-3-13h0m-1 22h0m-20-10h0m-2 2h0m0-2h0m-4 5h0m-1-13h0m-7 9h0m-5 6h0m-9 2h0m-3-17h0m-2-2h0m-8 18h0m-33 9h0m3 14h0m7-5h0m1-10h0m9 8h0m5-6h0m4 7h0m4 10h0m2-18h0m2-1h0m0 18h0m1-5h0m2 6h0m2-12h0m3 11h0m1-7h0m1-10h0m1 13h0m4-15h0m0 7h0m1 11h0m3 0h0m1-19h0m1-1h0m1 0h0m1 15h0m2-1h0m1 3h0m0 4h0m1-3h0m2-15h0m0 8h0m2 2h0m0-4h0m2-3h0m1 1h0m2 14h0m0-1h0m2 0h0m0-6h0m2-6h0m1-6h0m0 16h0m0-15h0m3 18h0m0-5h0m0 2h0m1 4h0m1-18h0m0 9h0m0-11h0m1 2h0m1 15h0m0-10h0m3 5h0m1 5h0m1-14h0m1-3h0m1 14h0m0-10h0m1 3h0m0 13h0m0-20h0m1 3h0m2 11h0m0-5h0m2 5h0m2 1h0m0-17h0m1 7h0m0-5h0m0 8h0m2-7h0m2 2h0m1 6h0m2 9h0m11-11h0m14-9h0m7 17h0m1 0h0m-22 12h0m-3 12h0m-1-15h0m-3 6h0m-8 2h0m-3-4h0m0 2h0m-1 14h0m0-15h0m-2 9h0m-1 1h0m0 3h0m-1-7h0m0-6h0m-4 15h0m-2-17h0m0-6h0m-1 6h0m0 9h0m0-15h0m-1 20h0m0 3h0m-1-20h0m0-1h0m-2 19h0m-2-2h0m0-10h0m-1 0h0m0 2h0m-1-8h0m0 11h0m-1-1h0m0-10h0m-4 1h0m0 13h0m0-2h0m0-5h0m-1 6h0m0-10h0m-1 10h0m0-11h0m-2 5h0m-1-10h0m0 9h0m-1 9h0m-1-16h0m-1 16h0m0-1h0m0-14h0m0 8h0m-1-10h0m0 18h0m0-10h0m-1 4h0m0-10h0m0-2h0m-1 3h0m0 13h0m0-1h0m0-15h0m0 8h0m-2 12h0m0-14h0m-2 4h0m0-10h0m0 13h0m0-10h0m-1-3h0m0 8h0m-1-7h0m0-2h0m0 8h0m-1 0h0m0 8h0m-1 7h0m0-6h0m0 3h0m0-10h0m-1 7h0m-1 1h0m-1-11h0m-1 14h0m-1-20h0m-1 2h0m0 17h0m0-16h0m0 9h0m-1 9h0m-1-12h0m0 4h0m-1 2h0m0-5h0m0 3h0m0 3h0m-1 3h0m-1 2h0m0-1h0m0-12h0m-2 1h0m-1 1h0m-1 5h0m0 4h0m-1 1h0m-1-5h0m0-10h0m0 11h0m-2 5h0m0-6h0m0 4h0m-2-20h0m0 18h0m0 2h0m-1 0h0m-4-6h0m0 4h0m-1-7h0m-1 5h0m0-1h0m0 4h0m0 2h0m-3 2h0m-2-14h0m-1 8h0m-7-8h0m-4 13h0m-2-9h0m-11-10h0m-3 13h0m-3-6h0m0-2h0m0-5h0m-5 11h0m-2-10h0m-7 16h0m-40-4h0m31 19h0m2 4h0m7 1h0m1-10h0m0 12h0m1 4h0m2-9h0m2 7h0m1-14h0m1 3h0m1-3h0m4 16h0m6-16h0m0-6h0m2 8h0m0-3h0m1-5h0m1 22h0m3 1h0m0-20h0m2 16h0m0 3h0m2-4h0m0-6h0m1-5h0m1 6h0m0 3h0m2 5h0m2 0h0m1-12h0m0 14h0m1-1h0m0-1h0m0-20h0m1 15h0m2 3h0m1-3h0m0-15h0m0 9h0m0-5h0m0 18h0m1-12h0m0 4h0m1 4h0m0-10h0m0 13h0m1-10h0m1 8h0m0-15h0m0 4h0m1-1h0m0 13h0m1-2h0m0-10h0m1 9h0m0-3h0m1-14h0m0 21h0m0-5h0m1 3h0m1-11h0m0 9h0m0 4h0m0-20h0m0 18h0m1-20h0m1 4h0m0 2h0m0 13h0m0-19h0m0 9h0m1 2h0m1-4h0m0 1h0m0 9h0m0-5h0m0 9h0m1-4h0m0-7h0m1 5h0m0 4h0m0-1h0m1-15h0m0 20h0m1-20h0m0 12h0m0 4h0m1-18h0m0 9h0m0 7h0m1-4h0m0 4h0m0-5h0m0-1h0m1 1h0m1-1h0m0 3h0m0 9h0m0-11h0m1 5h0m0 4h0m1-15h0m0-5h0m0 9h0m0-5h0m0-5h0m0 2h0m1 1h0m0 13h0m1-10h0m1 14h0m0-14h0m0 17h0m1-1h0m0-21h0m1 11h0m0 7h0m1 0h0m0-16h0m1 6h0m2 10h0m0 3h0m0-1h0m1-16h0m0 4h0m1 11h0m0-12h0m0 4h0m1 0h0m1-2h0m2-9h0m1 13h0m0-5h0m0-1h0m1-2h0m0-2h0m1 15h0m1-8h0m0-5h0m1-2h0m1 2h0m0 4h0m0-5h0m0 13h0m0-14h0m1-2h0m0 9h0m1 7h0m0 4h0m0-2h0m1-19h0m0 9h0m1 13h0m1-8h0m0-5h0m1-4h0m0 12h0m1-17h0m2 22h0m1 0h0m0-10h0m1 8h0m2-14h0m0-1h0m0 14h0m1-6h0m1-4h0m0 4h0m1 9h0m3-15h0m0-1h0m3 9h0m0-15h0m1-1h0m2 3h0m5-3h0m1 20h0m0-19h0m0 17h0m3-3h0m1-13h0m0 13h0m0 8h0m11-9h0m1-6h0m3 2h0m0 1h0m2-7h0m-14 32h0m-17-12h0m-4 12h0m-1-8h0m-6-1h0m-5-3h0m-1 3h0m-1 1h0m-2 8h0m0-11h0m-1-1h0m0 18h0m-1 1h0m0-16h0m-2 1h0m-1 11h0m0-6h0m-5-6h0m0 17h0m0-16h0m-1 6h0m-3 13h0m-1-3h0m0 3h0m0-14h0m-1 5h0m0 8h0m-1-10h0m-1-9h0m0 9h0m-1-8h0m0-1h0m0 8h0m-2 12h0m0-10h0m-1 5h0m0 4h0m0-19h0m-1 4h0m0 3h0m0-1h0m-1 9h0m0-5h0m0 3h0m-1 0h0m0-14h0m0 8h0m0-1h0m-1 3h0m-1-7h0m0 7h0m-1-11h0m0 8h0m-1-2h0m0 7h0m0-14h0m-1 18h0m0-6h0m0-1h0m-1-5h0m0-5h0m-1 14h0m0-13h0m-1 2h0m0 9h0m0-10h0m0 18h0m-1-18h0m0 3h0m-1-1h0m0 13h0m0-7h0m-1 1h0m0-12h0m-1 3h0m0 9h0m0-3h0m0-1h0m-1 11h0m0-19h0m0 22h0m0-5h0m-1-15h0m0 4h0m0 8h0m-1-3h0m0-7h0m-1 6h0m-1-3h0m0 11h0m-2-18h0m0 15h0m-1-8h0m-1-1h0m0-5h0m0 4h0m0 2h0m-1 1h0m0-1h0m0 3h0m-1-8h0m0 18h0m0-19h0m-1 10h0m0-8h0m0 18h0m-1-18h0m0 3h0m-1-6h0m0 4h0m-1 6h0m0 9h0m0-7h0m-1-4h0m-1 11h0m0-19h0m0 17h0m0-1h0m-2-11h0m-1 15h0m0-11h0m0-5h0m-1 2h0m0-1h0m-1 15h0m0-12h0m-1-3h0m-1 18h0m-1-8h0m0-15h0m-1 23h0m0-13h0m-1 12h0m0-22h0m-1 0h0m-2 14h0m-1 7h0m-1-8h0m0-6h0m-1 8h0m-2-11h0m0 17h0m0-20h0m0 9h0m0 4h0m-1 5h0m0-14h0m-1 13h0m0-5h0m-1 10h0m0-19h0m-2 15h0m-1-19h0m-5 22h0m-1-5h0m-1 6h0m0-18h0m-5 10h0m-1-8h0m-8 12h0m-12-14h0m-16 13h0m-2 24h0m1-12h0m1 9h0m1-5h0m1 0h0m3 13h0m0-11h0m3 10h0m5-1h0m2-4h0m0-1h0m1 4h0m5-4h0m1-6h0m3 3h0m1-2h0m1 0h0m0-8h0m2 3h0m2 5h0m0 9h0m2-4h0m0 1h0m1 4h0m1 0h0m1-6h0m0 3h0m1 1h0m2-4h0m0-11h0m1 18h0m1-7h0m0 3h0m0-2h0m1 0h0m0 7h0m1-9h0m0 3h0m1-2h0m0 3h0m5 4h0m1-3h0m3-8h0m0 8h0m1-1h0m2-6h0m2 1h0m1 7h0m0-19h0m1 14h0m0-4h0m2-2h0m0 9h0m1-18h0m0 4h0m1 4h0m0-1h0m0 4h0m1 4h0m1 7h0m0-6h0m0-1h0m0 3h0m1-7h0m0 8h0m1 0h0m0-1h0m0-14h0m0 18h0m0-14h0m1 0h0m0 2h0m1 5h0m2 5h0m0-11h0m3 11h0m1-3h0m1-9h0m0-5h0m0 2h0m1 4h0m0 2h0m1-11h0m1 0h0m0 18h0m0-10h0m1-3h0m0 16h0m1-11h0m0 7h0m2 2h0m0-5h0m0-5h0m0 12h0m0-19h0m1 15h0m1-17h0m1 10h0m1 12h0m0-1h0m0-21h0m0 4h0m1 11h0m1-15h0m0 4h0m0 9h0m1-2h0m0-1h0m0-10h0m0 18h0m1 1h0m0-2h0m0-6h0m1 1h0m0 4h0m0 2h0m1-5h0m0 4h0m1 3h0m0-20h0m0 9h0m1 0h0m0-5h0m2 14h0m0 3h0m1-18h0m0 17h0m0-10h0m0-1h0m2 7h0m0-5h0m0 1h0m1-4h0m0 12h0m3-18h0m0 12h0m1-5h0m2-9h0m2 3h0m0 13h0m0-1h0m2 2h0m1-4h0m2-12h0m2 0h0m1 19h0m3-16h0m2 3h0m27 8h0m6-4h0m1-9h0m-153 22h0" stroke="#1a1a1a" stroke-width="3" stroke-linecap="round"/>
<rect x="521.3" y="357.2" width="65.4" height="61.6" fill="#fff" stroke="#888" stroke-width="0.6"/>
<line x1="519.5" y1="360.2" x2="521.3" y2="360.2" stroke="#555" stroke-width="0.4"/>
<text x="518.1" y="361.1" font-family='"Liberation Sans", sans-serif' font-size="2.6" text-anchor="end" fill="#444">4</text>
<line x1="519.5" y1="374.5" x2="521.3" y2="374.5" stroke="#555" stroke-width="0.4"/>
<text x="518.1" y="375.4" font-family='"Liberation Sans", sans-serif' font-size="2.6" text-anchor="end" fill="#444">3</text>
<line x1="519.5" y1="388.8" x2="521.3" y2="388.8" stroke="#555" stroke-width="0.4"/>
<text x="518.1" y="389.6" font-family='"Liberation Sans", sans-serif' font-size="2.6" text-anchor="end" fill="#444">2</text>
<line x1="519.5" y1="403" x2="521.3" y2="403" stroke="#555" stroke-width="0.4"/>
<text x="518.1" y="403.9" font-family='"Liberation Sans", sans-serif' font-size="2.6" text-anchor="end" fill="#444">1</text>
<line x1="519.5" y1="417.3" x2="521.3" y2="417.3" stroke="#555" stroke-width="0.4"/>
<text x="518.1" y="418.2" font-family='"Liberation Sans", sans-serif' font-size="2.6" text-anchor="end" fill="#444">0</text>
<line x1="522.3" y1="418.8" x2="522.3" y2="420.6" stroke="#555" stroke-width="0.4"/>
<text x="522.3" y="424.6" font-family='"Liberation Sans", sans-serif' font-size="2.6" text-anchor="middle" fill="#444">0</text>
<line x1="530.3" y1="418.8" x2="530.3" y2="420.6" stroke="#555" stroke-width="0.4"/>
<text x="530.3" y="424.6" font-family='"Liberation Sans", sans-serif' font-size="2.6" text-anchor="middle" fill="#444">1</text>
<line x1="538.3" y1="418.8" x2="538.3" y2="420.6" stroke="#555" stroke-width="0.4"/>
<text x="538.3" y="424.6" font-family='"Liberation Sans", sans-serif' font-size="2.6" text-anchor="middle" fill="#444">2</text>
<line x1="546.3" y1="418.8" x2="546.3" y2="420.6" stroke="#555" stroke-width="0.4"/>
<text x="546.3" y="424.6" font-family='"Liberation Sans", sans-serif' font-size="2.6" text-anchor="middle" fill="#444">3</text>
<line x1="554.3" y1="418.8" x2="554.3" y2="420.6" stroke="#555" stroke-width="0.4"/>
<text x="554.3" y="424.6" font-family='"Liberation Sans", sans-serif' font-size="2.6" text-anchor="middle" fill="#444">4</text>
<line x1="562.3" y1="418.8" x2="562.3" y2="420.6" stroke="#555" stroke-width="0.4"/>
<text x="562.3" y="424.6" font-family='"Liberation Sans", sans-serif' font-size="2.6" text-anchor="middle" fill="#444">5</text>
<line x1="570.3" y1="418.8" x2="570.3" y2="420.6" stroke="#555" stroke-width="0.4"/>
<text x="570.3" y="424.6" font-family='"Liberation Sans", sans-serif' font-size="2.6" text-anchor="middle" fill="#444">6</text>
<line x1="578.3" y1="418.8" x2="578.3" y2="420.6" stroke="#555" stroke-width="0.4"/>
<text x="578.3" y="424.6" font-family='"Liberation Sans", sans-serif' font-size="2.6" text-anchor="middle" fill="#444">7</text>
<text x="554" y="430.1" font-family='"Liberation Sans", sans-serif' font-size="3.6" text-anchor="middle" fill="#333">log2(GRHL2 TPM)</text>
<text x="511.8" y="388" font-family='"Liberation Sans", sans-serif' font-size="3.6" text-anchor="middle" fill="#333" transform="rotate(-90 511.8 388)">log2(SLC7A11 TPM)</text>
<text x="524.8" y="362" font-family='"Liberation Sans", sans-serif' font-size="3.4" fill="#111">p-value = 1.2e-51</text>
<text x="524.8" y="366.1" font-family='"Liberation Sans", sans-serif' font-size="3.4" fill="#111">R = 0.55</text>
<path transform="scale(.25)" d="M2237 1477h0m-62 33h0m75-12h0m36 4h0m50 30h0m-1 2h0m-10-5h0m-1-6h0m-3-4h0m-4 10h0m-2 5h0m-1 1h0m-2-1h0m-1-5h0m-1-2h0m-2-8h0m-3 12h0m-5-13h0m0 12h0m-17-8h0m-3 8h0m-11 4h0m-42-16h0m-49 8h0m-38-5h0m-30 24h0m165 8h0m0 3h0m8-15h0m2 17h0m2-2h0m0-5h0m0-11h0m1 12h0m5 4h0m0 3h0m1-4h0m1 4h0m2-6h0m0-1h0m3 0h0m1 2h0m0 4h0m2-19h0m1 20h0m1-23h0m0 15h0m2-3h0m0 2h0m3 2h0m1-2h0m0 6h0m1-8h0m1 3h0m2-15h0m0 22h0m2-18h0m3 12h0m0-5h0m0-8h0m1 4h0m1 8h0m1-13h0m0 9h0m0-5h0m1 17h0m2-22h0m0 22h0m2-16h0m1 15h0m1-8h0m5-1h0m1-3h0m3-6h0m2 27h0m-2-6h0m-5 10h0m-2 6h0m-2-17h0m-1 16h0m-5-8h0m-1 7h0m0-15h0m-1 14h0m0-5h0m0 12h0m-1-6h0m0-1h0m-1 4h0m-1-14h0m0 2h0m0-1h0m-1 18h0m-1-13h0m-1 10h0m0-1h0m-1-2h0m-1-16h0m0 6h0m-1 11h0m0-14h0m0 6h0m-3 2h0m0 7h0m-1-18h0m0 21h0m0-19h0m-2-2h0m-1 4h0m-1 10h0m-1 3h0m0 4h0m-1-18h0m0 13h0m-2 4h0m0-19h0m0 1h0m0 9h0m-1-7h0m-1-5h0m-1 13h0m0-1h0m0-5h0m-1-3h0m0 18h0m-1-20h0m0 8h0m0 2h0m-1 0h0m0 9h0m-1-8h0m0 3h0m-1-9h0m0 11h0m0-6h0m-1-11h0m-1-1h0m0 23h0m-1-7h0m0 4h0m0-14h0m0-2h0m-1 3h0m0-5h0m0-2h0m-1 19h0m0-16h0m-1 9h0m0 8h0m-1 2h0m0-1h0m-3-9h0m0 7h0m-1 2h0m-1-4h0m-2 4h0m0-1h0m0-15h0m0 8h0m-1 4h0m-2-11h0m-1-2h0m-1-3h0m0-1h0m0 13h0m-1 9h0m0-3h0m-2-11h0m-1 0h0m0 13h0m0-11h0m-1 12h0m-1-1h0m-1 1h0m-2-4h0m-1 5h0m-3-16h0m-2 11h0m0-7h0m-3 9h0m-6 0h0m-3-2h0m-6-3h0m-71-5h0m36 17h0m33 18h0m8-9h0m1 4h0m5 4h0m1-8h0m0-5h0m1 9h0m0 2h0m3-2h0m0-1h0m1 5h0m2 2h0m1 0h0m1-6h0m0 4h0m0-15h0m1 7h0m0 6h0m1-8h0m1-8h0m0 12h0m0-11h0m1 6h0m0 13h0m1 1h0m0-20h0m0 13h0m0-6h0m1 12h0m0-5h0m1-9h0m0 8h0m1-14h0m0-2h0m0 23h0m2-19h0m0 2h0m0 4h0m1-9h0m0 4h0m0 17h0m0-15h0m1-4h0m0 9h0m0-10h0m0 7h0m1 2h0m0-5h0m1-2h0m0 9h0m0 4h0m1 6h0m0-12h0m0 9h0m1-16h0m1 6h0m1-2h0m1 12h0m0-10h0m0 4h0m0 9h0m0-19h0m0 18h0m1-21h0m0 17h0m0-1h0m1 5h0m0-10h0m0-1h0m1 4h0m0-2h0m0 9h0m0-10h0m1 1h0m1 9h0m0-14h0m0-2h0m1 3h0m0-5h0m0 3h0m1-3h0m1 13h0m0-15h0m0 14h0m1-11h0m0 18h0m0-10h0m1-4h0m0 11h0m2-10h0m0-5h0m0 18h0m0-10h0m1 10h0m0-15h0m1 2h0m0-3h0m0-5h0m1 7h0m0 13h0m0-2h0m1-11h0m0 3h0m0 4h0m1 0h0m0 4h0m1-12h0m0-2h0m0 4h0m1 1h0m0 9h0m0-14h0m0-5h0m0 18h0m0 4h0m0-19h0m0-1h0m1 2h0m0-2h0m1 14h0m0-5h0m0-1h0m1-7h0m0 13h0m1-4h0m0 2h0m0-14h0m0 22h0m1-6h0m0-14h0m0 3h0m0 9h0m0-5h0m1-2h0m1 0h0m0 3h0m0-5h0m0 13h0m1-4h0m0-14h0m0 3h0m0-2h0m1 1h0m0 15h0m1-17h0m0 4h0m0 9h0m1-8h0m0-3h0m0 9h0m1-9h0m0 1h0m0 9h0m1 5h0m1-4h0m0-5h0m0 4h0m1-1h0m1-7h0m3-5h0m1 1h0m2 5h0m2 12h0m0-6h0m1-8h0m3-3h0m1 2h0m2 2h0m2 8h0m0-5h0m4 33h0m-11-6h0m-2-5h0m-3-1h0m-8-1h0m0 1h0m-1-2h0m-2 12h0m0-10h0m0-5h0m-1 5h0m-1 6h0m-2-1h0m0 9h0m-2-12h0m0-3h0m-1 2h0m-1 5h0m0-10h0m0 9h0m-1-6h0m-1 18h0m-1-14h0m0-3h0m-1-4h0m0-1h0m0 9h0m0 4h0m0 9h0m-1-18h0m0 15h0m-1-2h0m0-10h0m0-7h0m0 9h0m-1 1h0m0-10h0m-1 19h0m0-10h0m-1 0h0m0-1h0m-1 1h0m0-5h0m-1 0h0m-1 11h0m0-14h0m0 9h0m0 2h0m0 9h0m0-5h0m-1-9h0m0-5h0m0 17h0m-1-7h0m0-7h0m-1-5h0m0 8h0m0-5h0m-1 10h0m0-1h0m0-6h0m0 4h0m-1-7h0m0 13h0m0-15h0m0 17h0m-1-16h0m-1 19h0m0-10h0m0 8h0m0-14h0m0 18h0m-1-13h0m0-8h0m-1 21h0m0-23h0m0 4h0m0 7h0m0 4h0m-1-9h0m0 17h0m0-14h0m-1 12h0m0-15h0m0 11h0m-1-4h0m0 8h0m0-5h0m0-5h0m-1-8h0m0 3h0m0 13h0m-1-18h0m0 22h0m-1-12h0m0 3h0m-1-12h0m0 8h0m0 7h0m-1 1h0m0-2h0m-1 1h0m0-15h0m0 8h0m-1-1h0m0 3h0m0-10h0m-1 12h0m0 4h0m0-2h0m0 3h0m-1-6h0m0-1h0m0 9h0m0-19h0m0 8h0m0 13h0m0-14h0m-1 6h0m0-1h0m0-5h0m0 4h0m-1-9h0m-1 4h0m0 4h0m0-7h0m-1 9h0m0-1h0m0-10h0m-1 18h0m0-14h0m0 4h0m0-5h0m-2 8h0m0-14h0m-1 8h0m0 12h0m-1-10h0m0-6h0m-1 17h0m0-1h0m0-5h0m-1 6h0m-1-16h0m0 7h0m0-10h0m-2 21h0m-1-16h0m0 9h0m-1-10h0m-1 5h0m0-9h0m-1 19h0m-1-8h0m0-11h0m0 18h0m-2-17h0m0 7h0m-1 5h0m0-5h0m0-5h0m-1 18h0m0-10h0m0 4h0m-1-8h0m0 5h0m-1 2h0m0 2h0m0-11h0m-2 11h0m-1 5h0m-3-3h0m0-7h0m-1 4h0m-10-8h0m-32 13h0m-80 24h0m23-17h0m65 15h0m11-1h0m5 0h0m6 4h0m6-5h0m3-2h0m1 7h0m1-21h0m3 15h0m1-4h0m1 8h0m0-12h0m2 13h0m1-11h0m0-2h0m4-4h0m0-5h0m1 10h0m1 1h0m1-6h0m0 4h0m1-3h0m0-5h0m0 3h0m0 8h0m1-9h0m0 3h0m1-3h0m0 3h0m1 4h0m0 9h0m0-17h0m1 1h0m0 13h0m0-1h0m1-5h0m0-5h0m0 13h0m1-18h0m0 23h0m1-16h0m0-5h0m0 4h0m0 8h0m1-13h0m0 7h0m1 5h0m1-13h0m1 10h0m0-1h0m0 13h0m1-5h0m0-10h0m1 6h0m1 1h0m0-14h0m0 4h0m0 13h0m1-9h0m0 2h0m0 9h0m0-14h0m1 3h0m1 4h0m0-10h0m2 18h0m0-5h0m0-12h0m1 2h0m0 18h0m0-19h0m1-4h0m0 9h0m0-7h0m1 13h0m0-15h0m1 21h0m0-19h0m0 18h0m0-20h0m1 15h0m1-13h0m1 19h0m0-16h0m0-5h0m1 18h0m0-11h0m1 5h0m0 3h0m0-15h0m1 12h0m1 7h0m0 4h0m0-21h0m1 11h0m0-3h0m1 4h0m0 9h0m1-13h0m0-10h0m1 21h0m0 2h0m1-21h0m1 10h0m0-5h0m0 3h0m0-10h0m1 12h0m1-8h0m0 7h0m1 2h0m0-12h0m1 13h0m0 1h0m1 5h0m1-4h0m1-13h0m1-1h0m0-1h0m1 1h0m2 9h0m2 5h0m4-15h0m1 17h0m1-18h0m8 9h0m2-7h0m4 14h0m1-7h0m-9 15h0m-13 6h0m-6 0h0m-1-2h0m-1-1h0m0 1h0m-1 2h0m-11-6h0m0 7h0m-2-3h0m-1-1h0m-1-1h0m0-1h0m-1 2h0m0 2h0m-2-1h0m-1-4h0m-2 5h0m-1 0h0m-1-3h0m-1 4h0m-2-2h0m0-2h0m0 4h0m-1-4h0m-1-1h0m0 1h0m-2-1h0m-1 3h0m0-1h0m-2 0h0m-2 4h0m0-5h0m0 4h0m0-5h0m0-1h0m-1 4h0m-1 2h0m0-5h0m-3 2h0m0-1h0m0 4h0m0-5h0m-1 3h0m-1-1h0m0 3h0m-1-5h0m0 3h0m-1 0h0m-1-4h0m-1 1h0m-1 3h0m-1-4h0m-2 1h0m-4 2h0m0 2h0m-3 1h0m-1-6h0m-6 6h0m-19-6h0m-1 8h0m-3-8h0m-24 6h0m-3 0h0m-3-3h0m-6-3h0m-2 7h0m-63-5h0" stroke="#1a1a1a" stroke-width="3" stroke-linecap="round"/>
<rect x="611.5" y="352.7" width="64.4" height="62.7" fill="#fff" stroke="#888" stroke-width="0.6"/>
<line x1="609.7" y1="355.7" x2="611.5" y2="355.7" stroke="#555" stroke-width="0.4"/>
<text x="608.3" y="356.6" font-family='"Liberation Sans", sans-serif' font-size="2.6" text-anchor="end" fill="#444">4</text>
<line x1="609.7" y1="370.2" x2="611.5" y2="370.2" stroke="#555" stroke-width="0.4"/>
<text x="608.3" y="371.1" font-family='"Liberation Sans", sans-serif' font-size="2.6" text-anchor="end" fill="#444">3</text>
<line x1="609.7" y1="384.8" x2="611.5" y2="384.8" stroke="#555" stroke-width="0.4"/>
<text x="608.3" y="385.7" font-family='"Liberation Sans", sans-serif' font-size="2.6" text-anchor="end" fill="#444">2</text>
<line x1="609.7" y1="399.3" x2="611.5" y2="399.3" stroke="#555" stroke-width="0.4"/>
<text x="608.3" y="400.2" font-family='"Liberation Sans", sans-serif' font-size="2.6" text-anchor="end" fill="#444">1</text>
<line x1="609.7" y1="413.9" x2="611.5" y2="413.9" stroke="#555" stroke-width="0.4"/>
<text x="608.3" y="414.8" font-family='"Liberation Sans", sans-serif' font-size="2.6" text-anchor="end" fill="#444">0</text>
<line x1="612.5" y1="415.4" x2="612.5" y2="417.2" stroke="#555" stroke-width="0.4"/>
<text x="612.5" y="421.2" font-family='"Liberation Sans", sans-serif' font-size="2.6" text-anchor="middle" fill="#444">0</text>
<line x1="626.5" y1="415.4" x2="626.5" y2="417.2" stroke="#555" stroke-width="0.4"/>
<text x="626.5" y="421.2" font-family='"Liberation Sans", sans-serif' font-size="2.6" text-anchor="middle" fill="#444">2</text>
<line x1="640.5" y1="415.4" x2="640.5" y2="417.2" stroke="#555" stroke-width="0.4"/>
<text x="640.5" y="421.2" font-family='"Liberation Sans", sans-serif' font-size="2.6" text-anchor="middle" fill="#444">4</text>
<line x1="654.5" y1="415.4" x2="654.5" y2="417.2" stroke="#555" stroke-width="0.4"/>
<text x="654.5" y="421.2" font-family='"Liberation Sans", sans-serif' font-size="2.6" text-anchor="middle" fill="#444">6</text>
<line x1="668.5" y1="415.4" x2="668.5" y2="417.2" stroke="#555" stroke-width="0.4"/>
<text x="668.5" y="421.2" font-family='"Liberation Sans", sans-serif' font-size="2.6" text-anchor="middle" fill="#444">8</text>
<text x="643.7" y="426.7" font-family='"Liberation Sans", sans-serif' font-size="3.6" text-anchor="middle" fill="#333">log2(ERG TPM)</text>
<text x="602" y="384" font-family='"Liberation Sans", sans-serif' font-size="3.6" text-anchor="middle" fill="#333" transform="rotate(-90 602 384)">log2(SLC7A11 TPM)</text>
<text x="615" y="357.5" font-family='"Liberation Sans", sans-serif' font-size="3.4" fill="#111">p-value = 0.47</text>
<text x="615" y="361.6" font-family='"Liberation Sans", sans-serif' font-size="3.4" fill="#111">R = 0.026</text>
<path transform="scale(.25)" d="M2666 1450h0m-196 29h0m-3-6h0m20 27h0m11-4h0m3 4h0m17-2h0m16 12h0m46-15h0m23 10h0m1-3h0m2 3h0m1 2h0m81 21h0m-14 4h0m-27-19h0m-2 12h0m-2 8h0m-2-9h0m-2 3h0m-1-1h0m-3-9h0m0-3h0m-3 18h0m-1-10h0m0 4h0m-6-7h0m-1 16h0m-4-21h0m0 15h0m-6-2h0m-4-9h0m-2 14h0m-1-10h0m-17 7h0m-7 5h0m-14-18h0m-18 15h0m-21-13h0m-1 6h0m-2 0h0m-8 7h0m-11-8h0m-1-5h0m-2 17h0m-3-16h0m0-6h0m0 18h0m-4-5h0m-3-3h0m-4 3h0m-1 5h0m-2-14h0m0 3h0m-1 0h0m-2 15h0m-16-4h0m-17 15h0m16 6h0m2-9h0m2 16h0m2-23h0m1 13h0m1 10h0m2-7h0m0 1h0m1 4h0m2-20h0m1 2h0m0 20h0m2-1h0m0-2h0m1-1h0m1-7h0m3-3h0m0 8h0m1 0h0m0-7h0m1-6h0m1-4h0m1 5h0m0 10h0m1 2h0m1 0h0m1-13h0m1 12h0m0-11h0m2 18h0m0-15h0m1 3h0m0 7h0m2-4h0m0 2h0m3-8h0m0 9h0m2-11h0m1 9h0m0-6h0m1 13h0m0-21h0m1 10h0m2 6h0m1 2h0m0-15h0m2 6h0m1 4h0m0 2h0m1 4h0m1-12h0m1 2h0m0-2h0m0 9h0m4-10h0m3 14h0m3-11h0m0 8h0m42 4h0m1-12h0m2 5h0m2-2h0m7-11h0m2 17h0m2-19h0m12 5h0m1 10h0m2 6h0m3-15h0m1 6h0m2-9h0m1 8h0m0 3h0m2 5h0m1-3h0m0-12h0m2-2h0m0 8h0m2 13h0m2-4h0m2-8h0m1 3h0m1 5h0m0-19h0m0 22h0m1-22h0m0 4h0m0 13h0m1 5h0m0-15h0m2 11h0m2-2h0m0 2h0m2 0h0m2-6h0m0-7h0m2 3h0m2 5h0m0 4h0m1-15h0m3 0h0m1 19h0m0-10h0m1 7h0m1 0h0m1-12h0m1 10h0m3-9h0m1 3h0m2 6h0m1 2h0m3-3h0m1 8h0m1-8h0m1 8h0m3-17h0m2 12h0m1 2h0m3-6h0m8 17h0m-5 15h0m-1-15h0m-4 16h0m-1-5h0m-1 2h0m-2-16h0m-1 3h0m-1 16h0m-3-6h0m-1-16h0m0 15h0m-1-14h0m0 8h0m-1 3h0m0-1h0m-1-2h0m-1-3h0m-1 9h0m-1-10h0m-1 13h0m-2-16h0m-2 11h0m0 2h0m-1-3h0m-1-13h0m0 8h0m-1 5h0m0 2h0m-1-4h0m0 8h0m-1-15h0m-1 4h0m-1-7h0m0 16h0m-1-13h0m0 9h0m0 3h0m-1-1h0m-1 0h0m0 1h0m-1-10h0m-1 2h0m0 9h0m-1 4h0m0-1h0m0-6h0m-2-13h0m0 18h0m-1-6h0m-1 3h0m-1-2h0m-1-9h0m0 7h0m-1 9h0m-1 2h0m0-16h0m-1-4h0m-1 5h0m0-5h0m-2 1h0m0-1h0m-1 12h0m-3-2h0m-1 7h0m-3-17h0m0 18h0m0-7h0m0-14h0m-2 19h0m-1-12h0m-1 13h0m0-2h0m-1-5h0m0-5h0m0 9h0m-1 1h0m0 3h0m-1-15h0m0 10h0m-3-3h0m-1 1h0m0-12h0m-1 17h0m-1-4h0m-3 1h0m-1-6h0m-1-3h0m0 13h0m0-12h0m-1 15h0m0-13h0m-1-4h0m-2 12h0m-2-2h0m-3-9h0m-14 0h0m-4 13h0m-18 3h0m-6-1h0m-7-13h0m-1 7h0m-3 5h0m0-10h0m-5 8h0m-2 4h0m0-19h0m-3-4h0m0 7h0m0 13h0m0-19h0m-1 17h0m-1 1h0m-1-16h0m-1 7h0m-3 6h0m-1 6h0m0-16h0m0 4h0m-1 4h0m-1-7h0m-1 16h0m0-15h0m0-2h0m-1 14h0m0-6h0m0-1h0m-3-1h0m0 6h0m-1-5h0m0 8h0m-2-9h0m0-6h0m-1 8h0m0 4h0m0-11h0m0 9h0m-1 7h0m-1-21h0m0 7h0m0 8h0m-1 0h0m-1-11h0m0-1h0m-1-1h0m0 4h0m0 3h0m0 4h0m-1-3h0m0-1h0m0 8h0m-1-18h0m-1 7h0m-1 14h0m0-8h0m-1 8h0m-1-22h0m0 13h0m0 4h0m0-5h0m-2 5h0m0 4h0m-3-6h0m-1-12h0m0 18h0m-1-14h0m0 9h0m-2-13h0m-1 5h0m-1 2h0m0 3h0m-4 3h0m-2 4h0m0-15h0m0 9h0m0-5h0m-1 13h0m-1-2h0m0-10h0m-1 9h0m0-10h0m-1 1h0m0 3h0m0 9h0m-14 25h0m7-14h0m4 1h0m2-6h0m1 1h0m1 10h0m1-8h0m1 11h0m1-16h0m1 13h0m1-14h0m0 12h0m2-6h0m2 1h0m0 12h0m1-5h0m0-7h0m0 9h0m1-10h0m0-5h0m0 7h0m3-6h0m2 3h0m0-1h0m0-1h0m1 3h0m2 11h0m0-5h0m1-7h0m1-2h0m0 3h0m1 10h0m0-3h0m0-6h0m1-4h0m1 5h0m1-3h0m0 13h0m1-19h0m0 22h0m0-10h0m0-11h0m1 6h0m0-5h0m1 1h0m0-1h0m1 11h0m0 4h0m1 0h0m1-8h0m1-3h0m0 8h0m0-11h0m0 9h0m0 4h0m2 0h0m1-14h0m0 13h0m0-1h0m0-1h0m1-6h0m0 9h0m0-1h0m0-6h0m1 1h0m1-5h0m0 7h0m2 4h0m2 5h0m1-21h0m0 8h0m1 12h0m0-17h0m4-1h0m1 5h0m1 6h0m0-2h0m1-5h0m1 13h0m6 1h0m2 2h0m3-3h0m9-16h0m23 2h0m6 16h0m3-3h0m2-2h0m2-13h0m2 5h0m1 3h0m7-2h0m2 7h0m0-11h0m2 11h0m1-8h0m2 3h0m2 8h0m1-8h0m2-6h0m0 3h0m2-6h0m1 13h0m0 4h0m1-14h0m0-5h0m3 6h0m3 7h0m0-11h0m2 20h0m0-2h0m1-17h0m1 12h0m0-2h0m1 0h0m1-3h0m0 4h0m1-5h0m2 3h0m1-11h0m1 7h0m2 5h0m0 3h0m0-5h0m1 7h0m1-6h0m1-6h0m1 14h0m1-9h0m0-6h0m1 8h0m1 6h0m1-2h0m1-3h0m2-1h0m1-10h0m0 3h0m0-5h0m1 9h0m1-9h0m1 7h0m0-5h0m1 0h0m1 0h0m0 16h0m0-10h0m3 13h0m0-19h0m0-1h0m0 4h0m1 17h0m0-14h0m0 8h0m3-17h0m4 5h0m1 10h0m0 7h0m1-22h0m5 5h0m1-3h0m1 4h0m3 9h0m6 3h0m2-16h0m3 14h0m1-5h0m5-1h0m9 7h0m3 19h0m-12-6h0m-6 17h0m-15-11h0m-1-11h0m0 10h0m-5 11h0m-2-3h0m-2 3h0m-4-3h0m0-5h0m-6-5h0m-1 3h0m-3 2h0m-4-3h0m0-10h0m-4 5h0m-7 15h0m-1-11h0m-1-3h0m-3-2h0m-2 2h0m-1 1h0m-3 4h0m-1 2h0m-2-4h0m-1 9h0m-1-3h0m-6 6h0m-7-5h0m-2-12h0m-6 16h0m-7 1h0m-4-7h0m-28-14h0m-10-1h0m-4 21h0m-1-18h0m-4 15h0m-1-11h0m-2 3h0m0 3h0m-1-5h0m-1-3h0m-1-5h0m-1 18h0m0-16h0m-1 14h0m-2-4h0m-1-3h0m0-7h0m-5 11h0m0-5h0m0 12h0m0-20h0m-1 4h0m-1 19h0m0-8h0m-2 3h0m0-14h0m0-1h0m-2 18h0m0-12h0m-1-6h0m0 12h0m-1-11h0m0 11h0m0-10h0m-1-4h0m0 17h0m0 4h0m-1 0h0m0-10h0m0-1h0m0-5h0m-1-4h0m0 15h0m-1-8h0m0 13h0m-1 1h0m0-4h0m0-19h0m-1 10h0m-1-10h0m0 9h0m0-5h0m-1 5h0m-1 11h0m-1-12h0m0-6h0m0-1h0m-1 17h0m-1-3h0m0 3h0m0-15h0m-1 5h0m0 8h0m-2 4h0m0-14h0m0 8h0m-1 0h0m0-8h0m0 9h0m-3 6h0m0-11h0m-1-1h0m0 13h0m0-14h0m-1-8h0m-4 14h0m-1 3h0m-7-7h0m-3 11h0m-2-20h0m-1 0h0m-1 17h0m-2 13h0m3 9h0m2-4h0m1-2h0m0-1h0m0-2h0m2-5h0m0 9h0m4-11h0m1 16h0m0-6h0m1 4h0m1-7h0m0 8h0m2-14h0m0 13h0m1-9h0m1 7h0m1-11h0m0 17h0m1-5h0m0 4h0m1-5h0m3 1h0m0-1h0m1-2h0m2 4h0m1 3h0m0-10h0m1-5h0m1 8h0m0 3h0m1-4h0m0 8h0m0-11h0m0 4h0m2 0h0m2 4h0m1-5h0m0-1h0m2 6h0m1 1h0m0-5h0m1 0h0m1-6h0m1 9h0m1 0h0m0 4h0m1-2h0m1-15h0m1 2h0m1 12h0m3 2h0m0-1h0m0-1h0m2-6h0m1 0h0m3-3h0m0 5h0m1 3h0m0-1h0m1-6h0m0-2h0m1 8h0m2-9h0m0 8h0m3-9h0m5 8h0m10 1h0m17-6h0m20 6h0m9-7h0m1-4h0m10 10h0m1 5h0m3-8h0m3 4h0m1 5h0m5-1h0m8 1h0m3-3h0m7-3h0m0-1h0m1-7h0m1-1h0m1 12h0m2 4h0m13-7h0m3-7h0m9 14h0m10-7h0m12-5h0" stroke="#1a1a1a" stroke-width="3" stroke-linecap="round"/>
<text x="4.3" y="441" font-family='"Liberation Serif", serif' font-size="14.5" fill="#000">L</text>
<rect x="4.4" y="445.6" width="326.8" height="104.4" fill="#fff" stroke="#222" stroke-width="1.3"/>
<text x="350.6" y="442.8" font-family='"Liberation Serif", serif' font-size="14.3" fill="#000">M</text>
<rect x="347.6" y="446.6" width="336.5" height="101.2" fill="#fff" stroke="#222" stroke-width="1.3"/>
<rect x="6.3" y="447.9" width="104" height="100.5" fill="#f8f8f8"/>
<rect x="15.8" y="459.6" width="93.7" height="83.7" fill="none" stroke="#d4d8dc" stroke-width="2.2" stroke-dasharray="1 0.6"/>
<polygon points="13.1,481.2 21,477.7 29.8,475.9 35,473.3 45.6,468.9 57.8,465.4 70.1,462.8 82.3,461 94.6,460.1 108.6,459.6 109.5,538.1 95.5,539 87.6,540.7 77.1,535.5 66.6,534.6 56.1,535.5 43.8,536.4 35,539.9 28,542.5 21.9,539.9 15.8,535.5 14.9,530.2 19.3,524.1 19.6,517.1 17.5,509.2 14,503.1 12.3,492.6" fill="#b0afd8"/>
<polygon points="94.6,460.1 108.6,459.6 109.5,538.1 95.5,539" fill="#c4a3c6"/>
<polygon points="12.3,481.2 21,477.7 21.9,490.8 19.6,510.1 17.5,509.2 14,503.1 12.3,492.6" fill="#b893b8"/>
<polygon points="21.9,489.1 31.5,485.9 45.6,485.9 57.8,489.4 70.1,492.2 84.1,495.7 94.6,497.5 94.6,505.2 82.3,504.5 70.1,503.4 57.8,501 47.3,499.9 35,501 22.4,501.7" fill="#e6a2b6"/>
<polygon points="19.3,495.2 35,496.9 41.2,503.1 35.9,511 26.3,514.5 19.3,511" fill="#e0946a"/>
<polygon points="35,500.4 52.6,499.2 67.4,503.1 63.1,514.5 57.8,522.3 44.7,524.4 36.8,517.1 33.3,510.1" fill="#c85c62"/>
<polygon points="19.3,513.6 33.3,511.5 39.4,520.6 44.7,527.6 39.4,538.1 28,542.5 21.9,539.9 15.8,535.5 14.9,530.2 19.3,524.1" fill="#d2cca2"/>
<polygon points="66.6,505.2 94.6,505.2 94.6,538.1 87.6,540.7 77.1,535.5 66.6,534.6 57.8,527.6 63.1,520.6" fill="#8a8ec6"/>
<polygon points="63.1,506.6 75.3,506.2 87.6,513.6 84.1,522.3 70.1,522.3 62.2,517.1" fill="#e6d6ec"/>
<polygon points="40.3,527.6 52.6,523.7 53.4,531.1 44.7,534.6 38.9,536" fill="#b273cf"/>
<path transform="scale(.25)" d="M277 1871h0m-120 24h0m11 0h0m13-5h0m12-6h0m1 7h0m3-8h0m9 11h0m1-12h0m3-2h0m0-2h0m11-1h0m2 16h0m2-11h0m2 0h0m5 10h0m1 0h0m1-13h0m12 12h0m13-14h0m2-3h0m2 19h0m13-19h0m5 17h0m0 2h0m21-8h0m12 3h0m14-3h0m2 9h0m2-1h0m9-5h0m4-2h0m11 5h0m8 3h0m3 0h0m11 0h0m-1 14h0m-5 3h0m-4-7h0m-1-5h0m-5 9h0m-12-11h0m-2 2h0m-7 16h0m-5-4h0m-3-9h0m-12 5h0m-4-9h0m-5 7h0m-4 3h0m-12-8h0m-3-3h0m0 4h0m-3 3h0m-12 1h0m-2-2h0m-4 6h0m-2 7h0m-3-17h0m-10 9h0m-1 2h0m-4-2h0m-12-5h0m-3 2h0m-1 6h0m-5-1h0m-1-3h0m-2-5h0m-2 17h0m-6-22h0m-1 22h0m-4-6h0m-1 4h0m-10-10h0m-1 0h0m-9-6h0m-2 6h0m-4-7h0m-4 4h0m0 2h0m-8-5h0m-11-2h0m-9 4h0m-2 11h0m-13-10h0m-7 12h0m-3-3h0m-10 2h0m-7 2h0m-18 0h0m-9 16h0m0-12h0m5 9h0m0 8h0m6-18h0m0 4h0m4-3h0m3 19h0m1-9h0m8 11h0m0-17h0m6-3h0m0 20h0m1-7h0m1-10h0m1 14h0m5-14h0m0-4h0m8 8h0m0 8h0m0-7h0m11 1h0m0 3h0m10-1h0m5-1h0m0-7h0m4 10h0m11-8h0m0 10h0m1-14h0m2 6h0m3-9h0m0 11h0m6 0h0m4 11h0m6-17h0m6-5h0m29 9h0m1 14h0m8-4h0m3-15h0m2 0h0m8 0h0m1-2h0m0 15h0m4-8h0m1 10h0m4-17h0m4 8h0m4-3h0m6 3h0m6 1h0m2 1h0m8-4h0m7 11h0m1-9h0m6 4h0m8-2h0m4 6h0m2 4h0m15-21h0m16 22h0m1-18h0m0 2h0m3-3h0m13 15h0m1-11h0m-4 28h0m-6-5h0m-1 14h0m-11-13h0m-17 10h0m-4-2h0m-1 3h0m-2-17h0m-7 1h0m-2 5h0m-6 10h0m0-10h0m-14 2h0m-1 0h0m-3-9h0m-3 5h0m-6 8h0m0-1h0m-8-13h0m-3 5h0m-1 6h0m-2 12h0m0-4h0m-5 0h0m-3-5h0m-13-2h0m-3-4h0m-3-6h0m0 1h0m-7 2h0m-5-1h0m-22-3h0m-3-1h0m-2 4h0m-4-3h0m-10 3h0m-12-1h0m-1-2h0m-3 4h0m-8 6h0m-3 1h0m0-10h0m-7 5h0m-6 7h0m-5 2h0m-1-3h0m-2 8h0m-19-10h0m-1 1h0m-3-8h0m-2 0h0m-4-3h0m-7 12h0m-14-1h0m1 27h0m0-5h0m1-8h0m1 7h0m12 2h0m5-5h0m10 0h0m6-4h0m163 2h0m2-3h0m1 0h0m16 5h0m7 0h0m6-2h0m8 7h0m5-1h0m2-10h0m8 2h0m3 12h0m2-9h0m1 10h0m1-13h0m4 13h0m1-14h0m8 7h0m3-1h0m0 10h0m6-15h0" stroke="#5f9f55" stroke-width="5.6" stroke-linecap="round"/>
<path transform="scale(.25)" d="M376 1851h0m-32 20h0m0-11h0m-3-3h0m-9 0h0m-5 2h0m-18 3h0m-17 4h0m-13 5h0m-17-2h0m-16 5h0m3 9h0m1 7h0m7-18h0m3 8h0m7 9h0m9-4h0m4 3h0m10-10h0m26-2h0m15 9h0m3-9h0m10-1h0m15 8h0m10-10h0" stroke="#5f9f55" stroke-width="5.2" stroke-linecap="round"/>
<path transform="scale(.25)" d="M418 1856h0m-4 14h0m-13-15h0m-7-4h0m8 42h0m1-4h0m3-2h0m10-15h0m15 18h0m2-5h0m2 6h0m-31 8h0m-15 9h0m-4 14h0m2 1h0m26 14h0m11-16h0m11 33h0m-12 1h0m-21 9h0m-1 2h0m-18-10h0m21 30h0m2-10h0m4 28h0m-7 10h0m17 23h0m0-14h0m15 6h0m-13 30h0m-6-18h0m-21 14h0m-8-11h0m-3 34h0m11 1h0m6-6h0m4 14h0m11-18h0m2 12h0m18 0h0m1 19h0m-11 1h0m-15-8h0m-4 1h0m-16 2h0m-2 4h0m-3-7h0m0 14h0m-2 16h0m8-3h0m1 13h0m15-3h0m5-14h0m4 11h0m10 6h0m2 8h0m-19 6h0m-3-2h0m-17-9h0m-1 0h0" stroke="#e8d8ea" stroke-width="4.8" stroke-linecap="round"/>
<path transform="scale(.25)" d="M264 2006h0m-8 1h0m-5 7h0m-19 1h0m-6-10h0m-3 1h0m-11-4h0m-30 0h0m-2 10h0m-12-4h0m-6-10h0m-19 10h0m-11-1h0m-23-7h0m-10 6h0m-7 1h0m-6-2h0m-3 3h0m-1 12h0m5 10h0m4 1h0m8 2h0m10-7h0m15 11h0m2-2h0m5-13h0m5-2h0m8-2h0m2 5h0m1-2h0m7 6h0m1-4h0m0-3h0m1 19h0m28-20h0m5 11h0m6-11h0m7-2h0m4 15h0m6 1h0m5-11h0m14 16h0m8-5h0m3-11h0m8 5h0m2 11h0m0 12h0m-4 1h0m-6 11h0m-3-5h0m-10-6h0m-15 1h0m-13-2h0m-4 3h0m-3 5h0m-2-7h0m-13-10h0m-1 8h0m-7-9h0m0 20h0m-14-20h0m-3 0h0m-6 7h0m-5 9h0m-24-16h0m-9 12h0m-24-11h0m-8 19h0m13 20h0m5-14h0m14 3h0m13 15h0m16-1h0m10-2h0m34-12h0m9-3h0m10 14h0m11-6h0m0-6h0m12 0h0m2 19h0m4 0h0m6-15h0m4-2h0m2-2h0m2 10h0m16 1h0m2 15h0m-3 3h0m-12 7h0m-2-4h0m-7-8h0m-2 9h0m-6-9h0m-2-2h0m-4 19h0m-5-4h0m-7-15h0m-5 14h0m-1-8h0m-25-5h0m-4 13h0m-17-9h0m-30 13h0m-8-11h0m-11-6h0m-12 6h0m-14 9h0m-6-7h0m4 13h0m56 4h0m13 13h0m1-10h0m1 6h0m3 8h0m14-16h0m2 12h0m1-14h0m11 8h0m28-9h0" stroke="#c84850" stroke-width="4.8" stroke-linecap="round"/>
<path transform="scale(.25)" d="M404 1858h0m-51-8h0m-37 20h0m-11-3h0m-40-9h0m-23 33h0m23 4h0m10-9h0m10-7h0m117 35h0m-208 4h0m-7-5h0m-33-6h0m-48 22h0m77 8h0m35-12h0m81 6h0m89-5h0m-104 19h0m-99 11h0m115 15h0m56 13h0m29 3h0m0 3h0m31 12h0m-30 12h0m-30-3h0m-5-14h0m-38-3h0m-5 12h0m-147 8h0m-37-19h0m77 38h0m207-17h0m26 4h0m-3 43h0m-12-13h0m-260-5h0m-67 18h0m-4 7h0m51-3h0m128 10h0m82 7h0m24-9h0m29 6h0m9 18h0m-16 5h0m-40 4h0m-10-15h0m-24 17h0m-32-14h0m-11 9h0m-194 0h0m49 25h0m7-15h0m153 7h0m144-8h0m-332 44h0m-10-6h0m-1 3h0" stroke="#ffffff" stroke-width="4.4" stroke-linecap="round"/>
<path transform="scale(.25)" d="M117 2055h0m-4 0h0m-21 8h0m-7 13h0m9 5h0m1-9h0m5 5h0m15 7h0m30-9h0m1 3h0m0 2h0m1-2h0m21 8h0m7 6h0m-6 10h0m-3-7h0m-3 2h0m-10 0h0m-2 8h0m-4 0h0m0 6h0m-1-8h0m-16-15h0m-6 15h0m-28-14h0m-5 7h0m-2-6h0m-9 17h0m0 3h0m-1-1h0m-1-12h0m0 9h0m7 29h0m3-10h0m2-3h0m7 6h0m9 1h0m6-5h0m15 10h0m1-11h0m2 0h0m4 12h0m0-22h0m25 3h0m10 9h0m5-1h0m1 9h0m-11 8h0m-3-4h0m-2 13h0m-12 0h0m-5-3h0m-4 3h0m-4-10h0m-18-2h0m-6 10h0m-10-3h0m-6 5h0m-1 0h0m-8-8h0" stroke="#d9a0a0" stroke-width="4.8" stroke-linecap="round"/>
<path transform="scale(.25)" d="M342 1856h0m-42-5h0m-7-2h0m-20 15h0m-14-9h0m-50 22h0m14 8h0m101-3h0m13-6h0m5 10h0m17 16h0m-70 13h0m-153 0h0m-13 0h0m12 21h0m5-16h0m7 3h0m66-2h0m49 4h0m86-5h0m14 21h0m12-15h0m-13 22h0m-233-2h0m-46 30h0m76 10h0m126-1h0m-40 10h0m-166 24h0m111 7h0m1 3h0m27-10h0m124 13h0m-59 15h0m-25 1h0m-10 13h0m-59-10h0m-1 10h0m-42-2h0m-33-16h0m14 37h0m40-11h0m56 15h0m113-8h0m-58 20h0m-9-6h0m-20 4h0m-66-1h0m-11 9h0m-97-6h0m-3 12h0m57 6h0m5 14h0m119-5h0m29 5h0m43-5h0m4-6h0m-13 29h0m-44-7h0m-140 12h0" stroke="#e8a070" stroke-width="5.2" stroke-linecap="round"/>
<path transform="scale(.25)" d="M283 1987h0m3 0h0m64-3h0m16-12h0m1 17h0m5-5h0m4-3h0m-18 15h0m-18 2h0m-22 11h0m-7-4h0m0 10h0m-14-12h0m-13 9h0m-5 0h0m-9-2h0m-1-9h0m-10-4h0m-8 9h0m-24-13h0m7 32h0m7 11h0m11-8h0m1 1h0m1 7h0m25-4h0m51-8h0m45 23h0m-3 4h0m-1-2h0m-10-8h0m-19 13h0m-25-12h0m-9 1h0m-15-2h0m-1 11h0m-5 11h0m-3-1h0m-7-20h0m-20-1h0m-5 11h0m-20 0h0m-8 20h0m13 0h0m19 7h0m6-6h0m12 4h0m34-5h0m2 5h0m0-5h0m35 6h0m26-6h0m2 14h0m-10 7h0m-33 0h0m-18 15h0m-3 3h0m-45 0h0m-5 0h0m-18-2h0m-18-9h0m16 22h0m3-1h0m9 5h0m9-1h0m1 6h0m11-11h0m24-4h0m1 7h0m15-10h0m10 9h0m26-9h0m1 17h0m15-2h0m8-9h0m4 3h0m-34 21h0m-11 1h0m-25-1h0m-64 5h0" stroke="#a8a0d8" stroke-width="5.2" stroke-linecap="round"/>
<text x="59.2" y="456.2" font-family='"Liberation Serif", serif' font-size="9.6" text-anchor="middle" fill="#000">Clusters</text>
<rect x="116.1" y="447.9" width="99" height="92" fill="#f8f8f8"/>
<rect x="127.5" y="458.4" width="75.3" height="78" fill="none" stroke="#d4d8dc" stroke-width="2.2" stroke-dasharray="1 0.6"/>
<polygon points="126.6,477.7 134.5,475 145,471.5 162.6,466.3 180.1,462.8 201.1,459.3 215.1,459.3 215.1,531.1 204.6,532 197.6,531.1 183.6,527.6 169.6,526.7 155.6,527.6 143.3,532.9 136.3,534.6 129.3,529.3 128.4,522.3 132.8,517.1 131.9,510.1 130.1,499.6 126.6,492.6" fill="#d08c96"/>
<polygon points="201.1,459.3 215.1,459.3 215.1,531.1 201.1,532" fill="#b2a6cc"/>
<polygon points="126.6,477.7 134.5,475 134.5,492.6 132.4,498.7 127.5,494.3" fill="#ad98c2"/>
<polygon points="134.5,475 162.6,466.3 201.1,459.3 201.1,497.8 180.1,500.4 162.6,500.4 145,502.2 133.7,500.4" fill="#c26672"/>
<polygon points="134.5,500.4 201.1,497.8 201.1,510.1 180.1,509.2 162.6,508.3 145,510.1 134.5,509.2" fill="#cb7a86"/>
<line x1="176.6" y1="466.3" x2="201.1" y2="466.3" stroke="#9a7a9c" stroke-width="0.45" opacity="0.6"/>
<line x1="169.6" y1="467.4" x2="201.1" y2="467.4" stroke="#d48a96" stroke-width="0.45" opacity="0.6"/>
<line x1="162.6" y1="468.6" x2="201.1" y2="468.6" stroke="#9a7a9c" stroke-width="0.45" opacity="0.6"/>
<line x1="155.6" y1="469.7" x2="201.1" y2="469.7" stroke="#d48a96" stroke-width="0.45" opacity="0.6"/>
<line x1="148.5" y1="470.8" x2="201.1" y2="470.8" stroke="#9a7a9c" stroke-width="0.45" opacity="0.6"/>
<line x1="141.5" y1="472" x2="201.1" y2="472" stroke="#d48a96" stroke-width="0.45" opacity="0.6"/>
<line x1="134.5" y1="473.1" x2="201.1" y2="473.1" stroke="#9a7a9c" stroke-width="0.45" opacity="0.6"/>
<line x1="134.5" y1="474.3" x2="201.1" y2="474.3" stroke="#d48a96" stroke-width="0.45" opacity="0.6"/>
<line x1="134.5" y1="475.4" x2="201.1" y2="475.4" stroke="#9a7a9c" stroke-width="0.45" opacity="0.6"/>
<line x1="134.5" y1="476.5" x2="201.1" y2="476.5" stroke="#d48a96" stroke-width="0.45" opacity="0.6"/>
<line x1="134.5" y1="477.7" x2="201.1" y2="477.7" stroke="#9a7a9c" stroke-width="0.45" opacity="0.6"/>
<line x1="134.5" y1="478.8" x2="201.1" y2="478.8" stroke="#d48a96" stroke-width="0.45" opacity="0.6"/>
<line x1="134.5" y1="479.9" x2="201.1" y2="479.9" stroke="#9a7a9c" stroke-width="0.45" opacity="0.6"/>
<line x1="134.5" y1="481.1" x2="201.1" y2="481.1" stroke="#d48a96" stroke-width="0.45" opacity="0.6"/>
<line x1="134.5" y1="482.2" x2="201.1" y2="482.2" stroke="#9a7a9c" stroke-width="0.45" opacity="0.6"/>
<line x1="134.5" y1="483.4" x2="201.1" y2="483.4" stroke="#d48a96" stroke-width="0.45" opacity="0.6"/>
<line x1="134.5" y1="484.5" x2="201.1" y2="484.5" stroke="#9a7a9c" stroke-width="0.45" opacity="0.6"/>
<line x1="134.5" y1="485.6" x2="201.1" y2="485.6" stroke="#d48a96" stroke-width="0.45" opacity="0.6"/>
<line x1="134.5" y1="486.8" x2="201.1" y2="486.8" stroke="#9a7a9c" stroke-width="0.45" opacity="0.6"/>
<line x1="134.5" y1="487.9" x2="201.1" y2="487.9" stroke="#d48a96" stroke-width="0.45" opacity="0.6"/>
<line x1="134.5" y1="489.1" x2="201.1" y2="489.1" stroke="#9a7a9c" stroke-width="0.45" opacity="0.6"/>
<line x1="134.5" y1="490.2" x2="201.1" y2="490.2" stroke="#d48a96" stroke-width="0.45" opacity="0.6"/>
<line x1="134.5" y1="491.3" x2="201.1" y2="491.3" stroke="#9a7a9c" stroke-width="0.45" opacity="0.6"/>
<line x1="134.5" y1="492.5" x2="201.1" y2="492.5" stroke="#d48a96" stroke-width="0.45" opacity="0.6"/>
<line x1="134.5" y1="493.6" x2="201.1" y2="493.6" stroke="#9a7a9c" stroke-width="0.45" opacity="0.6"/>
<line x1="134.5" y1="494.7" x2="201.1" y2="494.7" stroke="#d48a96" stroke-width="0.45" opacity="0.6"/>
<line x1="134.5" y1="495.9" x2="201.1" y2="495.9" stroke="#9a7a9c" stroke-width="0.45" opacity="0.6"/>
<line x1="134.5" y1="497" x2="201.1" y2="497" stroke="#d48a96" stroke-width="0.45" opacity="0.6"/>
<path transform="scale(.25)" d="M770 1846h0m10-3h0m22 28h0m-19 0h0m-29-11h0m-30 8h0m-2-11h0m-3 8h0m-19-5h0m-22 5h0m-19 0h0m-42 17h0m28-3h0m1 5h0m2 11h0m20-13h0m3-2h0m2 7h0m10-11h0m1 1h0m3 3h0m6-5h0m5 13h0m0-5h0m0-10h0m4 21h0m18-7h0m5-5h0m2 13h0m2-19h0m7 7h0m9 3h0m12-1h0m14-9h0m4-4h0m7 20h0m7-14h0m2 1h0m8 20h0m-10 0h0m0 6h0m-13-2h0m-2 1h0m-22 13h0m-6-5h0m-4 3h0m-3-2h0m-4-7h0m-25-7h0m-14 3h0m-8 8h0m0-12h0m-23 7h0m-4 6h0m-25-11h0m-6 19h0m-4-4h0m-29 3h0m-11-10h0m-16 4h0m-23 0h0m-5 15h0m11 2h0m13 2h0m27 1h0m10 5h0m19-2h0m16-4h0m8-10h0m17 15h0m5-10h0m3 0h0m9-6h0m2 11h0m2 7h0m15-17h0m1 9h0m6-4h0m12 0h0m10 16h0m3-4h0m6-2h0m14-15h0m2 8h0m10 14h0m2 0h0m0-5h0m1 1h0m16-4h0m21-14h0m0 3h0m1 2h0m-11 27h0m-4 7h0m-8 2h0m-1-1h0m-1 2h0m-21-7h0m-4-7h0m-9 10h0m-5 0h0m-1 0h0m-21 6h0m-1 2h0m-12-6h0m-1-9h0m-5 6h0m-13-6h0m-5-7h0m-12 13h0m-12-1h0m-2-10h0m-1 14h0m-9 1h0m-23-7h0m-12-7h0m-1 15h0m-9-2h0m-28 5h0m-7-10h0m-10-6h0m-2 11h0m-2-4h0m-10-8h0m0 25h0m10 0h0m12 11h0m3-5h0m15-3h0m26 8h0m1-2h0m8-12h0m23 18h0m8-19h0m3 16h0m6 3h0m9-12h0m1 14h0m0-21h0m4 13h0m4-8h0m2-2h0m6 3h0m5 11h0m1-12h0m13-3h0m4-2h0m14 17h0m13 1h0m10-10h0m17 6h0m1 6h0m9-17h0m18 8h0m6-9h0m-60 22h0m-52 0h0m-12 0h0m-52-2h0m-39 2h0" stroke="#d88c98" stroke-width="5.2" stroke-linecap="round"/>
<path transform="scale(.25)" d="M588 2033h0m10 4h0m26 2h0m64-2h0m17 2h0m21-1h0m35 1h0m8-5h0m31 6h0m-14 14h0m-17-8h0m-8 17h0m-1-6h0m0-14h0m-11 3h0m-9 5h0m-3-7h0m-6 13h0m-2-12h0m-1 12h0m-16-15h0m-5 17h0m-5-16h0m-2 7h0m-6 1h0m0 10h0m-32-5h0m-16-13h0m-11 14h0m-7-13h0m0 17h0m-6-7h0m-14-13h0m-1 21h0m-7 0h0m-11-2h0m-2-3h0m-1-6h0m-4 7h0m-37-12h0m-10 7h0m-1 10h0m4 19h0m2-10h0m7 6h0m2 5h0m6-15h0m18-1h0m8 16h0m5-9h0m5-4h0m4 14h0m0-12h0m1-6h0m29 16h0m8-12h0m15 4h0m7 6h0m21-5h0m3-11h0m16 1h0m2 20h0m11-9h0m13 8h0m1-16h0m14-1h0m25 16h0m0-14h0m4 17h0m8-7h0m5 6h0m12-20h0m0 9h0m6 2h0m5-11h0m-14 40h0m-11-16h0m-1 5h0m-2 13h0m-7-1h0m-2-15h0m-2 0h0m-4-3h0m-13 21h0m-1-7h0m-8-7h0m-1 3h0m-1 4h0m-2 6h0m-16-15h0m-1 6h0m-1-11h0m-4 21h0m-6-19h0m-3 13h0m-3-12h0m-1 0h0m-2-3h0m-23 9h0m-9 5h0m-1-5h0m-8 13h0m0-5h0m-9-2h0m-41-12h0m-1 10h0m-2-13h0m-2 5h0m-13 3h0m-1 14h0m-3-7h0m-4-3h0m-16 3h0m-1 1h0m-5-5h0m0 11h0m0-7h0m-3-4h0m-8-7h0m-4 11h0m-3 4h0m-2-16h0m-15 0h0m19 28h0m2 11h0m9 0h0m2-14h0m5 9h0m3 7h0m8-13h0m1-2h0m3-3h0m7 4h0m1 3h0m26-9h0m10 0h0m176 8h0m7-8h0m3 7h0" stroke="#f4e8ee" stroke-width="6" stroke-linecap="round"/>
<path transform="scale(.25)" d="M552 2039h0m74-2h0m11 2h0m111-5h0m46 0h0m2 22h0m-4 2h0m-6-3h0m-3-8h0m-21 9h0m-4-14h0m-13 9h0m-14-8h0m-20 14h0m-2 0h0m-30 3h0m0-14h0m-13 1h0m-9-3h0m-8 9h0m-2-6h0m-9 15h0m-1-14h0m-3 4h0m-6-9h0m-8 4h0m-1-6h0m-9 5h0m-18 17h0m-2-23h0m-6 17h0m-9-13h0m-1 18h0m-17-4h0m0-5h0m-1-1h0m-1 4h0m-4 3h0m-4 0h0m-5-4h0m-12-9h0m3 26h0m19 11h0m2-12h0m15 9h0m0-1h0m2-1h0m10-10h0m1 13h0m3-2h0m23-15h0m1 1h0m5 8h0m1-7h0m9 1h0m11 5h0m6 15h0m3-13h0m0-7h0m1 8h0m11 1h0m35 10h0m5-2h0m8-19h0m4 2h0m1-3h0m5 4h0m28 17h0m7 2h0m0-11h0m5 2h0m3 1h0m4-7h0m5-3h0m4 17h0m2-11h0m4 6h0m0-12h0m3 0h0m18 0h0m5 20h0m-7 4h0m-6 8h0m-4-12h0m-18 16h0m-11-14h0m-5-1h0m-5 18h0m-18-9h0m-24 8h0m-7-14h0m-6 5h0m-1 11h0m-1-20h0m-14 4h0m-13-2h0m-1-2h0m-1 15h0m0 5h0m-1-19h0m-4-1h0m-13 4h0m-34-4h0m-12-1h0m-16 5h0m-6-5h0m-5 20h0m-3-14h0m-25-1h0m-11 8h0m6 15h0m5 4h0m7-2h0m18-5h0m22 6h0m13-2h0m173 1h0m5-4h0m4 5h0" stroke="#a83848" stroke-width="4.8" stroke-linecap="round"/>
<text x="167.8" y="456.2" font-family='"Liberation Serif", serif' font-size="9.4" text-anchor="middle" fill="#000">FOXA1</text>
<rect x="219.4" y="447.9" width="99" height="92" fill="#f8f8f8"/>
<rect x="231.6" y="458.4" width="74.5" height="78" fill="none" stroke="#d4d8dc" stroke-width="2.2" stroke-dasharray="1 0.6"/>
<polygon points="229.9,477.7 237.8,475.9 250,471.5 267.6,466.3 285.1,462.8 306.1,459.3 317.5,459.3 317.5,531.1 306.1,532.9 295.6,529.3 285.1,527.6 272.8,525.8 260.6,524.1 250,529.3 241.3,532.9 232.5,527.6 234.3,518.8 236.9,510.1 236,497.8 230.8,492.6" fill="#e3c4d0"/>
<polygon points="305.2,459.3 317.5,459.3 317.5,531.1 305.2,532" fill="#b9a2c8"/>
<polygon points="229.9,477.7 236.9,475.9 236.9,497.8 230.8,494.3" fill="#b48fbb"/>
<polygon points="241.3,497.8 302.6,497.8 304.3,524.1 285.1,524.1 267.6,522.3 250,522.3 241.3,515.3" fill="#ead6de"/>
<path transform="scale(.25)" d="M1202 1844h0m5-3h0m11 11h0m-3-3h0m-25 10h0m-8-2h0m0 4h0m-4-10h0m-16 3h0m-2 6h0m0-1h0m-20 7h0m-4 1h0m-11-2h0m-10-2h0m-5 3h0m-26-1h0m-52 28h0m21-16h0m1 5h0m11 5h0m1-13h0m10 5h0m5 7h0m0-2h0m8 1h0m24 10h0m13-5h0m37-15h0m7 20h0m4-15h0m9 15h0m7-6h0m11-4h0m2-9h0m2-2h0m11 8h0m-6 30h0m-29-2h0m-9-7h0m-6 16h0m-2-12h0m-7-4h0m-35 8h0m-9-3h0m0 9h0m-1-20h0m-2 18h0m-8-9h0m-4 1h0m-1-4h0m0-4h0m-6 17h0m-17 1h0m0-20h0m-9 14h0m-6 3h0m-9-6h0m-1-9h0m-1 20h0m-3-13h0m-16-2h0m-3 6h0m-3-10h0m-9 6h0m-1 2h0m-9 0h0m0 2h0m-2-12h0m-17 4h0m-7-1h0m-6 8h0m-15 3h0m-3 1h0m2 11h0m1 3h0m21 2h0m3-3h0m6-2h0m8 17h0m4-1h0m10-2h0m3-10h0m8 0h0m7 7h0m3 3h0m2-14h0m4 15h0m0-19h0m10 22h0m11-13h0m1 13h0m4-6h0m8-10h0m8 10h0m2 4h0m7 0h0m7 1h0m3-8h0m15-3h0m9 9h0m0-11h0m25 12h0m1-10h0m5-8h0m3 8h0m3 11h0m20-7h0m10-2h0m4 2h0m20-2h0m4 3h0m4-8h0m0-6h0m-5 44h0m-74-4h0m-11 6h0m-10-6h0m-4 6h0m0-6h0m-9 1h0m0-5h0m-17-4h0m-12-7h0m-17 5h0m-25-5h0m-6 2h0m-6 18h0m-25-1h0m-10-12h0m-9-7h0m-25 21h0m-7-17h0m10 34h0m16-8h0m5 1h0m10 1h0m4 4h0m7 9h0m7-9h0m12 3h0m0-1h0m2 3h0m1-18h0m6 0h0m5 12h0m34-12h0m3 15h0m11-6h0m6 0h0m41 4h0m23-7h0m2-6h0m5 16h0m2-12h0m3 6h0m11-6h0m7 18h0m2-21h0m6 5h0m10 6h0m0-12h0m9 14h0m2 3h0m11 18h0m-2 4h0m-10-4h0m-1 0h0m-14 3h0m-10-10h0m-7-1h0m-9 2h0m-5 1h0m-37 5h0m0 3h0m-3 3h0m-14-10h0m-2 12h0m-3-20h0m-10 18h0m-14-1h0m-14 6h0m-3-21h0m-4 3h0m-14 9h0m-5-7h0m-2 10h0m-3 1h0m-6 2h0m-3 0h0m-13 3h0m-7-16h0m0-6h0m-1 3h0m-7 8h0m-8-2h0m-2-5h0m-36 18h0m0-1h0m0 14h0m51 2h0m7 6h0m16-16h0m4 10h0m6 4h0m5-7h0m6 12h0m7-16h0m7 4h0m13-1h0m2 2h0m5-2h0m0 4h0m8-9h0m6 17h0m6-7h0m1-3h0m11-9h0m27 19h0m1-1h0m1-13h0m3 14h0m1-22h0m1 20h0m4-9h0m9 9h0m9-5h0m5-9h0m6 7h0m9 6h0m3-3h0m8-4h0m4-8h0m12 4h0m-7 21h0m-4 2h0m-1 8h0m-4 7h0m-24-10h0m0 6h0m-4 0h0m-1 5h0m0-23h0m-9 22h0m-3 0h0m-1-8h0m-1-8h0m-1 0h0m-2 7h0m-5 1h0m-17 3h0m0-5h0m-17-5h0m-15 14h0m-19-2h0m-8-17h0m-12-2h0m-1 9h0m-17 9h0m-2-18h0m-4 19h0m-4-12h0m-17 13h0m-2-16h0m-2 13h0m-11-2h0m-5 5h0m-20-18h0m-7 2h0m-3 18h0m-3 0h0m-2-6h0m20 21h0m23 0h0m3-1h0m12-8h0m1 16h0m22-20h0m8 22h0m4-9h0m4-3h0m1-5h0m19 15h0m11-12h0m1 0h0m5 3h0m4 3h0m0 1h0m2-7h0m36 9h0m3-9h0m5 15h0m12-11h0m16-8h0m7 19h0m4-22h0m6 10h0m7 2h0m6-3h0m5 8h0m8 28h0m-29-2h0m-4-6h0m-2 0h0m-4-10h0m-12 19h0m-2-6h0m-4-11h0m-4 15h0m-9-9h0m-6 7h0m-6-8h0m-4 9h0m-16-9h0m-3 0h0m-37 11h0m-19-5h0m-5 6h0m-8-22h0m-1 2h0m-12 3h0m-1-5h0m-5 19h0m-1-6h0m-3-8h0m-14 2h0m-12-2h0m71 18h0m33 0h0" stroke="#c84a50" stroke-width="4.4" stroke-linecap="round"/>
<path transform="scale(.25)" d="M1210 2015h0m-3-4h0m-16-13h0m-3 3h0m-38 10h0m-6-18h0m-12 4h0m-46 10h0m-3 8h0m-4-16h0m-4 4h0m-62-9h0m-32 3h0m-3 27h0m4 12h0m9-17h0m7 8h0m5-9h0m9 19h0m1-7h0m24 1h0m20-7h0m2 7h0m0-5h0m15-1h0m14 1h0m0-1h0m13 8h0m1-13h0m10 13h0m20 5h0m12-13h0m7-5h0m3 19h0m9-9h0m36 21h0m-17 11h0m-8-3h0m-1 4h0m-28-17h0m-2 17h0m-2-2h0m-7-10h0m-1 0h0m0-10h0m-1 3h0m-24 17h0m-11-4h0m0-5h0m-4-3h0m-2-3h0m-11 9h0m-9 3h0m-15 4h0m-2-2h0m-44-19h0m-6 0h0m-20 10h0m-2 4h0m-12-7h0m92 32h0m10 3h0m14-11h0m1 12h0m1-4h0m14-4h0m10-9h0m4-3h0m2 15h0m4-1h0m8 7h0m10-18h0m1 13h0m31-5h0m8 3h0m22 7h0m6-1h0m-9 11h0m-79-5h0m-53-2h0" stroke="#f4ecf0" stroke-width="6.4" stroke-linecap="round"/>
<text x="277" y="456.7" font-family='"Liberation Serif", serif' font-size="9.8" text-anchor="middle" fill="#000">SLC7A11</text>
<rect x="349.5" y="447.6" width="104.4" height="97.7" fill="#f5f8f5"/>
<rect x="359" y="457.5" width="84.5" height="86" fill="none" stroke="#d4d8dc" stroke-width="2.2" stroke-dasharray="1 0.6"/>
<polygon points="362.8,495 366.6,483.7 374.2,478 379.9,468.5 389.3,464.7 396.9,472.3 402.6,468.5 410.2,468.5 419.7,462.8 425.4,463.7 433,472.3 438.7,479.9 443.4,487.4 448.2,496.9 452.9,502.6 452,510.2 446.3,515.9 438.7,517.8 429.2,515.9 419.7,514 410.2,512.1 402.6,514 393.1,510.2 383.7,508.3 374.2,506.4 368.5,504.5 362.8,500.7" fill="#9e98d0"/>
<polygon points="419.7,462.8 425.4,463.7 433,472.3 438.7,479.9 429.2,484.6 421.6,478.9 415.9,470.4" fill="#e08a56"/>
<polygon points="423.5,483.7 438.7,479.9 443.4,487.4 442.5,500.7 429.2,502.6 421.6,495" fill="#d25c5e"/>
<polygon points="421.6,497.9 443.4,489.7 452.9,502.6 452,510.2 446.3,515.9 438.7,517.8 429.2,515.9 419.7,514" fill="#c97896"/>
<polygon points="362.8,495 366.6,483.7 374.2,478 389.3,478.9 402.6,484.6 402.6,502.6 393.1,510.2 383.7,508.3 374.2,506.4 368.5,504.5 362.8,500.7" fill="#7d7cc2"/>
<polygon points="389.3,464.7 396.9,472.3 402.6,468.5 410.2,468.5 419.7,462.8 421.6,478 423.5,496.9 412.1,506.4 402.6,502.6 396.9,487.4 387.4,478" fill="#b2a9da"/>
<polygon points="370.4,489.7 384,485.5 389.7,496.9 378,503 370.4,499.2" fill="#cbd9a4"/>
<polygon points="379.9,468.5 389.3,464.7 394.1,472.6 383.7,474.5" fill="#e0905e"/>
<polygon points="412.1,504.5 423.5,502.6 425.8,512.5 415.9,513.3" fill="#9466c6"/>
<path transform="scale(.25)" d="M1704 1866h0m-36 2h0m-128 9h0m22 6h0m5-1h0m53-8h0m16 19h0m9 1h0m23-15h0m50-3h0m5 14h0m13 14h0m-20-7h0m-17 11h0m-23-8h0m-28 3h0m-3-2h0m-24 1h0m-3 13h0m-4 3h0m-18-9h0m-21-8h0m-1 0h0m-6 5h0m-41 8h0m-1-11h0m-8-5h0m-1 17h0m-1-19h0m-39 34h0m14 4h0m8 5h0m27-1h0m20-12h0m15-5h0m18 18h0m2-13h0m13 1h0m5 13h0m9 2h0m25-22h0m5 13h0m13 2h0m19 7h0m1-17h0m20-5h0m23 11h0m42 12h0m1-15h0m14 22h0m-14 3h0m-38-2h0m-17 16h0m-21-19h0m-8 14h0m-40-12h0m-4-1h0m-1 1h0m-5 3h0m-55-5h0m-6 9h0m-62-4h0m-9 12h0m-3-12h0m-11-9h0m5 25h0m33 13h0m4 4h0m0-12h0m10 8h0m3-13h0m4 12h0m32-6h0m29 2h0m56 10h0m19 1h0m21-8h0m15 8h0m18 0h0m4-18h0m73 36h0m-112-11h0m-12 10h0m-14-4h0m-35 11h0m-5-14h0m-9 12h0m-7-7h0m-15 2h0m-46 9h0m-2-13h0m-34-7h0m-23 2h0m4 28h0m87-1h0m41 0h0m8 5h0m5-3h0m11 14h0m12-7h0m5 7h0m10-23h0m6 22h0m13-14h0m9 10h0m33-1h0m36-15h0m22 3h0m5-5h0m-20 35h0m-1-4h0m-10-2h0m-14 2h0m-11 6h0m-31-12h0m-11 16h0m-16-12h0m-36 1h0m-38 1h0m-30-6h0" stroke="#7d7cc2" stroke-width="6" stroke-linecap="round"/>
<path transform="scale(.25)" d="M1686 1864h0m-5-11h0m-3 2h0m-29 14h0m-85-4h0m-8-3h0m-35 26h0m95-2h0m43 5h0m13-19h0m47 4h0m21 33h0m-16-13h0m-17 4h0m-9 1h0m-27 11h0m-29-4h0m-51 11h0m-9-8h0m-11-9h0m-38 17h0m-9-5h0m-19 0h0m17 18h0m1 5h0m3-7h0m11-3h0m16 5h0m17 8h0m4-12h0m37-5h0m20 1h0m19 18h0m6-16h0m3-4h0m9 20h0m13-15h0m16 12h0m21-9h0m23-3h0m5 5h0m10 29h0m-3-3h0m-1 7h0m-5-13h0m-30 10h0m-26-8h0m0-8h0m-14 9h0m-3 6h0m-2-1h0m-41-5h0m-19 4h0m-1 0h0m-1 5h0m-25-6h0m-12 8h0m-1 0h0m-13-7h0m-17-6h0m-31 0h0m-39-7h0m-9 18h0m-11 18h0m42 7h0m12-3h0m10 3h0m13-3h0m37-7h0m5 2h0m23 2h0m28-5h0m5-6h0m47 5h0m40-1h0m6 10h0m15-11h0m41 34h0m0-3h0m-17-14h0m-70 21h0m-22 2h0m-16-13h0m-4-8h0m-27 8h0m-3 10h0m-17-9h0m-1-2h0m-2 5h0m-35 7h0m-35-1h0m-8-5h0m-57 2h0m29 12h0m68 17h0m4-8h0m54-2h0m20-10h0m13 13h0m19 4h0m1-3h0m10 4h0m3-2h0m3-15h0m85 16h0m0-8h0m6-1h0m0 11h0m16-17h0m4-4h0m-55 43h0m-6-5h0m-9-3h0m0-5h0m-22-4h0m-64 6h0m-3-4h0m-36-4h0m135 26h0" stroke="#b2a9da" stroke-width="6" stroke-linecap="round"/>
<path transform="scale(.25)" d="M1704 1866h0m-174 15h0m4 10h0m8 4h0m27-16h0m40 5h0m59-11h0m6 5h0m24 17h0m21 0h0m1 4h0m-12 3h0m-58 5h0m-4 7h0m-28-3h0m-8 8h0m-23-23h0m-16 18h0m-30-7h0m-7 10h0m-1-9h0m-6-3h0m-19 12h0m2 18h0m56 3h0m20 0h0m14 4h0m1-20h0m107 11h0m18 4h0m5-10h0m8 11h0m27 23h0m-45-10h0m-36 10h0m-104-14h0m-5 14h0m-16-1h0m-4-12h0m-43 13h0m-3 5h0m-9 19h0m2-8h0m36 10h0m14-8h0m56-9h0m17-2h0m23 5h0m42 5h0m52 7h0m8-2h0m5 4h0m19-11h0m4 2h0m14 28h0m-2 9h0m-53-18h0m-36 11h0m-8-14h0m-16-1h0m-1 2h0m-38 7h0m-42 11h0m-16-19h0m-2 18h0m-45-9h0m-6-9h0m-47 17h0m-25-13h0m41 24h0m71 7h0m10 2h0m8 8h0m37-15h0m6 5h0m25-10h0m29 11h0m22-13h0m19 9h0m11-6h0m59 14h0m-6 6h0m-3 6h0m-8 1h0m-22-6h0m-4 7h0m-9-3h0m-16 16h0m-125-11h0" stroke="#cbd9a4" stroke-width="6" stroke-linecap="round"/>
<path transform="scale(.25)" d="M1513 1891h0m29-19h0m80 13h0m46 22h0m-4-7h0m-13 10h0m-99-12h0m-3 0h0m-11 14h0m-27-14h0m-7 18h0m5 4h0m83 2h0m18 6h0m78-5h0m11 28h0m-64 14h0m-125-2h0m-26-6h0m78 33h0m25-8h0m66-13h0m26 2h0m12 0h0m12 1h0m24 12h0m37 20h0m-29 3h0m-24-8h0m-5 5h0m-134-12h0m-8 12h0m-28-7h0m-41-4h0m-25 12h0m94 16h0m18 11h0m150-12h0m35 14h0m-126 10h0" stroke="#e08a56" stroke-width="6" stroke-linecap="round"/>
<path transform="scale(.25)" d="M1714 1870h0m-42-11h0m-130 24h0m33-6h0m151 8h0m-34 12h0m-62 0h0m-79 8h0m-31 3h0m91 19h0m102 6h0m-94 27h0m-96 31h0m18-20h0m53 19h0m51 1h0m27-23h0m11 6h0m88 17h0m37 21h0m-37-16h0m-2 19h0m-68-22h0m-10 1h0m-38 17h0m-20-17h0m-12 5h0m-19 16h0m-65-20h0m-31 13h0m-16 1h0m136 11h0m15 5h0m80 13h0m19-3h0m42-5h0m3 22h0m-52 10h0m-13-15h0m-8-7h0" stroke="#c97896" stroke-width="6" stroke-linecap="round"/>
<path transform="scale(.25)" d="M1697 1860h0m-3 3h0m0-7h0m-15 14h0m-8 0h0m-127-5h0m-28 19h0m2 3h0m25 7h0m4-8h0m1 5h0m17 4h0m39-2h0m18-2h0m0-1h0m27-2h0m1-4h0m6 5h0m41-1h0m7-11h0m3 1h0m34 29h0m-24 0h0m-17 4h0m-11-6h0m-13 14h0m-34-4h0m-5 4h0m-12-3h0m-4-11h0m-14 7h0m-5-10h0m-1 10h0m0-15h0m-2 2h0m-17 1h0m-9 6h0m-1 0h0m-3 11h0m-2-2h0m-3-2h0m-6-16h0m-39 15h0m0-16h0m-55 47h0m12-9h0m11-10h0m8 18h0m4-18h0m31 7h0m3-7h0m8 3h0m27-1h0m9-3h0m51 5h0m6-1h0m8-3h0m6-4h0m8 21h0m7-18h0m8 2h0m15 2h0m5 1h0m2 2h0m10 2h0m5-5h0m2 6h0m13 4h0m14 4h0m2-15h0m18 15h0m3 1h0m19 18h0m-13-15h0m-40 15h0m-18 1h0m-4-16h0m-2 1h0m-17 18h0m-4-18h0m-20 11h0m-11-5h0m-23 14h0m-26-9h0m-1-11h0m-17 11h0m-9-5h0m-29-2h0m-11 4h0m-8 4h0m-31-6h0m-4 11h0m-16 2h0m-11-15h0m18 18h0m10 15h0m7 2h0m8 4h0m26-21h0m12 19h0m20-16h0m2-3h0m6 18h0m56-17h0m2 13h0m25-8h0m13 6h0m0-12h0m45 20h0m6-3h0m1-6h0m6-11h0m2 10h0m12 1h0m16-4h0m4-1h0m16-3h0m2 0h0m3 18h0m20 14h0m-23-6h0m-43 8h0m-3-4h0m-12-9h0m-7 21h0m-7-3h0m-3 4h0m-11 0h0m-10-6h0m0-5h0m-7-7h0m-8 9h0m-22-2h0m-5-11h0m-4 13h0m-10 0h0m-7-9h0m-4-4h0m-9 14h0m-5 3h0m-1-16h0m-6 12h0m-13-4h0m-35-4h0m-4 2h0m-3 3h0m-2 9h0m-4-13h0m-4 8h0m-13-11h0m-8-1h0m-5 4h0m-8-3h0m-4 16h0m-12-7h0m-2-2h0m-22 3h0m58 20h0m14 0h0m5-3h0m19 10h0m23 3h0m2-13h0m84 9h0m12 6h0m7-1h0m2-11h0m1 12h0m1 2h0m9-6h0m5-4h0m23-8h0m8 0h0m3 12h0m1-11h0m2-3h0m5 7h0m19-3h0m2 7h0m20-14h0m18 4h0m5 11h0m-15 20h0m-13-5h0m-6-5h0m-21 4h0m-5 9h0m-20-10h0m-6 14h0m-6 4h0m-28-9h0m-2-1h0m-18-8h0m-11-4h0m-16 4h0m-12 8h0m-9-12h0m-2 3h0m-16 3h0m124 18h0" stroke="#6aa058" stroke-width="4.8" stroke-linecap="round"/>
<path transform="scale(.25)" d="M1528 1875h0m50 17h0m42-11h0m69-6h0m-28 26h0m-15-4h0m-80 22h0m-2-12h0m-51 26h0m70-7h0m50 10h0m52-7h0m20 1h0m66 23h0m-14 0h0m-8 6h0m-74-5h0m-59 1h0m-24-6h0m-38 16h0m-39-21h0m-22 12h0m5 23h0m110 7h0m20-9h0m38-1h0m110 8h0m2 25h0m-39 3h0m-21-9h0m0-3h0m-163-4h0m-70 5h0m-31-8h0m207 37h0m121-10h0m25 20h0m-94 14h0m-22-10h0m-84 7h0" stroke="#ffffff" stroke-width="4.4" stroke-linecap="round"/>
<text x="399.8" y="454.8" font-family='"Liberation Serif", serif' font-size="9.4" text-anchor="middle" fill="#000">Clusters</text>
<rect x="460.7" y="447.6" width="100.6" height="92" fill="#f5f8f5"/>
<rect x="474" y="457.5" width="76.9" height="78.4" fill="none" stroke="#d4d8dc" stroke-width="2.2" stroke-dasharray="1 0.6"/>
<polygon points="476.8,491.2 479.7,483.7 487.3,476.1 493,468.5 500.5,463.7 508.1,466.6 515.7,468.5 525.2,464.7 532.8,461.8 538.5,466.6 544.2,474.2 548,478 553.7,485.5 558.4,493.1 560.3,500.7 555.6,510.2 546.1,513.1 538.5,510.2 530.9,510.2 521.4,508.3 511.9,507.4 502.4,505.5 493,504.5 485.4,500.7 477.8,496.9" fill="#e9cad3"/>
<polygon points="548,478 553.7,485.5 558.4,493.1 560.3,500.7 555.6,510.2 546.1,513.1" fill="#9c8cba"/>
<polygon points="477.8,483.7 500.5,478 504.3,500.7 493,504.5 485.4,500.7 477.8,496.9" fill="#dba2ae"/>
<path transform="scale(.25)" d="M2121 1865h0m-5 6h0m-5-7h0m-67 5h0m-5 1h0m-4-3h0m-9-2h0m-7 1h0m-13-1h0m-2-5h0m-6 3h0m-35 27h0m5-2h0m17-11h0m1-1h0m4 8h0m6-11h0m1-1h0m3 15h0m11-5h0m6-5h0m18 18h0m10-9h0m3 4h0m6-8h0m6-2h0m1 4h0m22 9h0m4-21h0m4 1h0m2 0h0m9 10h0m0-2h0m4 14h0m5-4h0m4-18h0m1 0h0m14 4h0m6 0h0m9-5h0m4 7h0m1-4h0m4 8h0m1 10h0m3-15h0m7 9h0m1 2h0m20 20h0m-1-2h0m-11-5h0m-4 1h0m-24-4h0m-4 12h0m-15 0h0m0 7h0m-3 1h0m-8-15h0m-5-7h0m0 7h0m-7 8h0m-7-1h0m-5-7h0m-5 4h0m-1 6h0m-3-14h0m-12 7h0m-5-1h0m-4-9h0m-2 0h0m-22 12h0m0 6h0m0-14h0m-4 3h0m-1 2h0m-1 7h0m-7-15h0m-3 0h0m-6 5h0m-5 4h0m-2 7h0m-6 2h0m-17-14h0m-2 2h0m-7-8h0m0 13h0m-1-1h0m-3 4h0m-5-14h0m-1 7h0m-6-6h0m-3 16h0m-2-4h0m-3 5h0m-20 24h0m4-3h0m4-5h0m0-11h0m19 15h0m3-15h0m18 17h0m5-13h0m1 14h0m1-3h0m3-3h0m1 7h0m2-6h0m0 4h0m7-5h0m4 10h0m1-22h0m2 0h0m6 21h0m1-15h0m5 7h0m9-3h0m1-1h0m1-7h0m4 12h0m6-7h0m1-5h0m7 15h0m20-15h0m0 16h0m7-7h0m2-9h0m4 4h0m6 13h0m1-14h0m2 14h0m2-4h0m1-12h0m13 2h0m1 8h0m6 1h0m1 4h0m9-8h0m2 10h0m1 1h0m1-14h0m1-1h0m3 16h0m1-16h0m8 0h0m2 9h0m4 1h0m5-3h0m4 8h0m12-6h0m2 0h0m6-7h0m7 5h0m1-1h0m-1 24h0m-3-3h0m-1 3h0m-5-3h0m-1 7h0m-15-16h0m0 13h0m-1-13h0m-2 8h0m-4-1h0m-12 8h0m-2 4h0m-10 2h0m-4-16h0m-6-5h0m-5 3h0m-2 12h0m-12-15h0m-1 3h0m-11 5h0m-2 13h0m-13-8h0m-3-7h0m-5 7h0m-1-8h0m-6 2h0m-8-6h0m-2 8h0m0 9h0m-1-1h0m-3-13h0m-22 0h0m-15 12h0m-11-6h0m-3 5h0m-2-14h0m-1 19h0m-8-2h0m-2-10h0m-1-4h0m-7 15h0m-26-14h0m-3 0h0m0 4h0m-2 12h0m-6-12h0m-4 8h0m-1-7h0m-1 0h0m-1 4h0m-9 8h0m3 17h0m14-7h0m3 8h0m5-12h0m5-1h0m3 18h0m0-15h0m13-7h0m14 4h0m8 0h0m4 9h0m2-2h0m1 9h0m0-11h0m1 6h0m1-13h0m7 14h0m7 6h0m3-1h0m1-16h0m2 3h0m1 14h0m1-5h0m1 1h0m9-2h0m4 7h0m4-18h0m2-4h0m1 3h0m6 2h0m4 2h0m1 6h0m16-10h0m22-1h0m5 13h0m6 4h0m2-14h0m1 16h0m7-17h0m0-1h0m2 0h0m20-3h0m5 4h0m5 18h0m6-6h0m0-14h0m0 5h0m4-2h0m5-5h0m13 15h0m14 0h0m3 14h0m-2-3h0m-1 3h0m-15 5h0m-1 3h0m-1 6h0m-1-18h0m-1 12h0m-5-8h0m-3-3h0m-7 10h0m0-8h0m-2 9h0m-1 7h0m-7-9h0m-8-4h0m-7 10h0m-13 5h0m-15-6h0m-2-17h0m-5 9h0m-1 3h0m-1 5h0m-5 1h0m-9-8h0m-5-3h0m-4-7h0m-6 14h0m-13-1h0m-1 2h0m-2-15h0m-1 8h0m-12-3h0m-3 3h0m0 12h0m-9-17h0m-9 5h0m0 3h0m-3-3h0m-13 9h0m-2-5h0m-4-6h0m-7 9h0m-6-2h0m-1 1h0m-3-12h0m-1-2h0m-15 0h0m19 24h0m25 0h0m28 4h0m6 1h0m20-2h0m8 6h0m8 5h0m2-4h0m15 0h0m3 7h0m15 2h0m6-12h0m13 7h0m2-7h0m1 6h0m4 10h0m4-2h0m4-8h0m5 0h0m7-4h0m15-7h0m8 18h0m7-9h0m0-5h0m0 9h0m9-5h0m-42 15h0" stroke="#c84858" stroke-width="4.4" stroke-linecap="round"/>
<path transform="scale(.25)" d="M2103 1884h0m4 2h0m12-12h0m61 41h0m-23-9h0m-69 11h0m-21 2h0m-5-7h0m-25 6h0m-41-1h0m-31 17h0m144-2h0m76 20h0m-113-2h0m-117 15h0m-6-11h0m-29 13h0m51 18h0m64-3h0m61 1h0m102-1h0m4-2h0m-10 27h0m-29-3h0m-136 6h0m-11 2h0m-43 5h0m81 1h0m26 1h0m34 15h0" stroke="#ffffff" stroke-width="4.8" stroke-linecap="round"/>
<text x="513.8" y="454.8" font-family='"Liberation Serif", serif' font-size="9.2" text-anchor="middle" fill="#000">FOXA1</text>
<rect x="563.6" y="447.3" width="100.4" height="92.2" fill="#f5f8f5"/>
<rect x="577.3" y="457.3" width="76.6" height="77.6" fill="none" stroke="#d4d8dc" stroke-width="2.2" stroke-dasharray="1 0.6"/>
<polygon points="580.1,491.1 583.7,483.8 591,478.3 594.7,467.4 600.1,463.7 607.4,463.7 614.7,465.5 622,467.4 629.3,463.7 634.8,461 640.3,465.5 645.8,471 651.2,478.3 656.7,485.6 662.2,494.7 663.1,502 658.5,507.5 651.2,511.2 642.1,509.3 633,509.3 623.9,507.5 614.7,509.3 605.6,505.7 596.5,504.8 587.4,503 581,498.4" fill="#e6c6d2"/>
<polygon points="651.2,478.3 656.7,485.6 662.2,494.7 663.1,502 658.5,507.5 651.2,511.2" fill="#a67ca8"/>
<path transform="scale(.25)" d="M2552 1862h0m-12 2h0m-12-1h0m-150 13h0m5 14h0m8-5h0m20-11h0m26 8h0m60-8h0m58-2h0m22 11h0m19 20h0m-67 15h0m-16-2h0m-1-18h0m-91-2h0m-23 1h0m-34 26h0m8-3h0m64 6h0m2-4h0m13 3h0m18-1h0m0 9h0m46 9h0m117 22h0m-50-1h0m0 3h0m-2-6h0m-3-1h0m-84 3h0m-3-13h0m-50-2h0m-55 20h0m-17-16h0m-34 37h0m16-17h0m40 3h0m7 6h0m25 3h0m73 3h0m93-1h0m48 2h0m-11 14h0m-26-2h0m-15-2h0m-7 14h0m-30 0h0m-39 4h0m-5-2h0m-49-4h0m-55 1h0m27 9h0m43 5h0m47-2h0m14 5h0m14-11h0m2 17h0m74-10h0m3 12h0" stroke="#fbf4f6" stroke-width="6.4" stroke-linecap="round"/>
<path transform="scale(.25)" d="M2538 1852h0m-132 36h0m12-7h0m92 14h0m3-7h0m13-15h0m59 36h0m-34-5h0m-41-5h0m-36 0h0m-83-3h0m-33 29h0m33 11h0m65 0h0m5-4h0m161 34h0m-119-3h0m11 20h0m83 5h0m31 3h0m12 4h0m-37 17h0m-91-20h0m6 31h0m22 10h0" stroke="#c85060" stroke-width="4.4" stroke-linecap="round"/>
<text x="618" y="455.5" font-family='"Liberation Serif", serif' font-size="9.6" text-anchor="middle" fill="#000">SLC7A11</text>
<rect x="505.5" y="540.6" width="8" height="1.1" fill="#e05a3a"/>
<rect x="601.5" y="540.6" width="8" height="1.1" fill="#e05a3a"/>
<rect x="161.5" y="541.5" width="7" height="1.1" fill="#e05a3a"/>
<rect x="265" y="541.5" width="7" height="1.1" fill="#e05a3a"/>
<rect x="236" y="540.8" width="6" height="0.9" fill="#d87878" opacity="0.7"/>
<rect x="300" y="540.8" width="6" height="0.9" fill="#d87878" opacity="0.7"/>
<rect x="48" y="549" width="6" height="0.9" fill="#d87878" opacity="0.7"/>
<rect x="100" y="549" width="6" height="0.9" fill="#d87878" opacity="0.7"/>
<rect x="205" y="541" width="6" height="0.9" fill="#d87878" opacity="0.7"/>
<rect x="310" y="541" width="6" height="0.9" fill="#d87878" opacity="0.7"/>
<rect x="453.2" y="447.5" width="1.2" height="8" fill="#c0a0d0" opacity="0.8"/>
<rect x="106" y="450.5" width="5" height="1" fill="#d07070" opacity="0.8"/>
<text x="24.1" y="588.8" font-family='"Liberation Serif", serif' font-size="14" fill="#000">N</text>
<text x="210.6" y="582" font-family='"Liberation Serif", serif' font-size="16.8" text-anchor="middle" fill="#000">PC-3</text>
<line x1="98.8" y1="587.4" x2="322.3" y2="587.4" stroke="#333" stroke-width="0.8"/>
<text x="489.2" y="582" font-family='"Liberation Serif", serif' font-size="16.4" text-anchor="middle" fill="#000">DU145</text>
<line x1="376" y1="587.7" x2="599.8" y2="587.7" stroke="#333" stroke-width="0.8"/>
<text x="94.6" y="668" font-family='"Liberation Serif", serif' font-size="10.9" fill="#000" transform="rotate(-41 94.6 668)">+iBET-151 (300 µM)</text>
<text x="134.4" y="668" font-family='"Liberation Serif", serif' font-size="10.9" fill="#000" transform="rotate(-41 134.4 668)">+iBET-151 (150 µM)</text>
<text x="178.1" y="668" font-family='"Liberation Serif", serif' font-size="10.9" fill="#000" transform="rotate(-41 178.1 668)">+DMSO</text>
<text x="225.3" y="671.8" font-family='"Liberation Serif", serif' font-size="10.9" fill="#000" transform="rotate(-41 225.3 671.8)">+JQ-1 (1 µM)</text>
<text x="265.7" y="671.8" font-family='"Liberation Serif", serif' font-size="10.9" fill="#000" transform="rotate(-41 265.7 671.8)">+JQ1-1 (0.5 µM)</text>
<text x="311" y="671.8" font-family='"Liberation Serif", serif' font-size="10.9" fill="#000" transform="rotate(-41 311 671.8)">+DMSO</text>
<text x="361.4" y="664.2" font-family='"Liberation Serif", serif' font-size="10.9" fill="#000" transform="rotate(-41 361.4 664.2)">+iBET-151 (130 µM)</text>
<text x="404.3" y="664.2" font-family='"Liberation Serif", serif' font-size="10.9" fill="#000" transform="rotate(-41 404.3 664.2)">+iBET-151 (65 µM)</text>
<text x="444.5" y="664.2" font-family='"Liberation Serif", serif' font-size="10.9" fill="#000" transform="rotate(-41 444.5 664.2)">+DMSO</text>
<text x="487.3" y="661.7" font-family='"Liberation Serif", serif' font-size="10.9" fill="#000" transform="rotate(-41 487.3 661.7)">+JQ1(0.4 µM)</text>
<text x="531.6" y="661.7" font-family='"Liberation Serif", serif' font-size="10.9" fill="#000" transform="rotate(-41 531.6 661.7)">+JQ1(0.8 µM)</text>
<text x="575.4" y="661.7" font-family='"Liberation Serif", serif' font-size="10.9" fill="#000" transform="rotate(-41 575.4 661.7)">+DMSO</text>
<defs><filter id="bl" x="-20%" y="-100%" width="140%" height="300%"><feGaussianBlur stdDeviation="0.6"/></filter><filter id="bl2" x="-20%" y="-100%" width="140%" height="300%"><feGaussianBlur stdDeviation="1.3"/></filter></defs>
<rect x="75.7" y="672.1" width="117.7" height="24.2" fill="#fafafa"/>
<rect x="79.1" y="681.6" width="31.9" height="3.4" rx="6.4" ry="1.7" fill="#111" filter="url(#bl)" opacity="1"/>
<rect x="122.5" y="679" width="28" height="3.9" rx="5.6" ry="1.9" fill="#111" filter="url(#bl)" opacity="1" transform="rotate(-4 136.5 681)"/>
<rect x="163.2" y="675.4" width="25.6" height="5.2" rx="5.1" ry="2.6" fill="#111" filter="url(#bl)" opacity="1" transform="rotate(-5 176 678)"/>
<rect x="75.7" y="672.1" width="117.7" height="24.2" fill="none" stroke="#1a1a1a" stroke-width="1.3"/>
<rect x="75.7" y="703.1" width="117.7" height="23.4" fill="#f0f0f0"/>
<rect x="80" y="712.5" width="39" height="10" rx="7.8" ry="5" fill="#888" filter="url(#bl2)" opacity="0.5"/>
<rect x="123" y="713" width="33" height="9" rx="6.6" ry="4.5" fill="#888" filter="url(#bl2)" opacity="0.5"/>
<rect x="163" y="709.8" width="29" height="9" rx="5.8" ry="4.5" fill="#888" filter="url(#bl2)" opacity="0.5"/>
<rect x="82" y="713.6" width="35.2" height="7.4" rx="7" ry="3.7" fill="#111" filter="url(#bl)" opacity="1"/>
<rect x="125" y="714.3" width="29" height="6.4" rx="5.8" ry="3.2" fill="#111" filter="url(#bl)" opacity="1"/>
<rect x="164.5" y="711" width="27" height="6.6" rx="5.4" ry="3.3" fill="#111" filter="url(#bl)" opacity="1" transform="rotate(-4 178 714.3)"/>
<rect x="82" y="722.2" width="35" height="2.5" rx="7" ry="1.2" fill="#888" filter="url(#bl2)" opacity="0.6"/>
<rect x="164.5" y="722.8" width="26.5" height="1.5" rx="5.3" ry="0.8" fill="#aaa" filter="url(#bl2)" opacity="0.6"/>
<rect x="75.7" y="703.1" width="117.7" height="23.4" fill="none" stroke="#1a1a1a" stroke-width="1.3"/>
<rect x="210.2" y="673" width="117.5" height="24.3" fill="#fafafa"/>
<rect x="213.9" y="681.7" width="28.6" height="3.8" rx="5.7" ry="1.9" fill="#111" filter="url(#bl)" opacity="1"/>
<rect x="254.8" y="679.8" width="26.2" height="4.8" rx="5.2" ry="2.4" fill="#111" filter="url(#bl)" opacity="1"/>
<rect x="292" y="678.7" width="26" height="5" rx="5.2" ry="2.5" fill="#111" filter="url(#bl)" opacity="1" transform="rotate(-2 305 681.2)"/>
<rect x="210.2" y="673" width="117.5" height="24.3" fill="none" stroke="#1a1a1a" stroke-width="1.3"/>
<rect x="210.2" y="703.2" width="117.5" height="24.4" fill="#f0f0f0"/>
<rect x="215" y="715.6" width="34" height="9.5" rx="6.8" ry="4.8" fill="#888" filter="url(#bl2)" opacity="0.5"/>
<rect x="257" y="715.8" width="29" height="8.5" rx="5.8" ry="4.2" fill="#888" filter="url(#bl2)" opacity="0.5"/>
<rect x="295" y="712.5" width="29" height="8.5" rx="5.8" ry="4.2" fill="#888" filter="url(#bl2)" opacity="0.5"/>
<rect x="216.5" y="716.9" width="31" height="7" rx="6.2" ry="3.5" fill="#111" filter="url(#bl)" opacity="1"/>
<rect x="258.2" y="717" width="26.6" height="6" rx="5.3" ry="3" fill="#111" filter="url(#bl)" opacity="1"/>
<rect x="296" y="713.7" width="26.6" height="6" rx="5.3" ry="3" fill="#111" filter="url(#bl)" opacity="1" transform="rotate(-3 309.3 716.7)"/>
<rect x="225" y="709" width="21" height="6" rx="4.2" ry="3" fill="#ccc" filter="url(#bl2)" opacity="0.5"/>
<rect x="210.2" y="703.2" width="117.5" height="24.4" fill="none" stroke="#1a1a1a" stroke-width="1.3"/>
<rect x="343.6" y="668.3" width="122.2" height="25.9" fill="#fafafa"/>
<rect x="351" y="680.4" width="28" height="2.4" rx="5.6" ry="1.2" fill="#444" filter="url(#bl)" opacity="1"/>
<rect x="394.3" y="679.8" width="25.7" height="3.6" rx="5.1" ry="1.8" fill="#111" filter="url(#bl)" opacity="1"/>
<rect x="432.5" y="679.8" width="23.5" height="5.6" rx="4.7" ry="2.8" fill="#111" filter="url(#bl)" opacity="1"/>
<rect x="343.6" y="668.3" width="122.2" height="25.9" fill="none" stroke="#1a1a1a" stroke-width="1.3"/>
<rect x="344.2" y="700.4" width="123.6" height="24.1" fill="#f4f4f4"/>
<rect x="351.5" y="706.5" width="34.5" height="8" rx="6.9" ry="4" fill="#111" filter="url(#bl)" opacity="1"/>
<rect x="393.5" y="706.5" width="31" height="8" rx="6.2" ry="4" fill="#111" filter="url(#bl)" opacity="1"/>
<rect x="431.5" y="709.5" width="30" height="9" rx="6" ry="4.5" fill="#111" filter="url(#bl)" opacity="1"/>
<rect x="351.5" y="718.8" width="33.5" height="6.5" rx="6.7" ry="3.2" fill="#111" filter="url(#bl)" opacity="1"/>
<rect x="395" y="720.2" width="29" height="5.5" rx="5.8" ry="2.8" fill="#111" filter="url(#bl)" opacity="1"/>
<rect x="344.2" y="700.4" width="123.6" height="24.1" fill="none" stroke="#1a1a1a" stroke-width="1.3"/>
<rect x="475.6" y="667.7" width="116.1" height="26.5" fill="#fafafa"/>
<rect x="483" y="683.6" width="25.5" height="4.8" rx="5.1" ry="2.4" fill="#111" filter="url(#bl)" opacity="1"/>
<rect x="518.1" y="683.1" width="26.9" height="3.8" rx="5.4" ry="1.9" fill="#111" filter="url(#bl)" opacity="1"/>
<rect x="556" y="680.6" width="28" height="5.2" rx="5.6" ry="2.6" fill="#111" filter="url(#bl)" opacity="1" transform="rotate(-2 570 683.2)"/>
<rect x="475.6" y="667.7" width="116.1" height="26.5" fill="none" stroke="#1a1a1a" stroke-width="1.3"/>
<rect x="475.6" y="699" width="116.1" height="27.1" fill="#f4f4f4"/>
<rect x="485.4" y="707.5" width="25.6" height="5.5" rx="5.1" ry="2.8" fill="#111" filter="url(#bl)" opacity="1"/>
<rect x="521" y="704.8" width="28.5" height="7.5" rx="5.7" ry="3.8" fill="#111" filter="url(#bl)" opacity="1"/>
<rect x="558" y="703.9" width="30" height="6.5" rx="6" ry="3.2" fill="#111" filter="url(#bl)" opacity="1"/>
<rect x="485" y="719.5" width="26" height="2" rx="5.2" ry="1" fill="#bbb" filter="url(#bl2)" opacity="0.7"/>
<rect x="523" y="718.8" width="26" height="2.5" rx="5.2" ry="1.2" fill="#999" filter="url(#bl2)" opacity="0.7"/>
<rect x="559" y="718.5" width="29" height="2" rx="5.8" ry="1" fill="#bbb" filter="url(#bl2)" opacity="0.7"/>
<rect x="475.6" y="699" width="116.1" height="27.1" fill="none" stroke="#1a1a1a" stroke-width="1.3"/>
<text x="70.6" y="695" font-family='"Liberation Serif", serif' font-size="12.4" text-anchor="end" fill="#000">FOXA1</text>
<text x="73.2" y="724.6" font-family='"Liberation Serif", serif' font-size="12.2" text-anchor="end" fill="#000">GAPDH</text></svg>
</body></html>
